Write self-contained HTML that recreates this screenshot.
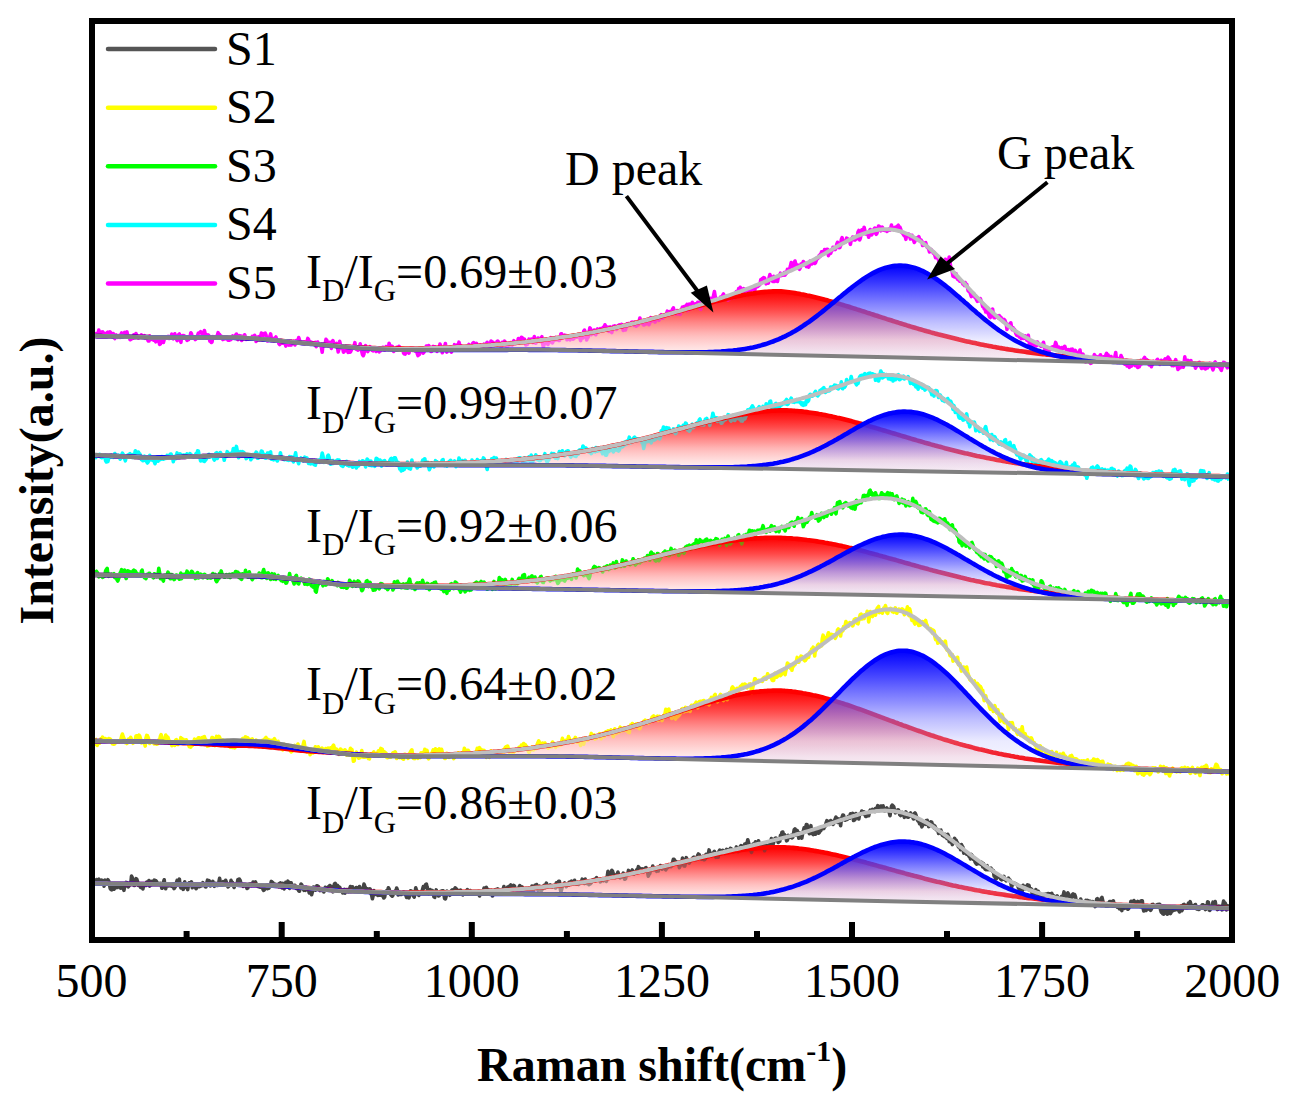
<!DOCTYPE html>
<html><head><meta charset="utf-8"><style>
html,body{margin:0;padding:0;background:#fff;width:1292px;height:1107px;overflow:hidden}
svg{position:absolute;left:0;top:0}
text{font-family:"Liberation Serif",serif;font-size:48px;fill:#000}
.sub{font-size:31px}
.b{font-weight:bold}
</style></head><body>
<svg width="1292" height="1107" viewBox="0 0 1292 1107">
<defs><linearGradient id="gr" x1="0" y1="0" x2="0" y2="1"><stop offset="0.000" stop-color="rgb(255,0,0)" stop-opacity="1.000"/><stop offset="0.062" stop-color="rgb(255,11,11)" stop-opacity="0.975"/><stop offset="0.125" stop-color="rgb(255,23,23)" stop-opacity="0.950"/><stop offset="0.188" stop-color="rgb(255,37,37)" stop-opacity="0.925"/><stop offset="0.250" stop-color="rgb(255,52,52)" stop-opacity="0.900"/><stop offset="0.312" stop-color="rgb(255,71,71)" stop-opacity="0.875"/><stop offset="0.375" stop-color="rgb(255,93,93)" stop-opacity="0.850"/><stop offset="0.438" stop-color="rgb(255,114,114)" stop-opacity="0.825"/><stop offset="0.500" stop-color="rgb(255,134,134)" stop-opacity="0.800"/><stop offset="0.562" stop-color="rgb(255,156,156)" stop-opacity="0.775"/><stop offset="0.625" stop-color="rgb(255,175,175)" stop-opacity="0.750"/><stop offset="0.688" stop-color="rgb(255,191,191)" stop-opacity="0.725"/><stop offset="0.750" stop-color="rgb(255,207,207)" stop-opacity="0.700"/><stop offset="0.812" stop-color="rgb(255,223,223)" stop-opacity="0.675"/><stop offset="0.875" stop-color="rgb(255,231,231)" stop-opacity="0.650"/><stop offset="0.938" stop-color="rgb(255,240,240)" stop-opacity="0.625"/><stop offset="1.000" stop-color="rgb(255,250,250)" stop-opacity="0.600"/></linearGradient><linearGradient id="gb" x1="0" y1="0" x2="0" y2="1"><stop offset="0.000" stop-color="rgb(0,0,255)" stop-opacity="1.000"/><stop offset="0.062" stop-color="rgb(14,14,255)" stop-opacity="0.973"/><stop offset="0.125" stop-color="rgb(26,26,255)" stop-opacity="0.933"/><stop offset="0.188" stop-color="rgb(38,38,255)" stop-opacity="0.887"/><stop offset="0.250" stop-color="rgb(50,50,255)" stop-opacity="0.835"/><stop offset="0.312" stop-color="rgb(63,63,255)" stop-opacity="0.780"/><stop offset="0.375" stop-color="rgb(77,77,255)" stop-opacity="0.721"/><stop offset="0.438" stop-color="rgb(91,91,255)" stop-opacity="0.659"/><stop offset="0.500" stop-color="rgb(109,109,255)" stop-opacity="0.594"/><stop offset="0.562" stop-color="rgb(128,128,255)" stop-opacity="0.527"/><stop offset="0.625" stop-color="rgb(143,143,255)" stop-opacity="0.457"/><stop offset="0.688" stop-color="rgb(163,163,255)" stop-opacity="0.386"/><stop offset="0.750" stop-color="rgb(191,191,255)" stop-opacity="0.312"/><stop offset="0.812" stop-color="rgb(188,188,255)" stop-opacity="0.237"/><stop offset="0.875" stop-color="rgb(183,183,255)" stop-opacity="0.159"/><stop offset="0.938" stop-color="rgb(165,165,255)" stop-opacity="0.080"/><stop offset="1.000" stop-color="rgb(255,255,255)" stop-opacity="0.000"/></linearGradient><linearGradient id="gro" x1="0" y1="0" x2="0" y2="1"><stop offset="0.000" stop-color="rgb(255,0,0)" stop-opacity="1.000"/><stop offset="0.062" stop-color="rgb(255,17,17)" stop-opacity="1.000"/><stop offset="0.125" stop-color="rgb(255,34,34)" stop-opacity="1.000"/><stop offset="0.188" stop-color="rgb(255,53,53)" stop-opacity="1.000"/><stop offset="0.250" stop-color="rgb(255,72,72)" stop-opacity="1.000"/><stop offset="0.312" stop-color="rgb(255,94,94)" stop-opacity="1.000"/><stop offset="0.375" stop-color="rgb(255,117,117)" stop-opacity="1.000"/><stop offset="0.438" stop-color="rgb(255,139,139)" stop-opacity="1.000"/><stop offset="0.500" stop-color="rgb(255,158,158)" stop-opacity="1.000"/><stop offset="0.562" stop-color="rgb(255,178,178)" stop-opacity="1.000"/><stop offset="0.625" stop-color="rgb(255,195,195)" stop-opacity="1.000"/><stop offset="0.688" stop-color="rgb(255,208,208)" stop-opacity="1.000"/><stop offset="0.750" stop-color="rgb(255,222,222)" stop-opacity="1.000"/><stop offset="0.812" stop-color="rgb(255,233,233)" stop-opacity="1.000"/><stop offset="0.875" stop-color="rgb(255,240,240)" stop-opacity="1.000"/><stop offset="0.938" stop-color="rgb(255,246,246)" stop-opacity="1.000"/><stop offset="1.000" stop-color="rgb(255,252,252)" stop-opacity="1.000"/></linearGradient>
<clipPath id="pc"><rect x="95" y="24" width="1134" height="913"/></clipPath></defs>
<g clip-path="url(#pc)">
<path d="M95,336l2 0.1 2 0 2 0 2 0.1 2 0 2 0 2 0.1 2 0 2 0.1 2 0 2 0.1 2 0 2 0.1 2 0 2 0.1 2 0 2 0.1 2 0 2 0 2 0.1 2 0 2 0.1 2 0 2 0 2 0.1 2 0 2 0 2 0.1 2 0 2 0 2 0.1 2 0 2 0 2 0 2 0 2 0 2 0 2 0 2 0.1 2 0 2 0 2 0 2 0 2 0 2 0 2 0 2 0 2 0 2 0 2 0 2 0 2 0 2 0 2 0 2 0 2 0 2 0 2 0 2 0 2 0.1 2 0 2 0 2 0 2 0 2 0.1 2 0 2 0.1 2 0 2 0.1 2 0 2 0.1 2 0.1 2 0 2 0.1 2 0.1 2 0.1 2 0.1 2 0.1 2 0.2 2 0.1 2 0.1 2 0.2 2 0.1 2 0.2 2 0.1 2 0.2 2 0.1 2 0.2 2 0.2 2 0.2 2 0.1 2 0.2 2 0.2 2 0.2 2 0.2 2 0.2 2 0.2 2 0.1 2 0.2 2 0.2 2 0.2 2 0.2 2 0.2 2 0.2 2 0.1 2 0.2 2 0.2 2 0.2 2 0.1 2 0.2 2 0.2 2 0.2 2 0.1 2 0.2 2 0.2 2 0.1 2 0.2 2 0.2 2 0.1 2 0.2 2 0.2 2 0.1 2 0.2 2 0.1 2 0.2 2 0.1 2 0.1 2 0.2 2 0.1 2 0.1 2 0.1 2 0.2 2 0.1 2 0.1 2 0.1 2 0.1 2 0.1 2 0.1 2 0 2 0.1 2 0.1 2 0 2 0.1 2 0.1 2 0 2 0 2 0.1 2 0 2 0 2 0.1 2 0 2 0 2 0 2 0 2 0 2 0 2 0 2 -0.1 2 0 2 0 2 0 2 -0.1 2 0 2 -0.1 2 0 2 -0.1 2 0 2 -0.1 2 -0.1 2 0 2 -0.1 2 -0.1 2 0 2 -0.1 2 -0.1 2 -0.1 2 0 2 -0.1 2 -0.1 2 -0.1 2 -0.1 2 -0.1 2 -0.1 2 -0.1 2 -0.1 2 -0.1 2 -0.1 2 -0.1 2 -0.1 2 -0.2 2 -0.1 2 -0.1 2 -0.1 2 -0.2 2 -0.1 2 -0.1 2 -0.2 2 -0.1 2 -0.2 2 -0.1 2 -0.2 2 -0.2 2 -0.1 2 -0.2 2 -0.2 2 -0.1 2 -0.2 2 -0.2 2 -0.2 2 -0.2 2 -0.2 2 -0.2 2 -0.2 2 -0.2 2 -0.2 2 -0.2 2 -0.3 2 -0.2 2 -0.2 2 -0.3 2 -0.2 2 -0.2 2 -0.3 2 -0.2 2 -0.3 2 -0.3 2 -0.2 2 -0.3 2 -0.3 2 -0.2 2 -0.3 2 -0.3 2 -0.3 2 -0.3 2 -0.3 2 -0.3 2 -0.3 2 -0.3 2 -0.3 2 -0.3 2 -0.3 2 -0.4 2 -0.3 2 -0.3 2 -0.4 2 -0.3 2 -0.4 2 -0.4 2 -0.3 2 -0.4 2 -0.4 2 -0.4 2 -0.4 2 -0.4 2 -0.4 2 -0.4 2 -0.4 2 -0.4 2 -0.4 2 -0.5 2 -0.4 2 -0.5 2 -0.4 2 -0.5 2 -0.4 2 -0.5 2 -0.5 2 -0.5 2 -0.4 2 -0.5 2 -0.5 2 -0.5 2 -0.5 2 -0.5 2 -0.5 2 -0.6 2 -0.5 2 -0.5 2 -0.5 2 -0.6 2 -0.5 2 -0.5 2 -0.6 2 -0.5 2 -0.6 2 -0.5 2 -0.6 2 -0.5 2 -0.6 2 -0.6 2 -0.5 2 -0.6 2 -0.5 2 -0.6 2 -0.6 2 -0.5 2 -0.6 2 -0.5 2 -0.6 2 -0.5 2 -0.6 2 -0.5 2 -0.6 2 -0.5 2 -0.6 2 -0.5 2 -0.6 2 -0.5 2 -0.5 2 -0.5 2 -0.5 2 -0.5 2 -0.5 2 -0.5 2 -0.5 2 -0.5 2 -0.4 2 -0.5 2 -0.4 2 -0.5 2 -0.4 2 -0.4 2 -0.4 2 -0.4 2 -0.4 2 -0.3 2 -0.4 2 -0.3 2 -0.3 2 -0.3 2 -0.3 2 -0.3 2 -0.2 2 -0.2 2 -0.2 2 -0.2 2 -0.1 2 -0.1 2 -0.1 2 -0.1 2 0 2 0 2 0.1 2 0.2 2 0.2 2 0.2 2 0.2 2 0.3 2 0.3 2 0.3 2 0.3 2 0.4 2 0.4 2 0.3 2 0.4 2 0.5 2 0.4 2 0.4 2 0.5 2 0.5 2 0.5 2 0.5 2 0.5 2 0.5 2 0.6 2 0.5 2 0.6 2 0.5 2 0.6 2 0.6 2 0.6 2 0.6 2 0.6 2 0.6 2 0.6 2 0.6 2 0.6 2 0.7 2 0.6 2 0.6 2 0.7 2 0.6 2 0.6 2 0.7 2 0.6 2 0.7 2 0.6 2 0.7 2 0.6 2 0.7 2 0.6 2 0.7 2 0.6 2 0.7 2 0.6 2 0.7 2 0.6 2 0.6 2 0.7 2 0.6 2 0.6 2 0.7 2 0.6 2 0.6 2 0.6 2 0.7 2 0.6 2 0.6 2 0.6 2 0.6 2 0.6 2 0.6 2 0.5 2 0.6 2 0.6 2 0.6 2 0.5 2 0.6 2 0.5 2 0.6 2 0.5 2 0.6 2 0.5 2 0.5 2 0.5 2 0.5 2 0.5 2 0.5 2 0.5 2 0.5 2 0.5 2 0.5 2 0.4 2 0.5 2 0.5 2 0.4 2 0.4 2 0.5 2 0.4 2 0.4 2 0.5 2 0.4 2 0.4 2 0.4 2 0.4 2 0.4 2 0.3 2 0.4 2 0.4 2 0.3 2 0.4 2 0.4 2 0.3 2 0.3 2 0.4 2 0.3 2 0.3 2 0.3 2 0.4 2 0.3 2 0.3 2 0.3 2 0.2 2 0.3 2 0.3 2 0.3 2 0.3 2 0.2 2 0.3 2 0.2 2 0.3 2 0.2 2 0.3 2 0.2 2 0.2 2 0.3 2 0.2 2 0.2 2 0.2 2 0.2 2 0.3 2 0.2 2 0.2 2 0.1 2 0.2 2 0.2 2 0.2 2 0.2 2 0.2 2 0.1 2 0.2 2 0.2 2 0.1 2 0.2 2 0.2 2 0.1 2 0.2 2 0.1 2 0.2 2 0.1 2 0.1 2 0.2 2 0.1 2 0.2 2 0.1 2 0.1 2 0.1 2 0.2 2 0.1 2 0.1 2 0.1 2 0.1 2 0.1 2 0.1 2 0.2 2 0.1 2 0.1 2 0.1 2 0.1 2 0.1 2 0.1 2 0.1 2 0.1 2 0.1 2 0 2 0.1 2 0.1 2 0.1 2 0.1 2 0.1 2 0.1 2 0 2 0.1 2 0.1 2 0.1 2 0.1 2 0 2 0.1 2 0.1 2 0.1 2 0 2 0.1 2 0.1 2 0 2 0.1 2 0.1 2 0 2 0.1 2 0.1 2 0 2 0.1 2 0.1 2 0 2 0.1 2 0.1 2 0 2 0.1 2 0 2 0.1 2 0 2 0.1 2 0.1 2 0 2 0.1 2 0 2 0.1 2 0 L1229,364.9 1223,364.8 1217,364.6 1211,364.5 1205,364.4 1199,364.2 1193,364.1 1187,364 1181,363.8 1175,363.7 1169,363.6 1163,363.4 1157,363.3 1151,363.2 1145,363 1139,362.9 1133,362.8 1127,362.6 1121,362.5 1115,362.3 1109,362.2 1103,362.1 1097,361.9 1091,361.8 1085,361.7 1079,361.5 1073,361.4 1067,361.3 1061,361.1 1055,361 1049,360.9 1043,360.7 1037,360.6 1031,360.5 1025,360.3 1019,360.2 1013,360.1 1007,359.9 1001,359.8 995,359.7 989,359.5 983,359.4 977,359.3 971,359.1 965,359 959,358.9 953,358.7 947,358.6 941,358.5 935,358.3 929,358.2 923,358.1 917,357.9 911,357.8 905,357.7 899,357.5 893,357.4 887,357.2 881,357.1 875,357 869,356.8 863,356.7 857,356.6 851,356.4 845,356.3 839,356.2 833,356 827,355.9 821,355.8 815,355.6 809,355.5 803,355.4 797,355.2 791,355.1 785,355 779,354.8 773,354.7 767,354.6 761,354.4 755,354.3 749,354.2 743,354 737,353.9 731,353.8 725,353.6 719,353.5 713,353.4 707,353.2 701,353.1 695,352.9 689,352.8 683,352.7 677,352.5 671,352.4 665,352.3 659,352.1 653,352 647,351.9 641,351.7 635,351.6 629,351.5 623,351.3 617,351.2 611,351.1 605,350.9 599,350.8 593,350.7 587,350.5 581,350.4 575,350.3 569,350.2 563,350.1 557,350 551,350 545,349.9 539,349.9 533,349.9 527,349.8 521,349.8 515,349.8 509,349.8 503,349.9 497,349.9 491,349.9 485,349.9 479,349.9 473,349.9 467,349.9 461,349.9 455,349.9 449,349.9 443,349.9 437,349.9 431,349.9 425,349.9 419,349.9 413,349.8 407,349.8 401,349.7 395,349.5 389,349.3 383,349.1 377,348.9 371,348.6 365,348.2 359,347.8 353,347.4 347,347 341,346.5 335,346 329,345.5 323,344.9 317,344.4 311,343.9 305,343.3 299,342.7 293,342.2 287,341.6 281,341 275,340.5 269,339.9 263,339.4 257,339 251,338.6 245,338.3 239,338 233,337.8 227,337.6 221,337.5 215,337.5 209,337.4 203,337.4 197,337.4 191,337.4 185,337.4 179,337.4 173,337.4 167,337.3 161,337.3 155,337.2 149,337.2 143,337.1 137,336.9 131,336.8 125,336.7 119,336.5 113,336.4 107,336.2 101,336.1 95,336Z" fill="url(#gr)"/>
<path d="M95,334l0.8 -0.3 0.7 1.3 0.8 -0.9 0.7 -0.4 0.8 -3.6 0.8 4.6 0.7 -1.5 0.8 0.3 0.7 -1.4 0.8 -0.2 0.8 2.1 0.7 1 0.8 -1.5 0.7 0.5 0.8 1.4 0.8 -2.7 0.7 -0.6 0.8 3.4 0.7 -1.4 0.8 -2.2 0.8 2.1 0.7 1.1 0.8 -1.4 0.7 -0.2 0.8 3.3 0.8 1.8 0.7 -2.3 0.8 -1.3 0.7 2 0.8 0.4 0.8 -1.7 0.7 1.2 0.8 0.5 0.7 -2.9 0.8 -1.5 0.8 1.9 0.7 0.8 0.8 0.6 0.7 -3.9 0.8 0.2 0.8 -0.1 0.7 -0.7 0.8 3.9 0.7 1.5 0.8 -1.1 0.8 3.6 0.7 -0.1 0.8 -0.8 0.7 -0.3 0.8 -0.2 0.8 -3.5 0.7 2.7 0.8 -0.3 0.7 -3.7 0.8 2.8 0.8 0.4 0.7 1.2 0.8 -1.8 0.7 0.4 0.8 0.1 0.8 -1.7 0.7 1.9 0.8 -0.6 0.7 0.3 0.8 -0.9 0.8 2.7 0.7 -0.3 0.8 -1.2 0.7 1.9 0.8 2.3 0.8 0 0.7 -5.2 0.8 3.3 0.7 0.2 0.8 -1.6 0.8 -0.8 0.7 3.2 0.8 -2.8 0.7 3.2 0.8 1.3 0.8 -4.7 0.7 0.9 0.8 -0.5 0.7 3.4 0.8 3.5 0.8 -0.4 0.7 -7.3 0.8 0.9 0.7 3.3 0.8 1.5 0.8 -2.8 0.7 -2.7 0.8 1.3 0.7 -0.3 0.8 -0.8 0.8 -0.6 0.7 1.9 0.8 0.1 0.7 -1 0.8 -1.2 0.8 -2.1 0.7 1.7 0.8 2.9 0.7 -2.9 0.8 -2.1 0.8 4.5 0.7 0.5 0.8 1.8 0.7 -3.5 0.8 -2.5 0.8 -0.6 0.7 5.9 0.8 2.4 0.7 -6.1 0.8 -0.6 0.8 2 0.7 -1.9 0.8 0.6 0.7 0.6 0.8 1.7 0.8 1.7 0.7 -1.2 0.8 0.6 0.7 -2 0.8 -0.5 0.8 -4.5 0.7 1.1 0.8 4 0.7 -1.3 0.8 1.4 0.8 0.6 0.7 1.1 0.8 -0.9 0.7 -0.7 0.8 -2.7 0.8 -2.1 0.7 -0.5 0.8 0 0.7 -1 0.8 1 0.8 1.4 0.7 0.6 0.8 -1.7 0.7 -2.5 0.8 3.4 0.8 2.3 0.7 2 0.8 -0.9 0.7 -2.4 0.8 1 0.8 5.2 0.7 -0.4 0.8 1.8 0.7 -0.5 0.8 -5.5 0.8 0.7 0.7 0.5 0.8 -0.1 0.7 -0.3 0.8 -0.9 0.8 -1.1 0.7 -2.6 0.8 1.7 0.7 0.2 0.8 1.4 0.8 0.1 0.7 2.4 0.8 1 0.7 -0.5 0.8 0 0.8 -0.3 0.7 -0.7 0.8 0.5 0.7 0.1 0.8 1.6 0.8 0 0.7 -0.1 0.8 -2.8 0.7 2.3 0.8 -2.7 0.8 -0.9 0.7 0.5 0.8 -0.4 0.7 0.9 0.8 -1.7 0.8 -1.2 0.7 1.5 0.8 4.1 0.7 -1.8 0.8 -2.3 0.8 1.2 0.7 -0.8 0.8 4.4 0.7 -4.2 0.8 2.2 0.8 -0.2 0.7 -3.4 0.8 2.7 0.7 1.9 0.8 -0.9 0.8 -0.4 0.7 1 0.8 -1 0.7 -0.1 0.8 -0.4 0.8 0.7 0.7 -1.9 0.8 2.1 0.7 -2.1 0.8 -1.1 0.8 3.2 0.7 3 0.8 -1.6 0.7 -2.8 0.8 1.1 0.8 -1.5 0.7 0.3 0.8 -0.5 0.7 -3.5 0.8 3.4 0.8 -1.1 0.7 -0.4 0.8 -1.5 0.7 -0.3 0.8 1.9 0.8 4.3 0.7 1.7 0.8 -2.4 0.7 0.9 0.8 -2.9 0.8 -2.7 0.7 3.9 0.8 1.6 0.7 -0.9 0.8 1.7 0.8 0.6 0.7 -2.7 0.8 -1.1 0.7 2.5 0.8 0.8 0.8 0.4 0.7 3 0.8 1 0.7 -3.6 0.8 1.3 0.8 0.9 0.7 -0.2 0.8 -0.1 0.7 -2 0.8 2.3 0.8 2.8 0.7 -2.4 0.8 -2.7 0.7 2.4 0.8 1.7 0.8 -1.6 0.7 -1.1 0.8 2.7 0.7 -3.7 0.8 2 0.8 -0.7 0.7 -1.6 0.8 3.8 0.7 -1.5 0.8 -2.8 0.8 2.2 0.7 -2.2 0.8 -3 0.7 2.1 0.8 2.7 0.8 1 0.7 -0.9 0.8 -0.3 0.7 0.3 0.8 -0.6 0.8 1.8 0.7 -1.6 0.8 -0.3 0.7 -0.4 0.8 -3 0.8 1.2 0.7 4.5 0.8 -1.1 0.7 -1 0.8 1.2 0.8 -0.5 0.7 1.2 0.8 -0.7 0.7 0.8 0.8 -1.6 0.8 4.3 0.7 -2.5 0.8 -2.2 0.7 2.4 0.8 0.8 0.8 0.4 0.7 -1.7 0.8 3.9 0.7 4.5 0.8 -8 0.8 0.1 0.7 -0.7 0.8 -0.7 0.7 -3.7 0.8 1 0.8 3.2 0.7 0.5 0.8 1.9 0.7 -3.6 0.8 2 0.8 4.1 0.7 -6.2 0.8 -1.5 0.7 1.9 0.8 1.1 0.8 1.9 0.7 -1.1 0.8 -1.1 0.7 3.2 0.8 5.3 0.8 -3.2 0.7 -7.3 0.8 3.4 0.7 0.8 0.8 2.6 0.8 0.4 0.7 3.6 0.8 -0.8 0.7 -0.8 0.8 -1.3 0.8 -0.4 0.7 1.4 0.8 2.1 0.7 -1.4 0.8 -1.2 0.8 2.3 0.7 -1.6 0.8 -1.6 0.7 -1.7 0.8 -0.3 0.8 -1.4 0.7 -2.8 0.8 6.2 0.7 0.5 0.8 -1.2 0.8 1.9 0.7 -0.5 0.8 -1.5 0.7 -4.3 0.8 4 0.8 3.7 0.7 3.1 0.8 1.1 0.7 -1.9 0.8 -6 0.8 -2.2 0.7 4.6 0.8 0.5 0.7 0.9 0.8 -1.7 0.8 -0.8 0.7 -2.4 0.8 2.8 0.7 -0.4 0.8 1.4 0.8 0.4 0.7 -0.9 0.8 0.4 0.7 -0.2 0.8 1.2 0.8 -0.9 0.7 -2.6 0.8 0.3 0.7 3.7 0.8 -2.2 0.8 1 0.7 -1.1 0.8 -2.1 0.7 -0.2 0.8 2 0.8 1 0.7 -0.2 0.8 -3.5 0.7 0.3 0.8 1.6 0.8 1.2 0.7 -6.4 0.8 2.8 0.7 -0.2 0.8 1.1 0.8 -0.7 0.7 2.3 0.8 2.8 0.7 -1.5 0.8 -0.2 0.8 -0.6 0.7 -1.7 0.8 1.5 0.7 -1.3 0.8 -1.3 0.8 1.3 0.7 0.6 0.8 1.9 0.7 -1 0.8 0 0.8 4.1 0.7 0.6 0.8 0.3 0.7 -1.4 0.8 -1.8 0.8 -0.8 0.7 0.8 0.8 2.2 0.7 -1.9 0.8 -2.9 0.8 1.4 0.7 -1.3 0.8 1.9 0.7 -2 0.8 -0.1 0.8 2.7 0.7 -0.4 0.8 -2.1 0.7 4.9 0.8 2.3 0.8 -5 0.7 3.7 0.8 -3.4 0.7 -0.7 0.8 -0.1 0.8 -1.2 0.7 4.2 0.8 -1.2 0.7 -3.2 0.8 -0.7 0.8 -2 0.7 2.1 0.8 1.6 0.7 -4.2 0.8 1.4 0.8 2.3 0.7 2.2 0.8 0 0.7 -3.9 0.8 -1.1 0.8 1.7 0.7 -1.3 0.8 0.3 0.7 3 0.8 1.3 0.8 -2.8 0.7 -1.2 0.8 0.2 0.7 -3.5 0.8 2.2 0.8 0.6 0.7 5.8 0.8 -1.9 0.7 -2.1 0.8 -2.1 0.8 -3.1 0.7 6.1 0.8 2.5 0.7 -3.4 0.8 1.8 0.8 -0.2 0.7 -3.4 0.8 4 0.7 1.3 0.8 -2.5 0.8 -1.1 0.7 0 0.8 -3.9 0.7 2.3 0.8 1.3 0.8 -3.2 0.7 2.6 0.8 -2.6 0.7 -2.9 0.8 3 0.8 0.2 0.7 1.9 0.8 -1 0.7 3.2 0.8 -1.9 0.8 0.8 0.7 -1.4 0.8 0.5 0.7 2.4 0.8 -1.9 0.8 -2.5 0.7 -1.1 0.8 4.1 0.7 -0.4 0.8 -2.2 0.8 -0.1 0.7 -2.5 0.8 -0.7 0.7 0.7 0.8 2.1 0.8 -0.4 0.7 -1.6 0.8 2.4 0.7 0.6 0.8 -0.6 0.8 1.1 0.7 -1.9 0.8 0.3 0.7 1.3 0.8 -0.3 0.8 0.4 0.7 -2.5 0.8 3.1 0.7 -3 0.8 -0.7 0.8 -1.3 0.7 3.7 0.8 2.1 0.7 -0.3 0.8 -1.9 0.8 -4.8 0.7 0.4 0.8 0.7 0.7 0.1 0.8 3.4 0.8 -1.1 0.7 -0.7 0.8 0.2 0.7 -2.6 0.8 -0.5 0.8 1 0.7 3 0.8 0.8 0.7 0.8 0.8 -0.1 0.8 -4.3 0.7 0.6 0.8 0.9 0.7 -2.5 0.8 1.5 0.8 3.4 0.7 0.8 0.8 -0.7 0.7 -2.4 0.8 -0.6 0.8 1.6 0.7 -2.1 0.8 1.1 0.7 1.3 0.8 -3.2 0.8 -1.2 0.7 1.4 0.8 1.5 0.7 -0.1 0.8 -0.5 0.8 -0.5 0.7 -3.9 0.8 0.7 0.7 1.7 0.8 -2.1 0.8 -1.5 0.7 0.1 0.8 1 0.7 1.3 0.8 -0.6 0.8 3 0.7 2.8 0.8 -2.2 0.7 1.5 0.8 -2.1 0.8 -3 0.7 0.5 0.8 -0.4 0.7 2 0.8 -2.1 0.8 3.5 0.7 -1.8 0.8 -4.4 0.7 4.8 0.8 1.9 0.8 -3.2 0.7 1.3 0.8 -3.3 0.7 2.2 0.8 -1.3 0.8 2.6 0.7 -3.7 0.8 -1.1 0.7 6.7 0.8 3.9 0.8 -4.3 0.7 0.9 0.8 -1.3 0.7 -1 0.8 2 0.8 0.8 0.7 -4.8 0.8 1.6 0.7 -0.9 0.8 -2.6 0.8 4.9 0.7 0.3 0.8 -4.9 0.7 2.7 0.8 -2.6 0.8 -0.7 0.7 2.4 0.8 -1.9 0.7 0.1 0.8 2.4 0.8 0.1 0.7 -2 0.8 -4.8 0.7 0 0.8 4.6 0.8 -2.2 0.7 0.6 0.8 -1.5 0.7 0.7 0.8 -0.3 0.8 4.2 0.7 -3.4 0.8 0.6 0.7 1.2 0.8 1.6 0.8 -3.9 0.7 1.4 0.8 0.6 0.7 1.2 0.8 -0.4 0.8 -1.9 0.7 0.3 0.8 -0.8 0.7 0.8 0.8 -1.2 0.8 -1.2 0.7 1.1 0.8 2.1 0.7 2.7 0.8 -4.3 0.8 0.7 0.7 0.8 0.8 -6.6 0.7 -1.1 0.8 1.7 0.8 3.6 0.7 4.6 0.8 -2.6 0.7 -0.2 0.8 -3.9 0.8 -5.4 0.7 0.6 0.8 6.1 0.7 -1.1 0.8 -2.7 0.8 2.5 0.7 -3.2 0.8 3.9 0.7 0.7 0.8 -4.7 0.8 -1 0.7 2.7 0.8 -2.2 0.7 1.8 0.8 -2.6 0.8 2.4 0.7 -1.1 0.8 -1.9 0.7 -1 0.8 0.8 0.8 -3.1 0.7 2.1 0.8 1 0.7 1.2 0.8 -1.9 0.8 4.2 0.7 -3 0.8 -1.4 0.7 4.8 0.8 0.8 0.8 -4.1 0.7 -2.2 0.8 0.7 0.7 -1.2 0.8 0.8 0.8 2.9 0.7 -2.2 0.8 -1.5 0.7 -0.4 0.8 -0.5 0.8 1.5 0.7 0 0.8 -2 0.7 1.8 0.8 4.3 0.8 -2.9 0.7 -0.9 0.8 3.3 0.7 -3.6 0.8 -2.6 0.8 2.1 0.7 -2.4 0.8 0.1 0.7 1.4 0.8 -1.1 0.8 -1.7 0.7 -0.1 0.8 0.8 0.7 2.4 0.8 -3.1 0.8 0.4 0.7 3.7 0.8 -3.4 0.7 2.3 0.8 -0.5 0.8 -4.1 0.7 -2.6 0.8 3.3 0.7 1.7 0.8 0.6 0.8 -0.9 0.7 2.2 0.8 -0.2 0.7 -3.7 0.8 3 0.8 -2 0.7 -2.3 0.8 1 0.7 4 0.8 -2.1 0.8 -5 0.7 2.6 0.8 0.7 0.7 -0.1 0.8 -1 0.8 -0.9 0.7 3.2 0.8 -2.6 0.7 -0.3 0.8 -0.8 0.8 -0.3 0.7 2.2 0.8 -1.2 0.7 -3 0.8 -1.4 0.8 1.1 0.7 2.4 0.8 -1.3 0.7 -0.9 0.8 -1.4 0.8 -0.3 0.7 -0.4 0.8 -2.7 0.7 4.2 0.8 -3.5 0.8 -0.3 0.7 2.9 0.8 -1.7 0.7 -1.6 0.8 -2 0.8 -1.4 0.7 3.7 0.8 2.1 0.7 -2.3 0.8 2.7 0.8 -3.4 0.7 0.6 0.8 2.7 0.7 0.1 0.8 0.3 0.8 -3 0.7 -2.2 0.8 -2.1 0.7 0.2 0.8 -0.4 0.8 -0.5 0.7 2.1 0.8 -2.5 0.7 -1.5 0.8 6.3 0.8 -5.1 0.7 -1.4 0.8 4.7 0.7 -0.1 0.8 -4.9 0.8 -1.6 0.7 1.8 0.8 3.7 0.7 -2.3 0.8 -1.6 0.8 1.6 0.7 1.3 0.8 -4.4 0.7 0 0.8 0 0.8 6.5 0.7 0.5 0.8 -2.6 0.7 -2.2 0.8 -0.3 0.8 -4.1 0.7 2.7 0.8 -2.3 0.7 -0.7 0.8 1.1 0.8 0.9 0.7 1.5 0.8 -0.3 0.7 -2.2 0.8 -2.6 0.8 1.7 0.7 -0.7 0.8 0.8 0.7 -4.8 0.8 -3.8 0.8 5.1 0.7 5.8 0.8 -2.3 0.7 -1.5 0.8 1.8 0.8 -0.3 0.7 -0.9 0.8 -2 0.7 0.4 0.8 -0.2 0.8 -2.3 0.7 -1.1 0.8 2.4 0.7 1.8 0.8 -0.6 0.8 -0.8 0.7 0.6 0.8 2.8 0.7 -3.6 0.8 0.6 0.8 1.2 0.7 -3.4 0.8 -0.1 0.7 2.1 0.8 1 0.8 -2.5 0.7 -0.8 0.8 -1.4 0.7 -1.8 0.8 3 0.8 -2.7 0.7 -3.3 0.8 1.3 0.7 -2.5 0.8 1 0.8 1.8 0.7 -0.5 0.8 2.3 0.7 -3.2 0.8 2.5 0.8 2.1 0.7 1.8 0.8 -1 0.7 -1.9 0.8 -1 0.8 -0.1 0.7 1.1 0.8 -3 0.7 0.7 0.8 -1 0.8 -0.4 0.7 -0.2 0.8 2.8 0.7 -4.6 0.8 0 0.8 0.1 0.7 0 0.8 -0.8 0.7 -0.6 0.8 -0.9 0.8 -4.7 0.7 0.6 0.8 -1.6 0.7 1.3 0.8 -2.2 0.8 0.2 0.7 2.8 0.8 3.1 0.7 -1 0.8 -0.4 0.8 0.7 0.7 -5.3 0.8 -3.2 0.7 2.3 0.8 1.2 0.8 2.9 0.7 0.4 0.8 -5.2 0.7 5.3 0.8 -0.5 0.8 -2.2 0.7 -0.3 0.8 2.9 0.7 -4 0.8 -2.1 0.8 0 0.7 -2.1 0.8 2.4 0.7 -0.5 0.8 0.2 0.8 -0.8 0.7 -2 0.8 2.6 0.7 -3 0.8 1 0.8 -3.7 0.7 1.4 0.8 -1.8 0.7 0 0.8 -2.7 0.8 -3.7 0.7 1.4 0.8 2.8 0.7 0.4 0.8 -4.4 0.8 -1.8 0.7 2.7 0.8 1.9 0.7 -0.6 0.8 0.3 0.8 3.3 0.7 0.7 0.8 -1.6 0.7 -3.6 0.8 0.5 0.8 -1.2 0.7 -1.9 0.8 3.3 0.7 -0.9 0.8 -0.6 0.8 3.3 0.7 -0.2 0.8 0.2 0.7 0.6 0.8 -1.9 0.8 -4.2 0.7 1.1 0.8 1.8 0.7 -3.2 0.8 0.3 0.8 0.9 0.7 1.5 0.8 -0.7 0.7 -2.2 0.8 -2.6 0.8 0.6 0.7 -1.6 0.8 -1.7 0.7 1.4 0.8 -2.4 0.8 -2.5 0.7 2.4 0.8 -1.7 0.7 0 0.8 -3 0.8 1.7 0.7 -1 0.8 -1 0.7 0 0.8 6.4 0.8 -2.8 0.7 -0.3 0.8 0.8 0.7 -2.2 0.8 -0.7 0.8 -3.1 0.7 1.5 0.8 -0.4 0.7 1.1 0.8 -1.4 0.8 -4 0.7 -1.8 0.8 2 0.7 3.4 0.8 -0.2 0.8 -2 0.7 -5.8 0.8 -2.1 0.7 3.4 0.8 1 0.8 -0.6 0.7 1 0.8 -1.6 0.7 -2.6 0.8 0.2 0.8 2 0.7 0 0.8 0.7 0.7 3.2 0.8 -4 0.8 -1.3 0.7 -2 0.8 1 0.7 2 0.8 0 0.8 -1.4 0.7 0.3 0.8 -1.7 0.7 -5.2 0.8 -1.5 0.8 9.4 0.7 -1.4 0.8 -4.1 0.7 -4.5 0.8 0.7 0.8 2.9 0.7 -6.3 0.8 3.4 0.7 3.3 0.8 -0.4 0.8 0.6 0.7 0 0.8 3.1 0.7 -5.9 0.8 -1.8 0.8 3.4 0.7 2 0.8 -2.3 0.7 0.2 0.8 -3.5 0.8 -1.2 0.7 4.8 0.8 1.4 0.7 -1.1 0.8 -4.6 0.8 -2.5 0.7 0.1 0.8 2.4 0.7 2.2 0.8 -0.5 0.8 -3.1 0.7 2.5 0.8 0.6 0.7 0.1 0.8 -0.2 0.8 -0.1 0.7 1.3 0.8 -0.6 0.7 -0.6 0.8 -1.4 0.8 1.3 0.7 -1.8 0.8 -3.3 0.7 3.5 0.8 0 0.8 1.1 0.7 -1.9 0.8 -0.5 0.7 0.5 0.8 -0.4 0.8 -1.4 0.7 -0.7 0.8 5.6 0.7 -3.9 0.8 2 0.8 3.1 0.7 0.7 0.8 0.9 0.7 1.2 0.8 1.2 0.8 0 0.7 3.3 0.8 -5.6 0.7 0.7 0.8 -0.3 0.8 0.2 0.7 2.6 0.8 2.1 0.7 -3.5 0.8 -0.1 0.8 3.2 0.7 1.3 0.8 2.6 0.7 -1.4 0.8 -2.2 0.8 -1 0.7 1 0.8 -0.7 0.7 -1.6 0.8 2.6 0.8 0.7 0.7 0.2 0.8 1.1 0.7 4.3 0.8 -0.2 0.8 0 0.7 -2.4 0.8 -0.3 0.7 2.6 0.8 2.2 0.8 0.2 0.7 1.5 0.8 2.9 0.7 -0.6 0.8 -2 0.8 1.1 0.7 1 0.8 1.7 0.7 -1 0.8 2.7 0.8 2.8 0.7 -0.4 0.8 -1.2 0.7 1.4 0.8 2.7 0.8 2.1 0.7 0.9 0.8 -2 0.7 -1.4 0.8 4.5 0.8 -1 0.7 -0.5 0.8 -1 0.7 -2.5 0.8 1.2 0.8 2.2 0.7 1.8 0.8 -2.6 0.7 -4.8 0.8 5.6 0.8 4.3 0.7 3.3 0.8 1.7 0.7 4.3 0.8 0.1 0.8 0.6 0.7 -0.7 0.8 -2.6 0.7 4.3 0.8 1.1 0.8 -1 0.7 2.5 0.8 0.6 0.7 -0.9 0.8 1.1 0.8 1 0.7 1.5 0.8 0.2 0.7 1.4 0.8 -2.9 0.8 2.3 0.7 -0.5 0.8 3.3 0.7 3.3 0.8 0.4 0.8 0.5 0.7 2 0.8 2.7 0.7 -2.9 0.8 2.3 0.8 -2.6 0.7 2.1 0.8 2.1 0.7 -0.4 0.8 2.7 0.8 1.4 0.7 -2.4 0.8 1.9 0.7 -0.2 0.8 -1.9 0.8 3 0.7 1.3 0.8 3.6 0.7 -1.4 0.8 3.8 0.8 -1.2 0.7 4.1 0.8 -0.7 0.7 0.2 0.8 1.7 0.8 1.6 0.7 2.1 0.8 0.7 0.7 -3.8 0.8 -2.9 0.8 -1.7 0.7 5 0.8 3.7 0.7 0 0.8 -0.7 0.8 -0.9 0.7 -0.3 0.8 1.3 0.7 0.9 0.8 -2.4 0.8 3.4 0.7 -2 0.8 1.9 0.7 0.4 0.8 0.6 0.8 -0.6 0.7 0.6 0.8 2.1 0.7 1.2 0.8 6.1 0.8 -3.5 0.7 -1.2 0.8 0.4 0.7 -1 0.8 -1.3 0.8 4.8 0.7 2 0.8 -1.9 0.7 2.2 0.8 -0.4 0.8 2.7 0.7 2.1 0.8 1.1 0.7 0 0.8 -1 0.8 2.5 0.7 -1 0.8 1.7 0.7 1 0.8 -1.9 0.8 -1.2 0.7 2.9 0.8 -2.2 0.7 -0.3 0.8 0.8 0.8 3.5 0.7 -1.9 0.8 -3 0.7 6.1 0.8 4.6 0.8 -0.5 0.7 -4 0.8 1 0.7 2 0.8 1.1 0.8 -1.6 0.7 -1.5 0.8 3.4 0.7 -0.2 0.8 -3.6 0.8 1.2 0.7 1.5 0.8 -0.1 0.7 1 0.8 0.7 0.8 -0.6 0.7 -1.9 0.8 -1.5 0.7 4.2 0.8 3.3 0.8 1 0.7 -3.4 0.8 0.2 0.7 3.5 0.8 0.5 0.8 -1.7 0.7 -0.3 0.8 -2.1 0.7 1.2 0.8 -2 0.8 0.5 0.7 -0.1 0.8 -1.8 0.7 -3 0.8 2.3 0.8 2.9 0.7 -0.2 0.8 -0.3 0.7 2 0.8 1.3 0.8 -0.1 0.7 -2.6 0.8 1 0.7 -0.4 0.8 -1.4 0.8 -0.6 0.7 2.3 0.8 0.8 0.7 4.8 0.8 -3.1 0.8 -1.4 0.7 0.7 0.8 3.2 0.7 -4.2 0.8 0.1 0.8 -0.3 0.7 1.4 0.8 1.5 0.7 1.6 0.8 -3.3 0.8 2.9 0.7 3.5 0.8 -2.8 0.7 -0.2 0.8 -1.7 0.8 -2.1 0.7 5.4 0.8 3.6 0.7 -2.8 0.8 -2.1 0.8 4.1 0.7 1.6 0.8 2.1 0.7 0 0.8 -1.9 0.8 -0.1 0.7 -2.5 0.8 4.5 0.7 0.1 0.8 1.4 0.8 -0.3 0.7 -2.9 0.8 -1 0.7 -2.4 0.8 -2.1 0.8 3.1 0.7 0.6 0.8 -1.7 0.7 2.5 0.8 -0.2 0.8 -0.2 0.7 -2.7 0.8 -1.3 0.7 4.6 0.8 0.5 0.8 -1.9 0.7 -1.2 0.8 -0.1 0.7 0 0.8 -1.6 0.8 -1.8 0.7 4 0.8 -2.3 0.7 1.6 0.8 1.3 0.8 0.5 0.7 -1.9 0.8 4.7 0.7 0.4 0.8 0.2 0.8 0 0.7 -5.2 0.8 -4.1 0.7 6.4 0.8 3.7 0.8 -0.6 0.7 -3.3 0.8 0.3 0.7 0 0.8 -3.4 0.8 1.6 0.7 2 0.8 3.8 0.7 -1.9 0.8 3.1 0.8 -2.4 0.7 -1.9 0.8 6 0.7 -3.3 0.8 2.6 0.8 2.2 0.7 -4.1 0.8 -1.2 0.7 4 0.8 -1.4 0.8 -3.1 0.7 -0.1 0.8 2 0.7 2.2 0.8 -1.7 0.8 1.5 0.7 2 0.8 -0.5 0.7 -0.2 0.8 -2 0.8 -4.6 0.7 3.8 0.8 -0.8 0.7 -1.9 0.8 -2.6 0.8 -1.2 0.7 1.4 0.8 2.1 0.7 -1.3 0.8 0.8 0.8 1.7 0.7 2.6 0.8 -0.9 0.7 0.6 0.8 2.2 0.8 -2.4 0.7 -0.2 0.8 -2.7 0.7 1.4 0.8 -0.1 0.8 -0.6 0.7 -1.7 0.8 -1.1 0.7 1.2 0.8 0.9 0.8 3 0.7 -0.6 0.8 -3.5 0.7 2.1 0.8 -1 0.8 0.8 0.7 -2 0.8 -1.3 0.7 4.3 0.8 -0.7 0.8 -3.9 0.7 -1.5 0.8 2.3 0.7 -0.2 0.8 2 0.8 2.9 0.7 1.4 0.8 -2.4 0.7 2.6 0.8 -0.4 0.8 -3.8 0.7 -1.9 0.8 4.7 0.7 1.9 0.8 3.3 0.8 -1 0.7 -1.1 0.8 0.3 0.7 -4.5 0.8 0.8 0.8 0.4 0.7 2.8 0.8 -3.8 0.7 -6.5 0.8 5.5 0.8 -2 0.7 1.4 0.8 -1.5 0.7 1.1 0.8 1.2 0.8 -1 0.7 -1 0.8 4.2 0.7 -0.6 0.8 -0.5 0.8 1.2 0.7 -0.6 0.8 3.9 0.7 -1.8 0.8 -0.4 0.8 -0.5 0.7 -2.7 0.8 -0.4 0.7 2.8 0.8 1.6 0.8 1.7 0.7 -2 0.8 -2.7 0.7 2.9 0.8 1.8 0.8 0.4 0.7 -1.9 0.8 -2.2 0.7 3.1 0.8 -2.1 0.8 0.4 0.7 -2.8 0.8 2.6 0.7 -1.3 0.8 3.2 0.8 1.9 0.7 -2.1 0.8 -5 0.7 -0.7 0.8 1 0.8 3.1 0.7 0.2 0.8 -0.3 0.7 0.6 0.8 1 0.8 1.2 0.7 1.6 0.8 -2.8 0.7 -1.3 0.8 -3.9 0.8 0.2 0.7 1.1 0.8 -0.2 0.7 2.9 0.8 1.4 0.8 -2.8 0.7 -1" fill="none" stroke="#ff00ff" stroke-width="3.6" stroke-linejoin="round"/>
<path d="M95,336l2 0.1 2 0 2 0 2 0.1 2 0 2 0 2 0.1 2 0 2 0.1 2 0 2 0.1 2 0 2 0.1 2 0 2 0.1 2 0 2 0.1 2 0 2 0 2 0.1 2 0 2 0.1 2 0 2 0 2 0.1 2 0 2 0 2 0.1 2 0 2 0 2 0.1 2 0 2 0 2 0 2 0 2 0 2 0 2 0 2 0.1 2 0 2 0 2 0 2 0 2 0 2 0 2 0 2 0 2 0 2 0 2 0 2 0 2 0 2 0 2 0 2 0 2 0 2 0 2 0 2 0 2 0.1 2 0 2 0 2 0 2 0 2 0.1 2 0 2 0.1 2 0 2 0.1 2 0 2 0.1 2 0.1 2 0 2 0.1 2 0.1 2 0.1 2 0.1 2 0.1 2 0.2 2 0.1 2 0.1 2 0.2 2 0.1 2 0.2 2 0.1 2 0.2 2 0.1 2 0.2 2 0.2 2 0.2 2 0.1 2 0.2 2 0.2 2 0.2 2 0.2 2 0.2 2 0.2 2 0.1 2 0.2 2 0.2 2 0.2 2 0.2 2 0.2 2 0.2 2 0.1 2 0.2 2 0.2 2 0.2 2 0.1 2 0.2 2 0.2 2 0.2 2 0.1 2 0.2 2 0.2 2 0.1 2 0.2 2 0.2 2 0.1 2 0.2 2 0.2 2 0.1 2 0.2 2 0.1 2 0.2 2 0.1 2 0.1 2 0.2 2 0.1 2 0.1 2 0.1 2 0.2 2 0.1 2 0.1 2 0.1 2 0.1 2 0.1 2 0.1 2 0 2 0.1 2 0.1 2 0 2 0.1 2 0.1 2 0 2 0 2 0.1 2 0 2 0 2 0.1 2 0 2 0 2 0 2 0 2 0 2 0 2 0 2 -0.1 2 0 2 0 2 0 2 -0.1 2 0 2 -0.1 2 0 2 -0.1 2 0 2 -0.1 2 -0.1 2 0 2 -0.1 2 -0.1 2 0 2 -0.1 2 -0.1 2 -0.1 2 0 2 -0.1 2 -0.1 2 -0.1 2 -0.1 2 -0.1 2 -0.1 2 -0.1 2 -0.1 2 -0.1 2 -0.1 2 -0.1 2 -0.1 2 -0.2 2 -0.1 2 -0.1 2 -0.1 2 -0.2 2 -0.1 2 -0.1 2 -0.2 2 -0.1 2 -0.2 2 -0.1 2 -0.2 2 -0.2 2 -0.1 2 -0.2 2 -0.2 2 -0.1 2 -0.2 2 -0.2 2 -0.2 2 -0.2 2 -0.2 2 -0.2 2 -0.2 2 -0.2 2 -0.2 2 -0.2 2 -0.3 2 -0.2 2 -0.2 2 -0.3 2 -0.2 2 -0.2 2 -0.3 2 -0.2 2 -0.3 2 -0.3 2 -0.2 2 -0.3 2 -0.3 2 -0.2 2 -0.3 2 -0.3 2 -0.3 2 -0.3 2 -0.3 2 -0.3 2 -0.3 2 -0.3 2 -0.3 2 -0.3 2 -0.3 2 -0.4 2 -0.3 2 -0.3 2 -0.4 2 -0.3 2 -0.4 2 -0.4 2 -0.3 2 -0.4 2 -0.4 2 -0.4 2 -0.4 2 -0.4 2 -0.4 2 -0.4 2 -0.4 2 -0.4 2 -0.4 2 -0.5 2 -0.4 2 -0.5 2 -0.4 2 -0.5 2 -0.4 2 -0.5 2 -0.5 2 -0.5 2 -0.4 2 -0.5 2 -0.5 2 -0.5 2 -0.5 2 -0.5 2 -0.5 2 -0.6 2 -0.5 2 -0.5 2 -0.5 2 -0.6 2 -0.5 2 -0.5 2 -0.6 2 -0.5 2 -0.6 2 -0.5 2 -0.6 2 -0.5 2 -0.6 2 -0.6 2 -0.5 2 -0.6 2 -0.5 2 -0.6 2 -0.6 2 -0.5 2 -0.6 2 -0.5 2 -0.6 2 -0.5 2 -0.6 2 -0.5 2 -0.6 2 -0.5 2 -0.6 2 -0.5 2 -0.6 2 -0.5 2 -0.5 2 -0.5 2 -0.5 2 -0.5 2 -0.5 2 -0.5 2 -0.5 2 -0.5 2 -0.4 2 -0.5 2 -0.4 2 -0.5 2 -0.4 2 -0.4 2 -0.4 2 -0.4 2 -0.4 2 -0.3 2 -0.4 2 -0.3 2 -0.3 2 -0.3 2 -0.3 2 -0.3 2 -0.2 2 -0.2 2 -0.2 2 -0.2 2 -0.1 2 -0.1 2 -0.1 2 -0.1 2 0 2 0 2 0.1 2 0.2 2 0.2 2 0.2 2 0.2 2 0.3 2 0.3 2 0.3 2 0.3 2 0.4 2 0.4 2 0.3 2 0.4 2 0.5 2 0.4 2 0.4 2 0.5 2 0.5 2 0.5 2 0.5 2 0.5 2 0.5 2 0.6 2 0.5 2 0.6 2 0.5 2 0.6 2 0.6 2 0.6 2 0.6 2 0.6 2 0.6 2 0.6 2 0.6 2 0.6 2 0.7 2 0.6 2 0.6 2 0.7 2 0.6 2 0.6 2 0.7 2 0.6 2 0.7 2 0.6 2 0.7 2 0.6 2 0.7 2 0.6 2 0.7 2 0.6 2 0.7 2 0.6 2 0.7 2 0.6 2 0.6 2 0.7 2 0.6 2 0.6 2 0.7 2 0.6 2 0.6 2 0.6 2 0.7 2 0.6 2 0.6 2 0.6 2 0.6 2 0.6 2 0.6 2 0.5 2 0.6 2 0.6 2 0.6 2 0.5 2 0.6 2 0.5 2 0.6 2 0.5 2 0.6 2 0.5 2 0.5 2 0.5 2 0.5 2 0.5 2 0.5 2 0.5 2 0.5 2 0.5 2 0.5 2 0.4 2 0.5 2 0.5 2 0.4 2 0.4 2 0.5 2 0.4 2 0.4 2 0.5 2 0.4 2 0.4 2 0.4 2 0.4 2 0.4 2 0.3 2 0.4 2 0.4 2 0.3 2 0.4 2 0.4 2 0.3 2 0.3 2 0.4 2 0.3 2 0.3 2 0.3 2 0.4 2 0.3 2 0.3 2 0.3 2 0.2 2 0.3 2 0.3 2 0.3 2 0.3 2 0.2 2 0.3 2 0.2 2 0.3 2 0.2 2 0.3 2 0.2 2 0.2 2 0.3 2 0.2 2 0.2 2 0.2 2 0.2 2 0.3 2 0.2 2 0.2 2 0.1 2 0.2 2 0.2 2 0.2 2 0.2 2 0.2 2 0.1 2 0.2 2 0.2 2 0.1 2 0.2 2 0.2 2 0.1 2 0.2 2 0.1 2 0.2 2 0.1 2 0.1 2 0.2 2 0.1 2 0.2 2 0.1 2 0.1 2 0.1 2 0.2 2 0.1 2 0.1 2 0.1 2 0.1 2 0.1 2 0.1 2 0.2 2 0.1 2 0.1 2 0.1 2 0.1 2 0.1 2 0.1 2 0.1 2 0.1 2 0.1 2 0 2 0.1 2 0.1 2 0.1 2 0.1 2 0.1 2 0.1 2 0 2 0.1 2 0.1 2 0.1 2 0.1 2 0 2 0.1 2 0.1 2 0.1 2 0 2 0.1 2 0.1 2 0 2 0.1 2 0.1 2 0 2 0.1 2 0.1 2 0 2 0.1 2 0.1 2 0 2 0.1 2 0.1 2 0 2 0.1 2 0 2 0.1 2 0 2 0.1 2 0.1 2 0 2 0.1 2 0 2 0.1 2 0 L1229,364.9 1223,364.8 1217,364.6 1211,364.5 1205,364.4 1199,364.2 1193,364.1 1187,364 1181,363.8 1175,363.7 1169,363.6 1163,363.4 1157,363.3 1151,363.2 1145,363 1139,362.9 1133,362.8 1127,362.6 1121,362.5 1115,362.3 1109,362.2 1103,362.1 1097,361.9 1091,361.8 1085,361.7 1079,361.5 1073,361.4 1067,361.3 1061,361.1 1055,361 1049,360.9 1043,360.7 1037,360.6 1031,360.5 1025,360.3 1019,360.2 1013,360.1 1007,359.9 1001,359.8 995,359.7 989,359.5 983,359.4 977,359.3 971,359.1 965,359 959,358.9 953,358.7 947,358.6 941,358.5 935,358.3 929,358.2 923,358.1 917,357.9 911,357.8 905,357.7 899,357.5 893,357.4 887,357.2 881,357.1 875,357 869,356.8 863,356.7 857,356.6 851,356.4 845,356.3 839,356.2 833,356 827,355.9 821,355.8 815,355.6 809,355.5 803,355.4 797,355.2 791,355.1 785,355 779,354.8 773,354.7 767,354.6 761,354.4 755,354.3 749,354.2 743,354 737,353.9 731,353.8 725,353.6 719,353.5 713,353.4 707,353.2 701,353.1 695,352.9 689,352.8 683,352.7 677,352.5 671,352.4 665,352.3 659,352.1 653,352 647,351.9 641,351.7 635,351.6 629,351.5 623,351.3 617,351.2 611,351.1 605,350.9 599,350.8 593,350.7 587,350.5 581,350.4 575,350.3 569,350.2 563,350.1 557,350 551,350 545,349.9 539,349.9 533,349.9 527,349.8 521,349.8 515,349.8 509,349.8 503,349.9 497,349.9 491,349.9 485,349.9 479,349.9 473,349.9 467,349.9 461,349.9 455,349.9 449,349.9 443,349.9 437,349.9 431,349.9 425,349.9 419,349.9 413,349.8 407,349.8 401,349.7 395,349.5 389,349.3 383,349.1 377,348.9 371,348.6 365,348.2 359,347.8 353,347.4 347,347 341,346.5 335,346 329,345.5 323,344.9 317,344.4 311,343.9 305,343.3 299,342.7 293,342.2 287,341.6 281,341 275,340.5 269,339.9 263,339.4 257,339 251,338.6 245,338.3 239,338 233,337.8 227,337.6 221,337.5 215,337.5 209,337.4 203,337.4 197,337.4 191,337.4 185,337.4 179,337.4 173,337.4 167,337.3 161,337.3 155,337.2 149,337.2 143,337.1 137,336.9 131,336.8 125,336.7 119,336.5 113,336.4 107,336.2 101,336.1 95,336Z" fill="url(#gro)" fill-opacity="0.5"/>
<path d="M95,336l2 0.1 2 0 2 0 2 0.1 2 0 2 0 2 0.1 2 0 2 0.1 2 0 2 0.1 2 0 2 0.1 2 0 2 0.1 2 0 2 0.1 2 0 2 0 2 0.1 2 0 2 0.1 2 0 2 0 2 0.1 2 0 2 0 2 0.1 2 0 2 0 2 0.1 2 0 2 0 2 0 2 0 2 0 2 0 2 0 2 0.1 2 0 2 0 2 0 2 0 2 0 2 0 2 0 2 0 2 0 2 0 2 0 2 0 2 0 2 0 2 0 2 0 2 0 2 0 2 0 2 0 2 0.1 2 0 2 0 2 0 2 0 2 0.1 2 0 2 0.1 2 0 2 0.1 2 0 2 0.1 2 0.1 2 0 2 0.1 2 0.1 2 0.1 2 0.1 2 0.1 2 0.2 2 0.1 2 0.1 2 0.2 2 0.1 2 0.2 2 0.1 2 0.2 2 0.1 2 0.2 2 0.2 2 0.2 2 0.1 2 0.2 2 0.2 2 0.2 2 0.2 2 0.2 2 0.2 2 0.1 2 0.2 2 0.2 2 0.2 2 0.2 2 0.2 2 0.2 2 0.1 2 0.2 2 0.2 2 0.2 2 0.1 2 0.2 2 0.2 2 0.2 2 0.1 2 0.2 2 0.2 2 0.1 2 0.2 2 0.2 2 0.1 2 0.2 2 0.2 2 0.1 2 0.2 2 0.1 2 0.2 2 0.1 2 0.1 2 0.2 2 0.1 2 0.1 2 0.1 2 0.2 2 0.1 2 0.1 2 0.1 2 0.1 2 0.1 2 0.1 2 0 2 0.1 2 0.1 2 0 2 0.1 2 0.1 2 0 2 0 2 0.1 2 0 2 0 2 0.1 2 0 2 0 2 0 2 0 2 0 2 0 2 0 2 -0.1 2 0 2 0 2 0 2 -0.1 2 0 2 -0.1 2 0 2 -0.1 2 0 2 -0.1 2 -0.1 2 0 2 -0.1 2 -0.1 2 0 2 -0.1 2 -0.1 2 -0.1 2 0 2 -0.1 2 -0.1 2 -0.1 2 -0.1 2 -0.1 2 -0.1 2 -0.1 2 -0.1 2 -0.1 2 -0.1 2 -0.1 2 -0.1 2 -0.2 2 -0.1 2 -0.1 2 -0.1 2 -0.2 2 -0.1 2 -0.1 2 -0.2 2 -0.1 2 -0.2 2 -0.1 2 -0.2 2 -0.2 2 -0.1 2 -0.2 2 -0.2 2 -0.1 2 -0.2 2 -0.2 2 -0.2 2 -0.2 2 -0.2 2 -0.2 2 -0.2 2 -0.2 2 -0.2 2 -0.2 2 -0.3 2 -0.2 2 -0.2 2 -0.3 2 -0.2 2 -0.2 2 -0.3 2 -0.2 2 -0.3 2 -0.3 2 -0.2 2 -0.3 2 -0.3 2 -0.2 2 -0.3 2 -0.3 2 -0.3 2 -0.3 2 -0.3 2 -0.3 2 -0.3 2 -0.3 2 -0.3 2 -0.3 2 -0.3 2 -0.4 2 -0.3 2 -0.3 2 -0.4 2 -0.3 2 -0.4 2 -0.4 2 -0.3 2 -0.4 2 -0.4 2 -0.4 2 -0.4 2 -0.4 2 -0.4 2 -0.4 2 -0.4 2 -0.4 2 -0.4 2 -0.5 2 -0.4 2 -0.5 2 -0.4 2 -0.5 2 -0.4 2 -0.5 2 -0.5 2 -0.5 2 -0.4 2 -0.5 2 -0.5 2 -0.5 2 -0.5 2 -0.5 2 -0.5 2 -0.6 2 -0.5 2 -0.5 2 -0.5 2 -0.6 2 -0.5 2 -0.5 2 -0.6 2 -0.5 2 -0.6 2 -0.5 2 -0.6 2 -0.5 2 -0.6 2 -0.6 2 -0.5 2 -0.6 2 -0.5 2 -0.6 2 -0.6 2 -0.5 2 -0.6 2 -0.5 2 -0.6 2 -0.5 2 -0.6 2 -0.5 2 -0.6 2 -0.5 2 -0.6 2 -0.5 2 -0.6 2 -0.5 2 -0.5 2 -0.5 2 -0.5 2 -0.5 2 -0.5 2 -0.5 2 -0.5 2 -0.5 2 -0.4 2 -0.5 2 -0.4 2 -0.5 2 -0.4 2 -0.4 2 -0.4 2 -0.4 2 -0.4 2 -0.3 2 -0.4 2 -0.3 2 -0.3 2 -0.3 2 -0.3 2 -0.3 2 -0.2 2 -0.2 2 -0.2 2 -0.2 2 -0.1 2 -0.1 2 -0.1 2 -0.1 2 0 2 0 2 0.1 2 0.2 2 0.2 2 0.2 2 0.2 2 0.3 2 0.3 2 0.3 2 0.3 2 0.4 2 0.4 2 0.3 2 0.4 2 0.5 2 0.4 2 0.4 2 0.5 2 0.5 2 0.5 2 0.5 2 0.5 2 0.5 2 0.6 2 0.5 2 0.6 2 0.5 2 0.6 2 0.6 2 0.6 2 0.6 2 0.6 2 0.6 2 0.6 2 0.6 2 0.6 2 0.7 2 0.6 2 0.6 2 0.7 2 0.6 2 0.6 2 0.7 2 0.6 2 0.7 2 0.6 2 0.7 2 0.6 2 0.7 2 0.6 2 0.7 2 0.6 2 0.7 2 0.6 2 0.7 2 0.6 2 0.6 2 0.7 2 0.6 2 0.6 2 0.7 2 0.6 2 0.6 2 0.6 2 0.7 2 0.6 2 0.6 2 0.6 2 0.6 2 0.6 2 0.6 2 0.5 2 0.6 2 0.6 2 0.6 2 0.5 2 0.6 2 0.5 2 0.6 2 0.5 2 0.6 2 0.5 2 0.5 2 0.5 2 0.5 2 0.5 2 0.5 2 0.5 2 0.5 2 0.5 2 0.5 2 0.4 2 0.5 2 0.5 2 0.4 2 0.4 2 0.5 2 0.4 2 0.4 2 0.5 2 0.4 2 0.4 2 0.4 2 0.4 2 0.4 2 0.3 2 0.4 2 0.4 2 0.3 2 0.4 2 0.4 2 0.3 2 0.3 2 0.4 2 0.3 2 0.3 2 0.3 2 0.4 2 0.3 2 0.3 2 0.3 2 0.2 2 0.3 2 0.3 2 0.3 2 0.3 2 0.2 2 0.3 2 0.2 2 0.3 2 0.2 2 0.3 2 0.2 2 0.2 2 0.3 2 0.2 2 0.2 2 0.2 2 0.2 2 0.3 2 0.2 2 0.2 2 0.1 2 0.2 2 0.2 2 0.2 2 0.2 2 0.2 2 0.1 2 0.2 2 0.2 2 0.1 2 0.2 2 0.2 2 0.1 2 0.2 2 0.1 2 0.2 2 0.1 2 0.1 2 0.2 2 0.1 2 0.2 2 0.1 2 0.1 2 0.1 2 0.2 2 0.1 2 0.1 2 0.1 2 0.1 2 0.1 2 0.1 2 0.2 2 0.1 2 0.1 2 0.1 2 0.1 2 0.1 2 0.1 2 0.1 2 0.1 2 0.1 2 0 2 0.1 2 0.1 2 0.1 2 0.1 2 0.1 2 0.1 2 0 2 0.1 2 0.1 2 0.1 2 0.1 2 0 2 0.1 2 0.1 2 0.1 2 0 2 0.1 2 0.1 2 0 2 0.1 2 0.1 2 0 2 0.1 2 0.1 2 0 2 0.1 2 0.1 2 0 2 0.1 2 0.1 2 0 2 0.1 2 0 2 0.1 2 0 2 0.1 2 0.1 2 0 2 0.1 2 0 2 0.1 2 0" fill="none" stroke="#ff0000" stroke-width="4.6"/>
<path d="M95,336l2 0.1 2 0 2 0 2 0.1 2 0 2 0 2 0.1 2 0 2 0.1 2 0 2 0.1 2 0 2 0.1 2 0 2 0.1 2 0 2 0.1 2 0 2 0 2 0.1 2 0 2 0.1 2 0 2 0.1 2 0 2 0 2 0.1 2 0 2 0 2 0 2 0.1 2 0 2 0 2 0 2 0 2 0 2 0 2 0.1 2 0 2 0 2 0 2 0 2 0 2 0 2 0 2 0 2 0 2 0 2 0 2 0 2 0 2 0 2 0 2 0 2 0 2 0 2 0 2 0.1 2 0 2 0 2 0 2 0 2 0 2 0.1 2 0 2 0 2 0.1 2 0 2 0.1 2 0.1 2 0 2 0.1 2 0.1 2 0.1 2 0.1 2 0.1 2 0.1 2 0.1 2 0.1 2 0.1 2 0.2 2 0.1 2 0.2 2 0.1 2 0.2 2 0.2 2 0.1 2 0.2 2 0.2 2 0.2 2 0.1 2 0.2 2 0.2 2 0.2 2 0.2 2 0.2 2 0.2 2 0.2 2 0.2 2 0.1 2 0.2 2 0.2 2 0.2 2 0.2 2 0.2 2 0.2 2 0.2 2 0.2 2 0.1 2 0.2 2 0.2 2 0.2 2 0.2 2 0.1 2 0.2 2 0.2 2 0.2 2 0.2 2 0.1 2 0.2 2 0.2 2 0.1 2 0.2 2 0.2 2 0.1 2 0.2 2 0.1 2 0.2 2 0.1 2 0.2 2 0.1 2 0.1 2 0.2 2 0.1 2 0.1 2 0.1 2 0.2 2 0.1 2 0.1 2 0.1 2 0.1 2 0.1 2 0 2 0.1 2 0.1 2 0.1 2 0 2 0.1 2 0.1 2 0 2 0.1 2 0 2 0.1 2 0 2 0 2 0.1 2 0 2 0 2 0 2 0.1 2 0 2 0 2 0 2 0 2 0 2 0 2 0 2 0 2 0 2 0 2 0 2 0 2 0 2 0 2 0 2 0 2 0 2 0 2 0 2 0 2 0 2 0 2 0 2 0 2 0 2 0 2 0 2 0 2 0 2 0 2 0 2 0 2 0 2 0 2 0 2 0 2 0 2 0 2 0 2 0 2 0 2 0 2 0 2 0 2 0 2 0 2 -0.1 2 0 2 0 2 0 2 0 2 0 2 0 2 0 2 0 2 0 2 0.1 2 0 2 0 2 0 2 0 2 0 2 0 2 0 2 0 2 0 2 0 2 0.1 2 0 2 0 2 0 2 0.1 2 0 2 0 2 0 2 0.1 2 0 2 0 2 0.1 2 0 2 0 2 0.1 2 0 2 0.1 2 0 2 0 2 0.1 2 0 2 0.1 2 0 2 0.1 2 0 2 0 2 0.1 2 0 2 0.1 2 0 2 0.1 2 0 2 0 2 0.1 2 0 2 0.1 2 0 2 0.1 2 0 2 0.1 2 0 2 0 2 0.1 2 0 2 0.1 2 0 2 0 2 0.1 2 0 2 0.1 2 0 2 0 2 0.1 2 0 2 0.1 2 0 2 0 2 0.1 2 0 2 0 2 0 2 0.1 2 0 2 0 2 0 2 0 2 0 2 0.1 2 0 2 0 2 0 2 0 2 -0.1 2 0 2 0 2 0 2 -0.1 2 0 2 0 2 -0.1 2 -0.1 2 0 2 -0.1 2 -0.1 2 -0.1 2 -0.1 2 -0.2 2 -0.1 2 -0.2 2 -0.2 2 -0.1 2 -0.2 2 -0.3 2 -0.2 2 -0.3 2 -0.3 2 -0.3 2 -0.3 2 -0.3 2 -0.4 2 -0.4 2 -0.4 2 -0.5 2 -0.4 2 -0.6 2 -0.5 2 -0.6 2 -0.6 2 -0.6 2 -0.7 2 -0.7 2 -0.7 2 -0.8 2 -0.8 2 -0.8 2 -0.9 2 -1 2 -0.9 2 -1 2 -1.1 2 -1 2 -1.2 2 -1.1 2 -1.2 2 -1.2 2 -1.3 2 -1.3 2 -1.4 2 -1.3 2 -1.4 2 -1.5 2 -1.5 2 -1.5 2 -1.5 2 -1.5 2 -1.6 2 -1.6 2 -1.6 2 -1.7 2 -1.6 2 -1.7 2 -1.6 2 -1.7 2 -1.7 2 -1.7 2 -1.6 2 -1.7 2 -1.6 2 -1.7 2 -1.6 2 -1.5 2 -1.6 2 -1.5 2 -1.5 2 -1.5 2 -1.4 2 -1.4 2 -1.3 2 -1.3 2 -1.2 2 -1.2 2 -1.1 2 -1 2 -1 2 -0.9 2 -0.8 2 -0.7 2 -0.7 2 -0.6 2 -0.5 2 -0.4 2 -0.4 2 -0.2 2 -0.2 2 -0.1 2 0 2 0.1 2 0.2 2 0.2 2 0.4 2 0.4 2 0.5 2 0.6 2 0.7 2 0.8 2 0.8 2 0.9 2 1 2 1.1 2 1.1 2 1.2 2 1.2 2 1.3 2 1.4 2 1.4 2 1.5 2 1.5 2 1.5 2 1.6 2 1.6 2 1.7 2 1.7 2 1.7 2 1.7 2 1.7 2 1.8 2 1.7 2 1.8 2 1.7 2 1.8 2 1.8 2 1.7 2 1.7 2 1.8 2 1.7 2 1.7 2 1.6 2 1.7 2 1.6 2 1.6 2 1.5 2 1.6 2 1.5 2 1.4 2 1.5 2 1.4 2 1.3 2 1.3 2 1.3 2 1.3 2 1.2 2 1.2 2 1.1 2 1.1 2 1 2 1 2 1 2 1 2 0.9 2 0.8 2 0.8 2 0.8 2 0.8 2 0.7 2 0.7 2 0.7 2 0.6 2 0.6 2 0.6 2 0.5 2 0.5 2 0.5 2 0.5 2 0.4 2 0.4 2 0.4 2 0.4 2 0.3 2 0.4 2 0.3 2 0.3 2 0.2 2 0.3 2 0.3 2 0.2 2 0.2 2 0.2 2 0.2 2 0.2 2 0.2 2 0.1 2 0.2 2 0.1 2 0.2 2 0.1 2 0.1 2 0.1 2 0.2 2 0.1 2 0.1 2 0.1 2 0.1 2 0 2 0.1 2 0.1 2 0.1 2 0.1 2 0 2 0.1 2 0.1 2 0 2 0.1 2 0.1 2 0 2 0.1 2 0 2 0.1 2 0 2 0.1 2 0 2 0.1 2 0.1 2 0 2 0.1 2 0 2 0 2 0.1 2 0 2 0.1 2 0 2 0.1 2 0 2 0.1 2 0 2 0.1 2 0 2 0.1 2 0 2 0.1 2 0 2 0 2 0.1 2 0 2 0.1 2 0 2 0.1 2 0 2 0.1 2 0 2 0.1 2 0 2 0 2 0.1 2 0 2 0.1 2 0 2 0.1 2 0 2 0.1 2 0 L1229,364.9 1223,364.8 1217,364.6 1211,364.5 1205,364.4 1199,364.2 1193,364.1 1187,364 1181,363.8 1175,363.7 1169,363.6 1163,363.4 1157,363.3 1151,363.2 1145,363 1139,362.9 1133,362.8 1127,362.6 1121,362.5 1115,362.3 1109,362.2 1103,362.1 1097,361.9 1091,361.8 1085,361.7 1079,361.5 1073,361.4 1067,361.3 1061,361.1 1055,361 1049,360.9 1043,360.7 1037,360.6 1031,360.5 1025,360.3 1019,360.2 1013,360.1 1007,359.9 1001,359.8 995,359.7 989,359.5 983,359.4 977,359.3 971,359.1 965,359 959,358.9 953,358.7 947,358.6 941,358.5 935,358.3 929,358.2 923,358.1 917,357.9 911,357.8 905,357.7 899,357.5 893,357.4 887,357.2 881,357.1 875,357 869,356.8 863,356.7 857,356.6 851,356.4 845,356.3 839,356.2 833,356 827,355.9 821,355.8 815,355.6 809,355.5 803,355.4 797,355.2 791,355.1 785,355 779,354.8 773,354.7 767,354.6 761,354.4 755,354.3 749,354.2 743,354 737,353.9 731,353.8 725,353.6 719,353.5 713,353.4 707,353.2 701,353.1 695,352.9 689,352.8 683,352.7 677,352.5 671,352.4 665,352.3 659,352.1 653,352 647,351.9 641,351.7 635,351.6 629,351.5 623,351.3 617,351.2 611,351.1 605,350.9 599,350.8 593,350.7 587,350.5 581,350.4 575,350.3 569,350.2 563,350.1 557,350 551,350 545,349.9 539,349.9 533,349.9 527,349.8 521,349.8 515,349.8 509,349.8 503,349.9 497,349.9 491,349.9 485,349.9 479,349.9 473,349.9 467,349.9 461,349.9 455,349.9 449,349.9 443,349.9 437,349.9 431,349.9 425,349.9 419,349.9 413,349.8 407,349.8 401,349.7 395,349.5 389,349.3 383,349.1 377,348.9 371,348.6 365,348.2 359,347.8 353,347.4 347,347 341,346.5 335,346 329,345.5 323,344.9 317,344.4 311,343.9 305,343.3 299,342.7 293,342.2 287,341.6 281,341 275,340.5 269,339.9 263,339.4 257,339 251,338.6 245,338.3 239,338 233,337.8 227,337.6 221,337.5 215,337.5 209,337.4 203,337.4 197,337.4 191,337.4 185,337.4 179,337.4 173,337.4 167,337.3 161,337.3 155,337.2 149,337.2 143,337.1 137,336.9 131,336.8 125,336.7 119,336.5 113,336.4 107,336.2 101,336.1 95,336Z" fill="url(#gb)"/>
<path d="M95,336l2 0.1 2 0 2 0 2 0.1 2 0 2 0 2 0.1 2 0 2 0.1 2 0 2 0.1 2 0 2 0.1 2 0 2 0.1 2 0 2 0.1 2 0 2 0 2 0.1 2 0 2 0.1 2 0 2 0.1 2 0 2 0 2 0.1 2 0 2 0 2 0 2 0.1 2 0 2 0 2 0 2 0 2 0 2 0 2 0.1 2 0 2 0 2 0 2 0 2 0 2 0 2 0 2 0 2 0 2 0 2 0 2 0 2 0 2 0 2 0 2 0 2 0 2 0 2 0 2 0.1 2 0 2 0 2 0 2 0 2 0 2 0.1 2 0 2 0 2 0.1 2 0 2 0.1 2 0.1 2 0 2 0.1 2 0.1 2 0.1 2 0.1 2 0.1 2 0.1 2 0.1 2 0.1 2 0.1 2 0.2 2 0.1 2 0.2 2 0.1 2 0.2 2 0.2 2 0.1 2 0.2 2 0.2 2 0.2 2 0.1 2 0.2 2 0.2 2 0.2 2 0.2 2 0.2 2 0.2 2 0.2 2 0.2 2 0.1 2 0.2 2 0.2 2 0.2 2 0.2 2 0.2 2 0.2 2 0.2 2 0.2 2 0.1 2 0.2 2 0.2 2 0.2 2 0.2 2 0.1 2 0.2 2 0.2 2 0.2 2 0.2 2 0.1 2 0.2 2 0.2 2 0.1 2 0.2 2 0.2 2 0.1 2 0.2 2 0.1 2 0.2 2 0.1 2 0.2 2 0.1 2 0.1 2 0.2 2 0.1 2 0.1 2 0.1 2 0.2 2 0.1 2 0.1 2 0.1 2 0.1 2 0.1 2 0 2 0.1 2 0.1 2 0.1 2 0 2 0.1 2 0.1 2 0 2 0.1 2 0 2 0.1 2 0 2 0 2 0.1 2 0 2 0 2 0 2 0.1 2 0 2 0 2 0 2 0 2 0 2 0 2 0 2 0 2 0 2 0 2 0 2 0 2 0 2 0 2 0 2 0 2 0 2 0 2 0 2 0 2 0 2 0 2 0 2 0 2 0 2 0 2 0 2 0 2 0 2 0 2 0 2 0 2 0 2 0 2 0 2 0 2 0 2 0 2 0 2 0 2 0 2 0 2 0 2 0 2 0 2 0 2 -0.1 2 0 2 0 2 0 2 0 2 0 2 0 2 0 2 0 2 0 2 0.1 2 0 2 0 2 0 2 0 2 0 2 0 2 0 2 0 2 0 2 0 2 0.1 2 0 2 0 2 0 2 0.1 2 0 2 0 2 0 2 0.1 2 0 2 0 2 0.1 2 0 2 0 2 0.1 2 0 2 0.1 2 0 2 0 2 0.1 2 0 2 0.1 2 0 2 0.1 2 0 2 0 2 0.1 2 0 2 0.1 2 0 2 0.1 2 0 2 0 2 0.1 2 0 2 0.1 2 0 2 0.1 2 0 2 0.1 2 0 2 0 2 0.1 2 0 2 0.1 2 0 2 0 2 0.1 2 0 2 0.1 2 0 2 0 2 0.1 2 0 2 0.1 2 0 2 0 2 0.1 2 0 2 0 2 0 2 0.1 2 0 2 0 2 0 2 0 2 0 2 0.1 2 0 2 0 2 0 2 0 2 -0.1 2 0 2 0 2 0 2 -0.1 2 0 2 0 2 -0.1 2 -0.1 2 0 2 -0.1 2 -0.1 2 -0.1 2 -0.1 2 -0.2 2 -0.1 2 -0.2 2 -0.2 2 -0.1 2 -0.2 2 -0.3 2 -0.2 2 -0.3 2 -0.3 2 -0.3 2 -0.3 2 -0.3 2 -0.4 2 -0.4 2 -0.4 2 -0.5 2 -0.4 2 -0.6 2 -0.5 2 -0.6 2 -0.6 2 -0.6 2 -0.7 2 -0.7 2 -0.7 2 -0.8 2 -0.8 2 -0.8 2 -0.9 2 -1 2 -0.9 2 -1 2 -1.1 2 -1 2 -1.2 2 -1.1 2 -1.2 2 -1.2 2 -1.3 2 -1.3 2 -1.4 2 -1.3 2 -1.4 2 -1.5 2 -1.5 2 -1.5 2 -1.5 2 -1.5 2 -1.6 2 -1.6 2 -1.6 2 -1.7 2 -1.6 2 -1.7 2 -1.6 2 -1.7 2 -1.7 2 -1.7 2 -1.6 2 -1.7 2 -1.6 2 -1.7 2 -1.6 2 -1.5 2 -1.6 2 -1.5 2 -1.5 2 -1.5 2 -1.4 2 -1.4 2 -1.3 2 -1.3 2 -1.2 2 -1.2 2 -1.1 2 -1 2 -1 2 -0.9 2 -0.8 2 -0.7 2 -0.7 2 -0.6 2 -0.5 2 -0.4 2 -0.4 2 -0.2 2 -0.2 2 -0.1 2 0 2 0.1 2 0.2 2 0.2 2 0.4 2 0.4 2 0.5 2 0.6 2 0.7 2 0.8 2 0.8 2 0.9 2 1 2 1.1 2 1.1 2 1.2 2 1.2 2 1.3 2 1.4 2 1.4 2 1.5 2 1.5 2 1.5 2 1.6 2 1.6 2 1.7 2 1.7 2 1.7 2 1.7 2 1.7 2 1.8 2 1.7 2 1.8 2 1.7 2 1.8 2 1.8 2 1.7 2 1.7 2 1.8 2 1.7 2 1.7 2 1.6 2 1.7 2 1.6 2 1.6 2 1.5 2 1.6 2 1.5 2 1.4 2 1.5 2 1.4 2 1.3 2 1.3 2 1.3 2 1.3 2 1.2 2 1.2 2 1.1 2 1.1 2 1 2 1 2 1 2 1 2 0.9 2 0.8 2 0.8 2 0.8 2 0.8 2 0.7 2 0.7 2 0.7 2 0.6 2 0.6 2 0.6 2 0.5 2 0.5 2 0.5 2 0.5 2 0.4 2 0.4 2 0.4 2 0.4 2 0.3 2 0.4 2 0.3 2 0.3 2 0.2 2 0.3 2 0.3 2 0.2 2 0.2 2 0.2 2 0.2 2 0.2 2 0.2 2 0.1 2 0.2 2 0.1 2 0.2 2 0.1 2 0.1 2 0.1 2 0.2 2 0.1 2 0.1 2 0.1 2 0.1 2 0 2 0.1 2 0.1 2 0.1 2 0.1 2 0 2 0.1 2 0.1 2 0 2 0.1 2 0.1 2 0 2 0.1 2 0 2 0.1 2 0 2 0.1 2 0 2 0.1 2 0.1 2 0 2 0.1 2 0 2 0 2 0.1 2 0 2 0.1 2 0 2 0.1 2 0 2 0.1 2 0 2 0.1 2 0 2 0.1 2 0 2 0.1 2 0 2 0 2 0.1 2 0 2 0.1 2 0 2 0.1 2 0 2 0.1 2 0 2 0.1 2 0 2 0 2 0.1 2 0 2 0.1 2 0 2 0.1 2 0 2 0.1 2 0" fill="none" stroke="#0000ff" stroke-width="4.6"/>
<path d="M95,335.8l2 0.1 2 0 2 0.1 2 0 2 0.1 2 0 2 0.1 2 0.1 2 0 2 0.1 2 0 2 0.1 2 0.1 2 0 2 0.1 2 0 2 0.1 2 0 2 0.1 2 0.1 2 0 2 0.1 2 0 2 0.1 2 0.1 2 0 2 0.1 2 0 2 0 2 0 2 0 2 0 2 0 2 0 2 0 2 0 2 0 2 0 2 0 2 0 2 0 2 0 2 0 2 0 2 0 2 0 2 0 2 0 2 0 2 0 2 0 2 0 2 0 2 0 2 0 2 0 2 0 2 0 2 0 2 0 2 0 2 0 2 0 2 0 2 0 2 0 2 0 2 0 2 0 2 0 2 0 2 0 2 0 2 0.2 2 0.1 2 0.2 2 0.1 2 0.2 2 0.1 2 0.2 2 0.1 2 0.2 2 0.1 2 0.2 2 0.1 2 0.2 2 0.1 2 0.2 2 0.3 2 0.2 2 0.2 2 0.2 2 0.3 2 0.2 2 0.2 2 0.2 2 0.3 2 0.2 2 0.1 2 0.2 2 0.2 2 0.2 2 0.1 2 0.2 2 0.2 2 0.2 2 0.1 2 0.2 2 0.2 2 0.2 2 0.1 2 0.2 2 0.2 2 0.1 2 0.2 2 0.2 2 0.1 2 0.2 2 0.2 2 0.1 2 0.2 2 0.2 2 0.2 2 0.1 2 0.2 2 0.1 2 0.2 2 0.2 2 0.1 2 0.2 2 0.2 2 0.1 2 0.1 2 0.1 2 0.1 2 0 2 0.1 2 0.1 2 0 2 0.1 2 0 2 0.1 2 0.1 2 0 2 0.1 2 0 2 0.1 2 0 2 0.1 2 0 2 0.1 2 0 2 0 2 0 2 -0.1 2 0 2 -0.1 2 0 2 0 2 -0.1 2 -0.1 2 0 2 -0.1 2 0 2 -0.1 2 0 2 -0.1 2 -0.1 2 0 2 -0.1 2 -0.1 2 0 2 -0.1 2 -0.1 2 -0.1 2 -0.1 2 0 2 -0.1 2 -0.1 2 -0.1 2 -0.1 2 -0.1 2 -0.1 2 -0.1 2 -0.1 2 -0.1 2 -0.1 2 -0.1 2 -0.1 2 -0.2 2 -0.1 2 -0.1 2 -0.1 2 -0.2 2 -0.1 2 -0.1 2 -0.2 2 -0.1 2 -0.2 2 -0.1 2 -0.2 2 -0.2 2 -0.1 2 -0.2 2 -0.2 2 -0.1 2 -0.2 2 -0.2 2 -0.2 2 -0.2 2 -0.2 2 -0.2 2 -0.2 2 -0.2 2 -0.2 2 -0.3 2 -0.2 2 -0.2 2 -0.3 2 -0.2 2 -0.3 2 -0.2 2 -0.3 2 -0.2 2 -0.3 2 -0.2 2 -0.3 2 -0.3 2 -0.3 2 -0.2 2 -0.3 2 -0.3 2 -0.3 2 -0.3 2 -0.3 2 -0.3 2 -0.2 2 -0.3 2 -0.3 2 -0.4 2 -0.3 2 -0.3 2 -0.3 2 -0.4 2 -0.3 2 -0.4 2 -0.3 2 -0.4 2 -0.3 2 -0.4 2 -0.4 2 -0.4 2 -0.4 2 -0.4 2 -0.4 2 -0.4 2 -0.4 2 -0.4 2 -0.4 2 -0.5 2 -0.4 2 -0.5 2 -0.4 2 -0.5 2 -0.4 2 -0.5 2 -0.5 2 -0.5 2 -0.5 2 -0.4 2 -0.5 2 -0.5 2 -0.6 2 -0.5 2 -0.5 2 -0.5 2 -0.5 2 -0.6 2 -0.5 2 -0.5 2 -0.6 2 -0.5 2 -0.6 2 -0.6 2 -0.5 2 -0.6 2 -0.5 2 -0.6 2 -0.6 2 -0.6 2 -0.6 2 -0.5 2 -0.6 2 -0.6 2 -0.6 2 -0.6 2 -0.6 2 -0.6 2 -0.6 2 -0.6 2 -0.7 2 -0.6 2 -0.6 2 -0.6 2 -0.7 2 -0.6 2 -0.6 2 -0.7 2 -0.6 2 -0.6 2 -0.7 2 -0.7 2 -0.6 2 -0.7 2 -0.6 2 -0.7 2 -0.7 2 -0.7 2 -0.7 2 -0.7 2 -0.7 2 -0.7 2 -0.7 2 -0.8 2 -0.7 2 -0.8 2 -0.7 2 -0.8 2 -0.8 2 -0.8 2 -0.8 2 -0.8 2 -0.8 2 -0.8 2 -0.9 2 -0.8 2 -0.9 2 -0.9 2 -0.8 2 -0.9 2 -0.9 2 -0.8 2 -0.9 2 -0.8 2 -0.8 2 -0.8 2 -0.9 2 -0.8 2 -0.9 2 -0.9 2 -0.9 2 -0.9 2 -1 2 -0.9 2 -1 2 -1 2 -1 2 -1.1 2 -1 2 -1.1 2 -1.1 2 -1.1 2 -1.1 2 -1.1 2 -1.1 2 -1.2 2 -1.1 2 -1.1 2 -1.2 2 -1.1 2 -1.1 2 -1.2 2 -1.1 2 -1.1 2 -1 2 -1.1 2 -1 2 -1 2 -1 2 -1 2 -0.9 2 -0.8 2 -0.8 2 -0.8 2 -0.7 2 -0.7 2 -0.6 2 -0.6 2 -0.5 2 -0.4 2 -0.4 2 -0.3 2 -0.2 2 -0.1 2 -0.1 2 0 2 0.1 2 0.2 2 0.2 2 0.3 2 0.5 2 0.5 2 0.5 2 0.7 2 0.8 2 0.8 2 0.9 2 1 2 1.1 2 1.1 2 1.3 2 1.3 2 1.3 2 1.5 2 1.5 2 1.6 2 1.6 2 1.7 2 1.8 2 1.8 2 1.8 2 1.9 2 2 2 2 2 2 2 2.1 2 2 2 2.1 2 2.2 2 2.1 2 2.2 2 2.1 2 2.2 2 2.2 2 2.1 2 2.2 2 2.2 2 2.1 2 2.1 2 2.2 2 2.1 2 2 2 2.1 2 2 2 2 2 2 2 1.9 2 1.9 2 1.8 2 1.9 2 1.7 2 1.8 2 1.7 2 1.6 2 1.6 2 1.6 2 1.5 2 1.5 2 1.4 2 1.4 2 1.4 2 1.3 2 1.2 2 1.3 2 1.1 2 1.2 2 1.1 2 1 2 1 2 1 2 0.9 2 0.9 2 0.9 2 0.8 2 0.8 2 0.7 2 0.7 2 0.7 2 0.7 2 0.6 2 0.6 2 0.6 2 0.5 2 0.5 2 0.5 2 0.5 2 0.5 2 0.4 2 0.4 2 0.4 2 0.4 2 0.3 2 0.4 2 0.3 2 0.3 2 0.3 2 0.3 2 0.2 2 0.3 2 0.2 2 0.3 2 0.2 2 0.2 2 0.2 2 0.2 2 0.2 2 0.2 2 0.2 2 0.1 2 0.2 2 0.1 2 0.2 2 0.1 2 0.2 2 0.1 2 0.1 2 0.2 2 0.1 2 0.1 2 0.1 2 0.1 2 0.2 2 0.1 2 0.1 2 0.1 2 0.1 2 0.1 2 0.1 2 0 2 0.1 2 0.1 2 0.1 2 0.1 2 0.1 2 0.1 2 0 2 0.1 2 0.1 2 0.1 2 0 2 0.1 2 0.1 2 0.1 2 0 2 0.1 2 0.1 2 0 2 0.1 2 0.1 2 0 2 0.1 2 0.1 2 0 2 0.1 2 0 2 0.1 2 0.1 2 0 2 0.1 2 0 2 0.1 2 0.1 2 0 2 0.1 2 0 2 0.1 2 0" fill="none" stroke="#bebebe" stroke-width="4"/>
<path d="M95,335.8 150,337.4 240,337.4 270,339.7 290,342 320,344.7 360,348.3 400,350 540,349.8 560,349.9 720,353.5 900,357.5 1229,364.9" fill="none" stroke="#808080" stroke-width="4" stroke-linejoin="round"/>
<path d="M95,455.3l2 0 2 0.1 2 0.1 2 0 2 0.1 2 0.1 2 0.1 2 0.1 2 0.1 2 0.1 2 0 2 0.1 2 0.1 2 0.1 2 0.1 2 0.1 2 0.1 2 0.1 2 0 2 0.1 2 0.1 2 0.1 2 0 2 0.1 2 0 2 0.1 2 0 2 0 2 0.1 2 0 2 0 2 0 2 0 2 0 2 0 2 -0.1 2 0 2 0 2 -0.1 2 0 2 -0.1 2 0 2 -0.1 2 -0.1 2 0 2 -0.1 2 -0.1 2 -0.1 2 0 2 -0.1 2 -0.1 2 -0.1 2 -0.1 2 -0.1 2 0 2 -0.1 2 -0.1 2 -0.1 2 0 2 -0.1 2 -0.1 2 0 2 -0.1 2 -0.1 2 0 2 0 2 -0.1 2 0 2 0 2 0 2 0 2 0 2 0.1 2 0 2 0.1 2 0 2 0.1 2 0.1 2 0.1 2 0.1 2 0.1 2 0.1 2 0.2 2 0.1 2 0.2 2 0.1 2 0.2 2 0.1 2 0.2 2 0.2 2 0.2 2 0.1 2 0.2 2 0.2 2 0.2 2 0.2 2 0.1 2 0.2 2 0.2 2 0.2 2 0.2 2 0.1 2 0.2 2 0.2 2 0.1 2 0.2 2 0.2 2 0.1 2 0.2 2 0.2 2 0.1 2 0.2 2 0.1 2 0.1 2 0.2 2 0.1 2 0.2 2 0.1 2 0.1 2 0.1 2 0.1 2 0.1 2 0.1 2 0.1 2 0.1 2 0.1 2 0.1 2 0.1 2 0.1 2 0.1 2 0 2 0.1 2 0.1 2 0 2 0.1 2 0 2 0.1 2 0 2 0.1 2 0 2 0.1 2 0 2 0 2 0.1 2 0 2 0 2 0 2 0.1 2 0 2 0 2 0 2 0 2 0.1 2 0 2 0 2 0 2 0 2 0 2 0 2 -0.1 2 0 2 0 2 0 2 0 2 -0.1 2 0 2 0 2 -0.1 2 0 2 0 2 -0.1 2 0 2 -0.1 2 0 2 -0.1 2 0 2 -0.1 2 -0.1 2 0 2 -0.1 2 -0.1 2 0 2 -0.1 2 -0.1 2 -0.1 2 0 2 -0.1 2 -0.1 2 -0.1 2 -0.1 2 -0.1 2 -0.1 2 -0.1 2 -0.1 2 -0.1 2 -0.1 2 -0.2 2 -0.1 2 -0.1 2 -0.1 2 -0.2 2 -0.1 2 -0.1 2 -0.2 2 -0.1 2 -0.2 2 -0.1 2 -0.2 2 -0.1 2 -0.2 2 -0.2 2 -0.2 2 -0.1 2 -0.2 2 -0.2 2 -0.2 2 -0.2 2 -0.2 2 -0.2 2 -0.2 2 -0.3 2 -0.2 2 -0.2 2 -0.2 2 -0.3 2 -0.2 2 -0.3 2 -0.2 2 -0.3 2 -0.2 2 -0.3 2 -0.3 2 -0.3 2 -0.2 2 -0.3 2 -0.3 2 -0.3 2 -0.3 2 -0.3 2 -0.3 2 -0.3 2 -0.4 2 -0.3 2 -0.3 2 -0.3 2 -0.4 2 -0.3 2 -0.4 2 -0.4 2 -0.3 2 -0.4 2 -0.4 2 -0.4 2 -0.3 2 -0.4 2 -0.4 2 -0.5 2 -0.4 2 -0.4 2 -0.4 2 -0.4 2 -0.5 2 -0.4 2 -0.5 2 -0.4 2 -0.5 2 -0.4 2 -0.5 2 -0.5 2 -0.5 2 -0.5 2 -0.4 2 -0.5 2 -0.5 2 -0.5 2 -0.5 2 -0.5 2 -0.5 2 -0.6 2 -0.5 2 -0.5 2 -0.5 2 -0.5 2 -0.6 2 -0.5 2 -0.5 2 -0.6 2 -0.5 2 -0.5 2 -0.6 2 -0.5 2 -0.5 2 -0.6 2 -0.5 2 -0.5 2 -0.5 2 -0.6 2 -0.5 2 -0.5 2 -0.6 2 -0.5 2 -0.5 2 -0.5 2 -0.5 2 -0.5 2 -0.5 2 -0.5 2 -0.5 2 -0.5 2 -0.5 2 -0.4 2 -0.5 2 -0.4 2 -0.5 2 -0.4 2 -0.5 2 -0.4 2 -0.4 2 -0.4 2 -0.4 2 -0.4 2 -0.3 2 -0.4 2 -0.4 2 -0.3 2 -0.3 2 -0.3 2 -0.3 2 -0.3 2 -0.3 2 -0.2 2 -0.3 2 -0.2 2 -0.2 2 -0.2 2 -0.2 2 -0.1 2 -0.2 2 -0.1 2 -0.1 2 -0.1 2 -0.1 2 0 2 0 2 0 2 0 2 0.1 2 0.1 2 0.1 2 0.2 2 0.1 2 0.2 2 0.2 2 0.2 2 0.3 2 0.2 2 0.3 2 0.3 2 0.3 2 0.3 2 0.3 2 0.4 2 0.3 2 0.4 2 0.4 2 0.4 2 0.4 2 0.4 2 0.5 2 0.4 2 0.5 2 0.4 2 0.5 2 0.5 2 0.5 2 0.5 2 0.5 2 0.5 2 0.5 2 0.6 2 0.5 2 0.6 2 0.5 2 0.6 2 0.5 2 0.6 2 0.6 2 0.6 2 0.6 2 0.5 2 0.6 2 0.6 2 0.6 2 0.6 2 0.6 2 0.6 2 0.6 2 0.6 2 0.6 2 0.6 2 0.6 2 0.6 2 0.6 2 0.6 2 0.6 2 0.6 2 0.6 2 0.6 2 0.6 2 0.6 2 0.6 2 0.5 2 0.6 2 0.6 2 0.6 2 0.5 2 0.6 2 0.6 2 0.5 2 0.6 2 0.5 2 0.6 2 0.5 2 0.5 2 0.6 2 0.5 2 0.5 2 0.5 2 0.5 2 0.5 2 0.5 2 0.5 2 0.5 2 0.5 2 0.5 2 0.4 2 0.5 2 0.4 2 0.5 2 0.4 2 0.5 2 0.4 2 0.4 2 0.4 2 0.4 2 0.4 2 0.4 2 0.4 2 0.4 2 0.4 2 0.4 2 0.3 2 0.4 2 0.4 2 0.3 2 0.3 2 0.4 2 0.3 2 0.3 2 0.4 2 0.3 2 0.3 2 0.3 2 0.3 2 0.3 2 0.2 2 0.3 2 0.3 2 0.3 2 0.2 2 0.3 2 0.2 2 0.3 2 0.2 2 0.2 2 0.3 2 0.2 2 0.2 2 0.2 2 0.2 2 0.3 2 0.2 2 0.2 2 0.1 2 0.2 2 0.2 2 0.2 2 0.2 2 0.2 2 0.1 2 0.2 2 0.1 2 0.2 2 0.2 2 0.1 2 0.2 2 0.1 2 0.1 2 0.2 2 0.1 2 0.1 2 0.2 2 0.1 2 0.1 2 0.1 2 0.2 2 0.1 2 0.1 2 0.1 2 0.1 2 0.1 2 0.1 2 0.1 2 0.1 2 0.1 2 0.1 2 0.1 2 0.1 2 0.1 2 0 2 0.1 2 0.1 2 0.1 2 0.1 2 0.1 2 0 2 0.1 2 0.1 2 0 2 0.1 2 0.1 2 0.1 2 0 2 0.1 2 0 2 0.1 2 0.1 2 0 2 0.1 2 0 2 0.1 2 0.1 2 0 2 0.1 2 0 2 0.1 2 0 2 0.1 2 0 2 0.1 2 0 2 0.1 2 0 2 0.1 2 0 2 0.1 2 0 2 0.1 2 0 2 0.1 2 0 2 0 2 0.1 2 0 2 0.1 2 0 2 0.1 L1229,476.5 1223,476.4 1217,476.3 1211,476.2 1205,476.1 1199,476 1193,475.9 1187,475.8 1181,475.7 1175,475.6 1169,475.5 1163,475.4 1157,475.3 1151,475.2 1145,475.1 1139,475 1133,474.9 1127,474.8 1121,474.7 1115,474.6 1109,474.5 1103,474.4 1097,474.3 1091,474.2 1085,474.1 1079,474 1073,473.9 1067,473.8 1061,473.7 1055,473.6 1049,473.5 1043,473.4 1037,473.3 1031,473.2 1025,473.1 1019,472.9 1013,472.8 1007,472.7 1001,472.6 995,472.5 989,472.4 983,472.3 977,472.2 971,472.1 965,472 959,471.9 953,471.8 947,471.7 941,471.6 935,471.5 929,471.4 923,471.3 917,471.2 911,471.1 905,471 899,470.9 893,470.8 887,470.7 881,470.6 875,470.5 869,470.4 863,470.3 857,470.2 851,470.1 845,470 839,469.9 833,469.8 827,469.7 821,469.6 815,469.5 809,469.4 803,469.3 797,469.2 791,469.1 785,469 779,468.9 773,468.8 767,468.7 761,468.6 755,468.5 749,468.4 743,468.3 737,468.2 731,468.1 725,468 719,467.9 713,467.8 707,467.7 701,467.5 695,467.4 689,467.3 683,467.2 677,467.1 671,467 665,466.9 659,466.8 653,466.7 647,466.6 641,466.5 635,466.4 629,466.3 623,466.2 617,466.1 611,466 605,465.9 599,465.8 593,465.7 587,465.6 581,465.5 575,465.5 569,465.4 563,465.3 557,465.3 551,465.2 545,465.2 539,465.2 533,465.1 527,465.1 521,465.1 515,465.1 509,465.1 503,465.1 497,465.1 491,465.1 485,465.1 479,465.1 473,465.1 467,465.1 461,465.1 455,465 449,465 443,465 437,465 431,465 425,465 419,464.9 413,464.8 407,464.8 401,464.7 395,464.5 389,464.4 383,464.3 377,464.1 371,463.9 365,463.8 359,463.5 353,463.3 347,463 341,462.7 335,462.4 329,462 323,461.5 317,461.1 311,460.6 305,460.1 299,459.6 293,459 287,458.5 281,457.9 275,457.4 269,456.9 263,456.4 257,456 251,455.7 245,455.5 239,455.3 233,455.3 227,455.4 221,455.5 215,455.7 209,455.9 203,456.1 197,456.4 191,456.6 185,456.9 179,457.1 173,457.2 167,457.3 161,457.4 155,457.4 149,457.3 143,457.2 137,457 131,456.8 125,456.5 119,456.2 113,456 107,455.7 101,455.5 95,455.3Z" fill="url(#gr)"/>
<path d="M95,456l0.8 1.6 0.7 -2.7 0.8 -0.1 0.7 0.6 0.8 0 0.8 -1.1 0.7 1.3 0.8 1.8 0.7 0.4 0.8 -0.5 0.8 -1.7 0.7 0.5 0.8 0.9 0.7 3.7 0.8 1.2 0.8 -1.4 0.7 1 0.8 -3.3 0.7 -1.6 0.8 -1.5 0.8 2 0.7 -0.6 0.8 0.6 0.7 0.3 0.8 -2 0.8 -1.9 0.7 1.5 0.8 0.4 0.7 0.5 0.8 0.8 0.8 -1.5 0.7 0.4 0.8 3.6 0.7 -0.9 0.8 -3.2 0.8 -2 0.7 1.1 0.8 2.2 0.7 2.2 0.8 2.2 0.8 -4.4 0.7 -0.7 0.8 -0.7 0.7 0.4 0.8 -1.1 0.8 -0.7 0.7 3.3 0.8 -0.3 0.7 0.9 0.8 -2.8 0.8 0.8 0.7 -0.2 0.8 -4.6 0.7 1.1 0.8 4.4 0.8 -0.9 0.7 -3.3 0.8 1.4 0.7 0.5 0.8 2.2 0.8 3.5 0.7 -1.9 0.8 3 0.7 -3.6 0.8 -0.9 0.8 4.2 0.7 0.2 0.8 1.1 0.7 1.3 0.8 -1.1 0.8 -1.3 0.7 -5.2 0.8 1.2 0.7 3 0.8 0.4 0.8 0.3 0.7 -1.4 0.8 3 0.7 1.8 0.8 -2.3 0.8 -0.4 0.7 -0.3 0.8 0.4 0.7 -1.4 0.8 -1.3 0.8 1.1 0.7 -0.5 0.8 -2.5 0.7 2.5 0.8 0.2 0.8 -0.5 0.7 -1.5 0.8 1.2 0.7 -0.4 0.8 -2.6 0.8 1.3 0.7 1.3 0.8 -0.6 0.7 -3.2 0.8 -0.2 0.8 1.9 0.7 0.5 0.8 5.3 0.7 -4.7 0.8 -0.7 0.8 2.4 0.7 -2.5 0.8 -3.3 0.7 3.1 0.8 -0.5 0.8 0 0.7 -1.7 0.8 1.3 0.7 1.9 0.8 -0.1 0.8 -1.9 0.7 0 0.8 0.2 0.7 1.5 0.8 -1 0.8 -1.8 0.7 2.3 0.8 -1.6 0.7 0.6 0.8 -1.6 0.8 1.6 0.7 -0.2 0.8 0.5 0.7 1.1 0.8 0.1 0.8 -0.5 0.7 -0.6 0.8 -2.1 0.7 0.8 0.8 -3.4 0.8 0.1 0.7 4.2 0.8 2.3 0.7 3.4 0.8 -0.3 0.8 0.1 0.7 -2.1 0.8 1.3 0.7 1.6 0.8 -1.1 0.8 -0.9 0.7 -1.3 0.8 -2.4 0.7 -1 0.8 -0.5 0.8 2.8 0.7 -1 0.8 -0.9 0.7 1.2 0.8 -0.8 0.8 2.9 0.7 1.6 0.8 -3.3 0.7 -3.6 0.8 -0.5 0.8 5.8 0.7 -2.1 0.8 -2.8 0.7 2.5 0.8 -3.6 0.8 1.5 0.7 1.1 0.8 -0.4 0.7 0.2 0.8 5.4 0.8 -3.6 0.7 -0.2 0.8 -1.5 0.7 -3.3 0.8 1.3 0.8 2 0.7 0.8 0.8 -2.3 0.7 0.2 0.8 -0.8 0.8 -0.1 0.7 -4.2 0.8 4.1 0.7 -0.9 0.8 -1.7 0.8 -3.7 0.7 3.4 0.8 5.1 0.7 2.8 0.8 -5.2 0.8 -0.9 0.7 2.2 0.8 -0.4 0.7 -1.7 0.8 0.4 0.8 0.4 0.7 2.3 0.8 1.7 0.7 2.1 0.8 -1 0.8 -0.7 0.7 -0.4 0.8 0.6 0.7 -1.9 0.8 4.5 0.8 -1.8 0.7 0 0.8 -3.4 0.7 2 0.8 -0.9 0.8 -2 0.7 -1.4 0.8 0.7 0.7 5.3 0.8 -0.1 0.8 -2.2 0.7 -0.5 0.8 -2.1 0.7 -2.3 0.8 0.4 0.8 2.9 0.7 1.1 0.8 -0.7 0.7 3.4 0.8 0.2 0.8 -1.9 0.7 -3.4 0.8 2.1 0.7 0.4 0.8 -3 0.8 -0.5 0.7 7.1 0.8 -1.1 0.7 -1.6 0.8 3.4 0.8 -0.2 0.7 -1.4 0.8 -0.2 0.7 1.7 0.8 1.2 0.8 -2.4 0.7 -0.7 0.8 -0.1 0.7 -5 0.8 4.1 0.8 0.8 0.7 0.7 0.8 0.3 0.7 1 0.8 0 0.8 -0.2 0.7 0 0.8 0.6 0.7 -0.9 0.8 1.2 0.8 -3.8 0.7 2.7 0.8 0.6 0.7 -2.9 0.8 1.8 0.8 3.2 0.7 -2.5 0.8 -3.5 0.7 -3.1 0.8 5.5 0.8 1.5 0.7 1.7 0.8 2.2 0.7 -3.4 0.8 -1.1 0.8 -1.2 0.7 0.8 0.8 0.7 0.7 1.3 0.8 -0.9 0.8 -2.7 0.7 0.7 0.8 2.8 0.7 -2.8 0.8 3.1 0.8 2.5 0.7 -1.3 0.8 -0.3 0.7 2 0.8 -1.3 0.8 -1 0.7 0.3 0.8 2.6 0.7 0.2 0.8 0.5 0.8 -3.6 0.7 -1.2 0.8 -0.2 0.7 0.7 0.8 -1 0.8 2.4 0.7 -1.1 0.8 -4 0.7 -4.2 0.8 3 0.8 6.4 0.7 -1.3 0.8 -0.6 0.7 -0.7 0.8 0.4 0.8 -4.2 0.7 -0.8 0.8 2 0.7 4.5 0.8 2.4 0.8 -0.1 0.7 -1.8 0.8 -1.7 0.7 2.9 0.8 -1.3 0.8 -0.3 0.7 -0.4 0.8 -1 0.7 -0.5 0.8 0.2 0.8 -0.1 0.7 3.2 0.8 1 0.7 1.3 0.8 -3.3 0.8 4.3 0.7 -1 0.8 -1.2 0.7 -1.6 0.8 -0.9 0.8 -0.4 0.7 3.9 0.8 -0.8 0.7 1.4 0.8 0.1 0.8 -2.3 0.7 0 0.8 0.9 0.7 2.6 0.8 -1 0.8 -0.1 0.7 0.5 0.8 -0.6 0.7 2 0.8 -4.4 0.8 2.5 0.7 -0.3 0.8 -4.4 0.7 2.3 0.8 0.1 0.8 0 0.7 -3 0.8 1.7 0.7 -1 0.8 2 0.8 3.4 0.7 -3.2 0.8 -4.6 0.7 0.7 0.8 1.9 0.8 3.6 0.7 -2.9 0.8 -1.3 0.7 4.7 0.8 -0.3 0.8 -0.8 0.7 -1.3 0.8 2.9 0.7 -3.4 0.8 -4.6 0.8 0.4 0.7 0.8 0.8 1.7 0.7 1.3 0.8 -2.5 0.8 1.1 0.7 5 0.8 -3 0.7 -1.7 0.8 0.4 0.8 -1.2 0.7 3.3 0.8 1 0.7 -2.2 0.8 1.7 0.8 -1.7 0.7 -0.2 0.8 -2.1 0.7 -1.3 0.8 -0.8 0.8 2.6 0.7 -0.4 0.8 -0.8 0.7 -1.9 0.8 -0.1 0.8 2 0.7 3 0.8 0.5 0.7 -0.8 0.8 3.1 0.8 3.5 0.7 -0.9 0.8 2.9 0.7 -1.3 0.8 0.5 0.8 -2.3 0.7 1.4 0.8 -3.3 0.7 1.3 0.8 -1.5 0.8 -3.7 0.7 1.5 0.8 4.8 0.7 0.1 0.8 0.5 0.8 -3.5 0.7 -5.4 0.8 4.5 0.7 -0.1 0.8 -0.1 0.8 0 0.7 -0.7 0.8 0.4 0.7 3.9 0.8 -1.4 0.8 -2.9 0.7 0.2 0.8 2.3 0.7 -1.1 0.8 -1.8 0.8 -2.9 0.7 0.3 0.8 -1.4 0.7 -0.5 0.8 5 0.8 -0.8 0.7 -0.7 0.8 0.1 0.7 4.2 0.8 3.1 0.8 -2.1 0.7 -1.1 0.8 -3.7 0.7 1.6 0.8 1.1 0.8 1.4 0.7 -3.4 0.8 -2.8 0.7 0.7 0.8 0.3 0.8 3 0.7 -0.8 0.8 -1.1 0.7 0.1 0.8 1 0.8 -2.3 0.7 -1.6 0.8 -0.4 0.7 5.7 0.8 0.3 0.8 -0.4 0.7 -0.6 0.8 1.5 0.7 -3.6 0.8 1.9 0.8 -3 0.7 -0.5 0.8 -0.6 0.7 2.3 0.8 0.5 0.8 1 0.7 -2 0.8 -1.1 0.7 3.8 0.8 1.9 0.8 -1.6 0.7 -2.2 0.8 -1.1 0.7 -3.8 0.8 2.3 0.8 3.3 0.7 -1.2 0.8 -1.9 0.7 2.8 0.8 -0.3 0.8 0.5 0.7 -3.2 0.8 1.3 0.7 2.2 0.8 0.5 0.8 0.1 0.7 -1.2 0.8 -0.4 0.7 1.4 0.8 -0.1 0.8 -4 0.7 1.4 0.8 1.1 0.7 1.3 0.8 0.9 0.8 -3.4 0.7 1.5 0.8 -3.3 0.7 0.9 0.8 0.9 0.8 0.3 0.7 -0.8 0.8 0 0.7 0.3 0.8 -0.5 0.8 -2.8 0.7 0.8 0.8 2.9 0.7 2.9 0.8 2.5 0.8 2.5 0.7 -5.3 0.8 -3.1 0.7 1.4 0.8 0.8 0.8 -1.9 0.7 -2.5 0.8 1.2 0.7 -0.1 0.8 -2.5 0.8 1.2 0.7 3.6 0.8 -4.3 0.7 3.1 0.8 1.1 0.8 2.7 0.7 -1.8 0.8 -2.6 0.7 2.4 0.8 -1.7 0.8 4 0.7 -0.4 0.8 -3.3 0.7 0.6 0.8 -1.2 0.8 -1.4 0.7 3.3 0.8 0 0.7 0.6 0.8 0.8 0.8 0.5 0.7 -1.4 0.8 -2.6 0.7 -0.3 0.8 0.2 0.8 -1.1 0.7 0.4 0.8 3.4 0.7 -1.1 0.8 0.7 0.8 -4.4 0.7 -0.2 0.8 -0.5 0.7 0 0.8 0.3 0.8 0.4 0.7 0.7 0.8 3.9 0.7 -1.8 0.8 -3.2 0.8 0.4 0.7 2.6 0.8 -0.3 0.7 -1.7 0.8 1.3 0.8 -3.5 0.7 1.8 0.8 2.8 0.7 -6.4 0.8 3.3 0.8 3.1 0.7 -1.9 0.8 -1.8 0.7 -1 0.8 -1.9 0.8 1.8 0.7 3 0.8 -0.1 0.7 0.8 0.8 0.2 0.8 -0.2 0.7 -3.3 0.8 1.5 0.7 0.2 0.8 -0.7 0.8 -2.3 0.7 -2.1 0.8 4.6 0.7 2 0.8 2 0.8 -2.5 0.7 0.2 0.8 -2.4 0.7 -2.2 0.8 0.3 0.8 -2.3 0.7 1.7 0.8 -0.5 0.7 -1 0.8 4 0.8 0.6 0.7 -1.2 0.8 0.8 0.7 0.9 0.8 -3.8 0.8 -3.4 0.7 0.8 0.8 2.8 0.7 -1.4 0.8 -2.9 0.8 3.8 0.7 -0.5 0.8 1.8 0.7 -1.1 0.8 -3.1 0.8 0.2 0.7 -1.1 0.8 0.2 0.7 1.9 0.8 2.8 0.8 1.4 0.7 -3.3 0.8 1.8 0.7 -0.9 0.8 -0.3 0.8 1.6 0.7 -1.6 0.8 1.9 0.7 -2.9 0.8 -1.2 0.8 1.9 0.7 -3.7 0.8 -0.5 0.7 1.8 0.8 0.1 0.8 -1.9 0.7 -3.9 0.8 0.9 0.7 3.8 0.8 0 0.8 -2.7 0.7 1.8 0.8 0.9 0.7 0.9 0.8 -2 0.8 2.9 0.7 -1.5 0.8 2.6 0.7 -1.1 0.8 -3.8 0.8 0.8 0.7 1.8 0.8 0.5 0.7 -4.2 0.8 1.1 0.8 2.5 0.7 -0.4 0.8 -3 0.7 0.4 0.8 2.4 0.8 -1.3 0.7 2.5 0.8 1.9 0.7 -2.7 0.8 -3.9 0.8 6.4 0.7 1.8 0.8 -0.1 0.7 -2.9 0.8 -4.5 0.8 3.8 0.7 -0.9 0.8 -0.3 0.7 -2.2 0.8 -0.8 0.8 1.1 0.7 3.5 0.8 -1.6 0.7 -1.8 0.8 -1.4 0.8 2.9 0.7 -0.2 0.8 0.1 0.7 1.1 0.8 -1.2 0.8 -2.3 0.7 -0.7 0.8 -0.6 0.7 0.5 0.8 -0.7 0.8 -2.2 0.7 -1.8 0.8 2.6 0.7 -0.3 0.8 -3.4 0.8 1.4 0.7 -2 0.8 -3.2 0.7 3.8 0.8 1.9 0.8 -3.2 0.7 -0.3 0.8 2.1 0.7 -3.7 0.8 -0.7 0.8 1.7 0.7 2.1 0.8 0 0.7 -2.1 0.8 0.4 0.8 1.1 0.7 -0.5 0.8 -0.9 0.7 0.7 0.8 3.4 0.8 0.8 0.7 4.7 0.8 -3.9 0.7 -3.9 0.8 0.5 0.8 0.6 0.7 -0.2 0.8 -0.5 0.7 -0.7 0.8 -1.2 0.8 1.7 0.7 1.9 0.8 -4.9 0.7 -1 0.8 2.1 0.8 1.1 0.7 -0.7 0.8 -0.4 0.7 -2.7 0.8 -0.9 0.8 1.4 0.7 0.6 0.8 1.5 0.7 -2 0.8 -6.2 0.8 2.2 0.7 -3 0.8 -2.9 0.7 3.8 0.8 -0.2 0.8 -1.2 0.7 -1.8 0.8 0.5 0.7 1.3 0.8 -1.3 0.8 2.4 0.7 1.1 0.8 -0.1 0.7 0.7 0.8 -1 0.8 -2.3 0.7 0.3 0.8 2.8 0.7 1.7 0.8 -1.9 0.8 -1.7 0.7 -0.4 0.8 -3.6 0.7 0.6 0.8 1.5 0.8 0.5 0.7 -0.7 0.8 -0.9 0.7 -1.8 0.8 0.9 0.8 0.6 0.7 -3.7 0.8 0.5 0.7 2.9 0.8 3.7 0.8 -0.3 0.7 1.3 0.8 -1 0.7 -3.8 0.8 -0.9 0.8 -1.3 0.7 3.5 0.8 -0.5 0.7 -1.2 0.8 -0.8 0.8 -1.2 0.7 -1.1 0.8 0 0.7 0.8 0.8 -3.8 0.8 -0.9 0.7 2.9 0.8 2.8 0.7 -1.1 0.8 -0.5 0.8 1.9 0.7 -1.8 0.8 -3.9 0.7 0.2 0.8 -1.1 0.8 2.8 0.7 0.4 0.8 1.9 0.7 1.9 0.8 -5 0.8 -0.8 0.7 -2.1 0.8 -4.3 0.7 2.9 0.8 1.7 0.8 1.8 0.7 -1.7 0.8 -0.1 0.7 3.6 0.8 -0.4 0.8 -1.7 0.7 0.1 0.8 1.4 0.7 2.5 0.8 0 0.8 -4.7 0.7 2.5 0.8 -1.4 0.7 -0.2 0.8 0.1 0.8 -3 0.7 1.4 0.8 -3.3 0.7 0.3 0.8 0.7 0.8 4.8 0.7 0.6 0.8 -2.1 0.7 -1.6 0.8 -1.2 0.8 4 0.7 0.2 0.8 -1.7 0.7 -2.3 0.8 -0.7 0.8 1.2 0.7 2 0.8 -3.2 0.7 1.9 0.8 3.3 0.8 -0.4 0.7 0.5 0.8 -2.5 0.7 -0.6 0.8 1 0.8 -1.8 0.7 -2.2 0.8 -3.2 0.7 -1.8 0.8 3.8 0.8 -3.3 0.7 -1.5 0.8 1.8 0.7 -3.3 0.8 -1.6 0.8 1.5 0.7 1.5 0.8 1 0.7 0.8 0.8 0.3 0.8 -1.9 0.7 0 0.8 -1.2 0.7 -1.1 0.8 1.7 0.8 1 0.7 2.2 0.8 -2.6 0.7 -2.6 0.8 1.5 0.8 -0.2 0.7 1.6 0.8 -5.4 0.7 0.3 0.8 0.6 0.8 1.1 0.7 -1.1 0.8 -3.4 0.7 -0.3 0.8 4.8 0.8 3.8 0.7 -0.1 0.8 -3.1 0.7 0.2 0.8 -2.6 0.8 -0.7 0.7 4.5 0.8 -0.7 0.7 -2.6 0.8 -0.3 0.8 2.1 0.7 -1 0.8 -1.4 0.7 0.7 0.8 -0.7 0.8 -1.4 0.7 -0.6 0.8 1.8 0.7 -3 0.8 -1.3 0.8 4.9 0.7 -0.3 0.8 -2.1 0.7 -1.4 0.8 -0.4 0.8 -2.1 0.7 2.5 0.8 1.4 0.7 -0.2 0.8 0.6 0.8 -1.4 0.7 0.6 0.8 -2 0.7 2.1 0.8 -0.5 0.8 -1.1 0.7 1.8 0.8 1.1 0.7 -0.3 0.8 2 0.8 -1.7 0.7 2.3 0.8 -0.4 0.7 -2 0.8 1.7 0.8 -4.2 0.7 1.5 0.8 -0.5 0.7 -0.9 0.8 -5.1 0.8 -1.1 0.7 0.5 0.8 1.3 0.7 0 0.8 -0.7 0.8 -1.1 0.7 -1.6 0.8 -1.3 0.7 1.8 0.8 2.3 0.8 0.4 0.7 -2.5 0.8 0.7 0.7 -3.6 0.8 1.7 0.8 -2.6 0.7 0.8 0.8 -2.1 0.7 -0.6 0.8 1.7 0.8 3.1 0.7 -2.6 0.8 1.4 0.7 -0.3 0.8 -0.1 0.8 0.1 0.7 -0.6 0.8 -3.4 0.7 1.3 0.8 0.2 0.8 -1.8 0.7 0.3 0.8 -1.8 0.7 1.9 0.8 -1.8 0.8 0.7 0.7 2.5 0.8 0.4 0.7 -3.1 0.8 -0.2 0.8 1.3 0.7 -5 0.8 6.3 0.7 0.5 0.8 -3.9 0.8 2.6 0.7 -0.9 0.8 -1.9 0.7 -5 0.8 2 0.8 1.1 0.7 -0.6 0.8 -0.3 0.7 -1.3 0.8 -4 0.8 3.7 0.7 0.6 0.8 0.7 0.7 -0.4 0.8 0.8 0.8 1.4 0.7 1.5 0.8 -3.5 0.7 2.3 0.8 -3.5 0.8 -3.1 0.7 -1 0.8 2.5 0.7 -3.1 0.8 2.7 0.8 -1 0.7 -2.8 0.8 -0.7 0.7 1.7 0.8 -0.2 0.8 0.5 0.7 -1.5 0.8 -0.8 0.7 1.3 0.8 -1.5 0.8 3.4 0.7 -0.6 0.8 -2.1 0.7 0.4 0.8 1.1 0.8 -0.7 0.7 5.6 0.8 -0.2 0.7 -3.9 0.8 1.7 0.8 3.2 0.7 -2.7 0.8 -4.3 0.7 -3 0.8 1.6 0.8 5.4 0.7 -1.2 0.8 -2.7 0.7 2.7 0.8 -1.3 0.8 -1 0.7 0.2 0.8 1.2 0.7 2.9 0.8 -4 0.8 0.7 0.7 3.9 0.8 0.2 0.7 -3.2 0.8 4.6 0.8 -1.4 0.7 -3.8 0.8 4 0.7 -3.7 0.8 2.1 0.8 -2.8 0.7 -0.8 0.8 4.9 0.7 0.2 0.8 -1.1 0.8 0 0.7 -0.6 0.8 -0.9 0.7 -0.9 0.8 2.7 0.8 -0.3 0.7 -0.7 0.8 -0.3 0.7 0.3 0.8 -1.2 0.8 2.1 0.7 1 0.8 3.7 0.7 -2.8 0.8 0.3 0.8 1.7 0.7 1.6 0.8 -0.6 0.7 0 0.8 3.2 0.8 -2.8 0.7 1.3 0.8 3.8 0.7 -4.5 0.8 2.4 0.8 -0.4 0.7 -2.8 0.8 1.7 0.7 2.6 0.8 -2.9 0.8 2.3 0.7 2.5 0.8 -1.3 0.7 0.1 0.8 -1.4 0.8 -0.2 0.7 0.3 0.8 1.3 0.7 2.1 0.8 0.6 0.8 3.1 0.7 -1.7 0.8 0 0.7 3.1 0.8 -3.9 0.8 -1.7 0.7 1.3 0.8 -0.8 0.7 3.6 0.8 2.8 0.8 -0.8 0.7 -1.6 0.8 1.2 0.7 2.6 0.8 1.6 0.8 -2.2 0.7 0.4 0.8 2.9 0.7 -0.8 0.8 0 0.8 -0.2 0.7 -2 0.8 1.5 0.7 2.5 0.8 -1.4 0.8 0.2 0.7 1.9 0.8 2.4 0.7 3.8 0.8 -4 0.8 2.4 0.7 4.6 0.8 -1.5 0.7 0.2 0.8 -0.9 0.8 5.3 0.7 2.2 0.8 0.5 0.7 -1 0.8 1.1 0.8 0.3 0.7 1.5 0.8 -0.7 0.7 0.3 0.8 -3.1 0.8 0.1 0.7 -2.8 0.8 5.3 0.7 3.4 0.8 0.4 0.8 3.8 0.7 -4.5 0.8 -0.1 0.7 -0.2 0.8 1.1 0.8 0.2 0.7 -1.2 0.8 2.7 0.7 6 0.8 -1.8 0.8 0.9 0.7 -2.6 0.8 2.2 0.7 1.9 0.8 -1.1 0.8 -0.8 0.7 0.7 0.8 1 0.7 2 0.8 0 0.8 -5.1 0.7 -1.5 0.8 4 0.7 2.3 0.8 2.4 0.8 1 0.7 -1.2 0.8 4.7 0.7 -2.4 0.8 -2.8 0.8 5.1 0.7 0.6 0.8 -0.7 0.7 -2.9 0.8 2 0.8 1.4 0.7 -0.1 0.8 1.7 0.7 1.7 0.8 0.8 0.8 -0.9 0.7 -1.5 0.8 3 0.7 -0.9 0.8 0.7 0.8 -1.7 0.7 -2.6 0.8 -0.6 0.7 4.6 0.8 0.1 0.8 1.6 0.7 1.1 0.8 -4.4 0.7 -0.4 0.8 4.3 0.8 1.4 0.7 -0.9 0.8 -0.7 0.7 -0.8 0.8 3.1 0.8 1 0.7 3.3 0.8 1.8 0.7 -1.5 0.8 1.8 0.8 0.8 0.7 1.7 0.8 1.6 0.7 -1.2 0.8 -0.3 0.8 -0.3 0.7 -2.1 0.8 0.6 0.7 1.7 0.8 2.5 0.8 1.5 0.7 0.7 0.8 -5.4 0.7 0 0.8 -2 0.8 1.3 0.7 0 0.8 5.2 0.7 -0.2 0.8 -3 0.8 2.3 0.7 2.1 0.8 2 0.7 -1.5 0.8 -1.8 0.8 -0.2 0.7 1.5 0.8 -0.4 0.7 -1.9 0.8 -0.6 0.8 3.6 0.7 -2.2 0.8 0.7 0.7 2.1 0.8 -0.4 0.8 1.1 0.7 -2.9 0.8 1.8 0.7 -3.3 0.8 -1.1 0.8 1.4 0.7 2.2 0.8 -1.4 0.7 -0.6 0.8 3.9 0.8 -2.7 0.7 1 0.8 0.9 0.7 -0.8 0.8 1.5 0.8 0.6 0.7 -0.7 0.8 1.1 0.7 -2.9 0.8 -1 0.8 2 0.7 -0.6 0.8 2.4 0.7 0.2 0.8 0.2 0.8 2.5 0.7 -0.8 0.8 -5.3 0.7 4.3 0.8 2.7 0.8 0.8 0.7 -2 0.8 -1 0.7 2.7 0.8 0.5 0.8 -5.1 0.7 0.1 0.8 0.9 0.7 -2.9 0.8 3.5 0.8 2.8 0.7 -2.7 0.8 1.1 0.7 -0.7 0.8 2.6 0.8 2 0.7 1.4 0.8 -1.1 0.7 1.6 0.8 -0.8 0.8 -0.8 0.7 2.8 0.8 -2.7 0.7 1.8 0.8 4.3 0.8 -3 0.7 -3.9 0.8 0.7 0.7 -1.4 0.8 -0.7 0.8 -2.2 0.7 1.5 0.8 -2.1 0.7 2.8 0.8 1.1 0.8 1.6 0.7 1.1 0.8 -7 0.7 -0.8 0.8 1.1 0.8 2 0.7 2.9 0.8 -1.5 0.7 -1 0.8 -0.6 0.8 1.2 0.7 1 0.8 0.2 0.7 -1.8 0.8 2.4 0.8 1.8 0.7 -1.1 0.8 -2.4 0.7 3.2 0.8 0.7 0.8 -1.9 0.7 -3.5 0.8 -0.4 0.7 2.5 0.8 -1.4 0.8 0.1 0.7 4.6 0.8 1.1 0.7 -0.2 0.8 1 0.8 -1.6 0.7 -3.4 0.8 3 0.7 -0.8 0.8 0.6 0.8 1.8 0.7 -1.2 0.8 1 0.7 -2.9 0.8 -1.8 0.8 -0.7 0.7 0.2 0.8 -2 0.7 2.5 0.8 0.6 0.8 -1.7 0.7 -3.6 0.8 0.8 0.7 5.1 0.8 -0.8 0.8 3 0.7 -2.5 0.8 0.3 0.7 -2.5 0.8 1.3 0.8 2.1 0.7 2.9 0.8 2.8 0.7 -1.7 0.8 -4.1 0.8 1.9 0.7 0.3 0.8 -0.3 0.7 2.7 0.8 1.5 0.8 -3.1 0.7 2.2 0.8 -0.2 0.7 -3.7 0.8 4.2 0.8 0.2 0.7 -2.5 0.8 1.3 0.7 -1.9 0.8 1 0.8 -1.2 0.7 -2.5 0.8 1.6 0.7 -0.2 0.8 -1 0.8 -1.3 0.7 0.2 0.8 0.4 0.7 2.9 0.8 -4.2 0.8 2.1 0.7 -0.9 0.8 -0.7 0.7 3 0.8 -1 0.8 2.9 0.7 -1.3 0.8 0.5 0.7 0 0.8 1.8 0.8 0.5 0.7 -2.4 0.8 1.1 0.7 2.6 0.8 -2.9 0.8 2.3 0.7 -3.7 0.8 -2.4 0.7 -2.4 0.8 0.4 0.8 -1.1 0.7 2.4 0.8 2.8 0.7 -1 0.8 -1.5 0.8 -0.7 0.7 0.4 0.8 -0.9 0.7 2 0.8 6.2 0.8 -2.2 0.7 -2.1 0.8 3.3 0.7 1.6 0.8 -3.5 0.8 -0.3 0.7 -2 0.8 0.5 0.7 7.2 0.8 3.8 0.8 -7.7 0.7 -2.4 0.8 5.5 0.7 0.4 0.8 -1.1 0.8 0.6 0.7 -3.3 0.8 0.3 0.7 0.4 0.8 -2 0.8 0.3 0.7 -1.1 0.8 0.6 0.7 -1.7 0.8 -3.7 0.8 2.2 0.7 -1.8 0.8 0.1 0.7 0 0.8 4.4 0.8 -0.9 0.7 0.5 0.8 3.4 0.7 -0.4 0.8 -2.7 0.8 -2.6 0.7 4.6 0.8 -0.3 0.7 0.2 0.8 1.7 0.8 -1.8 0.7 0.9 0.8 1.9 0.7 -0.9 0.8 -1.9 0.8 3.2 0.7 0.6 0.8 0.2 0.7 -3.5 0.8 0.1 0.8 1.8 0.7 -0.7 0.8 -0.8 0.7 -0.5 0.8 -0.6 0.8 -0.8 0.7 0.2 0.8 1.6 0.7 -1.7 0.8 -2.2 0.8 3 0.7 3.6" fill="none" stroke="#00ffff" stroke-width="3.6" stroke-linejoin="round"/>
<path d="M95,455.3l2 0 2 0.1 2 0.1 2 0 2 0.1 2 0.1 2 0.1 2 0.1 2 0.1 2 0.1 2 0 2 0.1 2 0.1 2 0.1 2 0.1 2 0.1 2 0.1 2 0.1 2 0 2 0.1 2 0.1 2 0.1 2 0 2 0.1 2 0 2 0.1 2 0 2 0 2 0.1 2 0 2 0 2 0 2 0 2 0 2 0 2 -0.1 2 0 2 0 2 -0.1 2 0 2 -0.1 2 0 2 -0.1 2 -0.1 2 0 2 -0.1 2 -0.1 2 -0.1 2 0 2 -0.1 2 -0.1 2 -0.1 2 -0.1 2 -0.1 2 0 2 -0.1 2 -0.1 2 -0.1 2 0 2 -0.1 2 -0.1 2 0 2 -0.1 2 -0.1 2 0 2 0 2 -0.1 2 0 2 0 2 0 2 0 2 0 2 0.1 2 0 2 0.1 2 0 2 0.1 2 0.1 2 0.1 2 0.1 2 0.1 2 0.1 2 0.2 2 0.1 2 0.2 2 0.1 2 0.2 2 0.1 2 0.2 2 0.2 2 0.2 2 0.1 2 0.2 2 0.2 2 0.2 2 0.2 2 0.1 2 0.2 2 0.2 2 0.2 2 0.2 2 0.1 2 0.2 2 0.2 2 0.1 2 0.2 2 0.2 2 0.1 2 0.2 2 0.2 2 0.1 2 0.2 2 0.1 2 0.1 2 0.2 2 0.1 2 0.2 2 0.1 2 0.1 2 0.1 2 0.1 2 0.1 2 0.1 2 0.1 2 0.1 2 0.1 2 0.1 2 0.1 2 0.1 2 0.1 2 0 2 0.1 2 0.1 2 0 2 0.1 2 0 2 0.1 2 0 2 0.1 2 0 2 0.1 2 0 2 0 2 0.1 2 0 2 0 2 0 2 0.1 2 0 2 0 2 0 2 0 2 0.1 2 0 2 0 2 0 2 0 2 0 2 0 2 -0.1 2 0 2 0 2 0 2 0 2 -0.1 2 0 2 0 2 -0.1 2 0 2 0 2 -0.1 2 0 2 -0.1 2 0 2 -0.1 2 0 2 -0.1 2 -0.1 2 0 2 -0.1 2 -0.1 2 0 2 -0.1 2 -0.1 2 -0.1 2 0 2 -0.1 2 -0.1 2 -0.1 2 -0.1 2 -0.1 2 -0.1 2 -0.1 2 -0.1 2 -0.1 2 -0.1 2 -0.2 2 -0.1 2 -0.1 2 -0.1 2 -0.2 2 -0.1 2 -0.1 2 -0.2 2 -0.1 2 -0.2 2 -0.1 2 -0.2 2 -0.1 2 -0.2 2 -0.2 2 -0.2 2 -0.1 2 -0.2 2 -0.2 2 -0.2 2 -0.2 2 -0.2 2 -0.2 2 -0.2 2 -0.3 2 -0.2 2 -0.2 2 -0.2 2 -0.3 2 -0.2 2 -0.3 2 -0.2 2 -0.3 2 -0.2 2 -0.3 2 -0.3 2 -0.3 2 -0.2 2 -0.3 2 -0.3 2 -0.3 2 -0.3 2 -0.3 2 -0.3 2 -0.3 2 -0.4 2 -0.3 2 -0.3 2 -0.3 2 -0.4 2 -0.3 2 -0.4 2 -0.4 2 -0.3 2 -0.4 2 -0.4 2 -0.4 2 -0.3 2 -0.4 2 -0.4 2 -0.5 2 -0.4 2 -0.4 2 -0.4 2 -0.4 2 -0.5 2 -0.4 2 -0.5 2 -0.4 2 -0.5 2 -0.4 2 -0.5 2 -0.5 2 -0.5 2 -0.5 2 -0.4 2 -0.5 2 -0.5 2 -0.5 2 -0.5 2 -0.5 2 -0.5 2 -0.6 2 -0.5 2 -0.5 2 -0.5 2 -0.5 2 -0.6 2 -0.5 2 -0.5 2 -0.6 2 -0.5 2 -0.5 2 -0.6 2 -0.5 2 -0.5 2 -0.6 2 -0.5 2 -0.5 2 -0.5 2 -0.6 2 -0.5 2 -0.5 2 -0.6 2 -0.5 2 -0.5 2 -0.5 2 -0.5 2 -0.5 2 -0.5 2 -0.5 2 -0.5 2 -0.5 2 -0.5 2 -0.4 2 -0.5 2 -0.4 2 -0.5 2 -0.4 2 -0.5 2 -0.4 2 -0.4 2 -0.4 2 -0.4 2 -0.4 2 -0.3 2 -0.4 2 -0.4 2 -0.3 2 -0.3 2 -0.3 2 -0.3 2 -0.3 2 -0.3 2 -0.2 2 -0.3 2 -0.2 2 -0.2 2 -0.2 2 -0.2 2 -0.1 2 -0.2 2 -0.1 2 -0.1 2 -0.1 2 -0.1 2 0 2 0 2 0 2 0 2 0.1 2 0.1 2 0.1 2 0.2 2 0.1 2 0.2 2 0.2 2 0.2 2 0.3 2 0.2 2 0.3 2 0.3 2 0.3 2 0.3 2 0.3 2 0.4 2 0.3 2 0.4 2 0.4 2 0.4 2 0.4 2 0.4 2 0.5 2 0.4 2 0.5 2 0.4 2 0.5 2 0.5 2 0.5 2 0.5 2 0.5 2 0.5 2 0.5 2 0.6 2 0.5 2 0.6 2 0.5 2 0.6 2 0.5 2 0.6 2 0.6 2 0.6 2 0.6 2 0.5 2 0.6 2 0.6 2 0.6 2 0.6 2 0.6 2 0.6 2 0.6 2 0.6 2 0.6 2 0.6 2 0.6 2 0.6 2 0.6 2 0.6 2 0.6 2 0.6 2 0.6 2 0.6 2 0.6 2 0.6 2 0.6 2 0.5 2 0.6 2 0.6 2 0.6 2 0.5 2 0.6 2 0.6 2 0.5 2 0.6 2 0.5 2 0.6 2 0.5 2 0.5 2 0.6 2 0.5 2 0.5 2 0.5 2 0.5 2 0.5 2 0.5 2 0.5 2 0.5 2 0.5 2 0.5 2 0.4 2 0.5 2 0.4 2 0.5 2 0.4 2 0.5 2 0.4 2 0.4 2 0.4 2 0.4 2 0.4 2 0.4 2 0.4 2 0.4 2 0.4 2 0.4 2 0.3 2 0.4 2 0.4 2 0.3 2 0.3 2 0.4 2 0.3 2 0.3 2 0.4 2 0.3 2 0.3 2 0.3 2 0.3 2 0.3 2 0.2 2 0.3 2 0.3 2 0.3 2 0.2 2 0.3 2 0.2 2 0.3 2 0.2 2 0.2 2 0.3 2 0.2 2 0.2 2 0.2 2 0.2 2 0.3 2 0.2 2 0.2 2 0.1 2 0.2 2 0.2 2 0.2 2 0.2 2 0.2 2 0.1 2 0.2 2 0.1 2 0.2 2 0.2 2 0.1 2 0.2 2 0.1 2 0.1 2 0.2 2 0.1 2 0.1 2 0.2 2 0.1 2 0.1 2 0.1 2 0.2 2 0.1 2 0.1 2 0.1 2 0.1 2 0.1 2 0.1 2 0.1 2 0.1 2 0.1 2 0.1 2 0.1 2 0.1 2 0.1 2 0 2 0.1 2 0.1 2 0.1 2 0.1 2 0.1 2 0 2 0.1 2 0.1 2 0 2 0.1 2 0.1 2 0.1 2 0 2 0.1 2 0 2 0.1 2 0.1 2 0 2 0.1 2 0 2 0.1 2 0.1 2 0 2 0.1 2 0 2 0.1 2 0 2 0.1 2 0 2 0.1 2 0 2 0.1 2 0 2 0.1 2 0 2 0.1 2 0 2 0.1 2 0 2 0.1 2 0 2 0 2 0.1 2 0 2 0.1 2 0 2 0.1 L1229,476.5 1223,476.4 1217,476.3 1211,476.2 1205,476.1 1199,476 1193,475.9 1187,475.8 1181,475.7 1175,475.6 1169,475.5 1163,475.4 1157,475.3 1151,475.2 1145,475.1 1139,475 1133,474.9 1127,474.8 1121,474.7 1115,474.6 1109,474.5 1103,474.4 1097,474.3 1091,474.2 1085,474.1 1079,474 1073,473.9 1067,473.8 1061,473.7 1055,473.6 1049,473.5 1043,473.4 1037,473.3 1031,473.2 1025,473.1 1019,472.9 1013,472.8 1007,472.7 1001,472.6 995,472.5 989,472.4 983,472.3 977,472.2 971,472.1 965,472 959,471.9 953,471.8 947,471.7 941,471.6 935,471.5 929,471.4 923,471.3 917,471.2 911,471.1 905,471 899,470.9 893,470.8 887,470.7 881,470.6 875,470.5 869,470.4 863,470.3 857,470.2 851,470.1 845,470 839,469.9 833,469.8 827,469.7 821,469.6 815,469.5 809,469.4 803,469.3 797,469.2 791,469.1 785,469 779,468.9 773,468.8 767,468.7 761,468.6 755,468.5 749,468.4 743,468.3 737,468.2 731,468.1 725,468 719,467.9 713,467.8 707,467.7 701,467.5 695,467.4 689,467.3 683,467.2 677,467.1 671,467 665,466.9 659,466.8 653,466.7 647,466.6 641,466.5 635,466.4 629,466.3 623,466.2 617,466.1 611,466 605,465.9 599,465.8 593,465.7 587,465.6 581,465.5 575,465.5 569,465.4 563,465.3 557,465.3 551,465.2 545,465.2 539,465.2 533,465.1 527,465.1 521,465.1 515,465.1 509,465.1 503,465.1 497,465.1 491,465.1 485,465.1 479,465.1 473,465.1 467,465.1 461,465.1 455,465 449,465 443,465 437,465 431,465 425,465 419,464.9 413,464.8 407,464.8 401,464.7 395,464.5 389,464.4 383,464.3 377,464.1 371,463.9 365,463.8 359,463.5 353,463.3 347,463 341,462.7 335,462.4 329,462 323,461.5 317,461.1 311,460.6 305,460.1 299,459.6 293,459 287,458.5 281,457.9 275,457.4 269,456.9 263,456.4 257,456 251,455.7 245,455.5 239,455.3 233,455.3 227,455.4 221,455.5 215,455.7 209,455.9 203,456.1 197,456.4 191,456.6 185,456.9 179,457.1 173,457.2 167,457.3 161,457.4 155,457.4 149,457.3 143,457.2 137,457 131,456.8 125,456.5 119,456.2 113,456 107,455.7 101,455.5 95,455.3Z" fill="url(#gro)" fill-opacity="0.5"/>
<path d="M95,455.3l2 0 2 0.1 2 0.1 2 0 2 0.1 2 0.1 2 0.1 2 0.1 2 0.1 2 0.1 2 0 2 0.1 2 0.1 2 0.1 2 0.1 2 0.1 2 0.1 2 0.1 2 0 2 0.1 2 0.1 2 0.1 2 0 2 0.1 2 0 2 0.1 2 0 2 0 2 0.1 2 0 2 0 2 0 2 0 2 0 2 0 2 -0.1 2 0 2 0 2 -0.1 2 0 2 -0.1 2 0 2 -0.1 2 -0.1 2 0 2 -0.1 2 -0.1 2 -0.1 2 0 2 -0.1 2 -0.1 2 -0.1 2 -0.1 2 -0.1 2 0 2 -0.1 2 -0.1 2 -0.1 2 0 2 -0.1 2 -0.1 2 0 2 -0.1 2 -0.1 2 0 2 0 2 -0.1 2 0 2 0 2 0 2 0 2 0 2 0.1 2 0 2 0.1 2 0 2 0.1 2 0.1 2 0.1 2 0.1 2 0.1 2 0.1 2 0.2 2 0.1 2 0.2 2 0.1 2 0.2 2 0.1 2 0.2 2 0.2 2 0.2 2 0.1 2 0.2 2 0.2 2 0.2 2 0.2 2 0.1 2 0.2 2 0.2 2 0.2 2 0.2 2 0.1 2 0.2 2 0.2 2 0.1 2 0.2 2 0.2 2 0.1 2 0.2 2 0.2 2 0.1 2 0.2 2 0.1 2 0.1 2 0.2 2 0.1 2 0.2 2 0.1 2 0.1 2 0.1 2 0.1 2 0.1 2 0.1 2 0.1 2 0.1 2 0.1 2 0.1 2 0.1 2 0.1 2 0.1 2 0 2 0.1 2 0.1 2 0 2 0.1 2 0 2 0.1 2 0 2 0.1 2 0 2 0.1 2 0 2 0 2 0.1 2 0 2 0 2 0 2 0.1 2 0 2 0 2 0 2 0 2 0.1 2 0 2 0 2 0 2 0 2 0 2 0 2 -0.1 2 0 2 0 2 0 2 0 2 -0.1 2 0 2 0 2 -0.1 2 0 2 0 2 -0.1 2 0 2 -0.1 2 0 2 -0.1 2 0 2 -0.1 2 -0.1 2 0 2 -0.1 2 -0.1 2 0 2 -0.1 2 -0.1 2 -0.1 2 0 2 -0.1 2 -0.1 2 -0.1 2 -0.1 2 -0.1 2 -0.1 2 -0.1 2 -0.1 2 -0.1 2 -0.1 2 -0.2 2 -0.1 2 -0.1 2 -0.1 2 -0.2 2 -0.1 2 -0.1 2 -0.2 2 -0.1 2 -0.2 2 -0.1 2 -0.2 2 -0.1 2 -0.2 2 -0.2 2 -0.2 2 -0.1 2 -0.2 2 -0.2 2 -0.2 2 -0.2 2 -0.2 2 -0.2 2 -0.2 2 -0.3 2 -0.2 2 -0.2 2 -0.2 2 -0.3 2 -0.2 2 -0.3 2 -0.2 2 -0.3 2 -0.2 2 -0.3 2 -0.3 2 -0.3 2 -0.2 2 -0.3 2 -0.3 2 -0.3 2 -0.3 2 -0.3 2 -0.3 2 -0.3 2 -0.4 2 -0.3 2 -0.3 2 -0.3 2 -0.4 2 -0.3 2 -0.4 2 -0.4 2 -0.3 2 -0.4 2 -0.4 2 -0.4 2 -0.3 2 -0.4 2 -0.4 2 -0.5 2 -0.4 2 -0.4 2 -0.4 2 -0.4 2 -0.5 2 -0.4 2 -0.5 2 -0.4 2 -0.5 2 -0.4 2 -0.5 2 -0.5 2 -0.5 2 -0.5 2 -0.4 2 -0.5 2 -0.5 2 -0.5 2 -0.5 2 -0.5 2 -0.5 2 -0.6 2 -0.5 2 -0.5 2 -0.5 2 -0.5 2 -0.6 2 -0.5 2 -0.5 2 -0.6 2 -0.5 2 -0.5 2 -0.6 2 -0.5 2 -0.5 2 -0.6 2 -0.5 2 -0.5 2 -0.5 2 -0.6 2 -0.5 2 -0.5 2 -0.6 2 -0.5 2 -0.5 2 -0.5 2 -0.5 2 -0.5 2 -0.5 2 -0.5 2 -0.5 2 -0.5 2 -0.5 2 -0.4 2 -0.5 2 -0.4 2 -0.5 2 -0.4 2 -0.5 2 -0.4 2 -0.4 2 -0.4 2 -0.4 2 -0.4 2 -0.3 2 -0.4 2 -0.4 2 -0.3 2 -0.3 2 -0.3 2 -0.3 2 -0.3 2 -0.3 2 -0.2 2 -0.3 2 -0.2 2 -0.2 2 -0.2 2 -0.2 2 -0.1 2 -0.2 2 -0.1 2 -0.1 2 -0.1 2 -0.1 2 0 2 0 2 0 2 0 2 0.1 2 0.1 2 0.1 2 0.2 2 0.1 2 0.2 2 0.2 2 0.2 2 0.3 2 0.2 2 0.3 2 0.3 2 0.3 2 0.3 2 0.3 2 0.4 2 0.3 2 0.4 2 0.4 2 0.4 2 0.4 2 0.4 2 0.5 2 0.4 2 0.5 2 0.4 2 0.5 2 0.5 2 0.5 2 0.5 2 0.5 2 0.5 2 0.5 2 0.6 2 0.5 2 0.6 2 0.5 2 0.6 2 0.5 2 0.6 2 0.6 2 0.6 2 0.6 2 0.5 2 0.6 2 0.6 2 0.6 2 0.6 2 0.6 2 0.6 2 0.6 2 0.6 2 0.6 2 0.6 2 0.6 2 0.6 2 0.6 2 0.6 2 0.6 2 0.6 2 0.6 2 0.6 2 0.6 2 0.6 2 0.6 2 0.5 2 0.6 2 0.6 2 0.6 2 0.5 2 0.6 2 0.6 2 0.5 2 0.6 2 0.5 2 0.6 2 0.5 2 0.5 2 0.6 2 0.5 2 0.5 2 0.5 2 0.5 2 0.5 2 0.5 2 0.5 2 0.5 2 0.5 2 0.5 2 0.4 2 0.5 2 0.4 2 0.5 2 0.4 2 0.5 2 0.4 2 0.4 2 0.4 2 0.4 2 0.4 2 0.4 2 0.4 2 0.4 2 0.4 2 0.4 2 0.3 2 0.4 2 0.4 2 0.3 2 0.3 2 0.4 2 0.3 2 0.3 2 0.4 2 0.3 2 0.3 2 0.3 2 0.3 2 0.3 2 0.2 2 0.3 2 0.3 2 0.3 2 0.2 2 0.3 2 0.2 2 0.3 2 0.2 2 0.2 2 0.3 2 0.2 2 0.2 2 0.2 2 0.2 2 0.3 2 0.2 2 0.2 2 0.1 2 0.2 2 0.2 2 0.2 2 0.2 2 0.2 2 0.1 2 0.2 2 0.1 2 0.2 2 0.2 2 0.1 2 0.2 2 0.1 2 0.1 2 0.2 2 0.1 2 0.1 2 0.2 2 0.1 2 0.1 2 0.1 2 0.2 2 0.1 2 0.1 2 0.1 2 0.1 2 0.1 2 0.1 2 0.1 2 0.1 2 0.1 2 0.1 2 0.1 2 0.1 2 0.1 2 0 2 0.1 2 0.1 2 0.1 2 0.1 2 0.1 2 0 2 0.1 2 0.1 2 0 2 0.1 2 0.1 2 0.1 2 0 2 0.1 2 0 2 0.1 2 0.1 2 0 2 0.1 2 0 2 0.1 2 0.1 2 0 2 0.1 2 0 2 0.1 2 0 2 0.1 2 0 2 0.1 2 0 2 0.1 2 0 2 0.1 2 0 2 0.1 2 0 2 0.1 2 0 2 0.1 2 0 2 0 2 0.1 2 0 2 0.1 2 0 2 0.1" fill="none" stroke="#ff0000" stroke-width="4.6"/>
<path d="M95,455.3l2 0 2 0.1 2 0.1 2 0 2 0.1 2 0.1 2 0.1 2 0.1 2 0.1 2 0.1 2 0 2 0.1 2 0.1 2 0.1 2 0.1 2 0.1 2 0.1 2 0.1 2 0 2 0.1 2 0.1 2 0.1 2 0 2 0.1 2 0 2 0.1 2 0 2 0 2 0.1 2 0 2 0 2 0 2 0 2 0 2 0 2 -0.1 2 0 2 0 2 -0.1 2 0 2 -0.1 2 0 2 -0.1 2 -0.1 2 0 2 -0.1 2 -0.1 2 -0.1 2 0 2 -0.1 2 -0.1 2 -0.1 2 -0.1 2 -0.1 2 0 2 -0.1 2 -0.1 2 -0.1 2 0 2 -0.1 2 -0.1 2 0 2 -0.1 2 0 2 -0.1 2 0 2 -0.1 2 0 2 0 2 0 2 0 2 0 2 0.1 2 0 2 0.1 2 0 2 0.1 2 0.1 2 0.1 2 0.1 2 0.1 2 0.2 2 0.1 2 0.1 2 0.2 2 0.1 2 0.2 2 0.2 2 0.1 2 0.2 2 0.2 2 0.2 2 0.1 2 0.2 2 0.2 2 0.2 2 0.2 2 0.2 2 0.1 2 0.2 2 0.2 2 0.2 2 0.2 2 0.1 2 0.2 2 0.2 2 0.1 2 0.2 2 0.2 2 0.1 2 0.2 2 0.1 2 0.2 2 0.1 2 0.2 2 0.1 2 0.2 2 0.1 2 0.1 2 0.2 2 0.1 2 0.1 2 0.1 2 0.1 2 0.1 2 0.1 2 0.1 2 0.1 2 0.1 2 0.1 2 0.1 2 0 2 0.1 2 0.1 2 0.1 2 0 2 0.1 2 0 2 0.1 2 0.1 2 0 2 0.1 2 0 2 0.1 2 0 2 0.1 2 0 2 0.1 2 0 2 0 2 0.1 2 0 2 0.1 2 0 2 0 2 0.1 2 0 2 0 2 0 2 0.1 2 0 2 0 2 0 2 0 2 0.1 2 0 2 0 2 0 2 0 2 0 2 0 2 0 2 0 2 0 2 0 2 0 2 0 2 0 2 0 2 0 2 0 2 0.1 2 0 2 0 2 0 2 0 2 0 2 0 2 0 2 0 2 0 2 0 2 0 2 0 2 0 2 0 2 0 2 0 2 0 2 0 2 0 2 0 2 0 2 0 2 0 2 0 2 0 2 0 2 0 2 0 2 0 2 0 2 0 2 0 2 0 2 0 2 0 2 0 2 0 2 0 2 0.1 2 0 2 0 2 0 2 0 2 0 2 0 2 0 2 0 2 0 2 0.1 2 0 2 0 2 0 2 0 2 0.1 2 0 2 0 2 0 2 0.1 2 0 2 0 2 0 2 0.1 2 0 2 0 2 0.1 2 0 2 0 2 0.1 2 0 2 0 2 0.1 2 0 2 0 2 0.1 2 0 2 0 2 0.1 2 0 2 0 2 0.1 2 0 2 0 2 0.1 2 0 2 0 2 0.1 2 0 2 0 2 0.1 2 0 2 0 2 0.1 2 0 2 0 2 0.1 2 0 2 0 2 0.1 2 0 2 0 2 0.1 2 0 2 0 2 0.1 2 0 2 0 2 0 2 0.1 2 0 2 0 2 0.1 2 0 2 0 2 0 2 0.1 2 0 2 0 2 0 2 0 2 0.1 2 0 2 0 2 0 2 0 2 0 2 0 2 0 2 0 2 0 2 0 2 0 2 0 2 -0.1 2 0 2 0 2 -0.1 2 0 2 -0.1 2 -0.1 2 0 2 -0.1 2 -0.1 2 -0.1 2 -0.1 2 -0.2 2 -0.1 2 -0.2 2 -0.1 2 -0.2 2 -0.2 2 -0.2 2 -0.3 2 -0.2 2 -0.3 2 -0.3 2 -0.3 2 -0.3 2 -0.4 2 -0.3 2 -0.4 2 -0.5 2 -0.4 2 -0.5 2 -0.5 2 -0.5 2 -0.6 2 -0.6 2 -0.6 2 -0.6 2 -0.7 2 -0.7 2 -0.7 2 -0.8 2 -0.8 2 -0.8 2 -0.8 2 -0.9 2 -0.9 2 -1 2 -0.9 2 -1 2 -1 2 -1 2 -1.1 2 -1.1 2 -1.1 2 -1.1 2 -1.1 2 -1.1 2 -1.2 2 -1.1 2 -1.2 2 -1.2 2 -1.1 2 -1.2 2 -1.2 2 -1.1 2 -1.2 2 -1.1 2 -1.1 2 -1.1 2 -1.1 2 -1.1 2 -1 2 -1 2 -0.9 2 -1 2 -0.8 2 -0.9 2 -0.8 2 -0.7 2 -0.7 2 -0.6 2 -0.6 2 -0.6 2 -0.4 2 -0.4 2 -0.4 2 -0.3 2 -0.2 2 -0.2 2 -0.1 2 0 2 0.1 2 0.1 2 0.1 2 0.3 2 0.3 2 0.3 2 0.5 2 0.5 2 0.5 2 0.6 2 0.7 2 0.7 2 0.8 2 0.8 2 0.9 2 0.9 2 1 2 1 2 1 2 1.1 2 1 2 1.2 2 1.1 2 1.2 2 1.2 2 1.2 2 1.2 2 1.2 2 1.3 2 1.2 2 1.2 2 1.3 2 1.2 2 1.2 2 1.2 2 1.2 2 1.2 2 1.2 2 1.2 2 1.1 2 1.1 2 1.1 2 1.1 2 1 2 1.1 2 1 2 0.9 2 1 2 0.9 2 0.9 2 0.8 2 0.8 2 0.8 2 0.8 2 0.7 2 0.7 2 0.7 2 0.6 2 0.7 2 0.6 2 0.5 2 0.6 2 0.5 2 0.5 2 0.4 2 0.5 2 0.4 2 0.4 2 0.4 2 0.3 2 0.3 2 0.4 2 0.3 2 0.2 2 0.3 2 0.2 2 0.3 2 0.2 2 0.2 2 0.2 2 0.2 2 0.1 2 0.2 2 0.2 2 0.1 2 0.1 2 0.2 2 0.1 2 0.1 2 0.1 2 0.1 2 0.1 2 0.1 2 0.1 2 0 2 0.1 2 0.1 2 0 2 0.1 2 0.1 2 0 2 0.1 2 0 2 0.1 2 0 2 0.1 2 0 2 0.1 2 0 2 0.1 2 0 2 0.1 2 0 2 0 2 0.1 2 0 2 0.1 2 0 2 0 2 0.1 2 0 2 0 2 0.1 2 0 2 0 2 0.1 2 0 2 0 2 0.1 2 0 2 0.1 2 0 2 0 2 0.1 2 0 2 0 2 0.1 2 0 2 0 2 0.1 2 0 2 0 2 0.1 2 0 2 0 2 0.1 2 0 2 0 2 0.1 2 0 2 0 2 0.1 2 0 2 0 2 0.1 2 0 2 0 2 0.1 2 0 2 0 2 0.1 2 0 L1229,476.5 1223,476.4 1217,476.3 1211,476.2 1205,476.1 1199,476 1193,475.9 1187,475.8 1181,475.7 1175,475.6 1169,475.5 1163,475.4 1157,475.3 1151,475.2 1145,475.1 1139,475 1133,474.9 1127,474.8 1121,474.7 1115,474.6 1109,474.5 1103,474.4 1097,474.3 1091,474.2 1085,474.1 1079,474 1073,473.9 1067,473.8 1061,473.7 1055,473.6 1049,473.5 1043,473.4 1037,473.3 1031,473.2 1025,473.1 1019,472.9 1013,472.8 1007,472.7 1001,472.6 995,472.5 989,472.4 983,472.3 977,472.2 971,472.1 965,472 959,471.9 953,471.8 947,471.7 941,471.6 935,471.5 929,471.4 923,471.3 917,471.2 911,471.1 905,471 899,470.9 893,470.8 887,470.7 881,470.6 875,470.5 869,470.4 863,470.3 857,470.2 851,470.1 845,470 839,469.9 833,469.8 827,469.7 821,469.6 815,469.5 809,469.4 803,469.3 797,469.2 791,469.1 785,469 779,468.9 773,468.8 767,468.7 761,468.6 755,468.5 749,468.4 743,468.3 737,468.2 731,468.1 725,468 719,467.9 713,467.8 707,467.7 701,467.5 695,467.4 689,467.3 683,467.2 677,467.1 671,467 665,466.9 659,466.8 653,466.7 647,466.6 641,466.5 635,466.4 629,466.3 623,466.2 617,466.1 611,466 605,465.9 599,465.8 593,465.7 587,465.6 581,465.5 575,465.5 569,465.4 563,465.3 557,465.3 551,465.2 545,465.2 539,465.2 533,465.1 527,465.1 521,465.1 515,465.1 509,465.1 503,465.1 497,465.1 491,465.1 485,465.1 479,465.1 473,465.1 467,465.1 461,465.1 455,465 449,465 443,465 437,465 431,465 425,465 419,464.9 413,464.8 407,464.8 401,464.7 395,464.5 389,464.4 383,464.3 377,464.1 371,463.9 365,463.8 359,463.5 353,463.3 347,463 341,462.7 335,462.4 329,462 323,461.5 317,461.1 311,460.6 305,460.1 299,459.6 293,459 287,458.5 281,457.9 275,457.4 269,456.9 263,456.4 257,456 251,455.7 245,455.5 239,455.3 233,455.3 227,455.4 221,455.5 215,455.7 209,455.9 203,456.1 197,456.4 191,456.6 185,456.9 179,457.1 173,457.2 167,457.3 161,457.4 155,457.4 149,457.3 143,457.2 137,457 131,456.8 125,456.5 119,456.2 113,456 107,455.7 101,455.5 95,455.3Z" fill="url(#gb)"/>
<path d="M95,455.3l2 0 2 0.1 2 0.1 2 0 2 0.1 2 0.1 2 0.1 2 0.1 2 0.1 2 0.1 2 0 2 0.1 2 0.1 2 0.1 2 0.1 2 0.1 2 0.1 2 0.1 2 0 2 0.1 2 0.1 2 0.1 2 0 2 0.1 2 0 2 0.1 2 0 2 0 2 0.1 2 0 2 0 2 0 2 0 2 0 2 0 2 -0.1 2 0 2 0 2 -0.1 2 0 2 -0.1 2 0 2 -0.1 2 -0.1 2 0 2 -0.1 2 -0.1 2 -0.1 2 0 2 -0.1 2 -0.1 2 -0.1 2 -0.1 2 -0.1 2 0 2 -0.1 2 -0.1 2 -0.1 2 0 2 -0.1 2 -0.1 2 0 2 -0.1 2 0 2 -0.1 2 0 2 -0.1 2 0 2 0 2 0 2 0 2 0 2 0.1 2 0 2 0.1 2 0 2 0.1 2 0.1 2 0.1 2 0.1 2 0.1 2 0.2 2 0.1 2 0.1 2 0.2 2 0.1 2 0.2 2 0.2 2 0.1 2 0.2 2 0.2 2 0.2 2 0.1 2 0.2 2 0.2 2 0.2 2 0.2 2 0.2 2 0.1 2 0.2 2 0.2 2 0.2 2 0.2 2 0.1 2 0.2 2 0.2 2 0.1 2 0.2 2 0.2 2 0.1 2 0.2 2 0.1 2 0.2 2 0.1 2 0.2 2 0.1 2 0.2 2 0.1 2 0.1 2 0.2 2 0.1 2 0.1 2 0.1 2 0.1 2 0.1 2 0.1 2 0.1 2 0.1 2 0.1 2 0.1 2 0.1 2 0 2 0.1 2 0.1 2 0.1 2 0 2 0.1 2 0 2 0.1 2 0.1 2 0 2 0.1 2 0 2 0.1 2 0 2 0.1 2 0 2 0.1 2 0 2 0 2 0.1 2 0 2 0.1 2 0 2 0 2 0.1 2 0 2 0 2 0 2 0.1 2 0 2 0 2 0 2 0 2 0.1 2 0 2 0 2 0 2 0 2 0 2 0 2 0 2 0 2 0 2 0 2 0 2 0 2 0 2 0 2 0 2 0 2 0.1 2 0 2 0 2 0 2 0 2 0 2 0 2 0 2 0 2 0 2 0 2 0 2 0 2 0 2 0 2 0 2 0 2 0 2 0 2 0 2 0 2 0 2 0 2 0 2 0 2 0 2 0 2 0 2 0 2 0 2 0 2 0 2 0 2 0 2 0 2 0 2 0 2 0 2 0 2 0.1 2 0 2 0 2 0 2 0 2 0 2 0 2 0 2 0 2 0 2 0.1 2 0 2 0 2 0 2 0 2 0.1 2 0 2 0 2 0 2 0.1 2 0 2 0 2 0 2 0.1 2 0 2 0 2 0.1 2 0 2 0 2 0.1 2 0 2 0 2 0.1 2 0 2 0 2 0.1 2 0 2 0 2 0.1 2 0 2 0 2 0.1 2 0 2 0 2 0.1 2 0 2 0 2 0.1 2 0 2 0 2 0.1 2 0 2 0 2 0.1 2 0 2 0 2 0.1 2 0 2 0 2 0.1 2 0 2 0 2 0.1 2 0 2 0 2 0.1 2 0 2 0 2 0 2 0.1 2 0 2 0 2 0.1 2 0 2 0 2 0 2 0.1 2 0 2 0 2 0 2 0 2 0.1 2 0 2 0 2 0 2 0 2 0 2 0 2 0 2 0 2 0 2 0 2 0 2 0 2 -0.1 2 0 2 0 2 -0.1 2 0 2 -0.1 2 -0.1 2 0 2 -0.1 2 -0.1 2 -0.1 2 -0.1 2 -0.2 2 -0.1 2 -0.2 2 -0.1 2 -0.2 2 -0.2 2 -0.2 2 -0.3 2 -0.2 2 -0.3 2 -0.3 2 -0.3 2 -0.3 2 -0.4 2 -0.3 2 -0.4 2 -0.5 2 -0.4 2 -0.5 2 -0.5 2 -0.5 2 -0.6 2 -0.6 2 -0.6 2 -0.6 2 -0.7 2 -0.7 2 -0.7 2 -0.8 2 -0.8 2 -0.8 2 -0.8 2 -0.9 2 -0.9 2 -1 2 -0.9 2 -1 2 -1 2 -1 2 -1.1 2 -1.1 2 -1.1 2 -1.1 2 -1.1 2 -1.1 2 -1.2 2 -1.1 2 -1.2 2 -1.2 2 -1.1 2 -1.2 2 -1.2 2 -1.1 2 -1.2 2 -1.1 2 -1.1 2 -1.1 2 -1.1 2 -1.1 2 -1 2 -1 2 -0.9 2 -1 2 -0.8 2 -0.9 2 -0.8 2 -0.7 2 -0.7 2 -0.6 2 -0.6 2 -0.6 2 -0.4 2 -0.4 2 -0.4 2 -0.3 2 -0.2 2 -0.2 2 -0.1 2 0 2 0.1 2 0.1 2 0.1 2 0.3 2 0.3 2 0.3 2 0.5 2 0.5 2 0.5 2 0.6 2 0.7 2 0.7 2 0.8 2 0.8 2 0.9 2 0.9 2 1 2 1 2 1 2 1.1 2 1 2 1.2 2 1.1 2 1.2 2 1.2 2 1.2 2 1.2 2 1.2 2 1.3 2 1.2 2 1.2 2 1.3 2 1.2 2 1.2 2 1.2 2 1.2 2 1.2 2 1.2 2 1.2 2 1.1 2 1.1 2 1.1 2 1.1 2 1 2 1.1 2 1 2 0.9 2 1 2 0.9 2 0.9 2 0.8 2 0.8 2 0.8 2 0.8 2 0.7 2 0.7 2 0.7 2 0.6 2 0.7 2 0.6 2 0.5 2 0.6 2 0.5 2 0.5 2 0.4 2 0.5 2 0.4 2 0.4 2 0.4 2 0.3 2 0.3 2 0.4 2 0.3 2 0.2 2 0.3 2 0.2 2 0.3 2 0.2 2 0.2 2 0.2 2 0.2 2 0.1 2 0.2 2 0.2 2 0.1 2 0.1 2 0.2 2 0.1 2 0.1 2 0.1 2 0.1 2 0.1 2 0.1 2 0.1 2 0 2 0.1 2 0.1 2 0 2 0.1 2 0.1 2 0 2 0.1 2 0 2 0.1 2 0 2 0.1 2 0 2 0.1 2 0 2 0.1 2 0 2 0.1 2 0 2 0 2 0.1 2 0 2 0.1 2 0 2 0 2 0.1 2 0 2 0 2 0.1 2 0 2 0 2 0.1 2 0 2 0 2 0.1 2 0 2 0.1 2 0 2 0 2 0.1 2 0 2 0 2 0.1 2 0 2 0 2 0.1 2 0 2 0 2 0.1 2 0 2 0 2 0.1 2 0 2 0 2 0.1 2 0 2 0 2 0.1 2 0 2 0 2 0.1 2 0 2 0 2 0.1 2 0 2 0 2 0.1 2 0" fill="none" stroke="#0000ff" stroke-width="4.6"/>
<path d="M95,454.8l2 0.1 2 0.1 2 0.2 2 0.1 2 0.1 2 0.1 2 0.1 2 0.2 2 0.1 2 0.1 2 0.1 2 0.2 2 0.1 2 0.1 2 0.1 2 0.1 2 0.2 2 0.1 2 0.1 2 0.1 2 0.1 2 0 2 0.1 2 0 2 0.1 2 0.1 2 0 2 0.1 2 0 2 0.1 2 0.1 2 0 2 0.1 2 -0.1 2 0 2 -0.1 2 -0.1 2 -0.1 2 -0.1 2 -0.1 2 -0.1 2 -0.1 2 -0.1 2 -0.1 2 -0.1 2 0 2 -0.1 2 -0.1 2 -0.1 2 -0.1 2 -0.1 2 -0.1 2 -0.1 2 -0.1 2 -0.1 2 -0.1 2 0 2 -0.1 2 -0.1 2 -0.1 2 -0.1 2 -0.1 2 -0.1 2 -0.1 2 -0.1 2 -0.1 2 -0.1 2 0 2 -0.1 2 -0.1 2 -0.1 2 -0.1 2 -0.1 2 -0.1 2 0.1 2 0.2 2 0.2 2 0.2 2 0.2 2 0.2 2 0.2 2 0.2 2 0.2 2 0.2 2 0.2 2 0.1 2 0.2 2 0.2 2 0.2 2 0.2 2 0.2 2 0.2 2 0.2 2 0.2 2 0.2 2 0.2 2 0.2 2 0.1 2 0.2 2 0.2 2 0.2 2 0.2 2 0.2 2 0.2 2 0.2 2 0.2 2 0.2 2 0.1 2 0.2 2 0.2 2 0.1 2 0.1 2 0.2 2 0.1 2 0.1 2 0.2 2 0.1 2 0.1 2 0.2 2 0.1 2 0.1 2 0.2 2 0.1 2 0.1 2 0.2 2 0.1 2 0.1 2 0 2 0 2 0.1 2 0 2 0.1 2 0 2 0 2 0.1 2 0 2 0.1 2 0 2 0 2 0.1 2 0 2 0 2 0.1 2 0 2 0 2 0.1 2 0 2 0 2 0.1 2 0 2 0 2 0 2 0.1 2 0 2 0 2 0 2 0 2 0 2 0 2 0 2 -0.1 2 0 2 0 2 -0.1 2 0 2 0 2 -0.1 2 0 2 -0.1 2 0 2 -0.1 2 0 2 -0.1 2 0 2 -0.1 2 0 2 -0.1 2 -0.1 2 0 2 -0.1 2 -0.1 2 0 2 -0.1 2 -0.1 2 -0.1 2 0 2 -0.1 2 -0.1 2 -0.1 2 -0.1 2 -0.1 2 -0.1 2 -0.1 2 -0.1 2 -0.1 2 -0.1 2 -0.2 2 -0.1 2 -0.1 2 -0.1 2 -0.2 2 -0.1 2 -0.1 2 -0.2 2 -0.1 2 -0.2 2 -0.1 2 -0.2 2 -0.1 2 -0.2 2 -0.2 2 -0.2 2 -0.1 2 -0.2 2 -0.2 2 -0.2 2 -0.2 2 -0.2 2 -0.2 2 -0.3 2 -0.2 2 -0.2 2 -0.2 2 -0.3 2 -0.2 2 -0.3 2 -0.2 2 -0.3 2 -0.3 2 -0.2 2 -0.3 2 -0.3 2 -0.3 2 -0.2 2 -0.3 2 -0.3 2 -0.3 2 -0.3 2 -0.3 2 -0.3 2 -0.3 2 -0.3 2 -0.3 2 -0.3 2 -0.4 2 -0.3 2 -0.3 2 -0.4 2 -0.4 2 -0.3 2 -0.4 2 -0.4 2 -0.4 2 -0.3 2 -0.4 2 -0.4 2 -0.5 2 -0.4 2 -0.4 2 -0.4 2 -0.4 2 -0.5 2 -0.4 2 -0.5 2 -0.4 2 -0.5 2 -0.4 2 -0.5 2 -0.5 2 -0.5 2 -0.5 2 -0.4 2 -0.5 2 -0.5 2 -0.5 2 -0.5 2 -0.5 2 -0.6 2 -0.5 2 -0.5 2 -0.5 2 -0.5 2 -0.6 2 -0.5 2 -0.5 2 -0.5 2 -0.6 2 -0.5 2 -0.6 2 -0.5 2 -0.5 2 -0.6 2 -0.5 2 -0.5 2 -0.6 2 -0.5 2 -0.6 2 -0.5 2 -0.5 2 -0.6 2 -0.5 2 -0.5 2 -0.6 2 -0.5 2 -0.5 2 -0.5 2 -0.6 2 -0.5 2 -0.5 2 -0.5 2 -0.5 2 -0.5 2 -0.5 2 -0.6 2 -0.5 2 -0.4 2 -0.5 2 -0.5 2 -0.5 2 -0.5 2 -0.5 2 -0.5 2 -0.5 2 -0.4 2 -0.5 2 -0.5 2 -0.5 2 -0.4 2 -0.5 2 -0.5 2 -0.4 2 -0.5 2 -0.5 2 -0.5 2 -0.5 2 -0.4 2 -0.5 2 -0.5 2 -0.5 2 -0.5 2 -0.5 2 -0.5 2 -0.5 2 -0.5 2 -0.5 2 -0.5 2 -0.4 2 -0.5 2 -0.5 2 -0.6 2 -0.5 2 -0.5 2 -0.5 2 -0.6 2 -0.5 2 -0.6 2 -0.6 2 -0.6 2 -0.6 2 -0.6 2 -0.7 2 -0.6 2 -0.7 2 -0.6 2 -0.7 2 -0.7 2 -0.7 2 -0.7 2 -0.7 2 -0.7 2 -0.7 2 -0.8 2 -0.7 2 -0.7 2 -0.7 2 -0.7 2 -0.7 2 -0.7 2 -0.6 2 -0.7 2 -0.6 2 -0.6 2 -0.6 2 -0.5 2 -0.5 2 -0.5 2 -0.5 2 -0.4 2 -0.4 2 -0.3 2 -0.3 2 -0.2 2 -0.2 2 -0.1 2 -0.1 2 0 2 0 2 0.1 2 0.1 2 0.3 2 0.2 2 0.4 2 0.4 2 0.5 2 0.5 2 0.6 2 0.7 2 0.7 2 0.8 2 0.9 2 0.9 2 1 2 1 2 1.1 2 1.1 2 1.2 2 1.3 2 1.3 2 1.3 2 1.4 2 1.5 2 1.4 2 1.5 2 1.6 2 1.5 2 1.6 2 1.6 2 1.6 2 1.7 2 1.6 2 1.7 2 1.7 2 1.7 2 1.6 2 1.7 2 1.7 2 1.7 2 1.6 2 1.6 2 1.7 2 1.6 2 1.6 2 1.5 2 1.6 2 1.5 2 1.5 2 1.4 2 1.5 2 1.4 2 1.3 2 1.4 2 1.3 2 1.2 2 1.3 2 1.1 2 1.2 2 1.1 2 1.1 2 1.1 2 1 2 1 2 0.9 2 0.9 2 0.9 2 0.9 2 0.8 2 0.8 2 0.7 2 0.7 2 0.7 2 0.7 2 0.6 2 0.6 2 0.6 2 0.6 2 0.5 2 0.5 2 0.5 2 0.4 2 0.5 2 0.4 2 0.4 2 0.4 2 0.4 2 0.3 2 0.3 2 0.4 2 0.3 2 0.2 2 0.3 2 0.3 2 0.2 2 0.3 2 0.2 2 0.2 2 0.2 2 0.3 2 0.1 2 0.2 2 0.2 2 0.2 2 0.1 2 0.2 2 0.2 2 0.1 2 0.1 2 0.2 2 0.1 2 0.1 2 0.2 2 0.1 2 0.1 2 0.1 2 0.1 2 0.1 2 0.1 2 0.1 2 0.1 2 0.1 2 0.1 2 0.1 2 0.1 2 0.1 2 0 2 0.1 2 0.1 2 0.1 2 0.1 2 0 2 0.1 2 0.1 2 0 2 0.1 2 0.1 2 0 2 0.1 2 0.1 2 0 2 0.1 2 0 2 0.1 2 0.1 2 0 2 0.1 2 0 2 0.1 2 0 2 0.1 2 0 2 0.1 2 0 2 0.1 2 0 2 0.1 2 0 2 0.1 2 0 2 0.1 2 0 2 0.1 2 0 2 0 2 0.1 2 0 2 0.1 2 0 2 0.1" fill="none" stroke="#bebebe" stroke-width="4"/>
<path d="M95,454.8 134.6,457.2 161.8,458 243.5,454.3 312.9,461 347.6,463.4 410,465 560,465.2 720,467.9 900,470.9 1229,476.5" fill="none" stroke="#808080" stroke-width="4" stroke-linejoin="round"/>
<path d="M95,574.9l2 0.1 2 0 2 0 2 0 2 0.1 2 0 2 0 2 0 2 0.1 2 0 2 0 2 0.1 2 0 2 0 2 0.1 2 0 2 0 2 0.1 2 0 2 0 2 0.1 2 0 2 0 2 0.1 2 0 2 0 2 0.1 2 0 2 0 2 0.1 2 0 2 0 2 0.1 2 0 2 0 2 0.1 2 0 2 0 2 0 2 0.1 2 0 2 0 2 0 2 0 2 0 2 0 2 0 2 0 2 0 2 0 2 0 2 0 2 0 2 0 2 0 2 0 2 0 2 -0.1 2 0 2 0 2 0 2 0 2 -0.1 2 0 2 0 2 0 2 0 2 0 2 0 2 0 2 0 2 0 2 0 2 0 2 0 2 0 2 0.1 2 0 2 0.1 2 0 2 0.1 2 0.1 2 0 2 0.1 2 0.1 2 0.1 2 0.2 2 0.1 2 0.1 2 0.2 2 0.1 2 0.2 2 0.1 2 0.2 2 0.2 2 0.2 2 0.2 2 0.2 2 0.2 2 0.2 2 0.2 2 0.2 2 0.2 2 0.2 2 0.3 2 0.2 2 0.2 2 0.3 2 0.2 2 0.2 2 0.3 2 0.2 2 0.2 2 0.2 2 0.3 2 0.2 2 0.2 2 0.2 2 0.2 2 0.2 2 0.1 2 0.2 2 0.2 2 0.1 2 0.1 2 0.2 2 0.1 2 0.1 2 0.1 2 0.1 2 0.1 2 0.1 2 0.1 2 0.1 2 0 2 0.1 2 0.1 2 0 2 0.1 2 0 2 0.1 2 0 2 0.1 2 0 2 0.1 2 0 2 0.1 2 0 2 0 2 0.1 2 0 2 0 2 0 2 0.1 2 0 2 0 2 0 2 0 2 0 2 0 2 0 2 0 2 0 2 0 2 0 2 0 2 0 2 0 2 -0.1 2 0 2 0 2 -0.1 2 0 2 0 2 -0.1 2 0 2 -0.1 2 0 2 -0.1 2 0 2 -0.1 2 0 2 -0.1 2 -0.1 2 0 2 -0.1 2 -0.1 2 -0.1 2 0 2 -0.1 2 -0.1 2 -0.1 2 -0.1 2 -0.1 2 -0.1 2 -0.1 2 -0.2 2 -0.1 2 -0.1 2 -0.1 2 -0.2 2 -0.1 2 -0.1 2 -0.2 2 -0.1 2 -0.2 2 -0.1 2 -0.2 2 -0.2 2 -0.2 2 -0.1 2 -0.2 2 -0.2 2 -0.2 2 -0.2 2 -0.2 2 -0.2 2 -0.3 2 -0.2 2 -0.2 2 -0.2 2 -0.3 2 -0.2 2 -0.3 2 -0.2 2 -0.3 2 -0.3 2 -0.2 2 -0.3 2 -0.3 2 -0.3 2 -0.3 2 -0.3 2 -0.3 2 -0.3 2 -0.3 2 -0.4 2 -0.3 2 -0.3 2 -0.4 2 -0.3 2 -0.4 2 -0.4 2 -0.3 2 -0.4 2 -0.4 2 -0.4 2 -0.3 2 -0.4 2 -0.4 2 -0.4 2 -0.5 2 -0.4 2 -0.4 2 -0.4 2 -0.4 2 -0.5 2 -0.4 2 -0.5 2 -0.4 2 -0.5 2 -0.4 2 -0.5 2 -0.4 2 -0.5 2 -0.5 2 -0.4 2 -0.5 2 -0.5 2 -0.5 2 -0.5 2 -0.5 2 -0.4 2 -0.5 2 -0.5 2 -0.5 2 -0.5 2 -0.5 2 -0.5 2 -0.5 2 -0.5 2 -0.5 2 -0.5 2 -0.5 2 -0.4 2 -0.5 2 -0.5 2 -0.5 2 -0.5 2 -0.5 2 -0.4 2 -0.5 2 -0.5 2 -0.4 2 -0.5 2 -0.5 2 -0.4 2 -0.5 2 -0.4 2 -0.4 2 -0.5 2 -0.4 2 -0.4 2 -0.4 2 -0.4 2 -0.4 2 -0.4 2 -0.4 2 -0.4 2 -0.3 2 -0.4 2 -0.3 2 -0.3 2 -0.4 2 -0.3 2 -0.3 2 -0.3 2 -0.3 2 -0.2 2 -0.3 2 -0.2 2 -0.3 2 -0.2 2 -0.2 2 -0.2 2 -0.2 2 -0.2 2 -0.1 2 -0.2 2 -0.1 2 -0.1 2 -0.1 2 -0.1 2 -0.1 2 -0.1 2 0 2 -0.1 2 0 2 0 2 0 2 0 2 0.1 2 0 2 0.1 2 0.1 2 0.1 2 0.1 2 0.1 2 0.2 2 0.1 2 0.2 2 0.2 2 0.2 2 0.2 2 0.2 2 0.3 2 0.2 2 0.3 2 0.3 2 0.3 2 0.3 2 0.3 2 0.3 2 0.3 2 0.4 2 0.3 2 0.4 2 0.4 2 0.4 2 0.4 2 0.4 2 0.4 2 0.4 2 0.5 2 0.4 2 0.5 2 0.5 2 0.4 2 0.5 2 0.5 2 0.5 2 0.5 2 0.5 2 0.5 2 0.5 2 0.5 2 0.6 2 0.5 2 0.5 2 0.6 2 0.5 2 0.6 2 0.5 2 0.6 2 0.5 2 0.6 2 0.6 2 0.5 2 0.6 2 0.5 2 0.6 2 0.6 2 0.5 2 0.6 2 0.6 2 0.5 2 0.6 2 0.6 2 0.5 2 0.6 2 0.6 2 0.5 2 0.6 2 0.5 2 0.6 2 0.5 2 0.6 2 0.5 2 0.6 2 0.5 2 0.5 2 0.6 2 0.5 2 0.5 2 0.5 2 0.5 2 0.5 2 0.5 2 0.5 2 0.5 2 0.5 2 0.5 2 0.5 2 0.4 2 0.5 2 0.5 2 0.4 2 0.5 2 0.4 2 0.5 2 0.4 2 0.4 2 0.4 2 0.4 2 0.5 2 0.4 2 0.3 2 0.4 2 0.4 2 0.4 2 0.4 2 0.3 2 0.4 2 0.3 2 0.4 2 0.3 2 0.4 2 0.3 2 0.3 2 0.3 2 0.3 2 0.4 2 0.3 2 0.2 2 0.3 2 0.3 2 0.3 2 0.3 2 0.2 2 0.3 2 0.2 2 0.3 2 0.2 2 0.3 2 0.2 2 0.2 2 0.3 2 0.2 2 0.2 2 0.2 2 0.2 2 0.2 2 0.2 2 0.2 2 0.2 2 0.2 2 0.1 2 0.2 2 0.2 2 0.2 2 0.1 2 0.2 2 0.1 2 0.2 2 0.1 2 0.2 2 0.1 2 0.2 2 0.1 2 0.1 2 0.2 2 0.1 2 0.1 2 0.1 2 0.1 2 0.2 2 0.1 2 0.1 2 0.1 2 0.1 2 0.1 2 0.1 2 0.1 2 0.1 2 0.1 2 0.1 2 0.1 2 0 2 0.1 2 0.1 2 0.1 2 0.1 2 0.1 2 0 2 0.1 2 0.1 2 0 2 0.1 2 0.1 2 0.1 2 0 2 0.1 2 0.1 2 0 2 0.1 2 0 2 0.1 2 0.1 2 0 2 0.1 2 0 2 0.1 2 0 2 0.1 2 0.1 2 0 2 0.1 2 0 2 0.1 2 0 2 0.1 2 0 2 0.1 2 0 2 0.1 2 0 2 0 2 0.1 2 0 2 0.1 2 0 2 0.1 2 0 2 0.1 2 0 2 0 2 0.1 L1229,601.6 1223,601.5 1217,601.4 1211,601.3 1205,601.1 1199,601 1193,600.9 1187,600.8 1181,600.7 1175,600.6 1169,600.5 1163,600.4 1157,600.3 1151,600.2 1145,600 1139,599.9 1133,599.8 1127,599.7 1121,599.6 1115,599.5 1109,599.4 1103,599.3 1097,599.2 1091,599 1085,598.9 1079,598.8 1073,598.7 1067,598.6 1061,598.5 1055,598.4 1049,598.3 1043,598.2 1037,598 1031,597.9 1025,597.8 1019,597.7 1013,597.6 1007,597.5 1001,597.4 995,597.3 989,597.2 983,597.1 977,596.9 971,596.8 965,596.7 959,596.6 953,596.5 947,596.4 941,596.3 935,596.2 929,596.1 923,595.9 917,595.8 911,595.7 905,595.6 899,595.5 893,595.4 887,595.3 881,595.2 875,595.1 869,594.9 863,594.8 857,594.7 851,594.6 845,594.5 839,594.4 833,594.3 827,594.2 821,594.1 815,593.9 809,593.8 803,593.7 797,593.6 791,593.5 785,593.4 779,593.3 773,593.2 767,593.1 761,592.9 755,592.8 749,592.7 743,592.6 737,592.5 731,592.4 725,592.3 719,592.2 713,592.1 707,592 701,591.8 695,591.7 689,591.6 683,591.5 677,591.4 671,591.3 665,591.2 659,591.1 653,591 647,590.8 641,590.7 635,590.6 629,590.5 623,590.4 617,590.3 611,590.2 605,590.1 599,590 593,589.9 587,589.7 581,589.6 575,589.5 569,589.4 563,589.3 557,589.2 551,589.1 545,589 539,588.9 533,588.9 527,588.8 521,588.7 515,588.6 509,588.5 503,588.4 497,588.3 491,588.3 485,588.2 479,588.1 473,588 467,587.9 461,587.8 455,587.7 449,587.7 443,587.6 437,587.5 431,587.4 425,587.3 419,587.1 413,587 407,586.9 401,586.7 395,586.6 389,586.4 383,586.2 377,586 371,585.8 365,585.5 359,585.2 353,584.9 347,584.6 341,584.1 335,583.6 329,583 323,582.3 317,581.6 311,580.9 305,580.2 299,579.5 293,578.9 287,578.3 281,577.8 275,577.3 269,576.9 263,576.5 257,576.3 251,576.1 245,576 239,576 233,576 227,576 221,576 215,576.1 209,576.2 203,576.2 197,576.2 191,576.2 185,576.2 179,576.2 173,576.1 167,576.1 161,576 155,575.9 149,575.8 143,575.7 137,575.6 131,575.5 125,575.4 119,575.3 113,575.2 107,575.1 101,575 95,574.9Z" fill="url(#gr)"/>
<path d="M95,570.1l0.8 2.5 0.7 -1.2 0.8 1.2 0.7 1.8 0.8 2.4 0.8 -1.4 0.7 0.7 0.8 -0.5 0.7 -0.1 0.8 1.9 0.8 -1.8 0.7 0.9 0.8 -1.2 0.7 -4.4 0.8 -1.4 0.8 -1.1 0.7 6.5 0.8 1.4 0.7 -1.5 0.8 -0.3 0.8 0.1 0.7 -0.4 0.8 0.7 0.7 -0.4 0.8 -0.8 0.8 3.9 0.7 -0.5 0.8 -1.8 0.7 4.5 0.8 1.2 0.8 -2.4 0.7 -1.8 0.8 -3.8 0.7 -1.2 0.8 -2.1 0.8 2.2 0.7 2.6 0.8 -2.7 0.7 -1.6 0.8 6.2 0.8 2.1 0.7 -2.3 0.8 -5.3 0.7 2.3 0.8 -1.9 0.8 0.9 0.7 2.4 0.8 1.1 0.7 -3.8 0.8 -0.9 0.8 -0.9 0.7 1.8 0.8 -0.9 0.7 1.3 0.8 2.5 0.8 -0.7 0.7 0 0.8 0.7 0.7 1.4 0.8 0.1 0.8 -5.1 0.7 -1.1 0.8 4.2 0.7 1.9 0.8 1.4 0.8 -0.2 0.7 1.2 0.8 -2.3 0.7 -2 0.8 1.9 0.8 -2.8 0.7 0 0.8 2 0.7 -0.2 0.8 1.4 0.8 -1.1 0.7 2.3 0.8 -4 0.7 1.4 0.8 -0.7 0.8 2.2 0.7 -2.4 0.8 -0.1 0.7 -5.9 0.8 4.5 0.8 5.8 0.7 -1.5 0.8 -0.2 0.7 2.4 0.8 1.8 0.8 -5.9 0.7 0.1 0.8 0.3 0.7 1.5 0.8 -2.6 0.8 -2.3 0.7 1 0.8 4.6 0.7 0.8 0.8 0.1 0.8 -4.1 0.7 0.5 0.8 1.7 0.7 2.8 0.8 -0.6 0.8 -2.2 0.7 -1.8 0.8 1.3 0.7 -0.6 0.8 2.4 0.8 1.1 0.7 -4 0.8 -2 0.7 5.4 0.8 -2 0.8 -1.4 0.7 -0.8 0.8 0 0.7 0.1 0.8 -0.4 0.8 -2.9 0.7 1.2 0.8 2 0.7 1 0.8 0.4 0.8 -0.6 0.7 -4 0.8 0.7 0.7 1.3 0.8 1.6 0.8 0.8 0.7 3 0.8 -3.7 0.7 -1.5 0.8 -0.8 0.8 5.4 0.7 -1.8 0.8 -1.4 0.7 -0.7 0.8 1.2 0.8 0.4 0.7 2 0.8 -3.1 0.7 -0.3 0.8 0.5 0.8 2.1 0.7 0.3 0.8 0.9 0.7 -0.6 0.8 -0.3 0.8 -0.5 0.7 1.4 0.8 -0.2 0.7 -1.2 0.8 -3.1 0.8 1.5 0.7 -0.2 0.8 -0.6 0.7 5.9 0.8 1.5 0.8 -1.3 0.7 -1.3 0.8 -0.6 0.7 -5.2 0.8 2.2 0.8 -4.6 0.7 2.7 0.8 1.3 0.7 1.2 0.8 1 0.8 0.1 0.7 -2.3 0.8 -0.3 0.7 0.6 0.8 1.8 0.8 -1.1 0.7 -1.6 0.8 3.3 0.7 -3 0.8 -0.2 0.8 -0.5 0.7 0.2 0.8 1.7 0.7 -2.4 0.8 -1.9 0.8 1 0.7 -0.5 0.8 0.2 0.7 4.9 0.8 0.5 0.8 -3.6 0.7 4.9 0.8 0.4 0.7 -5.5 0.8 1.7 0.8 0 0.7 0.1 0.8 -5.3 0.7 5 0.8 0.3 0.8 1.6 0.7 -0.2 0.8 -5.1 0.7 3.2 0.8 1.7 0.8 1.6 0.7 1.2 0.8 -1.3 0.7 -2.6 0.8 1.4 0.8 -1.5 0.7 1.8 0.8 -1.2 0.7 -0.3 0.8 -0.1 0.8 -2.7 0.7 1.2 0.8 -0.2 0.7 3.7 0.8 0 0.8 -6.2 0.7 -2.1 0.8 3.9 0.7 -0.6 0.8 0.5 0.8 5.2 0.7 -3.9 0.8 -1.8 0.7 1.8 0.8 2.4 0.8 2.5 0.7 -2.6 0.8 -3.2 0.7 2 0.8 3.4 0.8 -5.1 0.7 2.4 0.8 3 0.7 -1.3 0.8 -1.7 0.8 -0.9 0.7 2.2 0.8 1.3 0.7 0.2 0.8 1.3 0.8 -0.6 0.7 1.4 0.8 -1.2 0.7 0.5 0.8 -0.9 0.8 3.4 0.7 -0.1 0.8 -2.1 0.7 -3 0.8 0 0.8 -4.4 0.7 3.9 0.8 1.8 0.7 -1.3 0.8 1.9 0.8 2.2 0.7 2 0.8 -3.5 0.7 -4.2 0.8 -1 0.8 4.8 0.7 3.4 0.8 0.4 0.7 -2.7 0.8 -2.4 0.8 -0.6 0.7 1 0.8 0.8 0.7 0.9 0.8 0.3 0.8 3 0.7 -2.2 0.8 0.6 0.7 1.8 0.8 0 0.8 -3.2 0.7 -2.1 0.8 1.4 0.7 4 0.8 1.4 0.8 0 0.7 1.2 0.8 0.3 0.7 -2.1 0.8 5.9 0.8 1 0.7 -4.3 0.8 -2.9 0.7 -0.7 0.8 -2.8 0.8 1.3 0.7 -1.1 0.8 0.5 0.7 0.7 0.8 2.9 0.8 -4.5 0.7 0.4 0.8 0 0.7 3.4 0.8 -1.3 0.8 -5 0.7 0.8 0.8 2.7 0.7 -0.4 0.8 1.7 0.8 -0.7 0.7 -2.2 0.8 1.2 0.7 1.6 0.8 -0.7 0.8 0.4 0.7 0.5 0.8 0.2 0.7 1.8 0.8 -3.3 0.8 2.1 0.7 -0.4 0.8 1.8 0.7 1.4 0.8 -0.1 0.8 0.1 0.7 0.1 0.8 -0.7 0.7 -1.1 0.8 1.7 0.8 0.9 0.7 -0.5 0.8 -1.4 0.7 -1.7 0.8 -4.4 0.8 1.2 0.7 2.1 0.8 2.6 0.7 0.3 0.8 -2.7 0.8 -2.3 0.7 3 0.8 1.8 0.7 -0.8 0.8 -3.1 0.8 -1.3 0.7 0.4 0.8 1 0.7 4.2 0.8 0.8 0.8 3.3 0.7 -0.4 0.8 -2.4 0.7 -3.3 0.8 1.5 0.8 -0.9 0.7 -4 0.8 -0.5 0.7 2.2 0.8 3.7 0.8 -2.5 0.7 -1.7 0.8 3.3 0.7 1.4 0.8 -1.3 0.8 4.5 0.7 -2.6 0.8 2.3 0.7 -0.5 0.8 -2.8 0.8 0.6 0.7 0.3 0.8 -0.3 0.7 1.5 0.8 -1.9 0.8 -3.4 0.7 1.9 0.8 -1.4 0.7 1.2 0.8 1.1 0.8 0 0.7 1.6 0.8 -1.8 0.7 -0.3 0.8 3.8 0.8 -1.1 0.7 -2 0.8 -0.4 0.7 -0.5 0.8 0.3 0.8 -0.6 0.7 4.7 0.8 -1.5 0.7 -6.8 0.8 1.2 0.8 2.1 0.7 -1.6 0.8 -2.1 0.7 3.9 0.8 -1.7 0.8 2.6 0.7 0.8 0.8 0.8 0.7 -3.1 0.8 2.8 0.8 -3.5 0.7 3.9 0.8 0.1 0.7 -2.2 0.8 -2 0.8 4.4 0.7 -1.4 0.8 -5.7 0.7 -1.9 0.8 3.8 0.8 1.7 0.7 3.3 0.8 0.1 0.7 0 0.8 -0.6 0.8 2.1 0.7 -2.7 0.8 -3.1 0.7 -0.9 0.8 4.7 0.8 -1.7 0.7 -3 0.8 0.8 0.7 1.3 0.8 0.4 0.8 -4.9 0.7 2.3 0.8 2.7 0.7 0.1 0.8 1.2 0.8 1.3 0.7 -4.7 0.8 0.4 0.7 4.3 0.8 1.7 0.8 -2.3 0.7 -2.3 0.8 -1.2 0.7 2.8 0.8 -0.8 0.8 -3.2 0.7 -0.3 0.8 -0.2 0.7 2.5 0.8 0 0.8 2.6 0.7 0.7 0.8 -1.3 0.7 1.6 0.8 0.8 0.8 0.2 0.7 -2.8 0.8 2.3 0.7 2.8 0.8 -1.9 0.8 -2.1 0.7 2.3 0.8 3.4 0.7 -4.3 0.8 -1 0.8 2.3 0.7 -2.7 0.8 -3.5 0.7 -0.4 0.8 2.4 0.8 0 0.7 2.5 0.8 -3.9 0.7 -2.6 0.8 0.5 0.8 0.6 0.7 3.9 0.8 -1.3 0.7 3.6 0.8 0.6 0.8 2.1 0.7 -2.5 0.8 0 0.7 -4.3 0.8 2.1 0.8 1.4 0.7 3 0.8 -1.4 0.7 -0.1 0.8 -3.1 0.8 -1.7 0.7 2.5 0.8 2.4 0.7 -1.7 0.8 1.2 0.8 -3.5 0.7 -1.5 0.8 -0.5 0.7 -0.4 0.8 -0.9 0.8 0.2 0.7 -1.1 0.8 0.6 0.7 4.9 0.8 -0.5 0.8 -2.9 0.7 -1.7 0.8 -1.1 0.7 3.2 0.8 -0.2 0.8 2.8 0.7 -5.2 0.8 2.9 0.7 2.1 0.8 -1.8 0.8 4 0.7 -0.8 0.8 -1.4 0.7 -2.8 0.8 2.9 0.8 0.6 0.7 -0.8 0.8 2.4 0.7 -3.3 0.8 -4.7 0.8 4.7 0.7 2.9 0.8 -3.7 0.7 0.6 0.8 -2.2 0.8 -1.1 0.7 -5.1 0.8 1.1 0.7 3.2 0.8 -0.5 0.8 -1.4 0.7 4.4 0.8 0.1 0.7 -3.3 0.8 -1.6 0.8 4.4 0.7 -0.2 0.8 2.2 0.7 0.6 0.8 -2.8 0.8 -0.2 0.7 1.4 0.8 -2.6 0.7 -2.9 0.8 4.3 0.8 0.2 0.7 -1.3 0.8 1.4 0.7 -1.3 0.8 0.1 0.8 1.1 0.7 -4.3 0.8 -1.3 0.7 1.7 0.8 -1.1 0.8 2.4 0.7 -3.3 0.8 -2.7 0.7 0.9 0.8 -1.6 0.8 5.7 0.7 -0.8 0.8 0.8 0.7 -0.1 0.8 -1.2 0.8 -1.6 0.7 2.7 0.8 -1.5 0.7 -1.9 0.8 -0.9 0.8 5.6 0.7 -1.2 0.8 -1.6 0.7 -1.6 0.8 4.8 0.8 -0.1 0.7 1.3 0.8 -2 0.7 -1.6 0.8 1.3 0.8 -3.8 0.7 -0.4 0.8 3.3 0.7 2.4 0.8 0.3 0.8 -2.5 0.7 -0.8 0.8 0.2 0.7 -1 0.8 -0.4 0.8 1.3 0.7 -1.5 0.8 0.7 0.7 2.5 0.8 -1.7 0.8 -1.4 0.7 1.8 0.8 -0.6 0.7 0.6 0.8 -2.5 0.8 -0.8 0.7 0.1 0.8 5.1 0.7 1.8 0.8 -0.8 0.8 -2 0.7 -1.1 0.8 -0.7 0.7 1 0.8 -1.7 0.8 -1.1 0.7 3.5 0.8 0.5 0.7 -1.3 0.8 -1.7 0.8 -0.7 0.7 0.8 0.8 -0.1 0.7 -2.3 0.8 0.6 0.8 0.2 0.7 2.8 0.8 -4.1 0.7 -1.2 0.8 0.5 0.8 1 0.7 -1.1 0.8 3.6 0.7 -3 0.8 -6 0.8 3.6 0.7 0.8 0.8 -2.4 0.7 2 0.8 1 0.8 -0.6 0.7 1.3 0.8 1 0.7 -1.2 0.8 -0.1 0.8 -1.4 0.7 2.2 0.8 -1.3 0.7 3 0.8 1.7 0.8 -2.2 0.7 -4.8 0.8 -0.3 0.7 -1.2 0.8 0 0.8 -2.7 0.7 -0.9 0.8 1.2 0.7 -0.3 0.8 3.3 0.8 -0.3 0.7 -1.4 0.8 -1.3 0.7 0.3 0.8 1.9 0.8 -1.2 0.7 0.4 0.8 2.9 0.7 -2.9 0.8 -1.8 0.8 0.3 0.7 1.8 0.8 -3.2 0.7 -0.4 0.8 3 0.8 0.8 0.7 -0.7 0.8 -3.9 0.7 1 0.8 -0.8 0.8 0.6 0.7 -2.9 0.8 2.5 0.7 2.8 0.8 -2.5 0.8 -4.1 0.7 5.1 0.8 -0.1 0.7 -1.6 0.8 -0.2 0.8 -0.1 0.7 1.8 0.8 -2.8 0.7 -3.8 0.8 1.6 0.8 4.8 0.7 -0.2 0.8 -2 0.7 -3 0.8 1.9 0.8 1.1 0.7 -1.4 0.8 1 0.7 1 0.8 -0.3 0.8 -1.2 0.7 -1.3 0.8 -3.1 0.7 1.5 0.8 3.1 0.8 1.6 0.7 -2.1 0.8 0.6 0.7 -1.9 0.8 -1.6 0.8 2.6 0.7 0.2 0.8 -2.8 0.7 -0.3 0.8 1.2 0.8 -0.6 0.7 0.4 0.8 -2.7 0.7 2.3 0.8 -1.9 0.8 -0.2 0.7 -2.7 0.8 3.2 0.7 0.2 0.8 1.3 0.8 -7.1 0.7 -1 0.8 5.3 0.7 0.5 0.8 -3.8 0.8 3.8 0.7 2.5 0.8 0.6 0.7 -3.1 0.8 -4.4 0.8 0.3 0.7 6.9 0.8 -1.4 0.7 -0.7 0.8 -2.7 0.8 -0.9 0.7 -0.8 0.8 -1.6 0.7 0.1 0.8 -1.5 0.8 1.4 0.7 2.5 0.8 -2.2 0.7 -1.1 0.8 4 0.8 -0.6 0.7 -3.9 0.8 -2.9 0.7 5.1 0.8 0.5 0.8 -2.8 0.7 2.1 0.8 -3.1 0.7 0.2 0.8 0.6 0.8 1.4 0.7 0.7 0.8 2.3 0.7 -2.5 0.8 0.3 0.8 -0.7 0.7 -0.8 0.8 -2.2 0.7 1.3 0.8 2.5 0.8 -1.9 0.7 -4.3 0.8 -0.1 0.7 -1 0.8 0.1 0.8 -0.3 0.7 -0.6 0.8 3 0.7 0.9 0.8 -2.1 0.8 -1.9 0.7 -0.1 0.8 -1.1 0.7 3.5 0.8 0.7 0.8 -8.3 0.7 3.3 0.8 0.7 0.7 -0.2 0.8 -1.8 0.8 -2.2 0.7 1.8 0.8 -0.1 0.7 0.1 0.8 -0.1 0.8 0.3 0.7 3.6 0.8 -5.3 0.7 -0.3 0.8 -0.5 0.8 3 0.7 3.6 0.8 -2.5 0.7 -2.4 0.8 -0.5 0.8 2.9 0.7 -1.1 0.8 1.2 0.7 -2.2 0.8 -0.5 0.8 -0.1 0.7 -1.9 0.8 3.5 0.7 -2.9 0.8 1.4 0.8 2 0.7 3 0.8 -2.9 0.7 -1 0.8 -2.5 0.8 0 0.7 0.9 0.8 1.2 0.7 -2.9 0.8 3.2 0.8 3.9 0.7 -6.7 0.8 -2.8 0.7 2.5 0.8 2.4 0.8 3.2 0.7 -1.3 0.8 -0.5 0.7 -3.4 0.8 0.3 0.8 0.1 0.7 -1.7 0.8 1.3 0.7 -0.4 0.8 -0.1 0.8 -3.3 0.7 -0.4 0.8 6 0.7 -1.2 0.8 0.2 0.8 4.2 0.7 -2.6 0.8 -3.2 0.7 -2.7 0.8 0.7 0.8 -0.7 0.7 -1 0.8 2.2 0.7 -1.2 0.8 -1.9 0.8 -3.2 0.7 0.2 0.8 3.2 0.7 -1.3 0.8 -1.5 0.8 1.4 0.7 -0.3 0.8 -0.8 0.7 0.8 0.8 1.8 0.8 -1 0.7 -2.6 0.8 0.1 0.7 1.5 0.8 -1.6 0.8 1.6 0.7 -0.6 0.8 -3.2 0.7 -2.3 0.8 2.6 0.8 2.1 0.7 0.5 0.8 1.5 0.7 -2.4 0.8 -1 0.8 0.2 0.7 -0.6 0.8 2.6 0.7 -3.9 0.8 -1.6 0.8 1.3 0.7 2.8 0.8 -2.7 0.7 -0.3 0.8 3.2 0.8 1.5 0.7 -2 0.8 1 0.7 -1 0.8 2.2 0.8 -3.7 0.7 0 0.8 -0.5 0.7 -1.1 0.8 1.5 0.8 0.9 0.7 -1.6 0.8 3.7 0.7 -2.2 0.8 -1.4 0.8 -2.1 0.7 1.2 0.8 1.1 0.7 -3.5 0.8 -0.8 0.8 -0.7 0.7 -0.4 0.8 2.6 0.7 -1 0.8 2.5 0.8 -4.4 0.7 0.4 0.8 0.5 0.7 -2.7 0.8 -2.3 0.8 2.6 0.7 1.4 0.8 -1.2 0.7 0.8 0.8 -2.8 0.8 4.1 0.7 4 0.8 -1.6 0.7 -1.4 0.8 -3 0.8 -0.4 0.7 2 0.8 -2.2 0.7 0 0.8 -2.7 0.8 1.2 0.7 -1.5 0.8 -4.5 0.7 2.8 0.8 2 0.8 -0.1 0.7 -0.1 0.8 1.1 0.7 -2.5 0.8 -1 0.8 4 0.7 2.4 0.8 -3.1 0.7 1.8 0.8 -3.1 0.8 -3.4 0.7 0.3 0.8 0.9 0.7 3.1 0.8 -2.1 0.8 -2.1 0.7 1.1 0.8 1.7 0.7 -3 0.8 -1.8 0.8 1 0.7 -1.4 0.8 2.2 0.7 1 0.8 -2.1 0.8 -1.8 0.7 -0.6 0.8 -2 0.7 4.9 0.8 1.2 0.8 -6.1 0.7 -5.2 0.8 0.9 0.7 -1.3 0.8 -0.5 0.8 3.2 0.7 0.6 0.8 -0.2 0.7 2.6 0.8 -2.1 0.8 -2.1 0.7 1.3 0.8 -2.3 0.7 0.9 0.8 0.2 0.8 2.1 0.7 -0.4 0.8 -0.2 0.7 1.9 0.8 0.8 0.8 0.1 0.7 0.5 0.8 -3.4 0.7 2.1 0.8 2 0.8 -4.4 0.7 -4.5 0.8 4 0.7 -1.2 0.8 0.2 0.8 -1 0.7 0.2 0.8 0.2 0.7 -2.2 0.8 -0.7 0.8 -4.2 0.7 -0.2 0.8 2.2 0.7 2.2 0.8 -4.2 0.8 -0.2 0.7 1.1 0.8 -2.7 0.7 -2.9 0.8 -0.7 0.8 4.2 0.7 -1.7 0.8 2.4 0.7 0.8 0.8 -1.7 0.8 1.5 0.7 -2.9 0.8 2.8 0.7 0.1 0.8 2.3 0.8 0.5 0.7 0 0.8 -0.1 0.7 -3.1 0.8 -2.5 0.8 0.9 0.7 3.6 0.8 -2.7 0.7 0.8 0.8 1.6 0.8 -1 0.7 -2.3 0.8 -1.1 0.7 5 0.8 -2 0.8 -2.3 0.7 1.9 0.8 1.1 0.7 -2.5 0.8 3.5 0.8 1.3 0.7 1 0.8 -0.8 0.7 -2.2 0.8 -0.7 0.8 2.7 0.7 1.4 0.8 3.4 0.7 -1.9 0.8 0.6 0.8 -0.8 0.7 -2.2 0.8 3.9 0.7 -1.4 0.8 -1.5 0.8 3.9 0.7 1.9 0.8 -2.4 0.7 -1.1 0.8 -0.7 0.8 1.2 0.7 2.8 0.8 -1 0.7 0.4 0.8 -1.2 0.8 -5.5 0.7 4.8 0.8 2.3 0.7 -1.2 0.8 -2.9 0.8 1.8 0.7 3.8 0.8 0.9 0.7 -0.1 0.8 -1.8 0.8 3.2 0.7 2.9 0.8 -1.3 0.7 1.9 0.8 -0.1 0.8 -0.8 0.7 -2.7 0.8 -0.2 0.7 1.4 0.8 4.4 0.8 0.7 0.7 -3.8 0.8 -0.1 0.7 4.3 0.8 3.6 0.8 -0.3 0.7 1.1 0.8 0.7 0.7 0.4 0.8 -0.7 0.8 1.1 0.7 0.3 0.8 -0.8 0.7 1.7 0.8 -4.5 0.8 -0.2 0.7 0.4 0.8 3.8 0.7 0.4 0.8 -2.9 0.8 0.9 0.7 -0.6 0.8 -1.3 0.7 1.7 0.8 3.3 0.8 0.9 0.7 -1.6 0.8 1.8 0.7 2.9 0.8 1.6 0.8 -1.7 0.7 -2.4 0.8 -0.5 0.7 3.6 0.8 0.9 0.8 0.2 0.7 0.7 0.8 1.6 0.7 2.8 0.8 1.8 0.8 -0.3 0.7 5.7 0.8 0.9 0.7 -1.9 0.8 2.1 0.8 2.7 0.7 -3.2 0.8 0.1 0.7 0.4 0.8 0.4 0.8 2.8 0.7 -0.9 0.8 0 0.7 -0.1 0.8 0.2 0.8 2.5 0.7 -2.7 0.8 -2.2 0.7 -0.5 0.8 2.3 0.8 2.8 0.7 1.4 0.8 0.8 0.7 0.1 0.8 2.2 0.8 0.5 0.7 -1.7 0.8 3 0.7 1 0.8 -0.4 0.8 2.1 0.7 -1.6 0.8 -1.1 0.7 3.7 0.8 1.3 0.8 -4.5 0.7 1.7 0.8 2.8 0.7 0.6 0.8 1.4 0.8 -0.2 0.7 -4.3 0.8 2.9 0.7 -2.5 0.8 0.9 0.8 1.4 0.7 2.7 0.8 -2.2 0.7 2.1 0.8 -0.4 0.8 5.1 0.7 -3.1 0.8 -0.8 0.7 -1.7 0.8 1.8 0.8 4 0.7 -1.3 0.8 -2.2 0.7 1.7 0.8 2.9 0.8 4.1 0.7 -1.5 0.8 1.4 0.7 3 0.8 2.8 0.8 -3.2 0.7 -3.9 0.8 0.7 0.7 4.8 0.8 -2.6 0.8 -4.7 0.7 1.6 0.8 0.9 0.7 1.1 0.8 2.5 0.8 1.6 0.7 0.6 0.8 -4.2 0.7 3.4 0.8 0.4 0.8 -0.5 0.7 2.7 0.8 -3.3 0.7 0.3 0.8 5.3 0.8 -0.9 0.7 0.3 0.8 -0.2 0.7 -3.8 0.8 3.5 0.8 -0.8 0.7 0.7 0.8 1.1 0.7 0 0.8 -1.2 0.8 1.1 0.7 1.8 0.8 1 0.7 -3.7 0.8 5 0.8 -1 0.7 4.6 0.8 -1.1 0.7 0.9 0.8 -2.2 0.8 2.5 0.7 -1.4 0.8 -0.4 0.7 -1 0.8 -5.1 0.8 0.8 0.7 1.5 0.8 3.6 0.7 1 0.8 2.1 0.8 0.4 0.7 0.9 0.8 -2.6 0.7 1.1 0.8 -1.2 0.8 -1.7 0.7 -0.5 0.8 3 0.7 -0.5 0.8 0.3 0.8 -0.7 0.7 1.5 0.8 6.4 0.7 -4.5 0.8 -3.7 0.8 1.5 0.7 0.2 0.8 -1.7 0.7 3.5 0.8 -1.9 0.8 1.7 0.7 -1 0.8 1.2 0.7 6.6 0.8 -5.8 0.8 -2.8 0.7 1.8 0.8 1 0.7 4.1 0.8 -0.8 0.8 -2 0.7 4.3 0.8 -3.2 0.7 -2.1 0.8 3.8 0.8 -0.8 0.7 -3.9 0.8 -0.9 0.7 1.6 0.8 0 0.8 2.3 0.7 -0.4 0.8 -2.7 0.7 0.3 0.8 3 0.8 3 0.7 -2.3 0.8 1.2 0.7 -1.4 0.8 1 0.8 -1.2 0.7 0.5 0.8 -2.6 0.7 0.4 0.8 4.5 0.8 -2.4 0.7 -4.3 0.8 2.9 0.7 -1 0.8 1 0.8 -3.9 0.7 1.3 0.8 0.1 0.7 -0.4 0.8 0.9 0.8 5.6 0.7 -2.2 0.8 -1.9 0.7 -1.1 0.8 5.2 0.8 1 0.7 -3.2 0.8 -2.2 0.7 2.9 0.8 -1.1 0.8 -1.6 0.7 5.6 0.8 -2 0.7 -4.1 0.8 0.4 0.8 3.9 0.7 1.6 0.8 -0.6 0.7 -0.5 0.8 -0.2 0.8 3.7 0.7 -3 0.8 0.1 0.7 0.4 0.8 -0.8 0.8 2.1 0.7 0.1 0.8 -6.6 0.7 2.8 0.8 4 0.8 0.2 0.7 -3 0.8 1.4 0.7 -0.1 0.8 -0.4 0.8 -0.6 0.7 3.2 0.8 1.3 0.7 0.2 0.8 -2.8 0.8 -0.6 0.7 2.9 0.8 3.2 0.7 -6.1 0.8 -0.5 0.8 2.5 0.7 -5.5 0.8 -2.3 0.7 6.9 0.8 2.9 0.8 0.1 0.7 -0.6 0.8 -1 0.7 -2.9 0.8 1.2 0.8 -4 0.7 -2 0.8 1.6 0.7 -1.7 0.8 0 0.8 1.3 0.7 1.3 0.8 1.1 0.7 -1.4 0.8 1 0.8 1.8 0.7 1.4 0.8 1.2 0.7 0.6 0.8 -0.8 0.8 0.1 0.7 0 0.8 -1.4 0.7 -0.7 0.8 -1.6 0.8 2.1 0.7 1.3 0.8 -1.8 0.7 2.5 0.8 -1.7 0.8 3 0.7 1.7 0.8 -2.5 0.7 -1 0.8 1.4 0.8 -1.1 0.7 -0.2 0.8 2.3 0.7 -3.7 0.8 3.3 0.8 -1.5 0.7 1.7 0.8 -1.1 0.7 2.7 0.8 -4.5 0.8 -2 0.7 8.4 0.8 -3.3 0.7 -1.6 0.8 0.1 0.8 -0.3 0.7 0.4 0.8 -0.7 0.7 3.7 0.8 -4.2 0.8 1.2 0.7 0.9 0.8 -2.8 0.7 0.4 0.8 -2.9 0.8 -1.7 0.7 1 0.8 3.9 0.7 0 0.8 -2.9 0.8 2.3 0.7 -2.1 0.8 1.9 0.7 0.7 0.8 -3.7 0.8 4 0.7 -0.9 0.8 -1.5 0.7 3.7 0.8 0.4 0.8 -0.4 0.7 -1.5 0.8 -1.5 0.7 -1.1 0.8 1.3 0.8 -1.1 0.7 1.1 0.8 1.9 0.7 0.8 0.8 -0.9 0.8 -1.1 0.7 -0.8 0.8 2.2 0.7 0.3 0.8 -3.2 0.8 -0.7 0.7 -0.5 0.8 1.5 0.7 1.7 0.8 4.8 0.8 -1.1 0.7 -4.6 0.8 2.6 0.7 -1.6 0.8 -2.6 0.8 2.9 0.7 -0.4 0.8 1.6 0.7 0.3 0.8 -1.3 0.8 3 0.7 -2.4 0.8 -3.1 0.7 -0.5 0.8 5.9 0.8 -3.9 0.7 0.4 0.8 1.3 0.7 0.4 0.8 -4.6 0.8 -1.8 0.7 4.1 0.8 -1.2 0.7 3 0.8 4 0.8 -3.8 0.7 0.1 0.8 -1.3 0.7 5.4 0.8 -4.8 0.8 -0.7 0.7 -1.2" fill="none" stroke="#00ff00" stroke-width="3.6" stroke-linejoin="round"/>
<path d="M95,574.9l2 0.1 2 0 2 0 2 0 2 0.1 2 0 2 0 2 0 2 0.1 2 0 2 0 2 0.1 2 0 2 0 2 0.1 2 0 2 0 2 0.1 2 0 2 0 2 0.1 2 0 2 0 2 0.1 2 0 2 0 2 0.1 2 0 2 0 2 0.1 2 0 2 0 2 0.1 2 0 2 0 2 0.1 2 0 2 0 2 0 2 0.1 2 0 2 0 2 0 2 0 2 0 2 0 2 0 2 0 2 0 2 0 2 0 2 0 2 0 2 0 2 0 2 0 2 0 2 -0.1 2 0 2 0 2 0 2 0 2 -0.1 2 0 2 0 2 0 2 0 2 0 2 0 2 0 2 0 2 0 2 0 2 0 2 0 2 0 2 0.1 2 0 2 0.1 2 0 2 0.1 2 0.1 2 0 2 0.1 2 0.1 2 0.1 2 0.2 2 0.1 2 0.1 2 0.2 2 0.1 2 0.2 2 0.1 2 0.2 2 0.2 2 0.2 2 0.2 2 0.2 2 0.2 2 0.2 2 0.2 2 0.2 2 0.2 2 0.2 2 0.3 2 0.2 2 0.2 2 0.3 2 0.2 2 0.2 2 0.3 2 0.2 2 0.2 2 0.2 2 0.3 2 0.2 2 0.2 2 0.2 2 0.2 2 0.2 2 0.1 2 0.2 2 0.2 2 0.1 2 0.1 2 0.2 2 0.1 2 0.1 2 0.1 2 0.1 2 0.1 2 0.1 2 0.1 2 0.1 2 0 2 0.1 2 0.1 2 0 2 0.1 2 0 2 0.1 2 0 2 0.1 2 0 2 0.1 2 0 2 0.1 2 0 2 0 2 0.1 2 0 2 0 2 0 2 0.1 2 0 2 0 2 0 2 0 2 0 2 0 2 0 2 0 2 0 2 0 2 0 2 0 2 0 2 0 2 -0.1 2 0 2 0 2 -0.1 2 0 2 0 2 -0.1 2 0 2 -0.1 2 0 2 -0.1 2 0 2 -0.1 2 0 2 -0.1 2 -0.1 2 0 2 -0.1 2 -0.1 2 -0.1 2 0 2 -0.1 2 -0.1 2 -0.1 2 -0.1 2 -0.1 2 -0.1 2 -0.1 2 -0.2 2 -0.1 2 -0.1 2 -0.1 2 -0.2 2 -0.1 2 -0.1 2 -0.2 2 -0.1 2 -0.2 2 -0.1 2 -0.2 2 -0.2 2 -0.2 2 -0.1 2 -0.2 2 -0.2 2 -0.2 2 -0.2 2 -0.2 2 -0.2 2 -0.3 2 -0.2 2 -0.2 2 -0.2 2 -0.3 2 -0.2 2 -0.3 2 -0.2 2 -0.3 2 -0.3 2 -0.2 2 -0.3 2 -0.3 2 -0.3 2 -0.3 2 -0.3 2 -0.3 2 -0.3 2 -0.3 2 -0.4 2 -0.3 2 -0.3 2 -0.4 2 -0.3 2 -0.4 2 -0.4 2 -0.3 2 -0.4 2 -0.4 2 -0.4 2 -0.3 2 -0.4 2 -0.4 2 -0.4 2 -0.5 2 -0.4 2 -0.4 2 -0.4 2 -0.4 2 -0.5 2 -0.4 2 -0.5 2 -0.4 2 -0.5 2 -0.4 2 -0.5 2 -0.4 2 -0.5 2 -0.5 2 -0.4 2 -0.5 2 -0.5 2 -0.5 2 -0.5 2 -0.5 2 -0.4 2 -0.5 2 -0.5 2 -0.5 2 -0.5 2 -0.5 2 -0.5 2 -0.5 2 -0.5 2 -0.5 2 -0.5 2 -0.5 2 -0.4 2 -0.5 2 -0.5 2 -0.5 2 -0.5 2 -0.5 2 -0.4 2 -0.5 2 -0.5 2 -0.4 2 -0.5 2 -0.5 2 -0.4 2 -0.5 2 -0.4 2 -0.4 2 -0.5 2 -0.4 2 -0.4 2 -0.4 2 -0.4 2 -0.4 2 -0.4 2 -0.4 2 -0.4 2 -0.3 2 -0.4 2 -0.3 2 -0.3 2 -0.4 2 -0.3 2 -0.3 2 -0.3 2 -0.3 2 -0.2 2 -0.3 2 -0.2 2 -0.3 2 -0.2 2 -0.2 2 -0.2 2 -0.2 2 -0.2 2 -0.1 2 -0.2 2 -0.1 2 -0.1 2 -0.1 2 -0.1 2 -0.1 2 -0.1 2 0 2 -0.1 2 0 2 0 2 0 2 0 2 0.1 2 0 2 0.1 2 0.1 2 0.1 2 0.1 2 0.1 2 0.2 2 0.1 2 0.2 2 0.2 2 0.2 2 0.2 2 0.2 2 0.3 2 0.2 2 0.3 2 0.3 2 0.3 2 0.3 2 0.3 2 0.3 2 0.3 2 0.4 2 0.3 2 0.4 2 0.4 2 0.4 2 0.4 2 0.4 2 0.4 2 0.4 2 0.5 2 0.4 2 0.5 2 0.5 2 0.4 2 0.5 2 0.5 2 0.5 2 0.5 2 0.5 2 0.5 2 0.5 2 0.5 2 0.6 2 0.5 2 0.5 2 0.6 2 0.5 2 0.6 2 0.5 2 0.6 2 0.5 2 0.6 2 0.6 2 0.5 2 0.6 2 0.5 2 0.6 2 0.6 2 0.5 2 0.6 2 0.6 2 0.5 2 0.6 2 0.6 2 0.5 2 0.6 2 0.6 2 0.5 2 0.6 2 0.5 2 0.6 2 0.5 2 0.6 2 0.5 2 0.6 2 0.5 2 0.5 2 0.6 2 0.5 2 0.5 2 0.5 2 0.5 2 0.5 2 0.5 2 0.5 2 0.5 2 0.5 2 0.5 2 0.5 2 0.4 2 0.5 2 0.5 2 0.4 2 0.5 2 0.4 2 0.5 2 0.4 2 0.4 2 0.4 2 0.4 2 0.5 2 0.4 2 0.3 2 0.4 2 0.4 2 0.4 2 0.4 2 0.3 2 0.4 2 0.3 2 0.4 2 0.3 2 0.4 2 0.3 2 0.3 2 0.3 2 0.3 2 0.4 2 0.3 2 0.2 2 0.3 2 0.3 2 0.3 2 0.3 2 0.2 2 0.3 2 0.2 2 0.3 2 0.2 2 0.3 2 0.2 2 0.2 2 0.3 2 0.2 2 0.2 2 0.2 2 0.2 2 0.2 2 0.2 2 0.2 2 0.2 2 0.2 2 0.1 2 0.2 2 0.2 2 0.2 2 0.1 2 0.2 2 0.1 2 0.2 2 0.1 2 0.2 2 0.1 2 0.2 2 0.1 2 0.1 2 0.2 2 0.1 2 0.1 2 0.1 2 0.1 2 0.2 2 0.1 2 0.1 2 0.1 2 0.1 2 0.1 2 0.1 2 0.1 2 0.1 2 0.1 2 0.1 2 0.1 2 0 2 0.1 2 0.1 2 0.1 2 0.1 2 0.1 2 0 2 0.1 2 0.1 2 0 2 0.1 2 0.1 2 0.1 2 0 2 0.1 2 0.1 2 0 2 0.1 2 0 2 0.1 2 0.1 2 0 2 0.1 2 0 2 0.1 2 0 2 0.1 2 0.1 2 0 2 0.1 2 0 2 0.1 2 0 2 0.1 2 0 2 0.1 2 0 2 0.1 2 0 2 0 2 0.1 2 0 2 0.1 2 0 2 0.1 2 0 2 0.1 2 0 2 0 2 0.1 L1229,601.6 1223,601.5 1217,601.4 1211,601.3 1205,601.1 1199,601 1193,600.9 1187,600.8 1181,600.7 1175,600.6 1169,600.5 1163,600.4 1157,600.3 1151,600.2 1145,600 1139,599.9 1133,599.8 1127,599.7 1121,599.6 1115,599.5 1109,599.4 1103,599.3 1097,599.2 1091,599 1085,598.9 1079,598.8 1073,598.7 1067,598.6 1061,598.5 1055,598.4 1049,598.3 1043,598.2 1037,598 1031,597.9 1025,597.8 1019,597.7 1013,597.6 1007,597.5 1001,597.4 995,597.3 989,597.2 983,597.1 977,596.9 971,596.8 965,596.7 959,596.6 953,596.5 947,596.4 941,596.3 935,596.2 929,596.1 923,595.9 917,595.8 911,595.7 905,595.6 899,595.5 893,595.4 887,595.3 881,595.2 875,595.1 869,594.9 863,594.8 857,594.7 851,594.6 845,594.5 839,594.4 833,594.3 827,594.2 821,594.1 815,593.9 809,593.8 803,593.7 797,593.6 791,593.5 785,593.4 779,593.3 773,593.2 767,593.1 761,592.9 755,592.8 749,592.7 743,592.6 737,592.5 731,592.4 725,592.3 719,592.2 713,592.1 707,592 701,591.8 695,591.7 689,591.6 683,591.5 677,591.4 671,591.3 665,591.2 659,591.1 653,591 647,590.8 641,590.7 635,590.6 629,590.5 623,590.4 617,590.3 611,590.2 605,590.1 599,590 593,589.9 587,589.7 581,589.6 575,589.5 569,589.4 563,589.3 557,589.2 551,589.1 545,589 539,588.9 533,588.9 527,588.8 521,588.7 515,588.6 509,588.5 503,588.4 497,588.3 491,588.3 485,588.2 479,588.1 473,588 467,587.9 461,587.8 455,587.7 449,587.7 443,587.6 437,587.5 431,587.4 425,587.3 419,587.1 413,587 407,586.9 401,586.7 395,586.6 389,586.4 383,586.2 377,586 371,585.8 365,585.5 359,585.2 353,584.9 347,584.6 341,584.1 335,583.6 329,583 323,582.3 317,581.6 311,580.9 305,580.2 299,579.5 293,578.9 287,578.3 281,577.8 275,577.3 269,576.9 263,576.5 257,576.3 251,576.1 245,576 239,576 233,576 227,576 221,576 215,576.1 209,576.2 203,576.2 197,576.2 191,576.2 185,576.2 179,576.2 173,576.1 167,576.1 161,576 155,575.9 149,575.8 143,575.7 137,575.6 131,575.5 125,575.4 119,575.3 113,575.2 107,575.1 101,575 95,574.9Z" fill="url(#gro)" fill-opacity="0.5"/>
<path d="M95,574.9l2 0.1 2 0 2 0 2 0 2 0.1 2 0 2 0 2 0 2 0.1 2 0 2 0 2 0.1 2 0 2 0 2 0.1 2 0 2 0 2 0.1 2 0 2 0 2 0.1 2 0 2 0 2 0.1 2 0 2 0 2 0.1 2 0 2 0 2 0.1 2 0 2 0 2 0.1 2 0 2 0 2 0.1 2 0 2 0 2 0 2 0.1 2 0 2 0 2 0 2 0 2 0 2 0 2 0 2 0 2 0 2 0 2 0 2 0 2 0 2 0 2 0 2 0 2 0 2 -0.1 2 0 2 0 2 0 2 0 2 -0.1 2 0 2 0 2 0 2 0 2 0 2 0 2 0 2 0 2 0 2 0 2 0 2 0 2 0 2 0.1 2 0 2 0.1 2 0 2 0.1 2 0.1 2 0 2 0.1 2 0.1 2 0.1 2 0.2 2 0.1 2 0.1 2 0.2 2 0.1 2 0.2 2 0.1 2 0.2 2 0.2 2 0.2 2 0.2 2 0.2 2 0.2 2 0.2 2 0.2 2 0.2 2 0.2 2 0.2 2 0.3 2 0.2 2 0.2 2 0.3 2 0.2 2 0.2 2 0.3 2 0.2 2 0.2 2 0.2 2 0.3 2 0.2 2 0.2 2 0.2 2 0.2 2 0.2 2 0.1 2 0.2 2 0.2 2 0.1 2 0.1 2 0.2 2 0.1 2 0.1 2 0.1 2 0.1 2 0.1 2 0.1 2 0.1 2 0.1 2 0 2 0.1 2 0.1 2 0 2 0.1 2 0 2 0.1 2 0 2 0.1 2 0 2 0.1 2 0 2 0.1 2 0 2 0 2 0.1 2 0 2 0 2 0 2 0.1 2 0 2 0 2 0 2 0 2 0 2 0 2 0 2 0 2 0 2 0 2 0 2 0 2 0 2 0 2 -0.1 2 0 2 0 2 -0.1 2 0 2 0 2 -0.1 2 0 2 -0.1 2 0 2 -0.1 2 0 2 -0.1 2 0 2 -0.1 2 -0.1 2 0 2 -0.1 2 -0.1 2 -0.1 2 0 2 -0.1 2 -0.1 2 -0.1 2 -0.1 2 -0.1 2 -0.1 2 -0.1 2 -0.2 2 -0.1 2 -0.1 2 -0.1 2 -0.2 2 -0.1 2 -0.1 2 -0.2 2 -0.1 2 -0.2 2 -0.1 2 -0.2 2 -0.2 2 -0.2 2 -0.1 2 -0.2 2 -0.2 2 -0.2 2 -0.2 2 -0.2 2 -0.2 2 -0.3 2 -0.2 2 -0.2 2 -0.2 2 -0.3 2 -0.2 2 -0.3 2 -0.2 2 -0.3 2 -0.3 2 -0.2 2 -0.3 2 -0.3 2 -0.3 2 -0.3 2 -0.3 2 -0.3 2 -0.3 2 -0.3 2 -0.4 2 -0.3 2 -0.3 2 -0.4 2 -0.3 2 -0.4 2 -0.4 2 -0.3 2 -0.4 2 -0.4 2 -0.4 2 -0.3 2 -0.4 2 -0.4 2 -0.4 2 -0.5 2 -0.4 2 -0.4 2 -0.4 2 -0.4 2 -0.5 2 -0.4 2 -0.5 2 -0.4 2 -0.5 2 -0.4 2 -0.5 2 -0.4 2 -0.5 2 -0.5 2 -0.4 2 -0.5 2 -0.5 2 -0.5 2 -0.5 2 -0.5 2 -0.4 2 -0.5 2 -0.5 2 -0.5 2 -0.5 2 -0.5 2 -0.5 2 -0.5 2 -0.5 2 -0.5 2 -0.5 2 -0.5 2 -0.4 2 -0.5 2 -0.5 2 -0.5 2 -0.5 2 -0.5 2 -0.4 2 -0.5 2 -0.5 2 -0.4 2 -0.5 2 -0.5 2 -0.4 2 -0.5 2 -0.4 2 -0.4 2 -0.5 2 -0.4 2 -0.4 2 -0.4 2 -0.4 2 -0.4 2 -0.4 2 -0.4 2 -0.4 2 -0.3 2 -0.4 2 -0.3 2 -0.3 2 -0.4 2 -0.3 2 -0.3 2 -0.3 2 -0.3 2 -0.2 2 -0.3 2 -0.2 2 -0.3 2 -0.2 2 -0.2 2 -0.2 2 -0.2 2 -0.2 2 -0.1 2 -0.2 2 -0.1 2 -0.1 2 -0.1 2 -0.1 2 -0.1 2 -0.1 2 0 2 -0.1 2 0 2 0 2 0 2 0 2 0.1 2 0 2 0.1 2 0.1 2 0.1 2 0.1 2 0.1 2 0.2 2 0.1 2 0.2 2 0.2 2 0.2 2 0.2 2 0.2 2 0.3 2 0.2 2 0.3 2 0.3 2 0.3 2 0.3 2 0.3 2 0.3 2 0.3 2 0.4 2 0.3 2 0.4 2 0.4 2 0.4 2 0.4 2 0.4 2 0.4 2 0.4 2 0.5 2 0.4 2 0.5 2 0.5 2 0.4 2 0.5 2 0.5 2 0.5 2 0.5 2 0.5 2 0.5 2 0.5 2 0.5 2 0.6 2 0.5 2 0.5 2 0.6 2 0.5 2 0.6 2 0.5 2 0.6 2 0.5 2 0.6 2 0.6 2 0.5 2 0.6 2 0.5 2 0.6 2 0.6 2 0.5 2 0.6 2 0.6 2 0.5 2 0.6 2 0.6 2 0.5 2 0.6 2 0.6 2 0.5 2 0.6 2 0.5 2 0.6 2 0.5 2 0.6 2 0.5 2 0.6 2 0.5 2 0.5 2 0.6 2 0.5 2 0.5 2 0.5 2 0.5 2 0.5 2 0.5 2 0.5 2 0.5 2 0.5 2 0.5 2 0.5 2 0.4 2 0.5 2 0.5 2 0.4 2 0.5 2 0.4 2 0.5 2 0.4 2 0.4 2 0.4 2 0.4 2 0.5 2 0.4 2 0.3 2 0.4 2 0.4 2 0.4 2 0.4 2 0.3 2 0.4 2 0.3 2 0.4 2 0.3 2 0.4 2 0.3 2 0.3 2 0.3 2 0.3 2 0.4 2 0.3 2 0.2 2 0.3 2 0.3 2 0.3 2 0.3 2 0.2 2 0.3 2 0.2 2 0.3 2 0.2 2 0.3 2 0.2 2 0.2 2 0.3 2 0.2 2 0.2 2 0.2 2 0.2 2 0.2 2 0.2 2 0.2 2 0.2 2 0.2 2 0.1 2 0.2 2 0.2 2 0.2 2 0.1 2 0.2 2 0.1 2 0.2 2 0.1 2 0.2 2 0.1 2 0.2 2 0.1 2 0.1 2 0.2 2 0.1 2 0.1 2 0.1 2 0.1 2 0.2 2 0.1 2 0.1 2 0.1 2 0.1 2 0.1 2 0.1 2 0.1 2 0.1 2 0.1 2 0.1 2 0.1 2 0 2 0.1 2 0.1 2 0.1 2 0.1 2 0.1 2 0 2 0.1 2 0.1 2 0 2 0.1 2 0.1 2 0.1 2 0 2 0.1 2 0.1 2 0 2 0.1 2 0 2 0.1 2 0.1 2 0 2 0.1 2 0 2 0.1 2 0 2 0.1 2 0.1 2 0 2 0.1 2 0 2 0.1 2 0 2 0.1 2 0 2 0.1 2 0 2 0.1 2 0 2 0 2 0.1 2 0 2 0.1 2 0 2 0.1 2 0 2 0.1 2 0 2 0 2 0.1" fill="none" stroke="#ff0000" stroke-width="4.6"/>
<path d="M95,574.9l2 0.1 2 0 2 0 2 0 2 0.1 2 0 2 0 2 0 2 0.1 2 0 2 0 2 0.1 2 0 2 0 2 0.1 2 0 2 0 2 0.1 2 0 2 0 2 0.1 2 0 2 0 2 0.1 2 0 2 0 2 0.1 2 0 2 0 2 0.1 2 0 2 0 2 0.1 2 0 2 0 2 0.1 2 0 2 0 2 0 2 0.1 2 0 2 0 2 0 2 0 2 0 2 0 2 0 2 0 2 0 2 0 2 0 2 0 2 0 2 0 2 0 2 0 2 0 2 -0.1 2 0 2 0 2 0 2 0 2 -0.1 2 0 2 0 2 0 2 0 2 0 2 0 2 0 2 0 2 0 2 0 2 0 2 0 2 0 2 0.1 2 0 2 0.1 2 0 2 0.1 2 0.1 2 0 2 0.1 2 0.1 2 0.2 2 0.1 2 0.1 2 0.1 2 0.2 2 0.1 2 0.2 2 0.2 2 0.1 2 0.2 2 0.2 2 0.2 2 0.2 2 0.2 2 0.2 2 0.2 2 0.2 2 0.3 2 0.2 2 0.2 2 0.3 2 0.2 2 0.2 2 0.3 2 0.2 2 0.2 2 0.3 2 0.2 2 0.2 2 0.3 2 0.2 2 0.2 2 0.2 2 0.2 2 0.2 2 0.2 2 0.1 2 0.2 2 0.2 2 0.1 2 0.2 2 0.1 2 0.1 2 0.1 2 0.1 2 0.1 2 0.1 2 0.1 2 0.1 2 0.1 2 0.1 2 0.1 2 0.1 2 0 2 0.1 2 0.1 2 0 2 0.1 2 0.1 2 0 2 0.1 2 0.1 2 0 2 0.1 2 0.1 2 0 2 0.1 2 0 2 0.1 2 0 2 0.1 2 0 2 0.1 2 0 2 0.1 2 0 2 0 2 0.1 2 0 2 0.1 2 0 2 0 2 0.1 2 0 2 0 2 0.1 2 0 2 0 2 0.1 2 0 2 0 2 0.1 2 0 2 0 2 0 2 0.1 2 0 2 0 2 0.1 2 0 2 0 2 0 2 0.1 2 0 2 0 2 0.1 2 0 2 0 2 0 2 0.1 2 0 2 0 2 0.1 2 0 2 0 2 0 2 0.1 2 0 2 0 2 0.1 2 0 2 0 2 0 2 0.1 2 0 2 0 2 0.1 2 0 2 0 2 0 2 0.1 2 0 2 0 2 0.1 2 0 2 0 2 0 2 0.1 2 0 2 0 2 0.1 2 0 2 0 2 0.1 2 0 2 0 2 0.1 2 0 2 0 2 0.1 2 0 2 0 2 0.1 2 0 2 0 2 0.1 2 0 2 0 2 0.1 2 0 2 0 2 0.1 2 0 2 0 2 0.1 2 0 2 0.1 2 0 2 0 2 0.1 2 0 2 0 2 0.1 2 0 2 0.1 2 0 2 0 2 0.1 2 0 2 0 2 0.1 2 0 2 0 2 0.1 2 0 2 0 2 0.1 2 0 2 0.1 2 0 2 0 2 0.1 2 0 2 0 2 0.1 2 0 2 0 2 0 2 0.1 2 0 2 0 2 0.1 2 0 2 0 2 0 2 0.1 2 0 2 0 2 0 2 0 2 0 2 0.1 2 0 2 0 2 0 2 0 2 0 2 0 2 0 2 -0.1 2 0 2 0 2 0 2 -0.1 2 0 2 -0.1 2 0 2 -0.1 2 -0.1 2 0 2 -0.1 2 -0.1 2 -0.1 2 -0.1 2 -0.2 2 -0.1 2 -0.2 2 -0.1 2 -0.2 2 -0.2 2 -0.2 2 -0.2 2 -0.3 2 -0.2 2 -0.3 2 -0.3 2 -0.3 2 -0.4 2 -0.3 2 -0.4 2 -0.4 2 -0.4 2 -0.4 2 -0.5 2 -0.5 2 -0.5 2 -0.5 2 -0.6 2 -0.6 2 -0.6 2 -0.6 2 -0.7 2 -0.7 2 -0.7 2 -0.7 2 -0.8 2 -0.8 2 -0.8 2 -0.9 2 -0.8 2 -0.9 2 -1 2 -0.9 2 -0.9 2 -1 2 -1 2 -1 2 -1.1 2 -1 2 -1.1 2 -1.1 2 -1 2 -1.1 2 -1.1 2 -1.1 2 -1.2 2 -1.1 2 -1.1 2 -1.1 2 -1.1 2 -1.1 2 -1 2 -1.1 2 -1 2 -1.1 2 -1 2 -1 2 -0.9 2 -0.9 2 -0.9 2 -0.9 2 -0.8 2 -0.8 2 -0.8 2 -0.7 2 -0.7 2 -0.6 2 -0.5 2 -0.6 2 -0.4 2 -0.4 2 -0.4 2 -0.3 2 -0.3 2 -0.2 2 -0.1 2 -0.1 2 0 2 0 2 0.1 2 0.2 2 0.2 2 0.3 2 0.3 2 0.4 2 0.4 2 0.5 2 0.5 2 0.6 2 0.7 2 0.7 2 0.7 2 0.8 2 0.8 2 0.9 2 0.9 2 0.9 2 1 2 1 2 1 2 1.1 2 1.1 2 1.1 2 1.1 2 1.1 2 1.2 2 1.1 2 1.2 2 1.2 2 1.2 2 1.1 2 1.2 2 1.2 2 1.2 2 1.1 2 1.2 2 1.2 2 1.1 2 1.1 2 1.1 2 1.1 2 1.1 2 1 2 1.1 2 1 2 1 2 0.9 2 1 2 0.9 2 0.9 2 0.9 2 0.8 2 0.8 2 0.8 2 0.8 2 0.7 2 0.7 2 0.7 2 0.7 2 0.6 2 0.6 2 0.6 2 0.6 2 0.5 2 0.5 2 0.5 2 0.5 2 0.4 2 0.5 2 0.4 2 0.3 2 0.4 2 0.4 2 0.3 2 0.3 2 0.3 2 0.3 2 0.3 2 0.2 2 0.3 2 0.2 2 0.2 2 0.2 2 0.2 2 0.2 2 0.1 2 0.2 2 0.2 2 0.1 2 0.1 2 0.2 2 0.1 2 0.1 2 0.1 2 0.1 2 0.1 2 0.1 2 0.1 2 0.1 2 0.1 2 0 2 0.1 2 0.1 2 0.1 2 0 2 0.1 2 0 2 0.1 2 0.1 2 0 2 0.1 2 0 2 0.1 2 0 2 0.1 2 0 2 0.1 2 0 2 0 2 0.1 2 0 2 0.1 2 0 2 0.1 2 0 2 0 2 0.1 2 0 2 0.1 2 0 2 0 2 0.1 2 0 2 0 2 0.1 2 0 2 0.1 2 0 2 0 2 0.1 2 0 2 0 2 0.1 2 0 2 0.1 2 0 2 0 2 0.1 2 0 2 0 2 0.1 2 0 2 0.1 2 0 2 0 2 0.1 2 0 2 0 2 0.1 2 0 2 0.1 2 0 L1229,601.6 1223,601.5 1217,601.4 1211,601.3 1205,601.1 1199,601 1193,600.9 1187,600.8 1181,600.7 1175,600.6 1169,600.5 1163,600.4 1157,600.3 1151,600.2 1145,600 1139,599.9 1133,599.8 1127,599.7 1121,599.6 1115,599.5 1109,599.4 1103,599.3 1097,599.2 1091,599 1085,598.9 1079,598.8 1073,598.7 1067,598.6 1061,598.5 1055,598.4 1049,598.3 1043,598.2 1037,598 1031,597.9 1025,597.8 1019,597.7 1013,597.6 1007,597.5 1001,597.4 995,597.3 989,597.2 983,597.1 977,596.9 971,596.8 965,596.7 959,596.6 953,596.5 947,596.4 941,596.3 935,596.2 929,596.1 923,595.9 917,595.8 911,595.7 905,595.6 899,595.5 893,595.4 887,595.3 881,595.2 875,595.1 869,594.9 863,594.8 857,594.7 851,594.6 845,594.5 839,594.4 833,594.3 827,594.2 821,594.1 815,593.9 809,593.8 803,593.7 797,593.6 791,593.5 785,593.4 779,593.3 773,593.2 767,593.1 761,592.9 755,592.8 749,592.7 743,592.6 737,592.5 731,592.4 725,592.3 719,592.2 713,592.1 707,592 701,591.8 695,591.7 689,591.6 683,591.5 677,591.4 671,591.3 665,591.2 659,591.1 653,591 647,590.8 641,590.7 635,590.6 629,590.5 623,590.4 617,590.3 611,590.2 605,590.1 599,590 593,589.9 587,589.7 581,589.6 575,589.5 569,589.4 563,589.3 557,589.2 551,589.1 545,589 539,588.9 533,588.9 527,588.8 521,588.7 515,588.6 509,588.5 503,588.4 497,588.3 491,588.3 485,588.2 479,588.1 473,588 467,587.9 461,587.8 455,587.7 449,587.7 443,587.6 437,587.5 431,587.4 425,587.3 419,587.1 413,587 407,586.9 401,586.7 395,586.6 389,586.4 383,586.2 377,586 371,585.8 365,585.5 359,585.2 353,584.9 347,584.6 341,584.1 335,583.6 329,583 323,582.3 317,581.6 311,580.9 305,580.2 299,579.5 293,578.9 287,578.3 281,577.8 275,577.3 269,576.9 263,576.5 257,576.3 251,576.1 245,576 239,576 233,576 227,576 221,576 215,576.1 209,576.2 203,576.2 197,576.2 191,576.2 185,576.2 179,576.2 173,576.1 167,576.1 161,576 155,575.9 149,575.8 143,575.7 137,575.6 131,575.5 125,575.4 119,575.3 113,575.2 107,575.1 101,575 95,574.9Z" fill="url(#gb)"/>
<path d="M95,574.9l2 0.1 2 0 2 0 2 0 2 0.1 2 0 2 0 2 0 2 0.1 2 0 2 0 2 0.1 2 0 2 0 2 0.1 2 0 2 0 2 0.1 2 0 2 0 2 0.1 2 0 2 0 2 0.1 2 0 2 0 2 0.1 2 0 2 0 2 0.1 2 0 2 0 2 0.1 2 0 2 0 2 0.1 2 0 2 0 2 0 2 0.1 2 0 2 0 2 0 2 0 2 0 2 0 2 0 2 0 2 0 2 0 2 0 2 0 2 0 2 0 2 0 2 0 2 0 2 -0.1 2 0 2 0 2 0 2 0 2 -0.1 2 0 2 0 2 0 2 0 2 0 2 0 2 0 2 0 2 0 2 0 2 0 2 0 2 0 2 0.1 2 0 2 0.1 2 0 2 0.1 2 0.1 2 0 2 0.1 2 0.1 2 0.2 2 0.1 2 0.1 2 0.1 2 0.2 2 0.1 2 0.2 2 0.2 2 0.1 2 0.2 2 0.2 2 0.2 2 0.2 2 0.2 2 0.2 2 0.2 2 0.2 2 0.3 2 0.2 2 0.2 2 0.3 2 0.2 2 0.2 2 0.3 2 0.2 2 0.2 2 0.3 2 0.2 2 0.2 2 0.3 2 0.2 2 0.2 2 0.2 2 0.2 2 0.2 2 0.2 2 0.1 2 0.2 2 0.2 2 0.1 2 0.2 2 0.1 2 0.1 2 0.1 2 0.1 2 0.1 2 0.1 2 0.1 2 0.1 2 0.1 2 0.1 2 0.1 2 0.1 2 0 2 0.1 2 0.1 2 0 2 0.1 2 0.1 2 0 2 0.1 2 0.1 2 0 2 0.1 2 0.1 2 0 2 0.1 2 0 2 0.1 2 0 2 0.1 2 0 2 0.1 2 0 2 0.1 2 0 2 0 2 0.1 2 0 2 0.1 2 0 2 0 2 0.1 2 0 2 0 2 0.1 2 0 2 0 2 0.1 2 0 2 0 2 0.1 2 0 2 0 2 0 2 0.1 2 0 2 0 2 0.1 2 0 2 0 2 0 2 0.1 2 0 2 0 2 0.1 2 0 2 0 2 0 2 0.1 2 0 2 0 2 0.1 2 0 2 0 2 0 2 0.1 2 0 2 0 2 0.1 2 0 2 0 2 0 2 0.1 2 0 2 0 2 0.1 2 0 2 0 2 0 2 0.1 2 0 2 0 2 0.1 2 0 2 0 2 0 2 0.1 2 0 2 0 2 0.1 2 0 2 0 2 0.1 2 0 2 0 2 0.1 2 0 2 0 2 0.1 2 0 2 0 2 0.1 2 0 2 0 2 0.1 2 0 2 0 2 0.1 2 0 2 0 2 0.1 2 0 2 0 2 0.1 2 0 2 0.1 2 0 2 0 2 0.1 2 0 2 0 2 0.1 2 0 2 0.1 2 0 2 0 2 0.1 2 0 2 0 2 0.1 2 0 2 0 2 0.1 2 0 2 0 2 0.1 2 0 2 0.1 2 0 2 0 2 0.1 2 0 2 0 2 0.1 2 0 2 0 2 0 2 0.1 2 0 2 0 2 0.1 2 0 2 0 2 0 2 0.1 2 0 2 0 2 0 2 0 2 0 2 0.1 2 0 2 0 2 0 2 0 2 0 2 0 2 0 2 -0.1 2 0 2 0 2 0 2 -0.1 2 0 2 -0.1 2 0 2 -0.1 2 -0.1 2 0 2 -0.1 2 -0.1 2 -0.1 2 -0.1 2 -0.2 2 -0.1 2 -0.2 2 -0.1 2 -0.2 2 -0.2 2 -0.2 2 -0.2 2 -0.3 2 -0.2 2 -0.3 2 -0.3 2 -0.3 2 -0.4 2 -0.3 2 -0.4 2 -0.4 2 -0.4 2 -0.4 2 -0.5 2 -0.5 2 -0.5 2 -0.5 2 -0.6 2 -0.6 2 -0.6 2 -0.6 2 -0.7 2 -0.7 2 -0.7 2 -0.7 2 -0.8 2 -0.8 2 -0.8 2 -0.9 2 -0.8 2 -0.9 2 -1 2 -0.9 2 -0.9 2 -1 2 -1 2 -1 2 -1.1 2 -1 2 -1.1 2 -1.1 2 -1 2 -1.1 2 -1.1 2 -1.1 2 -1.2 2 -1.1 2 -1.1 2 -1.1 2 -1.1 2 -1.1 2 -1 2 -1.1 2 -1 2 -1.1 2 -1 2 -1 2 -0.9 2 -0.9 2 -0.9 2 -0.9 2 -0.8 2 -0.8 2 -0.8 2 -0.7 2 -0.7 2 -0.6 2 -0.5 2 -0.6 2 -0.4 2 -0.4 2 -0.4 2 -0.3 2 -0.3 2 -0.2 2 -0.1 2 -0.1 2 0 2 0 2 0.1 2 0.2 2 0.2 2 0.3 2 0.3 2 0.4 2 0.4 2 0.5 2 0.5 2 0.6 2 0.7 2 0.7 2 0.7 2 0.8 2 0.8 2 0.9 2 0.9 2 0.9 2 1 2 1 2 1 2 1.1 2 1.1 2 1.1 2 1.1 2 1.1 2 1.2 2 1.1 2 1.2 2 1.2 2 1.2 2 1.1 2 1.2 2 1.2 2 1.2 2 1.1 2 1.2 2 1.2 2 1.1 2 1.1 2 1.1 2 1.1 2 1.1 2 1 2 1.1 2 1 2 1 2 0.9 2 1 2 0.9 2 0.9 2 0.9 2 0.8 2 0.8 2 0.8 2 0.8 2 0.7 2 0.7 2 0.7 2 0.7 2 0.6 2 0.6 2 0.6 2 0.6 2 0.5 2 0.5 2 0.5 2 0.5 2 0.4 2 0.5 2 0.4 2 0.3 2 0.4 2 0.4 2 0.3 2 0.3 2 0.3 2 0.3 2 0.3 2 0.2 2 0.3 2 0.2 2 0.2 2 0.2 2 0.2 2 0.2 2 0.1 2 0.2 2 0.2 2 0.1 2 0.1 2 0.2 2 0.1 2 0.1 2 0.1 2 0.1 2 0.1 2 0.1 2 0.1 2 0.1 2 0.1 2 0 2 0.1 2 0.1 2 0.1 2 0 2 0.1 2 0 2 0.1 2 0.1 2 0 2 0.1 2 0 2 0.1 2 0 2 0.1 2 0 2 0.1 2 0 2 0 2 0.1 2 0 2 0.1 2 0 2 0.1 2 0 2 0 2 0.1 2 0 2 0.1 2 0 2 0 2 0.1 2 0 2 0 2 0.1 2 0 2 0.1 2 0 2 0 2 0.1 2 0 2 0 2 0.1 2 0 2 0.1 2 0 2 0 2 0.1 2 0 2 0 2 0.1 2 0 2 0.1 2 0 2 0 2 0.1 2 0 2 0 2 0.1 2 0 2 0.1 2 0" fill="none" stroke="#0000ff" stroke-width="4.6"/>
<path d="M95,574.8l2 0 2 0.1 2 0 2 0 2 0.1 2 0 2 0.1 2 0 2 0 2 0.1 2 0 2 0 2 0.1 2 0 2 0 2 0.1 2 0 2 0.1 2 0 2 0 2 0.1 2 0 2 0 2 0.1 2 0 2 0 2 0.1 2 0 2 0 2 0.1 2 0 2 0.1 2 0 2 0 2 0.1 2 0 2 0 2 0.1 2 0 2 0 2 0.1 2 0 2 0.1 2 0 2 0 2 0.1 2 0 2 0 2 -0.1 2 0 2 0 2 0 2 -0.1 2 0 2 0 2 -0.1 2 0 2 0 2 -0.1 2 0 2 0 2 0 2 -0.1 2 0 2 0 2 -0.1 2 0 2 0 2 0 2 -0.1 2 0 2 0 2 -0.1 2 0 2 0 2 -0.1 2 0 2 0 2 0 2 -0.1 2 0 2 0.1 2 0.1 2 0.2 2 0.2 2 0.2 2 0.1 2 0.2 2 0.2 2 0.2 2 0.1 2 0.2 2 0.2 2 0.2 2 0.1 2 0.2 2 0.2 2 0.2 2 0.1 2 0.2 2 0.2 2 0.2 2 0.2 2 0.3 2 0.3 2 0.3 2 0.3 2 0.2 2 0.3 2 0.3 2 0.3 2 0.3 2 0.3 2 0.3 2 0.3 2 0.3 2 0.2 2 0.3 2 0.3 2 0.3 2 0.3 2 0.1 2 0.1 2 0 2 0.1 2 0 2 0.1 2 0 2 0.1 2 0.1 2 0 2 0.1 2 0 2 0.1 2 0 2 0.1 2 0 2 0.1 2 0 2 0.1 2 0 2 0.1 2 0 2 0.1 2 0 2 0.1 2 0 2 0 2 0.1 2 0 2 0.1 2 0 2 0 2 0.1 2 0 2 0 2 0.1 2 0 2 0 2 -0.1 2 0 2 0 2 0 2 0 2 0 2 -0.1 2 0 2 0 2 0 2 -0.1 2 0 2 0 2 -0.1 2 0 2 -0.1 2 0 2 -0.1 2 0 2 -0.1 2 0 2 -0.1 2 0 2 -0.1 2 -0.1 2 0 2 -0.1 2 -0.1 2 -0.1 2 0 2 -0.1 2 -0.1 2 -0.1 2 -0.1 2 -0.1 2 -0.1 2 -0.1 2 -0.2 2 -0.1 2 -0.1 2 -0.1 2 -0.2 2 -0.1 2 -0.1 2 -0.2 2 -0.1 2 -0.2 2 -0.1 2 -0.2 2 -0.2 2 -0.2 2 -0.1 2 -0.2 2 -0.2 2 -0.2 2 -0.2 2 -0.2 2 -0.2 2 -0.3 2 -0.2 2 -0.2 2 -0.2 2 -0.3 2 -0.2 2 -0.3 2 -0.2 2 -0.3 2 -0.3 2 -0.3 2 -0.2 2 -0.3 2 -0.3 2 -0.3 2 -0.3 2 -0.3 2 -0.3 2 -0.4 2 -0.3 2 -0.3 2 -0.4 2 -0.3 2 -0.3 2 -0.4 2 -0.4 2 -0.3 2 -0.4 2 -0.4 2 -0.4 2 -0.3 2 -0.4 2 -0.4 2 -0.4 2 -0.5 2 -0.4 2 -0.4 2 -0.4 2 -0.4 2 -0.5 2 -0.4 2 -0.5 2 -0.4 2 -0.5 2 -0.4 2 -0.5 2 -0.4 2 -0.5 2 -0.5 2 -0.5 2 -0.4 2 -0.5 2 -0.5 2 -0.5 2 -0.5 2 -0.5 2 -0.4 2 -0.5 2 -0.5 2 -0.5 2 -0.5 2 -0.5 2 -0.5 2 -0.5 2 -0.5 2 -0.5 2 -0.5 2 -0.5 2 -0.5 2 -0.5 2 -0.5 2 -0.5 2 -0.5 2 -0.5 2 -0.5 2 -0.5 2 -0.4 2 -0.5 2 -0.5 2 -0.5 2 -0.5 2 -0.4 2 -0.5 2 -0.5 2 -0.4 2 -0.5 2 -0.4 2 -0.5 2 -0.5 2 -0.4 2 -0.4 2 -0.5 2 -0.4 2 -0.5 2 -0.4 2 -0.4 2 -0.5 2 -0.4 2 -0.4 2 -0.5 2 -0.4 2 -0.4 2 -0.4 2 -0.5 2 -0.4 2 -0.4 2 -0.4 2 -0.5 2 -0.4 2 -0.4 2 -0.5 2 -0.4 2 -0.5 2 -0.4 2 -0.5 2 -0.4 2 -0.5 2 -0.5 2 -0.5 2 -0.5 2 -0.5 2 -0.5 2 -0.5 2 -0.5 2 -0.5 2 -0.6 2 -0.5 2 -0.6 2 -0.6 2 -0.6 2 -0.6 2 -0.6 2 -0.6 2 -0.6 2 -0.7 2 -0.6 2 -0.7 2 -0.7 2 -0.7 2 -0.7 2 -0.7 2 -0.7 2 -0.7 2 -0.8 2 -0.7 2 -0.7 2 -0.8 2 -0.7 2 -0.8 2 -0.7 2 -0.8 2 -0.7 2 -0.8 2 -0.7 2 -0.7 2 -0.7 2 -0.7 2 -0.7 2 -0.7 2 -0.7 2 -0.6 2 -0.6 2 -0.6 2 -0.5 2 -0.5 2 -0.5 2 -0.5 2 -0.4 2 -0.4 2 -0.3 2 -0.3 2 -0.3 2 -0.2 2 -0.1 2 -0.1 2 -0.1 2 0 2 0.1 2 0.1 2 0.1 2 0.2 2 0.3 2 0.4 2 0.3 2 0.5 2 0.5 2 0.6 2 0.6 2 0.7 2 0.7 2 0.8 2 0.9 2 0.9 2 0.9 2 1 2 1.1 2 1.1 2 1.2 2 1.2 2 1.2 2 1.3 2 1.3 2 1.4 2 1.4 2 1.4 2 1.5 2 1.5 2 1.5 2 1.5 2 1.6 2 1.5 2 1.6 2 1.6 2 1.6 2 1.6 2 1.6 2 1.6 2 1.7 2 1.6 2 1.6 2 1.6 2 1.5 2 1.6 2 1.6 2 1.5 2 1.5 2 1.5 2 1.5 2 1.4 2 1.5 2 1.4 2 1.4 2 1.3 2 1.3 2 1.3 2 1.3 2 1.2 2 1.2 2 1.2 2 1.1 2 1.1 2 1.1 2 1.1 2 1 2 1 2 0.9 2 0.9 2 0.9 2 0.9 2 0.8 2 0.8 2 0.8 2 0.7 2 0.7 2 0.7 2 0.6 2 0.7 2 0.6 2 0.5 2 0.6 2 0.5 2 0.5 2 0.5 2 0.5 2 0.4 2 0.5 2 0.4 2 0.4 2 0.3 2 0.4 2 0.3 2 0.4 2 0.3 2 0.3 2 0.3 2 0.2 2 0.3 2 0.2 2 0.3 2 0.2 2 0.2 2 0.2 2 0.2 2 0.2 2 0.2 2 0.2 2 0.1 2 0.2 2 0.2 2 0.1 2 0.2 2 0.1 2 0.1 2 0.2 2 0.1 2 0.1 2 0.1 2 0.1 2 0.1 2 0.1 2 0.1 2 0.1 2 0.1 2 0.1 2 0.1 2 0.1 2 0.1 2 0.1 2 0 2 0.1 2 0.1 2 0.1 2 0 2 0.1 2 0.1 2 0 2 0.1 2 0.1 2 0 2 0.1 2 0.1 2 0 2 0.1 2 0 2 0.1 2 0 2 0.1 2 0 2 0.1 2 0.1 2 0 2 0.1 2 0 2 0.1 2 0 2 0.1 2 0 2 0.1 2 0 2 0 2 0.1 2 0 2 0.1 2 0 2 0.1 2 0 2 0.1 2 0 2 0 2 0.1" fill="none" stroke="#bebebe" stroke-width="4"/>
<path d="M95,574.8 189,576.5 258,575.5 300,579.2 337.5,584.7 410,587.1 560,589.2 720,592.2 900,595.5 1229,601.6" fill="none" stroke="#808080" stroke-width="4" stroke-linejoin="round"/>
<path d="M95,741.1l2 0 2 0 2 0 2 0.1 2 0 2 0 2 0 2 0 2 0.1 2 0 2 0 2 0 2 0 2 0.1 2 0 2 0 2 0 2 0.1 2 0 2 0 2 0 2 0.1 2 0 2 0 2 0 2 0.1 2 0 2 0 2 0.1 2 0.1 2 0.1 2 0.1 2 0.1 2 0.1 2 0.1 2 0.1 2 0.1 2 0 2 0.1 2 0.1 2 0.1 2 0 2 0.1 2 0.1 2 0 2 0.1 2 0 2 0.1 2 0.1 2 0.2 2 0.1 2 0.1 2 0.1 2 0.1 2 0.1 2 0.2 2 0.1 2 0.1 2 0.1 2 0.1 2 0.1 2 0.2 2 0.1 2 0.1 2 0.2 2 0.1 2 0.2 2 0 2 0 2 0 2 0 2 0 2 0 2 0 2 0.1 2 0 2 0.1 2 0.1 2 0 2 0.1 2 0.2 2 0.1 2 0.1 2 0.2 2 0.1 2 0.2 2 0.2 2 0.2 2 0.1 2 0.2 2 0.2 2 0.2 2 0.2 2 0.2 2 0.2 2 0.3 2 0.2 2 0.2 2 0.3 2 0.2 2 0.3 2 0.2 2 0.2 2 0.2 2 0.1 2 0.2 2 0.1 2 0.2 2 0.1 2 0.1 2 0.2 2 0.1 2 0.1 2 0.2 2 0.1 2 0.1 2 0.1 2 0.1 2 0.1 2 0.1 2 0.2 2 0.1 2 0.1 2 0.2 2 0.1 2 0.2 2 0.1 2 0.1 2 0.2 2 0.1 2 0.1 2 0.1 2 0.1 2 0.1 2 0.1 2 0.1 2 0.1 2 0 2 0.1 2 0.1 2 0 2 0.1 2 0 2 0.1 2 0 2 0 2 0.1 2 0 2 0 2 0 2 0 2 0 2 0 2 0 2 0 2 0 2 0 2 -0.1 2 0 2 0 2 0 2 -0.1 2 0 2 0 2 -0.1 2 0 2 -0.1 2 0 2 -0.1 2 0 2 -0.1 2 -0.1 2 0 2 -0.1 2 -0.1 2 0 2 -0.1 2 -0.1 2 -0.1 2 -0.1 2 0 2 -0.1 2 -0.1 2 -0.1 2 -0.1 2 -0.1 2 -0.1 2 -0.1 2 -0.1 2 -0.2 2 -0.1 2 -0.1 2 -0.1 2 -0.2 2 -0.1 2 -0.2 2 -0.1 2 -0.2 2 -0.1 2 -0.2 2 -0.1 2 -0.2 2 -0.2 2 -0.2 2 -0.1 2 -0.2 2 -0.2 2 -0.2 2 -0.2 2 -0.2 2 -0.3 2 -0.2 2 -0.2 2 -0.2 2 -0.3 2 -0.2 2 -0.3 2 -0.2 2 -0.3 2 -0.3 2 -0.3 2 -0.2 2 -0.3 2 -0.3 2 -0.3 2 -0.3 2 -0.3 2 -0.4 2 -0.3 2 -0.3 2 -0.3 2 -0.4 2 -0.3 2 -0.4 2 -0.3 2 -0.4 2 -0.4 2 -0.4 2 -0.3 2 -0.4 2 -0.4 2 -0.4 2 -0.4 2 -0.5 2 -0.4 2 -0.4 2 -0.4 2 -0.5 2 -0.4 2 -0.5 2 -0.5 2 -0.4 2 -0.5 2 -0.5 2 -0.5 2 -0.5 2 -0.5 2 -0.6 2 -0.5 2 -0.5 2 -0.6 2 -0.5 2 -0.6 2 -0.5 2 -0.6 2 -0.6 2 -0.6 2 -0.5 2 -0.6 2 -0.6 2 -0.6 2 -0.7 2 -0.6 2 -0.6 2 -0.6 2 -0.6 2 -0.7 2 -0.6 2 -0.6 2 -0.7 2 -0.6 2 -0.7 2 -0.6 2 -0.7 2 -0.6 2 -0.7 2 -0.7 2 -0.6 2 -0.7 2 -0.6 2 -0.7 2 -0.6 2 -0.7 2 -0.6 2 -0.7 2 -0.6 2 -0.7 2 -0.6 2 -0.7 2 -0.6 2 -0.6 2 -0.6 2 -0.7 2 -0.6 2 -0.6 2 -0.6 2 -0.5 2 -0.6 2 -0.6 2 -0.6 2 -0.5 2 -0.5 2 -0.6 2 -0.5 2 -0.5 2 -0.5 2 -0.5 2 -0.5 2 -0.4 2 -0.5 2 -0.4 2 -0.4 2 -0.4 2 -0.4 2 -0.3 2 -0.4 2 -0.3 2 -0.3 2 -0.3 2 -0.3 2 -0.2 2 -0.2 2 -0.3 2 -0.1 2 -0.2 2 -0.1 2 -0.2 2 0 2 -0.1 2 -0.1 2 0 2 0.1 2 0 2 0.1 2 0.2 2 0.1 2 0.2 2 0.2 2 0.3 2 0.2 2 0.3 2 0.3 2 0.3 2 0.4 2 0.3 2 0.4 2 0.4 2 0.4 2 0.5 2 0.4 2 0.5 2 0.5 2 0.5 2 0.5 2 0.5 2 0.6 2 0.6 2 0.5 2 0.6 2 0.6 2 0.6 2 0.7 2 0.6 2 0.6 2 0.7 2 0.6 2 0.7 2 0.7 2 0.7 2 0.7 2 0.7 2 0.7 2 0.7 2 0.7 2 0.7 2 0.8 2 0.7 2 0.7 2 0.8 2 0.7 2 0.8 2 0.7 2 0.8 2 0.7 2 0.8 2 0.7 2 0.8 2 0.7 2 0.7 2 0.8 2 0.7 2 0.8 2 0.7 2 0.8 2 0.7 2 0.7 2 0.8 2 0.7 2 0.7 2 0.7 2 0.7 2 0.7 2 0.7 2 0.7 2 0.7 2 0.7 2 0.7 2 0.7 2 0.6 2 0.7 2 0.6 2 0.7 2 0.6 2 0.7 2 0.6 2 0.6 2 0.6 2 0.6 2 0.6 2 0.6 2 0.6 2 0.6 2 0.5 2 0.6 2 0.5 2 0.6 2 0.5 2 0.5 2 0.5 2 0.6 2 0.5 2 0.5 2 0.4 2 0.5 2 0.5 2 0.4 2 0.5 2 0.4 2 0.5 2 0.4 2 0.4 2 0.5 2 0.4 2 0.4 2 0.4 2 0.3 2 0.4 2 0.4 2 0.3 2 0.4 2 0.3 2 0.4 2 0.3 2 0.3 2 0.4 2 0.3 2 0.3 2 0.3 2 0.3 2 0.3 2 0.3 2 0.2 2 0.3 2 0.3 2 0.2 2 0.3 2 0.2 2 0.3 2 0.2 2 0.2 2 0.2 2 0.3 2 0.2 2 0.2 2 0.2 2 0.2 2 0.2 2 0.2 2 0.2 2 0.2 2 0.1 2 0.2 2 0.2 2 0.1 2 0.2 2 0.2 2 0.1 2 0.2 2 0.1 2 0.2 2 0.1 2 0.1 2 0.2 2 0.1 2 0.1 2 0.2 2 0.1 2 0.1 2 0.1 2 0.2 2 0.1 2 0.1 2 0.1 2 0.1 2 0.1 2 0.1 2 0.1 2 0.1 2 0.1 2 0.1 2 0.1 2 0.1 2 0.1 2 0 2 0.1 2 0.1 2 0.1 2 0.1 2 0.1 2 0 2 0.1 2 0.1 2 0.1 2 0 2 0.1 2 0.1 2 0.1 2 0 2 0.1 2 0.1 2 0 2 0.1 2 0.1 2 0 2 0.1 2 0 2 0.1 2 0.1 2 0 2 0.1 2 0.1 2 0 2 0.1 2 0 2 0.1 2 0 2 0.1 2 0.1 2 0 2 0.1 2 0 2 0.1 2 0 2 0.1 2 0 2 0.1 2 0 L1229,771.6 1223,771.5 1217,771.4 1211,771.2 1205,771.1 1199,771 1193,770.8 1187,770.7 1181,770.5 1175,770.4 1169,770.3 1163,770.1 1157,770 1151,769.9 1145,769.7 1139,769.6 1133,769.4 1127,769.3 1121,769.2 1115,769 1109,768.9 1103,768.8 1097,768.6 1091,768.5 1085,768.3 1079,768.2 1073,768.1 1067,767.9 1061,767.8 1055,767.7 1049,767.5 1043,767.4 1037,767.2 1031,767.1 1025,767 1019,766.8 1013,766.7 1007,766.5 1001,766.4 995,766.3 989,766.1 983,766 977,765.9 971,765.7 965,765.6 959,765.4 953,765.3 947,765.2 941,765 935,764.9 929,764.8 923,764.6 917,764.5 911,764.3 905,764.2 899,764.1 893,763.9 887,763.8 881,763.7 875,763.5 869,763.4 863,763.2 857,763.1 851,763 845,762.8 839,762.7 833,762.5 827,762.4 821,762.3 815,762.1 809,762 803,761.9 797,761.7 791,761.6 785,761.4 779,761.3 773,761.2 767,761 761,760.9 755,760.8 749,760.6 743,760.5 737,760.3 731,760.2 725,760.1 719,759.9 713,759.8 707,759.7 701,759.5 695,759.4 689,759.2 683,759.1 677,759 671,758.8 665,758.7 659,758.6 653,758.4 647,758.3 641,758.1 635,758 629,757.9 623,757.7 617,757.6 611,757.5 605,757.3 599,757.2 593,757 587,756.9 581,756.8 575,756.7 569,756.6 563,756.5 557,756.4 551,756.4 545,756.3 539,756.3 533,756.3 527,756.3 521,756.3 515,756.3 509,756.3 503,756.3 497,756.3 491,756.3 485,756.3 479,756.3 473,756.3 467,756.3 461,756.3 455,756.3 449,756.3 443,756.3 437,756.3 431,756.3 425,756.3 419,756.2 413,756.2 407,756.2 401,756.1 395,756 389,755.9 383,755.7 377,755.5 371,755.3 365,755 359,754.6 353,754.3 347,753.9 341,753.3 335,752.8 329,752.1 323,751.5 317,750.8 311,750.1 305,749.4 299,748.7 293,747.9 287,747.2 281,746.5 275,745.9 269,745.4 263,744.9 257,744.5 251,744.2 245,744 239,743.9 233,743.9 227,743.8 221,743.6 215,743.4 209,743.3 203,743.1 197,742.9 191,742.8 185,742.7 179,742.6 173,742.4 167,742.3 161,742.1 155,741.9 149,741.7 143,741.6 137,741.5 131,741.5 125,741.4 119,741.3 113,741.3 107,741.2 101,741.1 95,741.1Z" fill="url(#gr)"/>
<path d="M95,738.1l0.8 2.7 0.7 3.9 0.8 0.7 0.7 -2.9 0.8 0.6 0.8 0 0.7 -1.9 0.8 -2.7 0.7 1.2 0.8 -2.6 0.8 1.5 0.7 1.8 0.8 0.1 0.7 -1.8 0.8 2 0.8 1.1 0.7 -1.3 0.8 -2 0.7 0.4 0.8 0.2 0.8 1 0.7 2.4 0.8 1.4 0.7 -1 0.8 1.3 0.8 -0.4 0.7 -1 0.8 -2 0.7 1.4 0.8 -0.9 0.8 0.1 0.7 0.7 0.8 -1 0.7 -1.4 0.8 -3.4 0.8 -2.3 0.7 2.4 0.8 1.9 0.7 1.8 0.8 2.6 0.8 -0.5 0.7 1.3 0.8 -3.2 0.7 -1.1 0.8 2.7 0.8 -3.2 0.7 -1.4 0.8 2.2 0.7 2.6 0.8 1.2 0.8 -1.6 0.7 0.5 0.8 -2.5 0.7 -3.7 0.8 -0.2 0.8 -0.1 0.7 2 0.8 -2.5 0.7 1 0.8 2.8 0.8 4 0.7 -0.2 0.8 -1.6 0.7 0.5 0.8 0.8 0.8 3.6 0.7 -7.8 0.8 -2.9 0.7 0.3 0.8 1.8 0.8 3.2 0.7 2.8 0.8 -1.5 0.7 -0.4 0.8 0.6 0.8 0.5 0.7 -1.2 0.8 2.4 0.7 -0.5 0.8 0.2 0.8 0.5 0.7 -0.1 0.8 -0.9 0.7 -3.1 0.8 0.4 0.8 -4.1 0.7 -1.7 0.8 3.3 0.7 2.2 0.8 0.2 0.8 -0.2 0.7 -0.6 0.8 -4.5 0.7 1.3 0.8 1.2 0.8 -0.1 0.7 2.6 0.8 1.3 0.7 -0.1 0.8 1 0.8 3.5 0.7 -3.2 0.8 -0.4 0.7 2.8 0.8 0.5 0.8 -5.3 0.7 -0.5 0.8 4.5 0.7 0.4 0.8 -1.4 0.8 -2 0.7 0.2 0.8 -3.6 0.7 1 0.8 4.3 0.8 -3.7 0.7 1.4 0.8 2.2 0.7 -0.7 0.8 -2.4 0.8 1.3 0.7 2.5 0.8 -0.1 0.7 3.1 0.8 -1.6 0.8 2.1 0.7 -2.4 0.8 0.8 0.7 -1.6 0.8 -2.3 0.8 -2.5 0.7 2.6 0.8 -0.2 0.7 -0.4 0.8 -2.1 0.8 -1.3 0.7 0.1 0.8 2.2 0.7 1.9 0.8 -2.4 0.8 -2 0.7 0.1 0.8 -0.6 0.7 -0.3 0.8 2.5 0.8 0.5 0.7 1.9 0.8 4.5 0.7 -0.3 0.8 0 0.8 -2.5 0.7 -0.7 0.8 -2.6 0.7 -2.5 0.8 0.3 0.8 2.7 0.7 2.7 0.8 2.4 0.7 -5.2 0.8 -4 0.8 1.5 0.7 1.2 0.8 -2.7 0.7 1 0.8 2.3 0.8 0 0.7 0.5 0.8 -0.4 0.7 0.4 0.8 2.7 0.8 -0.5 0.7 -1.3 0.8 0.1 0.7 -0.8 0.8 0.2 0.8 1.3 0.7 1.4 0.8 4 0.7 -2.9 0.8 0.6 0.8 2.5 0.7 -4.2 0.8 1.7 0.7 2.8 0.8 -1.3 0.8 -1.3 0.7 -1.4 0.8 0.6 0.7 -0.7 0.8 2.2 0.8 -1.3 0.7 -2.1 0.8 0.6 0.7 -4.2 0.8 -0.5 0.8 2.7 0.7 -1.1 0.8 -3.1 0.7 0.3 0.8 0.9 0.8 -0.2 0.7 1.4 0.8 0 0.7 0.8 0.8 -0.5 0.8 0.3 0.7 -0.9 0.8 1.5 0.7 0.7 0.8 0.7 0.8 -0.6 0.7 -1.2 0.8 1.3 0.7 2.4 0.8 -2 0.8 1 0.7 2.9 0.8 -1 0.7 -1.1 0.8 -3.1 0.8 -0.3 0.7 3.1 0.8 2.1 0.7 -7.2 0.8 -0.8 0.8 4.1 0.7 -0.3 0.8 -1.7 0.7 2.9 0.8 -0.7 0.8 -1.4 0.7 0.4 0.8 -0.2 0.7 1 0.8 -1.7 0.8 -1.1 0.7 1.3 0.8 3 0.7 1.6 0.8 -2.9 0.8 -0.3 0.7 3.5 0.8 2.3 0.7 -0.9 0.8 2.6 0.8 -2.1 0.7 3.1 0.8 -1.5 0.7 -4.1 0.8 2.7 0.8 -0.6 0.7 -0.7 0.8 -0.7 0.7 1 0.8 -0.3 0.8 2.1 0.7 2.8 0.8 1.3 0.7 -0.4 0.8 -0.8 0.8 -1.5 0.7 -2.2 0.8 -1.5 0.7 2.8 0.8 -1.9 0.8 -0.4 0.7 -2 0.8 3.3 0.7 2.1 0.8 -2 0.8 0.9 0.7 -1.5 0.8 -0.2 0.7 -2.1 0.8 -3.1 0.8 5.1 0.7 2.1 0.8 1.1 0.7 2.3 0.8 -0.8 0.8 -1.3 0.7 -0.1 0.8 5 0.7 -5.8 0.8 0.1 0.8 1.2 0.7 2.7 0.8 -0.7 0.7 -1.4 0.8 -4.2 0.8 1.8 0.7 2.7 0.8 -2.8 0.7 -1.6 0.8 2.2 0.8 -0.4 0.7 1 0.8 0.5 0.7 -2 0.8 1.9 0.8 2.4 0.7 -2.6 0.8 -1 0.7 -0.3 0.8 1.6 0.8 0.1 0.7 -2.1 0.8 2.1 0.7 2 0.8 -4.5 0.8 3.6 0.7 -0.1 0.8 -5.1 0.7 -1 0.8 3 0.8 3.5 0.7 -2.7 0.8 0.5 0.7 0.7 0.8 0.9 0.8 3.5 0.7 -2.8 0.8 -2.7 0.7 2.7 0.8 1 0.8 -2.3 0.7 1.7 0.8 -1 0.7 -1.2 0.8 1.6 0.8 3.6 0.7 -1.5 0.8 -2 0.7 3.7 0.8 -2.1 0.8 -4.8 0.7 1.8 0.8 -0.8 0.7 4.5 0.8 7.4 0.8 -0.6 0.7 -4.4 0.8 -3.2 0.7 -0.9 0.8 1.3 0.8 2.8 0.7 1.9 0.8 -1.5 0.7 0.9 0.8 -3.4 0.8 -3.6 0.7 4.2 0.8 2.4 0.7 -0.1 0.8 0.1 0.8 -3.2 0.7 0.8 0.8 1.5 0.7 1.2 0.8 1.1 0.8 0.3 0.7 -3.1 0.8 -2 0.7 0.5 0.8 0 0.8 -1.4 0.7 -1 0.8 2.8 0.7 0.5 0.8 -0.5 0.8 -0.8 0.7 -1.2 0.8 -2 0.7 0 0.8 0.5 0.8 -2.8 0.7 2.2 0.8 -1.4 0.7 6.2 0.8 -0.9 0.8 -2.6 0.7 0.7 0.8 0.7 0.7 4.2 0.8 0.2 0.8 -2.1 0.7 -0.6 0.8 2.2 0.7 0.1 0.8 -0.8 0.8 -1.5 0.7 -2.3 0.8 -0.1 0.7 0.7 0.8 -1.5 0.8 2 0.7 4.7 0.8 -2.1 0.7 -0.2 0.8 -1.4 0.8 2.8 0.7 -1.1 0.8 1.1 0.7 0.7 0.8 -0.4 0.8 1.3 0.7 -4.9 0.8 0 0.7 1.4 0.8 -0.8 0.8 1.3 0.7 2.2 0.8 -4.2 0.7 -0.7 0.8 -1.5 0.8 -1.4 0.7 -0.8 0.8 5.4 0.7 3.2 0.8 -1 0.8 1.1 0.7 -3.6 0.8 1.3 0.7 1 0.8 1.1 0.8 -1.3 0.7 0.4 0.8 0.2 0.7 -4.9 0.8 0.5 0.8 0.7 0.7 -1.6 0.8 0.5 0.7 -3.5 0.8 0.8 0.8 1.2 0.7 -0.8 0.8 7.2 0.7 1.1 0.8 -1.5 0.8 -1 0.7 -0.5 0.8 -2.3 0.7 -1.4 0.8 -2.2 0.8 4.5 0.7 -1.9 0.8 -3.7 0.7 1.9 0.8 2.2 0.8 -3 0.7 0.6 0.8 -1.7 0.7 3.2 0.8 0.8 0.8 -3.5 0.7 2.9 0.8 3.1 0.7 -0.1 0.8 3.2 0.8 0 0.7 -0.8 0.8 -4.3 0.7 0.3 0.8 3.1 0.8 0.7 0.7 -1.8 0.8 -0.4 0.7 -1.3 0.8 0.8 0.8 2.2 0.7 1.7 0.8 -1.5 0.7 -0.6 0.8 -1.6 0.8 0.5 0.7 0.1 0.8 -2.7 0.7 2.7 0.8 0.5 0.8 0.5 0.7 -1.4 0.8 -2.4 0.7 0.1 0.8 -0.3 0.8 -4.3 0.7 2.1 0.8 1.1 0.7 -0.1 0.8 -1 0.8 0 0.7 1.4 0.8 0.7 0.7 3.1 0.8 -1.8 0.8 -0.3 0.7 1.2 0.8 -1.5 0.7 0.1 0.8 2.1 0.8 -0.7 0.7 -3.4 0.8 -2.9 0.7 1.1 0.8 1.5 0.8 -3.2 0.7 2 0.8 0.9 0.7 -0.8 0.8 4.7 0.8 -1.6 0.7 -2.5 0.8 1.4 0.7 3.6 0.8 2 0.8 -1.9 0.7 -1.2 0.8 -0.1 0.7 3.2 0.8 -1.3 0.8 -5.2 0.7 2.1 0.8 1.5 0.7 -0.9 0.8 0.9 0.8 -0.1 0.7 -2.1 0.8 2.8 0.7 -1 0.8 0.6 0.8 -1.7 0.7 -0.7 0.8 1.9 0.7 -0.9 0.8 1.1 0.8 -0.8 0.7 0.9 0.8 -5 0.7 -0.5 0.8 -1.7 0.8 -0.7 0.7 1.5 0.8 -1.9 0.7 2.8 0.8 3.4 0.8 -0.9 0.7 -2 0.8 0.8 0.7 2.7 0.8 1.4 0.8 -3.2 0.7 -0.3 0.8 0.2 0.7 -1.4 0.8 0.2 0.8 0.1 0.7 0.6 0.8 -3.4 0.7 0.1 0.8 0 0.8 -2.1 0.7 0.3 0.8 0.1 0.7 -2.1 0.8 1.2 0.8 -0.1 0.7 1.3 0.8 0.6 0.7 1.3 0.8 3.1 0.8 1.7 0.7 -1.2 0.8 -2.9 0.7 0.5 0.8 -1.9 0.8 2.6 0.7 0.3 0.8 -2.5 0.7 0 0.8 1 0.8 -1.1 0.7 -3.3 0.8 -1.8 0.7 -1.5 0.8 2.2 0.8 0.7 0.7 1.6 0.8 0.8 0.7 -3 0.8 0.7 0.8 0.7 0.7 -1.5 0.8 2.1 0.7 0.5 0.8 1.6 0.8 0.9 0.7 -0.4 0.8 -1.8 0.7 0.3 0.8 0.4 0.8 0.1 0.7 -4.7 0.8 1.4 0.7 0.1 0.8 2 0.8 1.9 0.7 -1.1 0.8 -0.9 0.7 -1.2 0.8 1.5 0.8 -0.4 0.7 -2.1 0.8 1.6 0.7 -2.8 0.8 -3.7 0.8 2.5 0.7 1.6 0.8 -0.6 0.7 -1.2 0.8 -0.3 0.8 1.2 0.7 -0.9 0.8 -4 0.7 1.6 0.8 2.2 0.8 0.5 0.7 1.6 0.8 0 0.7 -2.3 0.8 -0.9 0.8 2.2 0.7 -4.1 0.8 1.1 0.7 3.8 0.8 -1.6 0.8 -0.9 0.7 -0.4 0.8 3.2 0.7 2.9 0.8 -4.4 0.8 -1.5 0.7 3 0.8 1.5 0.7 -3.3 0.8 -2.6 0.8 1 0.7 -1 0.8 2 0.7 -1.5 0.8 0.3 0.8 -0.7 0.7 -0.4 0.8 -4.5 0.7 3.1 0.8 0.9 0.8 -0.5 0.7 -1.9 0.8 4.1 0.7 -1.9 0.8 0.9 0.8 -1.2 0.7 0 0.8 -1 0.7 -2.2 0.8 2.1 0.8 2.9 0.7 -3.6 0.8 0.2 0.7 -2 0.8 3.3 0.8 -3.8 0.7 -0.8 0.8 1.9 0.7 0.4 0.8 -3.5 0.8 1.2 0.7 1 0.8 -1.6 0.7 -1.5 0.8 2.2 0.8 2.4 0.7 2.2 0.8 -2.9 0.7 -5 0.8 4.3 0.8 0.4 0.7 -1.6 0.8 0.4 0.7 0.2 0.8 -3.2 0.8 -2.1 0.7 1.9 0.8 1.9 0.7 -1.8 0.8 -1 0.8 -0.3 0.7 2.5 0.8 -2.1 0.7 0.4 0.8 -0.1 0.8 3.1 0.7 0.5 0.8 0.4 0.7 -6 0.8 -1.8 0.8 1.2 0.7 -2.5 0.8 1.3 0.7 2.3 0.8 -0.5 0.8 0.3 0.7 -2.8 0.8 -0.2 0.7 1.3 0.8 2.4 0.8 1.2 0.7 -0.1 0.8 -2.5 0.7 -2.1 0.8 0.2 0.8 0 0.7 -3 0.8 -0.3 0.7 -0.9 0.8 3.1 0.8 -0.3 0.7 -1.9 0.8 2.2 0.7 -1.4 0.8 -0.9 0.8 0.8 0.7 -1.3 0.8 -3.2 0.7 -0.6 0.8 -0.6 0.8 3.1 0.7 -0.1 0.8 0.7 0.7 -3 0.8 -0.6 0.8 4.3 0.7 -0.5 0.8 -3.5 0.7 2.9 0.8 -1.4 0.8 2.7 0.7 -1.9 0.8 -3.1 0.7 -0.4 0.8 -1.6 0.8 -4.3 0.7 5 0.8 0 0.7 -0.3 0.8 -4.9 0.8 5 0.7 0 0.8 -0.9 0.7 5.3 0.8 -1.4 0.8 -3.9 0.7 0.2 0.8 3.4 0.7 2.3 0.8 -2.7 0.8 -1.9 0.7 2.3 0.8 -3.4 0.7 1.7 0.8 -1.4 0.8 -2.8 0.7 -1.9 0.8 -0.4 0.7 1.3 0.8 1.9 0.8 -2.9 0.7 -1.5 0.8 3.7 0.7 0 0.8 -1.6 0.8 1.2 0.7 -0.9 0.8 1.6 0.7 -3.7 0.8 -2.4 0.8 0.2 0.7 1 0.8 -0.3 0.7 -1.7 0.8 -0.9 0.8 -1.4 0.7 2 0.8 3.6 0.7 -3.4 0.8 -2.7 0.8 -0.3 0.7 -0.2 0.8 0.5 0.7 -0.6 0.8 2.4 0.8 -3 0.7 0.8 0.8 2.8 0.7 -1.6 0.8 1 0.8 -1.9 0.7 1.7 0.8 1.5 0.7 -5.2 0.8 0.3 0.8 -2.5 0.7 0.8 0.8 -0.6 0.7 0.5 0.8 -2.7 0.8 -1 0.7 4.9 0.8 1 0.7 1.6 0.8 -1.9 0.8 -1.6 0.7 -2.7 0.8 -1.2 0.7 1.8 0.8 -0.9 0.8 4.4 0.7 0.7 0.8 -1.6 0.7 0 0.8 -2.8 0.8 -0.4 0.7 4 0.8 -3.7 0.7 0.1 0.8 -3.5 0.8 1 0.7 -0.4 0.8 -5.4 0.7 -0.9 0.8 1.6 0.8 1.3 0.7 0.8 0.8 -1.3 0.7 -0.4 0.8 -0.5 0.8 0.4 0.7 2.1 0.8 -1.8 0.7 -2.3 0.8 -0.9 0.8 -0.4 0.7 -1.1 0.8 2.9 0.7 0 0.8 -3.3 0.8 0.7 0.7 1.3 0.8 1.8 0.7 -2.3 0.8 -0.2 0.8 -1.2 0.7 -0.2 0.8 2.3 0.7 6.7 0.8 -3.6 0.8 -3.6 0.7 -2.5 0.8 -4.4 0.7 0.1 0.8 2.7 0.8 -0.6 0.7 1 0.8 -1.6 0.7 0.3 0.8 -0.4 0.8 0.5 0.7 0.2 0.8 0.4 0.7 -3 0.8 -0.6 0.8 -0.7 0.7 1.2 0.8 0.9 0.7 -1.7 0.8 -3.7 0.8 1.6 0.7 1.1 0.8 0.5 0.7 -0.3 0.8 1 0.8 2.6 0.7 0.2 0.8 -0.3 0.7 -6 0.8 -1 0.8 0.4 0.7 3.7 0.8 -0.9 0.7 -3.5 0.8 -0.8 0.8 1.5 0.7 2 0.8 -0.8 0.7 -4.2 0.8 0.8 0.8 -1.2 0.7 3.1 0.8 1.4 0.7 -4 0.8 -2.7 0.8 -5 0.7 3.6 0.8 -2.5 0.7 1.9 0.8 2.1 0.8 -2.7 0.7 4.9 0.8 -3.9 0.7 -0.1 0.8 -2.2 0.8 0.5 0.7 -2.5 0.8 -1.3 0.7 -3.4 0.8 4.8 0.8 0 0.7 -2.8 0.8 -1.4 0.7 -1.9 0.8 0.5 0.8 1.9 0.7 0.6 0.8 1 0.7 0.8 0.8 -0.6 0.8 -1.7 0.7 -1.1 0.8 -1 0.7 0.9 0.8 -4.2 0.8 -1.4 0.7 0.5 0.8 -3.3 0.7 0.2 0.8 -2.1 0.8 2.5 0.7 6.4 0.8 -7.4 0.7 1.6 0.8 -2.7 0.8 -2.6 0.7 -0.7 0.8 2.8 0.7 -1.8 0.8 -0.1 0.8 0.7 0.7 -7.2 0.8 -3.4 0.7 3.5 0.8 1.8 0.8 -2.3 0.7 0.9 0.8 -1 0.7 -2.8 0.8 -2.5 0.8 1.6 0.7 2.1 0.8 -1 0.7 -1.2 0.8 0.5 0.8 0.1 0.7 1.2 0.8 -0.6 0.7 2.9 0.8 -1.6 0.8 -2.1 0.7 -4.6 0.8 -1.2 0.7 3.2 0.8 1.1 0.8 2.7 0.7 -5.1 0.8 -1.5 0.7 1.6 0.8 -4.3 0.8 1.8 0.7 -3 0.8 -3.8 0.7 1.4 0.8 3.1 0.8 0.1 0.7 -1.7 0.8 -1.9 0.7 0.9 0.8 0.2 0.8 -0.1 0.7 2.3 0.8 -1.8 0.7 -4.4 0.8 -0.7 0.8 -0.2 0.7 2.3 0.8 2.3 0.7 0.4 0.8 -3.7 0.8 -3.2 0.7 -2.4 0.8 -0.4 0.7 4.9 0.8 -3.1 0.8 -0.6 0.7 3.3 0.8 -3.7 0.7 0.2 0.8 0.2 0.8 -4 0.7 2.3 0.8 8.3 0.7 -4.7 0.8 -5.6 0.8 1.9 0.7 1.9 0.8 1.1 0.7 -2 0.8 -2.5 0.8 1.8 0.7 1.3 0.8 -3.9 0.7 -2.5 0.8 -1.2 0.8 -1 0.7 6.1 0.8 -0.3 0.7 -1.3 0.8 0.8 0.8 1.4 0.7 -3.5 0.8 -1.8 0.7 2.5 0.8 -4.9 0.8 2.9 0.7 4.2 0.8 0.7 0.7 -3.1 0.8 -1 0.8 -0.4 0.7 -0.4 0.8 0.7 0.7 2.5 0.8 -0.7 0.8 1.4 0.7 -2.2 0.8 -2.2 0.7 1.3 0.8 4.1 0.8 -3.3 0.7 1.3 0.8 -2.1 0.7 1.9 0.8 -0.9 0.8 -0.7 0.7 -0.7 0.8 0.7 0.7 2.6 0.8 2.6 0.8 -2 0.7 -2.5 0.8 0.6 0.7 -4.1 0.8 4.9 0.8 4 0.7 -6.8 0.8 3.4 0.7 5.1 0.8 3.2 0.8 -0.6 0.7 -1.6 0.8 4.6 0.7 1.1 0.8 -2.6 0.8 0.3 0.7 -0.8 0.8 2 0.7 2.6 0.8 -3.3 0.8 2.9 0.7 -0.8 0.8 -1.1 0.7 -1.5 0.8 2 0.8 -1 0.7 -0.8 0.8 -1.4 0.7 3.3 0.8 1.6 0.8 3 0.7 0.1 0.8 0 0.7 0 0.8 0.5 0.8 1.4 0.7 2.7 0.8 -2.9 0.7 0.7 0.8 5.1 0.8 3.7 0.7 -1.1 0.8 0.4 0.7 4.2 0.8 -2.4 0.8 -1.9 0.7 2 0.8 2 0.7 -1.3 0.8 1.7 0.8 -0.8 0.7 1.3 0.8 0.1 0.7 -2.7 0.8 7.1 0.8 1.7 0.7 0.5 0.8 0.4 0.7 1.1 0.8 3.7 0.8 -0.3 0.7 1 0.8 -1.8 0.7 6.5 0.8 -0.6 0.8 -0.4 0.7 -1.7 0.8 1.1 0.7 1.8 0.8 -4 0.8 7.3 0.7 -1.2 0.8 0.1 0.7 3.4 0.8 4.2 0.8 -1.4 0.7 0.6 0.8 -3.2 0.7 1.8 0.8 3.4 0.8 -3.2 0.7 -2.1 0.8 4.6 0.7 2.8 0.8 2.1 0.8 3.1 0.7 0.7 0.8 -0.8 0.7 1.9 0.8 0 0.8 0.2 0.7 -0.6 0.8 2.9 0.7 0.1 0.8 2 0.8 -2.6 0.7 3.5 0.8 -1.7 0.7 2.4 0.8 -1.2 0.8 1.7 0.7 3.6 0.8 -1.4 0.7 6.1 0.8 4.3 0.8 -2.1 0.7 -2.9 0.8 4.3 0.7 1 0.8 1.3 0.8 1.4 0.7 3.4 0.8 2 0.7 -1.3 0.8 1.2 0.8 -1.4 0.7 3.9 0.8 -4.9 0.7 -0.9 0.8 2.9 0.8 3.9 0.7 0.6 0.8 -3.3 0.7 3.7 0.8 3.5 0.8 4.3 0.7 -4.3 0.8 -2.7 0.7 0.8 0.8 4.3 0.8 3 0.7 0.4 0.8 -0.5 0.7 -0.7 0.8 1.6 0.8 2.2 0.7 4.3 0.8 -4.3 0.7 -2.7 0.8 1.4 0.8 0.5 0.7 -2 0.8 4.4 0.7 2.4 0.8 0.4 0.8 -1.2 0.7 1.9 0.8 2.3 0.7 1.5 0.8 -1.5 0.8 -2.7 0.7 3.7 0.8 1.7 0.7 -4.6 0.8 -4.1 0.8 6.3 0.7 2.1 0.8 -1.6 0.7 0.2 0.8 3.8 0.8 0.7 0.7 -1 0.8 0.3 0.7 1.9 0.8 2.2 0.8 -1.5 0.7 -2.3 0.8 1.6 0.7 2.6 0.8 1.2 0.8 -0.4 0.7 2.4 0.8 -0.5 0.7 3.9 0.8 2.7 0.8 -1.1 0.7 -1.1 0.8 -0.2 0.7 -3.1 0.8 5.5 0.8 -2.6 0.7 -0.6 0.8 1.4 0.7 0.1 0.8 2 0.8 0.4 0.7 1.2 0.8 2.4 0.7 -1.5 0.8 -2.3 0.8 0 0.7 -0.1 0.8 2.6 0.7 -2.8 0.8 1.7 0.8 4.1 0.7 -2.4 0.8 0.5 0.7 0 0.8 -3.2 0.8 3.2 0.7 2.2 0.8 -1.1 0.7 -0.2 0.8 -2.3 0.8 1.2 0.7 0.1 0.8 0 0.7 -2.1 0.8 1.6 0.8 2.2 0.7 -1 0.8 2.4 0.7 2.2 0.8 -2.1 0.8 -0.6 0.7 0.4 0.8 -2.4 0.7 0 0.8 -0.5 0.8 1.8 0.7 4.4 0.8 -3.2 0.7 0.4 0.8 -0.1 0.8 0 0.7 0.6 0.8 0.8 0.7 1.1 0.8 -0.4 0.8 1.1 0.7 -0.7 0.8 -0.4 0.7 1.3 0.8 2.7 0.8 -4.2 0.7 1.3 0.8 2.4 0.7 -0.6 0.8 -3.3 0.8 -0.6 0.7 2.5 0.8 2.6 0.7 -0.9 0.8 -2.1 0.8 -0.9 0.7 0.3 0.8 -0.2 0.7 -2.2 0.8 0.4 0.8 3.9 0.7 3.9 0.8 -3.2 0.7 -4.5 0.8 0.8 0.8 2 0.7 -0.6 0.8 1.6 0.7 -1.2 0.8 -0.7 0.8 -0.1 0.7 3.3 0.8 0.8 0.7 0.4 0.8 0.3 0.8 -0.7 0.7 1.4 0.8 -2.6 0.7 2.3 0.8 -1.2 0.8 -0.4 0.7 0.6 0.8 2.6 0.7 0.5 0.8 0.9 0.8 -3 0.7 0.8 0.8 -1 0.7 2.9 0.8 1.3 0.8 -3.3 0.7 1.9 0.8 -2 0.7 3.4 0.8 -1.2 0.8 -0.7 0.7 -1.9 0.8 3.5 0.7 -2.7 0.8 -1.4 0.8 1.3 0.7 -3.1 0.8 -0.3 0.7 -0.5 0.8 -0.2 0.8 3.7 0.7 0.8 0.8 -3.6 0.7 3.6 0.8 -0.1 0.8 -2.2 0.7 2.5 0.8 2.7 0.7 -3.9 0.8 -0.5 0.8 1.4 0.7 6.1 0.8 -0.9 0.7 -3.3 0.8 1.2 0.8 1.9 0.7 -0.4 0.8 2.1 0.7 -0.8 0.8 1.5 0.8 -1.3 0.7 -1.1 0.8 -1.4 0.7 1.6 0.8 0.1 0.8 -3.7 0.7 3.2 0.8 2.1 0.7 -0.8 0.8 -1.7 0.8 -2.2 0.7 -2.1 0.8 0 0.7 0.7 0.8 -0.7 0.8 1.6 0.7 -0.6 0.8 0.7 0.7 2.4 0.8 -1.2 0.8 -0.9 0.7 -3.6 0.8 2.7 0.7 -0.5 0.8 2.7 0.8 -4.5 0.7 0.8 0.8 4.3 0.7 1.8 0.8 -5.6 0.8 0.8 0.7 1 0.8 4.8 0.7 1.4 0.8 -2.9 0.8 -0.4 0.7 -3.2 0.8 -1.2 0.7 2.3 0.8 -0.8 0.8 1.2 0.7 -0.9 0.8 1.9 0.7 -2.1 0.8 0 0.8 1.6 0.7 -0.5 0.8 1 0.7 -3.4 0.8 -0.7 0.8 3.4 0.7 -0.3 0.8 -2.3 0.7 -1.2 0.8 1.2 0.8 1.5 0.7 -0.5 0.8 -1.7 0.7 0.6 0.8 3 0.8 1.8 0.7 -0.3 0.8 -4.6 0.7 -0.9 0.8 2.8 0.8 -0.1 0.7 2.2 0.8 0.7 0.7 -2 0.8 -0.5 0.8 -2.5 0.7 0.6 0.8 5.1 0.7 1.7 0.8 -6.9 0.8 -1.2 0.7 2.1 0.8 1.2 0.7 -3.9 0.8 2.8 0.8 1.6 0.7 -6 0.8 1.5 0.7 4.6 0.8 1.1 0.8 -2.5 0.7 2.7 0.8 0 0.7 -3.8 0.8 1 0.8 -0.4 0.7 0.2 0.8 0.1 0.7 -3.1 0.8 -2.3 0.8 0.5 0.7 1.1 0.8 3.1 0.7 2.6 0.8 -1.8 0.8 -0.3 0.7 1.5 0.8 2.7 0.7 -0.8 0.8 -0.3 0.8 -1.2 0.7 0.5 0.8 0 0.7 1.9 0.8 -1.2 0.8 1.1 0.7 -1.4" fill="none" stroke="#ffff00" stroke-width="3.6" stroke-linejoin="round"/>
<path d="M95,741.1l2 0 2 0 2 0 2 0.1 2 0 2 0 2 0 2 0 2 0.1 2 0 2 0 2 0 2 0 2 0.1 2 0 2 0 2 0 2 0.1 2 0 2 0 2 0 2 0.1 2 0 2 0 2 0 2 0.1 2 0 2 0 2 0.1 2 0.1 2 0.1 2 0.1 2 0.1 2 0.1 2 0.1 2 0.1 2 0.1 2 0 2 0.1 2 0.1 2 0.1 2 0 2 0.1 2 0.1 2 0 2 0.1 2 0 2 0.1 2 0.1 2 0.2 2 0.1 2 0.1 2 0.1 2 0.1 2 0.1 2 0.2 2 0.1 2 0.1 2 0.1 2 0.1 2 0.1 2 0.2 2 0.1 2 0.1 2 0.2 2 0.1 2 0.2 2 0 2 0 2 0 2 0 2 0 2 0 2 0 2 0.1 2 0 2 0.1 2 0.1 2 0 2 0.1 2 0.2 2 0.1 2 0.1 2 0.2 2 0.1 2 0.2 2 0.2 2 0.2 2 0.1 2 0.2 2 0.2 2 0.2 2 0.2 2 0.2 2 0.2 2 0.3 2 0.2 2 0.2 2 0.3 2 0.2 2 0.3 2 0.2 2 0.2 2 0.2 2 0.1 2 0.2 2 0.1 2 0.2 2 0.1 2 0.1 2 0.2 2 0.1 2 0.1 2 0.2 2 0.1 2 0.1 2 0.1 2 0.1 2 0.1 2 0.1 2 0.2 2 0.1 2 0.1 2 0.2 2 0.1 2 0.2 2 0.1 2 0.1 2 0.2 2 0.1 2 0.1 2 0.1 2 0.1 2 0.1 2 0.1 2 0.1 2 0.1 2 0 2 0.1 2 0.1 2 0 2 0.1 2 0 2 0.1 2 0 2 0 2 0.1 2 0 2 0 2 0 2 0 2 0 2 0 2 0 2 0 2 0 2 0 2 -0.1 2 0 2 0 2 0 2 -0.1 2 0 2 0 2 -0.1 2 0 2 -0.1 2 0 2 -0.1 2 0 2 -0.1 2 -0.1 2 0 2 -0.1 2 -0.1 2 0 2 -0.1 2 -0.1 2 -0.1 2 -0.1 2 0 2 -0.1 2 -0.1 2 -0.1 2 -0.1 2 -0.1 2 -0.1 2 -0.1 2 -0.1 2 -0.2 2 -0.1 2 -0.1 2 -0.1 2 -0.2 2 -0.1 2 -0.2 2 -0.1 2 -0.2 2 -0.1 2 -0.2 2 -0.1 2 -0.2 2 -0.2 2 -0.2 2 -0.1 2 -0.2 2 -0.2 2 -0.2 2 -0.2 2 -0.2 2 -0.3 2 -0.2 2 -0.2 2 -0.2 2 -0.3 2 -0.2 2 -0.3 2 -0.2 2 -0.3 2 -0.3 2 -0.3 2 -0.2 2 -0.3 2 -0.3 2 -0.3 2 -0.3 2 -0.3 2 -0.4 2 -0.3 2 -0.3 2 -0.3 2 -0.4 2 -0.3 2 -0.4 2 -0.3 2 -0.4 2 -0.4 2 -0.4 2 -0.3 2 -0.4 2 -0.4 2 -0.4 2 -0.4 2 -0.5 2 -0.4 2 -0.4 2 -0.4 2 -0.5 2 -0.4 2 -0.5 2 -0.5 2 -0.4 2 -0.5 2 -0.5 2 -0.5 2 -0.5 2 -0.5 2 -0.6 2 -0.5 2 -0.5 2 -0.6 2 -0.5 2 -0.6 2 -0.5 2 -0.6 2 -0.6 2 -0.6 2 -0.5 2 -0.6 2 -0.6 2 -0.6 2 -0.7 2 -0.6 2 -0.6 2 -0.6 2 -0.6 2 -0.7 2 -0.6 2 -0.6 2 -0.7 2 -0.6 2 -0.7 2 -0.6 2 -0.7 2 -0.6 2 -0.7 2 -0.7 2 -0.6 2 -0.7 2 -0.6 2 -0.7 2 -0.6 2 -0.7 2 -0.6 2 -0.7 2 -0.6 2 -0.7 2 -0.6 2 -0.7 2 -0.6 2 -0.6 2 -0.6 2 -0.7 2 -0.6 2 -0.6 2 -0.6 2 -0.5 2 -0.6 2 -0.6 2 -0.6 2 -0.5 2 -0.5 2 -0.6 2 -0.5 2 -0.5 2 -0.5 2 -0.5 2 -0.5 2 -0.4 2 -0.5 2 -0.4 2 -0.4 2 -0.4 2 -0.4 2 -0.3 2 -0.4 2 -0.3 2 -0.3 2 -0.3 2 -0.3 2 -0.2 2 -0.2 2 -0.3 2 -0.1 2 -0.2 2 -0.1 2 -0.2 2 0 2 -0.1 2 -0.1 2 0 2 0.1 2 0 2 0.1 2 0.2 2 0.1 2 0.2 2 0.2 2 0.3 2 0.2 2 0.3 2 0.3 2 0.3 2 0.4 2 0.3 2 0.4 2 0.4 2 0.4 2 0.5 2 0.4 2 0.5 2 0.5 2 0.5 2 0.5 2 0.5 2 0.6 2 0.6 2 0.5 2 0.6 2 0.6 2 0.6 2 0.7 2 0.6 2 0.6 2 0.7 2 0.6 2 0.7 2 0.7 2 0.7 2 0.7 2 0.7 2 0.7 2 0.7 2 0.7 2 0.7 2 0.8 2 0.7 2 0.7 2 0.8 2 0.7 2 0.8 2 0.7 2 0.8 2 0.7 2 0.8 2 0.7 2 0.8 2 0.7 2 0.7 2 0.8 2 0.7 2 0.8 2 0.7 2 0.8 2 0.7 2 0.7 2 0.8 2 0.7 2 0.7 2 0.7 2 0.7 2 0.7 2 0.7 2 0.7 2 0.7 2 0.7 2 0.7 2 0.7 2 0.6 2 0.7 2 0.6 2 0.7 2 0.6 2 0.7 2 0.6 2 0.6 2 0.6 2 0.6 2 0.6 2 0.6 2 0.6 2 0.6 2 0.5 2 0.6 2 0.5 2 0.6 2 0.5 2 0.5 2 0.5 2 0.6 2 0.5 2 0.5 2 0.4 2 0.5 2 0.5 2 0.4 2 0.5 2 0.4 2 0.5 2 0.4 2 0.4 2 0.5 2 0.4 2 0.4 2 0.4 2 0.3 2 0.4 2 0.4 2 0.3 2 0.4 2 0.3 2 0.4 2 0.3 2 0.3 2 0.4 2 0.3 2 0.3 2 0.3 2 0.3 2 0.3 2 0.3 2 0.2 2 0.3 2 0.3 2 0.2 2 0.3 2 0.2 2 0.3 2 0.2 2 0.2 2 0.2 2 0.3 2 0.2 2 0.2 2 0.2 2 0.2 2 0.2 2 0.2 2 0.2 2 0.2 2 0.1 2 0.2 2 0.2 2 0.1 2 0.2 2 0.2 2 0.1 2 0.2 2 0.1 2 0.2 2 0.1 2 0.1 2 0.2 2 0.1 2 0.1 2 0.2 2 0.1 2 0.1 2 0.1 2 0.2 2 0.1 2 0.1 2 0.1 2 0.1 2 0.1 2 0.1 2 0.1 2 0.1 2 0.1 2 0.1 2 0.1 2 0.1 2 0.1 2 0 2 0.1 2 0.1 2 0.1 2 0.1 2 0.1 2 0 2 0.1 2 0.1 2 0.1 2 0 2 0.1 2 0.1 2 0.1 2 0 2 0.1 2 0.1 2 0 2 0.1 2 0.1 2 0 2 0.1 2 0 2 0.1 2 0.1 2 0 2 0.1 2 0.1 2 0 2 0.1 2 0 2 0.1 2 0 2 0.1 2 0.1 2 0 2 0.1 2 0 2 0.1 2 0 2 0.1 2 0 2 0.1 2 0 L1229,771.6 1223,771.5 1217,771.4 1211,771.2 1205,771.1 1199,771 1193,770.8 1187,770.7 1181,770.5 1175,770.4 1169,770.3 1163,770.1 1157,770 1151,769.9 1145,769.7 1139,769.6 1133,769.4 1127,769.3 1121,769.2 1115,769 1109,768.9 1103,768.8 1097,768.6 1091,768.5 1085,768.3 1079,768.2 1073,768.1 1067,767.9 1061,767.8 1055,767.7 1049,767.5 1043,767.4 1037,767.2 1031,767.1 1025,767 1019,766.8 1013,766.7 1007,766.5 1001,766.4 995,766.3 989,766.1 983,766 977,765.9 971,765.7 965,765.6 959,765.4 953,765.3 947,765.2 941,765 935,764.9 929,764.8 923,764.6 917,764.5 911,764.3 905,764.2 899,764.1 893,763.9 887,763.8 881,763.7 875,763.5 869,763.4 863,763.2 857,763.1 851,763 845,762.8 839,762.7 833,762.5 827,762.4 821,762.3 815,762.1 809,762 803,761.9 797,761.7 791,761.6 785,761.4 779,761.3 773,761.2 767,761 761,760.9 755,760.8 749,760.6 743,760.5 737,760.3 731,760.2 725,760.1 719,759.9 713,759.8 707,759.7 701,759.5 695,759.4 689,759.2 683,759.1 677,759 671,758.8 665,758.7 659,758.6 653,758.4 647,758.3 641,758.1 635,758 629,757.9 623,757.7 617,757.6 611,757.5 605,757.3 599,757.2 593,757 587,756.9 581,756.8 575,756.7 569,756.6 563,756.5 557,756.4 551,756.4 545,756.3 539,756.3 533,756.3 527,756.3 521,756.3 515,756.3 509,756.3 503,756.3 497,756.3 491,756.3 485,756.3 479,756.3 473,756.3 467,756.3 461,756.3 455,756.3 449,756.3 443,756.3 437,756.3 431,756.3 425,756.3 419,756.2 413,756.2 407,756.2 401,756.1 395,756 389,755.9 383,755.7 377,755.5 371,755.3 365,755 359,754.6 353,754.3 347,753.9 341,753.3 335,752.8 329,752.1 323,751.5 317,750.8 311,750.1 305,749.4 299,748.7 293,747.9 287,747.2 281,746.5 275,745.9 269,745.4 263,744.9 257,744.5 251,744.2 245,744 239,743.9 233,743.9 227,743.8 221,743.6 215,743.4 209,743.3 203,743.1 197,742.9 191,742.8 185,742.7 179,742.6 173,742.4 167,742.3 161,742.1 155,741.9 149,741.7 143,741.6 137,741.5 131,741.5 125,741.4 119,741.3 113,741.3 107,741.2 101,741.1 95,741.1Z" fill="url(#gro)" fill-opacity="0.5"/>
<path d="M95,741.1l2 0 2 0 2 0 2 0.1 2 0 2 0 2 0 2 0 2 0.1 2 0 2 0 2 0 2 0 2 0.1 2 0 2 0 2 0 2 0.1 2 0 2 0 2 0 2 0.1 2 0 2 0 2 0 2 0.1 2 0 2 0 2 0.1 2 0.1 2 0.1 2 0.1 2 0.1 2 0.1 2 0.1 2 0.1 2 0.1 2 0 2 0.1 2 0.1 2 0.1 2 0 2 0.1 2 0.1 2 0 2 0.1 2 0 2 0.1 2 0.1 2 0.2 2 0.1 2 0.1 2 0.1 2 0.1 2 0.1 2 0.2 2 0.1 2 0.1 2 0.1 2 0.1 2 0.1 2 0.2 2 0.1 2 0.1 2 0.2 2 0.1 2 0.2 2 0 2 0 2 0 2 0 2 0 2 0 2 0 2 0.1 2 0 2 0.1 2 0.1 2 0 2 0.1 2 0.2 2 0.1 2 0.1 2 0.2 2 0.1 2 0.2 2 0.2 2 0.2 2 0.1 2 0.2 2 0.2 2 0.2 2 0.2 2 0.2 2 0.2 2 0.3 2 0.2 2 0.2 2 0.3 2 0.2 2 0.3 2 0.2 2 0.2 2 0.2 2 0.1 2 0.2 2 0.1 2 0.2 2 0.1 2 0.1 2 0.2 2 0.1 2 0.1 2 0.2 2 0.1 2 0.1 2 0.1 2 0.1 2 0.1 2 0.1 2 0.2 2 0.1 2 0.1 2 0.2 2 0.1 2 0.2 2 0.1 2 0.1 2 0.2 2 0.1 2 0.1 2 0.1 2 0.1 2 0.1 2 0.1 2 0.1 2 0.1 2 0 2 0.1 2 0.1 2 0 2 0.1 2 0 2 0.1 2 0 2 0 2 0.1 2 0 2 0 2 0 2 0 2 0 2 0 2 0 2 0 2 0 2 0 2 -0.1 2 0 2 0 2 0 2 -0.1 2 0 2 0 2 -0.1 2 0 2 -0.1 2 0 2 -0.1 2 0 2 -0.1 2 -0.1 2 0 2 -0.1 2 -0.1 2 0 2 -0.1 2 -0.1 2 -0.1 2 -0.1 2 0 2 -0.1 2 -0.1 2 -0.1 2 -0.1 2 -0.1 2 -0.1 2 -0.1 2 -0.1 2 -0.2 2 -0.1 2 -0.1 2 -0.1 2 -0.2 2 -0.1 2 -0.2 2 -0.1 2 -0.2 2 -0.1 2 -0.2 2 -0.1 2 -0.2 2 -0.2 2 -0.2 2 -0.1 2 -0.2 2 -0.2 2 -0.2 2 -0.2 2 -0.2 2 -0.3 2 -0.2 2 -0.2 2 -0.2 2 -0.3 2 -0.2 2 -0.3 2 -0.2 2 -0.3 2 -0.3 2 -0.3 2 -0.2 2 -0.3 2 -0.3 2 -0.3 2 -0.3 2 -0.3 2 -0.4 2 -0.3 2 -0.3 2 -0.3 2 -0.4 2 -0.3 2 -0.4 2 -0.3 2 -0.4 2 -0.4 2 -0.4 2 -0.3 2 -0.4 2 -0.4 2 -0.4 2 -0.4 2 -0.5 2 -0.4 2 -0.4 2 -0.4 2 -0.5 2 -0.4 2 -0.5 2 -0.5 2 -0.4 2 -0.5 2 -0.5 2 -0.5 2 -0.5 2 -0.5 2 -0.6 2 -0.5 2 -0.5 2 -0.6 2 -0.5 2 -0.6 2 -0.5 2 -0.6 2 -0.6 2 -0.6 2 -0.5 2 -0.6 2 -0.6 2 -0.6 2 -0.7 2 -0.6 2 -0.6 2 -0.6 2 -0.6 2 -0.7 2 -0.6 2 -0.6 2 -0.7 2 -0.6 2 -0.7 2 -0.6 2 -0.7 2 -0.6 2 -0.7 2 -0.7 2 -0.6 2 -0.7 2 -0.6 2 -0.7 2 -0.6 2 -0.7 2 -0.6 2 -0.7 2 -0.6 2 -0.7 2 -0.6 2 -0.7 2 -0.6 2 -0.6 2 -0.6 2 -0.7 2 -0.6 2 -0.6 2 -0.6 2 -0.5 2 -0.6 2 -0.6 2 -0.6 2 -0.5 2 -0.5 2 -0.6 2 -0.5 2 -0.5 2 -0.5 2 -0.5 2 -0.5 2 -0.4 2 -0.5 2 -0.4 2 -0.4 2 -0.4 2 -0.4 2 -0.3 2 -0.4 2 -0.3 2 -0.3 2 -0.3 2 -0.3 2 -0.2 2 -0.2 2 -0.3 2 -0.1 2 -0.2 2 -0.1 2 -0.2 2 0 2 -0.1 2 -0.1 2 0 2 0.1 2 0 2 0.1 2 0.2 2 0.1 2 0.2 2 0.2 2 0.3 2 0.2 2 0.3 2 0.3 2 0.3 2 0.4 2 0.3 2 0.4 2 0.4 2 0.4 2 0.5 2 0.4 2 0.5 2 0.5 2 0.5 2 0.5 2 0.5 2 0.6 2 0.6 2 0.5 2 0.6 2 0.6 2 0.6 2 0.7 2 0.6 2 0.6 2 0.7 2 0.6 2 0.7 2 0.7 2 0.7 2 0.7 2 0.7 2 0.7 2 0.7 2 0.7 2 0.7 2 0.8 2 0.7 2 0.7 2 0.8 2 0.7 2 0.8 2 0.7 2 0.8 2 0.7 2 0.8 2 0.7 2 0.8 2 0.7 2 0.7 2 0.8 2 0.7 2 0.8 2 0.7 2 0.8 2 0.7 2 0.7 2 0.8 2 0.7 2 0.7 2 0.7 2 0.7 2 0.7 2 0.7 2 0.7 2 0.7 2 0.7 2 0.7 2 0.7 2 0.6 2 0.7 2 0.6 2 0.7 2 0.6 2 0.7 2 0.6 2 0.6 2 0.6 2 0.6 2 0.6 2 0.6 2 0.6 2 0.6 2 0.5 2 0.6 2 0.5 2 0.6 2 0.5 2 0.5 2 0.5 2 0.6 2 0.5 2 0.5 2 0.4 2 0.5 2 0.5 2 0.4 2 0.5 2 0.4 2 0.5 2 0.4 2 0.4 2 0.5 2 0.4 2 0.4 2 0.4 2 0.3 2 0.4 2 0.4 2 0.3 2 0.4 2 0.3 2 0.4 2 0.3 2 0.3 2 0.4 2 0.3 2 0.3 2 0.3 2 0.3 2 0.3 2 0.3 2 0.2 2 0.3 2 0.3 2 0.2 2 0.3 2 0.2 2 0.3 2 0.2 2 0.2 2 0.2 2 0.3 2 0.2 2 0.2 2 0.2 2 0.2 2 0.2 2 0.2 2 0.2 2 0.2 2 0.1 2 0.2 2 0.2 2 0.1 2 0.2 2 0.2 2 0.1 2 0.2 2 0.1 2 0.2 2 0.1 2 0.1 2 0.2 2 0.1 2 0.1 2 0.2 2 0.1 2 0.1 2 0.1 2 0.2 2 0.1 2 0.1 2 0.1 2 0.1 2 0.1 2 0.1 2 0.1 2 0.1 2 0.1 2 0.1 2 0.1 2 0.1 2 0.1 2 0 2 0.1 2 0.1 2 0.1 2 0.1 2 0.1 2 0 2 0.1 2 0.1 2 0.1 2 0 2 0.1 2 0.1 2 0.1 2 0 2 0.1 2 0.1 2 0 2 0.1 2 0.1 2 0 2 0.1 2 0 2 0.1 2 0.1 2 0 2 0.1 2 0.1 2 0 2 0.1 2 0 2 0.1 2 0 2 0.1 2 0.1 2 0 2 0.1 2 0 2 0.1 2 0 2 0.1 2 0 2 0.1 2 0" fill="none" stroke="#ff0000" stroke-width="4.6"/>
<path d="M95,741.1l2 0 2 0 2 0 2 0.1 2 0 2 0 2 0 2 0 2 0.1 2 0 2 0 2 0 2 0 2 0.1 2 0 2 0 2 0 2 0.1 2 0 2 0 2 0 2 0.1 2 0 2 0 2 0 2 0.1 2 0 2 0 2 0.1 2 0.1 2 0 2 0.1 2 0.1 2 0 2 0.1 2 0.1 2 0 2 0.1 2 0 2 0.1 2 0 2 0.1 2 0 2 0 2 0.1 2 0 2 0 2 0.1 2 0 2 0.1 2 0 2 0.1 2 0.1 2 0 2 0.1 2 0 2 0.1 2 0 2 0.1 2 0 2 0.1 2 0 2 0.1 2 0 2 0.1 2 0.1 2 0.1 2 0 2 0 2 0 2 0 2 0 2 0 2 0 2 0.1 2 0 2 0.1 2 0.1 2 0.1 2 0.1 2 0.1 2 0.1 2 0.1 2 0.2 2 0.1 2 0.2 2 0.2 2 0.2 2 0.2 2 0.1 2 0.2 2 0.2 2 0.2 2 0.2 2 0.3 2 0.2 2 0.2 2 0.3 2 0.2 2 0.3 2 0.2 2 0.3 2 0.2 2 0.2 2 0.3 2 0.2 2 0.3 2 0.2 2 0.3 2 0.2 2 0.2 2 0.3 2 0.2 2 0.2 2 0.2 2 0.2 2 0.2 2 0.2 2 0.2 2 0.3 2 0.2 2 0.2 2 0.1 2 0.2 2 0.2 2 0.2 2 0.1 2 0.2 2 0.1 2 0.1 2 0.1 2 0.1 2 0.1 2 0.2 2 0.1 2 0.1 2 0.1 2 0.1 2 0.1 2 0 2 0.1 2 0.1 2 0.1 2 0 2 0.1 2 0 2 0.1 2 0 2 0.1 2 0 2 0 2 0.1 2 0 2 0 2 0 2 0.1 2 0 2 0 2 0 2 0 2 0 2 0 2 0.1 2 0 2 0 2 0 2 0 2 0 2 0 2 0 2 0 2 0 2 0 2 0 2 0 2 0 2 0 2 0 2 0 2 0 2 0 2 0 2 0 2 0 2 0 2 0 2 0 2 0 2 0 2 0 2 0 2 0 2 0 2 0 2 0 2 0 2 0 2 0 2 0 2 0 2 0 2 0 2 0 2 0 2 0 2 0 2 0 2 0 2 0 2 0 2 0 2 0 2 0 2 0 2 0 2 0 2 0 2 0 2 0 2 0 2 0 2 0 2 0 2 0 2 0 2 0.1 2 0 2 0 2 0 2 0 2 0 2 0.1 2 0 2 0 2 0 2 0.1 2 0 2 0 2 0 2 0.1 2 0 2 0.1 2 0 2 0 2 0.1 2 0 2 0.1 2 0 2 0 2 0.1 2 0 2 0.1 2 0 2 0.1 2 0 2 0.1 2 0 2 0 2 0.1 2 0 2 0.1 2 0 2 0.1 2 0 2 0.1 2 0 2 0 2 0.1 2 0 2 0.1 2 0 2 0.1 2 0 2 0 2 0.1 2 0 2 0.1 2 0 2 0 2 0.1 2 0 2 0 2 0.1 2 0 2 0 2 0.1 2 0 2 0 2 0 2 0 2 0.1 2 0 2 0 2 0 2 0 2 0 2 0 2 0 2 0 2 -0.1 2 0 2 0 2 -0.1 2 0 2 -0.1 2 -0.1 2 0 2 -0.1 2 -0.1 2 -0.1 2 -0.2 2 -0.1 2 -0.1 2 -0.2 2 -0.2 2 -0.2 2 -0.2 2 -0.2 2 -0.3 2 -0.3 2 -0.3 2 -0.3 2 -0.3 2 -0.4 2 -0.4 2 -0.4 2 -0.5 2 -0.5 2 -0.5 2 -0.5 2 -0.6 2 -0.6 2 -0.7 2 -0.7 2 -0.7 2 -0.7 2 -0.9 2 -0.8 2 -0.9 2 -0.9 2 -1 2 -1 2 -1.1 2 -1.1 2 -1.1 2 -1.2 2 -1.3 2 -1.3 2 -1.3 2 -1.4 2 -1.5 2 -1.4 2 -1.6 2 -1.5 2 -1.7 2 -1.6 2 -1.7 2 -1.7 2 -1.8 2 -1.8 2 -1.9 2 -1.9 2 -1.9 2 -1.9 2 -2 2 -2 2 -2 2 -2 2 -2 2 -2 2 -2.1 2 -2 2 -2.1 2 -2 2 -2 2 -2.1 2 -1.9 2 -2 2 -2 2 -1.9 2 -1.8 2 -1.9 2 -1.8 2 -1.7 2 -1.7 2 -1.6 2 -1.6 2 -1.5 2 -1.4 2 -1.4 2 -1.2 2 -1.2 2 -1.2 2 -1 2 -0.9 2 -0.9 2 -0.7 2 -0.7 2 -0.5 2 -0.5 2 -0.3 2 -0.3 2 -0.1 2 0 2 0 2 0.2 2 0.3 2 0.4 2 0.4 2 0.6 2 0.7 2 0.8 2 0.9 2 0.9 2 1.1 2 1.2 2 1.2 2 1.3 2 1.4 2 1.5 2 1.6 2 1.6 2 1.7 2 1.7 2 1.8 2 1.8 2 1.9 2 2 2 2 2 2 2 2 2 2.1 2 2.1 2 2.1 2 2.1 2 2.2 2 2.1 2 2.1 2 2.2 2 2.1 2 2.1 2 2.1 2 2.1 2 2.1 2 2 2 2 2 2 2 2 2 1.9 2 1.9 2 1.8 2 1.9 2 1.7 2 1.8 2 1.7 2 1.6 2 1.6 2 1.6 2 1.5 2 1.4 2 1.4 2 1.4 2 1.3 2 1.3 2 1.2 2 1.2 2 1.2 2 1.1 2 1 2 1 2 1 2 0.9 2 0.9 2 0.8 2 0.8 2 0.8 2 0.7 2 0.7 2 0.7 2 0.6 2 0.6 2 0.6 2 0.5 2 0.5 2 0.5 2 0.4 2 0.4 2 0.4 2 0.4 2 0.4 2 0.3 2 0.3 2 0.3 2 0.3 2 0.3 2 0.2 2 0.3 2 0.2 2 0.2 2 0.2 2 0.2 2 0.2 2 0.1 2 0.2 2 0.1 2 0.2 2 0.1 2 0.1 2 0.2 2 0.1 2 0.1 2 0.1 2 0.1 2 0.1 2 0.1 2 0 2 0.1 2 0.1 2 0.1 2 0.1 2 0 2 0.1 2 0.1 2 0 2 0.1 2 0 2 0.1 2 0.1 2 0 2 0.1 2 0 2 0.1 2 0 2 0.1 2 0 2 0.1 2 0 2 0.1 2 0 2 0.1 2 0 2 0.1 2 0 2 0.1 2 0 2 0.1 2 0 2 0.1 2 0 2 0.1 2 0 2 0.1 2 0 2 0 2 0.1 2 0 2 0.1 2 0 2 0.1 2 0 2 0.1 2 0 2 0.1 2 0 2 0.1 2 0 2 0 L1229,771.6 1223,771.5 1217,771.4 1211,771.2 1205,771.1 1199,771 1193,770.8 1187,770.7 1181,770.5 1175,770.4 1169,770.3 1163,770.1 1157,770 1151,769.9 1145,769.7 1139,769.6 1133,769.4 1127,769.3 1121,769.2 1115,769 1109,768.9 1103,768.8 1097,768.6 1091,768.5 1085,768.3 1079,768.2 1073,768.1 1067,767.9 1061,767.8 1055,767.7 1049,767.5 1043,767.4 1037,767.2 1031,767.1 1025,767 1019,766.8 1013,766.7 1007,766.5 1001,766.4 995,766.3 989,766.1 983,766 977,765.9 971,765.7 965,765.6 959,765.4 953,765.3 947,765.2 941,765 935,764.9 929,764.8 923,764.6 917,764.5 911,764.3 905,764.2 899,764.1 893,763.9 887,763.8 881,763.7 875,763.5 869,763.4 863,763.2 857,763.1 851,763 845,762.8 839,762.7 833,762.5 827,762.4 821,762.3 815,762.1 809,762 803,761.9 797,761.7 791,761.6 785,761.4 779,761.3 773,761.2 767,761 761,760.9 755,760.8 749,760.6 743,760.5 737,760.3 731,760.2 725,760.1 719,759.9 713,759.8 707,759.7 701,759.5 695,759.4 689,759.2 683,759.1 677,759 671,758.8 665,758.7 659,758.6 653,758.4 647,758.3 641,758.1 635,758 629,757.9 623,757.7 617,757.6 611,757.5 605,757.3 599,757.2 593,757 587,756.9 581,756.8 575,756.7 569,756.6 563,756.5 557,756.4 551,756.4 545,756.3 539,756.3 533,756.3 527,756.3 521,756.3 515,756.3 509,756.3 503,756.3 497,756.3 491,756.3 485,756.3 479,756.3 473,756.3 467,756.3 461,756.3 455,756.3 449,756.3 443,756.3 437,756.3 431,756.3 425,756.3 419,756.2 413,756.2 407,756.2 401,756.1 395,756 389,755.9 383,755.7 377,755.5 371,755.3 365,755 359,754.6 353,754.3 347,753.9 341,753.3 335,752.8 329,752.1 323,751.5 317,750.8 311,750.1 305,749.4 299,748.7 293,747.9 287,747.2 281,746.5 275,745.9 269,745.4 263,744.9 257,744.5 251,744.2 245,744 239,743.9 233,743.9 227,743.8 221,743.6 215,743.4 209,743.3 203,743.1 197,742.9 191,742.8 185,742.7 179,742.6 173,742.4 167,742.3 161,742.1 155,741.9 149,741.7 143,741.6 137,741.5 131,741.5 125,741.4 119,741.3 113,741.3 107,741.2 101,741.1 95,741.1Z" fill="url(#gb)"/>
<path d="M95,741.1l2 0 2 0 2 0 2 0.1 2 0 2 0 2 0 2 0 2 0.1 2 0 2 0 2 0 2 0 2 0.1 2 0 2 0 2 0 2 0.1 2 0 2 0 2 0 2 0.1 2 0 2 0 2 0 2 0.1 2 0 2 0 2 0.1 2 0.1 2 0 2 0.1 2 0.1 2 0 2 0.1 2 0.1 2 0 2 0.1 2 0 2 0.1 2 0 2 0.1 2 0 2 0 2 0.1 2 0 2 0 2 0.1 2 0 2 0.1 2 0 2 0.1 2 0.1 2 0 2 0.1 2 0 2 0.1 2 0 2 0.1 2 0 2 0.1 2 0 2 0.1 2 0 2 0.1 2 0.1 2 0.1 2 0 2 0 2 0 2 0 2 0 2 0 2 0 2 0.1 2 0 2 0.1 2 0.1 2 0.1 2 0.1 2 0.1 2 0.1 2 0.1 2 0.2 2 0.1 2 0.2 2 0.2 2 0.2 2 0.2 2 0.1 2 0.2 2 0.2 2 0.2 2 0.2 2 0.3 2 0.2 2 0.2 2 0.3 2 0.2 2 0.3 2 0.2 2 0.3 2 0.2 2 0.2 2 0.3 2 0.2 2 0.3 2 0.2 2 0.3 2 0.2 2 0.2 2 0.3 2 0.2 2 0.2 2 0.2 2 0.2 2 0.2 2 0.2 2 0.2 2 0.3 2 0.2 2 0.2 2 0.1 2 0.2 2 0.2 2 0.2 2 0.1 2 0.2 2 0.1 2 0.1 2 0.1 2 0.1 2 0.1 2 0.2 2 0.1 2 0.1 2 0.1 2 0.1 2 0.1 2 0 2 0.1 2 0.1 2 0.1 2 0 2 0.1 2 0 2 0.1 2 0 2 0.1 2 0 2 0 2 0.1 2 0 2 0 2 0 2 0.1 2 0 2 0 2 0 2 0 2 0 2 0 2 0.1 2 0 2 0 2 0 2 0 2 0 2 0 2 0 2 0 2 0 2 0 2 0 2 0 2 0 2 0 2 0 2 0 2 0 2 0 2 0 2 0 2 0 2 0 2 0 2 0 2 0 2 0 2 0 2 0 2 0 2 0 2 0 2 0 2 0 2 0 2 0 2 0 2 0 2 0 2 0 2 0 2 0 2 0 2 0 2 0 2 0 2 0 2 0 2 0 2 0 2 0 2 0 2 0 2 0 2 0 2 0 2 0 2 0 2 0 2 0 2 0 2 0 2 0 2 0.1 2 0 2 0 2 0 2 0 2 0 2 0.1 2 0 2 0 2 0 2 0.1 2 0 2 0 2 0 2 0.1 2 0 2 0.1 2 0 2 0 2 0.1 2 0 2 0.1 2 0 2 0 2 0.1 2 0 2 0.1 2 0 2 0.1 2 0 2 0.1 2 0 2 0 2 0.1 2 0 2 0.1 2 0 2 0.1 2 0 2 0.1 2 0 2 0 2 0.1 2 0 2 0.1 2 0 2 0.1 2 0 2 0 2 0.1 2 0 2 0.1 2 0 2 0 2 0.1 2 0 2 0 2 0.1 2 0 2 0 2 0.1 2 0 2 0 2 0 2 0 2 0.1 2 0 2 0 2 0 2 0 2 0 2 0 2 0 2 0 2 -0.1 2 0 2 0 2 -0.1 2 0 2 -0.1 2 -0.1 2 0 2 -0.1 2 -0.1 2 -0.1 2 -0.2 2 -0.1 2 -0.1 2 -0.2 2 -0.2 2 -0.2 2 -0.2 2 -0.2 2 -0.3 2 -0.3 2 -0.3 2 -0.3 2 -0.3 2 -0.4 2 -0.4 2 -0.4 2 -0.5 2 -0.5 2 -0.5 2 -0.5 2 -0.6 2 -0.6 2 -0.7 2 -0.7 2 -0.7 2 -0.7 2 -0.9 2 -0.8 2 -0.9 2 -0.9 2 -1 2 -1 2 -1.1 2 -1.1 2 -1.1 2 -1.2 2 -1.3 2 -1.3 2 -1.3 2 -1.4 2 -1.5 2 -1.4 2 -1.6 2 -1.5 2 -1.7 2 -1.6 2 -1.7 2 -1.7 2 -1.8 2 -1.8 2 -1.9 2 -1.9 2 -1.9 2 -1.9 2 -2 2 -2 2 -2 2 -2 2 -2 2 -2 2 -2.1 2 -2 2 -2.1 2 -2 2 -2 2 -2.1 2 -1.9 2 -2 2 -2 2 -1.9 2 -1.8 2 -1.9 2 -1.8 2 -1.7 2 -1.7 2 -1.6 2 -1.6 2 -1.5 2 -1.4 2 -1.4 2 -1.2 2 -1.2 2 -1.2 2 -1 2 -0.9 2 -0.9 2 -0.7 2 -0.7 2 -0.5 2 -0.5 2 -0.3 2 -0.3 2 -0.1 2 0 2 0 2 0.2 2 0.3 2 0.4 2 0.4 2 0.6 2 0.7 2 0.8 2 0.9 2 0.9 2 1.1 2 1.2 2 1.2 2 1.3 2 1.4 2 1.5 2 1.6 2 1.6 2 1.7 2 1.7 2 1.8 2 1.8 2 1.9 2 2 2 2 2 2 2 2 2 2.1 2 2.1 2 2.1 2 2.1 2 2.2 2 2.1 2 2.1 2 2.2 2 2.1 2 2.1 2 2.1 2 2.1 2 2.1 2 2 2 2 2 2 2 2 2 1.9 2 1.9 2 1.8 2 1.9 2 1.7 2 1.8 2 1.7 2 1.6 2 1.6 2 1.6 2 1.5 2 1.4 2 1.4 2 1.4 2 1.3 2 1.3 2 1.2 2 1.2 2 1.2 2 1.1 2 1 2 1 2 1 2 0.9 2 0.9 2 0.8 2 0.8 2 0.8 2 0.7 2 0.7 2 0.7 2 0.6 2 0.6 2 0.6 2 0.5 2 0.5 2 0.5 2 0.4 2 0.4 2 0.4 2 0.4 2 0.4 2 0.3 2 0.3 2 0.3 2 0.3 2 0.3 2 0.2 2 0.3 2 0.2 2 0.2 2 0.2 2 0.2 2 0.2 2 0.1 2 0.2 2 0.1 2 0.2 2 0.1 2 0.1 2 0.2 2 0.1 2 0.1 2 0.1 2 0.1 2 0.1 2 0.1 2 0 2 0.1 2 0.1 2 0.1 2 0.1 2 0 2 0.1 2 0.1 2 0 2 0.1 2 0 2 0.1 2 0.1 2 0 2 0.1 2 0 2 0.1 2 0 2 0.1 2 0 2 0.1 2 0 2 0.1 2 0 2 0.1 2 0 2 0.1 2 0 2 0.1 2 0 2 0.1 2 0 2 0.1 2 0 2 0.1 2 0 2 0.1 2 0 2 0 2 0.1 2 0 2 0.1 2 0 2 0.1 2 0 2 0.1 2 0 2 0.1 2 0 2 0.1 2 0 2 0" fill="none" stroke="#0000ff" stroke-width="4.6"/>
<path d="M95,741l2 0 2 0.1 2 0 2 0 2 0 2 0.1 2 0 2 0 2 0 2 0.1 2 0 2 0 2 0 2 0.1 2 0 2 0 2 0 2 0.1 2 0 2 0 2 0 2 0.1 2 0 2 0 2 0 2 0.1 2 0 2 0 2 0 2 0.1 2 0 2 0 2 0 2 0.1 2 0 2 0 2 0 2 0.1 2 0 2 0 2 0 2 0.1 2 0 2 0 2 0 2 0.1 2 0 2 -0.1 2 -0.1 2 -0.1 2 -0.1 2 -0.1 2 0 2 -0.1 2 -0.1 2 -0.1 2 -0.1 2 -0.1 2 -0.1 2 -0.1 2 -0.1 2 -0.1 2 0 2 -0.1 2 -0.1 2 -0.1 2 -0.1 2 -0.1 2 -0.1 2 0.1 2 0 2 0.1 2 0.1 2 0.1 2 0.1 2 0.1 2 0.1 2 0 2 0.1 2 0.1 2 0.1 2 0.1 2 0.1 2 0.1 2 0 2 0.1 2 0.3 2 0.3 2 0.4 2 0.3 2 0.4 2 0.3 2 0.4 2 0.3 2 0.4 2 0.3 2 0.4 2 0.3 2 0.4 2 0.3 2 0.4 2 0.3 2 0.4 2 0.3 2 0.4 2 0.3 2 0.4 2 0.3 2 0.4 2 0.2 2 0.3 2 0.3 2 0.2 2 0.3 2 0.3 2 0.2 2 0.3 2 0.3 2 0.2 2 0.3 2 0.3 2 0.2 2 0.3 2 0.2 2 0.3 2 0.3 2 0.2 2 0.3 2 0.2 2 0 2 0.1 2 0 2 0.1 2 0 2 0.1 2 0 2 0 2 0.1 2 0 2 0 2 0.1 2 0 2 0.1 2 0 2 0 2 0.1 2 0 2 0 2 0 2 0.1 2 0 2 0 2 0 2 0 2 0 2 -0.1 2 0 2 -0.1 2 0 2 0 2 -0.1 2 0 2 -0.1 2 0 2 -0.1 2 0 2 -0.1 2 0 2 -0.1 2 0 2 -0.1 2 -0.1 2 0 2 -0.1 2 -0.1 2 0 2 -0.1 2 -0.1 2 -0.1 2 -0.1 2 0 2 -0.1 2 -0.1 2 -0.1 2 -0.1 2 -0.1 2 -0.1 2 -0.1 2 -0.1 2 -0.2 2 -0.1 2 -0.1 2 -0.1 2 -0.2 2 -0.1 2 -0.2 2 -0.1 2 -0.2 2 -0.1 2 -0.2 2 -0.1 2 -0.2 2 -0.2 2 -0.2 2 -0.1 2 -0.2 2 -0.2 2 -0.2 2 -0.2 2 -0.2 2 -0.3 2 -0.2 2 -0.2 2 -0.3 2 -0.2 2 -0.2 2 -0.3 2 -0.3 2 -0.2 2 -0.3 2 -0.3 2 -0.3 2 -0.3 2 -0.3 2 -0.3 2 -0.3 2 -0.3 2 -0.4 2 -0.3 2 -0.3 2 -0.4 2 -0.4 2 -0.3 2 -0.3 2 -0.4 2 -0.3 2 -0.4 2 -0.3 2 -0.4 2 -0.4 2 -0.4 2 -0.4 2 -0.4 2 -0.4 2 -0.4 2 -0.4 2 -0.5 2 -0.4 2 -0.5 2 -0.4 2 -0.5 2 -0.5 2 -0.4 2 -0.5 2 -0.5 2 -0.5 2 -0.5 2 -0.6 2 -0.5 2 -0.5 2 -0.6 2 -0.5 2 -0.6 2 -0.5 2 -0.6 2 -0.6 2 -0.6 2 -0.6 2 -0.6 2 -0.6 2 -0.6 2 -0.6 2 -0.6 2 -0.6 2 -0.7 2 -0.6 2 -0.6 2 -0.7 2 -0.6 2 -0.7 2 -0.6 2 -0.7 2 -0.7 2 -0.6 2 -0.7 2 -0.7 2 -0.7 2 -0.6 2 -0.7 2 -0.7 2 -0.7 2 -0.7 2 -0.7 2 -0.7 2 -0.6 2 -0.7 2 -0.7 2 -0.7 2 -0.7 2 -0.7 2 -0.7 2 -0.7 2 -0.7 2 -0.8 2 -0.7 2 -0.7 2 -0.7 2 -0.7 2 -0.7 2 -0.7 2 -0.7 2 -0.8 2 -0.7 2 -0.7 2 -0.8 2 -0.7 2 -0.8 2 -0.7 2 -0.8 2 -0.7 2 -0.8 2 -0.8 2 -0.8 2 -0.7 2 -0.9 2 -0.8 2 -0.8 2 -0.8 2 -0.9 2 -0.8 2 -0.9 2 -0.9 2 -0.9 2 -0.9 2 -1 2 -0.9 2 -1 2 -1 2 -1 2 -1 2 -1 2 -1.1 2 -1 2 -1 2 -1.1 2 -1.1 2 -1.1 2 -1.2 2 -1.1 2 -1.2 2 -1.2 2 -1.2 2 -1.3 2 -1.2 2 -1.3 2 -1.4 2 -1.3 2 -1.4 2 -1.3 2 -1.5 2 -1.4 2 -1.4 2 -1.5 2 -1.4 2 -1.5 2 -1.5 2 -1.5 2 -1.5 2 -1.4 2 -1.5 2 -1.5 2 -1.5 2 -1.4 2 -1.5 2 -1.4 2 -1.4 2 -1.3 2 -1.4 2 -1.3 2 -1.2 2 -1.3 2 -1.1 2 -1.1 2 -1.1 2 -1 2 -1 2 -0.8 2 -0.9 2 -0.7 2 -0.7 2 -0.5 2 -0.5 2 -0.4 2 -0.4 2 -0.2 2 -0.1 2 -0.1 2 0.1 2 0.1 2 0.3 2 0.3 2 0.5 2 0.5 2 0.7 2 0.7 2 0.9 2 0.9 2 1.1 2 1.1 2 1.3 2 1.3 2 1.5 2 1.5 2 1.6 2 1.8 2 1.8 2 1.8 2 2 2 2 2 2.1 2 2.1 2 2.3 2 2.2 2 2.4 2 2.3 2 2.5 2 2.4 2 2.5 2 2.6 2 2.5 2 2.6 2 2.6 2 2.6 2 2.6 2 2.7 2 2.6 2 2.6 2 2.6 2 2.6 2 2.6 2 2.6 2 2.6 2 2.5 2 2.5 2 2.5 2 2.4 2 2.4 2 2.3 2 2.4 2 2.2 2 2.3 2 2.1 2 2.2 2 2.1 2 2 2 2 2 1.9 2 1.9 2 1.8 2 1.8 2 1.7 2 1.7 2 1.6 2 1.5 2 1.6 2 1.4 2 1.4 2 1.4 2 1.2 2 1.3 2 1.2 2 1.1 2 1.2 2 1 2 1 2 1 2 0.9 2 0.9 2 0.9 2 0.8 2 0.7 2 0.8 2 0.7 2 0.6 2 0.7 2 0.6 2 0.6 2 0.5 2 0.5 2 0.5 2 0.5 2 0.5 2 0.4 2 0.4 2 0.4 2 0.3 2 0.4 2 0.3 2 0.3 2 0.3 2 0.3 2 0.3 2 0.2 2 0.3 2 0.2 2 0.2 2 0.2 2 0.2 2 0.2 2 0.2 2 0.2 2 0.1 2 0.2 2 0.2 2 0.1 2 0.1 2 0.2 2 0.1 2 0.1 2 0.2 2 0.1 2 0.1 2 0.1 2 0.1 2 0.1 2 0.1 2 0.1 2 0.1 2 0.1 2 0.1 2 0 2 0.1 2 0.1 2 0.1 2 0.1 2 0 2 0.1 2 0.1 2 0.1 2 0 2 0.1 2 0.1 2 0 2 0.1 2 0.1 2 0 2 0.1 2 0.1 2 0 2 0.1 2 0 2 0.1 2 0.1 2 0 2 0.1 2 0 2 0.1 2 0 2 0.1 2 0.1 2 0 2 0.1 2 0 2 0.1 2 0 2 0.1 2 0" fill="none" stroke="#bebebe" stroke-width="4"/>
<path d="M95,741 189,742.2 233.6,740.2 268,741.7 312.8,749.6 352.4,755 400,756.3 560,756.3 720,760 900,764.1 1229,771.6" fill="none" stroke="#808080" stroke-width="4" stroke-linejoin="round"/>
<path d="M95,883.6l2 0 2 0 2 0 2 0 2 0.1 2 0 2 0 2 0 2 0 2 0.1 2 0 2 0 2 0 2 0 2 0.1 2 0 2 0 2 0 2 0 2 0.1 2 0 2 0 2 0 2 0 2 0.1 2 0 2 0 2 0 2 0.1 2 0 2 0 2 0 2 0 2 0 2 0.1 2 0 2 0 2 0 2 0 2 0 2 0.1 2 0 2 0 2 0 2 0 2 0 2 0 2 0.1 2 0 2 0 2 0 2 0 2 0 2 0 2 0 2 0.1 2 0 2 0 2 0 2 0 2 0 2 0 2 0.1 2 0 2 0 2 0 2 0 2 0 2 0.1 2 0 2 0 2 0 2 0.1 2 0 2 0 2 0.1 2 0 2 0.1 2 0 2 0 2 0.1 2 0.1 2 0 2 0.1 2 0 2 0.1 2 0.1 2 0.1 2 0 2 0.1 2 0.1 2 0.1 2 0.1 2 0.1 2 0.2 2 0.1 2 0.1 2 0.1 2 0.2 2 0.1 2 0.2 2 0.1 2 0.2 2 0.1 2 0.2 2 0.2 2 0.1 2 0.2 2 0.2 2 0.1 2 0.2 2 0.2 2 0.1 2 0.2 2 0.2 2 0.1 2 0.2 2 0.1 2 0.2 2 0.1 2 0.1 2 0.2 2 0.1 2 0.1 2 0.1 2 0.1 2 0.1 2 0.1 2 0.1 2 0.1 2 0.1 2 0 2 0.1 2 0.1 2 0 2 0.1 2 0.1 2 0 2 0.1 2 0.1 2 0 2 0.1 2 0 2 0.1 2 0 2 0.1 2 0 2 0 2 0.1 2 0 2 0 2 0.1 2 0 2 0 2 0.1 2 0 2 0 2 0 2 0 2 0 2 0 2 0 2 0 2 0 2 0 2 0 2 0 2 0 2 -0.1 2 0 2 0 2 0 2 -0.1 2 0 2 0 2 -0.1 2 0 2 -0.1 2 0 2 -0.1 2 0 2 -0.1 2 0 2 -0.1 2 0 2 -0.1 2 -0.1 2 0 2 -0.1 2 -0.1 2 0 2 -0.1 2 -0.1 2 -0.1 2 -0.1 2 0 2 -0.1 2 -0.1 2 -0.1 2 -0.1 2 -0.1 2 -0.1 2 -0.2 2 -0.1 2 -0.1 2 -0.1 2 -0.1 2 -0.2 2 -0.1 2 -0.1 2 -0.2 2 -0.1 2 -0.2 2 -0.1 2 -0.2 2 -0.2 2 -0.1 2 -0.2 2 -0.2 2 -0.1 2 -0.2 2 -0.2 2 -0.2 2 -0.2 2 -0.2 2 -0.2 2 -0.2 2 -0.2 2 -0.3 2 -0.2 2 -0.2 2 -0.2 2 -0.3 2 -0.2 2 -0.3 2 -0.2 2 -0.3 2 -0.2 2 -0.3 2 -0.3 2 -0.2 2 -0.3 2 -0.3 2 -0.3 2 -0.3 2 -0.3 2 -0.3 2 -0.3 2 -0.3 2 -0.3 2 -0.4 2 -0.3 2 -0.3 2 -0.4 2 -0.3 2 -0.4 2 -0.3 2 -0.4 2 -0.4 2 -0.3 2 -0.4 2 -0.4 2 -0.4 2 -0.4 2 -0.4 2 -0.4 2 -0.4 2 -0.4 2 -0.4 2 -0.5 2 -0.4 2 -0.4 2 -0.5 2 -0.4 2 -0.4 2 -0.5 2 -0.4 2 -0.5 2 -0.5 2 -0.4 2 -0.5 2 -0.4 2 -0.5 2 -0.5 2 -0.4 2 -0.5 2 -0.5 2 -0.4 2 -0.5 2 -0.5 2 -0.5 2 -0.4 2 -0.5 2 -0.5 2 -0.4 2 -0.5 2 -0.5 2 -0.4 2 -0.5 2 -0.5 2 -0.4 2 -0.5 2 -0.4 2 -0.5 2 -0.4 2 -0.4 2 -0.5 2 -0.4 2 -0.4 2 -0.4 2 -0.4 2 -0.4 2 -0.4 2 -0.4 2 -0.4 2 -0.3 2 -0.4 2 -0.3 2 -0.4 2 -0.3 2 -0.3 2 -0.3 2 -0.3 2 -0.3 2 -0.3 2 -0.2 2 -0.3 2 -0.2 2 -0.2 2 -0.2 2 -0.2 2 -0.2 2 -0.1 2 -0.2 2 -0.1 2 -0.1 2 -0.1 2 -0.1 2 -0.1 2 0 2 0 2 0 2 0 2 0.1 2 0.1 2 0.1 2 0.1 2 0.2 2 0.1 2 0.2 2 0.2 2 0.3 2 0.2 2 0.2 2 0.3 2 0.3 2 0.3 2 0.3 2 0.3 2 0.4 2 0.3 2 0.4 2 0.3 2 0.4 2 0.4 2 0.4 2 0.4 2 0.5 2 0.4 2 0.4 2 0.5 2 0.5 2 0.4 2 0.5 2 0.5 2 0.5 2 0.5 2 0.5 2 0.5 2 0.5 2 0.5 2 0.5 2 0.6 2 0.5 2 0.5 2 0.6 2 0.5 2 0.6 2 0.5 2 0.6 2 0.5 2 0.6 2 0.5 2 0.6 2 0.5 2 0.6 2 0.6 2 0.5 2 0.6 2 0.5 2 0.6 2 0.5 2 0.6 2 0.5 2 0.6 2 0.5 2 0.5 2 0.6 2 0.5 2 0.6 2 0.5 2 0.5 2 0.5 2 0.5 2 0.6 2 0.5 2 0.5 2 0.5 2 0.5 2 0.5 2 0.5 2 0.4 2 0.5 2 0.5 2 0.5 2 0.4 2 0.5 2 0.4 2 0.5 2 0.4 2 0.4 2 0.5 2 0.4 2 0.4 2 0.4 2 0.4 2 0.4 2 0.4 2 0.4 2 0.4 2 0.4 2 0.3 2 0.4 2 0.4 2 0.3 2 0.4 2 0.3 2 0.3 2 0.4 2 0.3 2 0.3 2 0.3 2 0.3 2 0.3 2 0.3 2 0.3 2 0.3 2 0.3 2 0.3 2 0.2 2 0.3 2 0.3 2 0.2 2 0.3 2 0.2 2 0.3 2 0.2 2 0.2 2 0.2 2 0.3 2 0.2 2 0.2 2 0.2 2 0.2 2 0.2 2 0.2 2 0.2 2 0.2 2 0.1 2 0.2 2 0.2 2 0.2 2 0.1 2 0.2 2 0.2 2 0.1 2 0.2 2 0.1 2 0.2 2 0.1 2 0.1 2 0.2 2 0.1 2 0.1 2 0.2 2 0.1 2 0.1 2 0.1 2 0.2 2 0.1 2 0.1 2 0.1 2 0.1 2 0.1 2 0.1 2 0.1 2 0.1 2 0.1 2 0.1 2 0.1 2 0.1 2 0.1 2 0.1 2 0.1 2 0.1 2 0 2 0.1 2 0.1 2 0.1 2 0.1 2 0 2 0.1 2 0.1 2 0.1 2 0 2 0.1 2 0.1 2 0 2 0.1 2 0.1 2 0 2 0.1 2 0.1 2 0 2 0.1 2 0.1 2 0 2 0.1 2 0 2 0.1 2 0 2 0.1 2 0.1 2 0 2 0.1 2 0 2 0.1 2 0 2 0.1 2 0 2 0.1 2 0 2 0.1 2 0 2 0.1 2 0 2 0.1 2 0 2 0.1 2 0 2 0.1 2 0 2 0.1 2 0 2 0.1 2 0 2 0.1 L1229,908.3 1223,908.1 1217,908 1211,907.9 1205,907.8 1199,907.6 1193,907.5 1187,907.4 1181,907.3 1175,907.1 1169,907 1163,906.9 1157,906.8 1151,906.6 1145,906.5 1139,906.4 1133,906.2 1127,906.1 1121,906 1115,905.9 1109,905.7 1103,905.6 1097,905.5 1091,905.4 1085,905.2 1079,905.1 1073,905 1067,904.9 1061,904.7 1055,904.6 1049,904.5 1043,904.4 1037,904.2 1031,904.1 1025,904 1019,903.9 1013,903.7 1007,903.6 1001,903.5 995,903.4 989,903.2 983,903.1 977,903 971,902.9 965,902.7 959,902.6 953,902.5 947,902.4 941,902.2 935,902.1 929,902 923,901.9 917,901.7 911,901.6 905,901.5 899,901.3 893,901.2 887,901.1 881,901 875,900.8 869,900.7 863,900.6 857,900.5 851,900.3 845,900.2 839,900.1 833,900 827,899.8 821,899.7 815,899.6 809,899.5 803,899.3 797,899.2 791,899.1 785,899 779,898.8 773,898.7 767,898.6 761,898.5 755,898.3 749,898.2 743,898.1 737,898 731,897.8 725,897.7 719,897.6 713,897.5 707,897.3 701,897.2 695,897.1 689,897 683,896.8 677,896.7 671,896.6 665,896.4 659,896.3 653,896.2 647,896.1 641,895.9 635,895.8 629,895.7 623,895.6 617,895.4 611,895.3 605,895.2 599,895.1 593,894.9 587,894.8 581,894.7 575,894.6 569,894.5 563,894.4 557,894.3 551,894.3 545,894.2 539,894.2 533,894.1 527,894.1 521,894 515,894 509,894 503,893.9 497,893.9 491,893.9 485,893.8 479,893.8 473,893.8 467,893.7 461,893.7 455,893.7 449,893.6 443,893.6 437,893.5 431,893.5 425,893.4 419,893.3 413,893.2 407,893.1 401,893 395,892.8 389,892.7 383,892.5 377,892.3 371,892.1 365,891.9 359,891.6 353,891.3 347,891 341,890.7 335,890.3 329,889.9 323,889.4 317,888.9 311,888.4 305,887.8 299,887.4 293,886.9 287,886.5 281,886.2 275,885.9 269,885.6 263,885.4 257,885.2 251,885.1 245,884.9 239,884.9 233,884.8 227,884.7 221,884.7 215,884.6 209,884.6 203,884.5 197,884.5 191,884.5 185,884.4 179,884.4 173,884.3 167,884.3 161,884.2 155,884.2 149,884.1 143,884 137,884 131,883.9 125,883.9 119,883.8 113,883.7 107,883.7 101,883.6 95,883.6Z" fill="url(#gr)"/>
<path d="M95,878.6l0.8 1.1 0.7 1.4 0.8 0.8 0.7 -2.1 0.8 -0.6 0.8 2 0.7 0 0.8 1.2 0.7 -2.2 0.8 1 0.8 0.4 0.7 4.5 0.8 -6 0.7 0.6 0.8 0.8 0.8 -0.6 0.7 -1.2 0.8 1.2 0.7 3.1 0.8 4.4 0.8 1.2 0.7 0.2 0.8 -3.9 0.7 1 0.8 2.3 0.8 -1.2 0.7 -1.2 0.8 -0.1 0.7 0.8 0.8 -2.1 0.8 0.6 0.7 -0.9 0.8 2.8 0.7 0.3 0.8 -1.8 0.8 -2.2 0.7 2.9 0.8 3.2 0.7 -3.3 0.8 -0.6 0.8 -4 0.7 0.4 0.8 2.3 0.7 1.7 0.8 -1.1 0.8 -2.5 0.7 1.3 0.8 -8.4 0.7 1.2 0.8 6 0.8 2.1 0.7 0 0.8 -5 0.7 -1.7 0.8 0.6 0.8 2.6 0.7 3.6 0.8 -0.4 0.7 0.4 0.8 1.9 0.8 -1 0.7 0.9 0.8 1.5 0.7 -3.7 0.8 -0.2 0.8 -0.9 0.7 1.5 0.8 -3.4 0.7 -0.1 0.8 1.7 0.8 -3.2 0.7 5.6 0.8 -1.4 0.7 -2.8 0.8 -0.6 0.8 1.5 0.7 -0.5 0.8 -2.2 0.7 1.5 0.8 -0.9 0.8 1 0.7 1.7 0.8 0.6 0.7 -0.4 0.8 0.2 0.8 -0.4 0.7 1 0.8 3.9 0.7 -0.6 0.8 -5.5 0.8 -2.4 0.7 6.1 0.8 2.8 0.7 -3.4 0.8 0.2 0.8 0 0.7 0.4 0.8 -1 0.7 0.8 0.8 0.2 0.8 0.3 0.7 0.3 0.8 -1.7 0.7 3.8 0.8 -1.1 0.8 -1.2 0.7 -3.1 0.8 -2.8 0.7 2.5 0.8 -1.2 0.8 -2.6 0.7 6.7 0.8 2 0.7 -2.8 0.8 1.8 0.8 2.6 0.7 -2.5 0.8 -5.2 0.7 5.5 0.8 -3.5 0.8 2.3 0.7 3.6 0.8 -4.6 0.7 -2.2 0.8 2.1 0.8 -0.8 0.7 -2.2 0.8 5.8 0.7 -1.3 0.8 -0.8 0.8 0.5 0.7 0.9 0.8 1.7 0.7 -2.8 0.8 -1.2 0.8 1.8 0.7 0.3 0.8 -0.2 0.7 -2.5 0.8 1.8 0.8 -0.3 0.7 -2.9 0.8 1.6 0.7 -0.1 0.8 2.5 0.8 0.2 0.7 -3.6 0.8 -3.1 0.7 1.2 0.8 -0.8 0.8 1.1 0.7 4.2 0.8 -0.6 0.7 -2.5 0.8 -1.5 0.8 2.6 0.7 2.4 0.8 -1.5 0.7 -1.4 0.8 0.2 0.8 1.9 0.7 -0.8 0.8 -2.8 0.7 -3.6 0.8 4.5 0.8 0.3 0.7 -0.1 0.8 1.4 0.7 -2.7 0.8 1.4 0.8 -0.4 0.7 -2.4 0.8 2.3 0.7 2.2 0.8 2.1 0.8 -0.7 0.7 -0.9 0.8 -0.1 0.7 -4.8 0.8 1.7 0.8 0.5 0.7 2.7 0.8 2.2 0.7 -2 0.8 -0.7 0.8 -0.4 0.7 -0.3 0.8 -4.6 0.7 1.2 0.8 -1.5 0.8 1.2 0.7 3.3 0.8 1.1 0.7 -0.6 0.8 2.1 0.8 -1.2 0.7 -0.3 0.8 0.6 0.7 0.8 0.8 2.3 0.8 -0.5 0.7 -3.1 0.8 -0.7 0.7 -0.3 0.8 1.5 0.8 0 0.7 -0.8 0.8 -2.6 0.7 1.7 0.8 -1.2 0.8 -0.6 0.7 2 0.8 0.5 0.7 1.8 0.8 0.4 0.8 -0.4 0.7 1.1 0.8 0 0.7 -0.9 0.8 -0.5 0.8 3.5 0.7 1 0.8 -0.8 0.7 -4.1 0.8 -0.7 0.8 2.5 0.7 1.3 0.8 -1.1 0.7 0.5 0.8 -3.3 0.8 0.7 0.7 -4 0.8 0.7 0.7 0.6 0.8 2.5 0.8 -1.4 0.7 1 0.8 1.4 0.7 -1.7 0.8 1.5 0.8 -1.7 0.7 2.6 0.8 -3.5 0.7 -0.6 0.8 3.8 0.8 1.3 0.7 -4.5 0.8 4.1 0.7 1.3 0.8 -2.6 0.8 -3.9 0.7 0.3 0.8 1.8 0.7 -3.2 0.8 5.7 0.8 1.5 0.7 -5.6 0.8 -0.1 0.7 3.3 0.8 -0.9 0.8 1.8 0.7 -1.4 0.8 -0.2 0.7 1.3 0.8 2 0.8 0 0.7 -0.6 0.8 2.7 0.7 0.5 0.8 -2.6 0.8 -4.6 0.7 0.7 0.8 1.8 0.7 2.4 0.8 1.4 0.8 -2.1 0.7 2.1 0.8 -2.8 0.7 2 0.8 -0.2 0.8 1.1 0.7 2.6 0.8 -2.1 0.7 1.1 0.8 2.7 0.8 -3.2 0.7 -4.2 0.8 -0.3 0.7 1.5 0.8 1.6 0.8 -0.7 0.7 -3.7 0.8 0.2 0.7 0.7 0.8 2.8 0.8 1.1 0.7 -0.8 0.8 0.6 0.7 -1.2 0.8 0.6 0.8 2.3 0.7 -1.6 0.8 -3.1 0.7 0.4 0.8 2.5 0.8 -1.9 0.7 -1.4 0.8 1 0.7 -2.4 0.8 1.6 0.8 -0.5 0.7 2.1 0.8 3.1 0.7 -3.8 0.8 -3.9 0.8 -0.8 0.7 3.5 0.8 0 0.7 -1.5 0.8 1.7 0.8 1.4 0.7 -1.2 0.8 2.1 0.7 1.6 0.8 -0.7 0.8 2.8 0.7 -3.3 0.8 -0.3 0.7 3.8 0.8 -2.1 0.8 -1.5 0.7 0 0.8 2.1 0.7 -1.6 0.8 -1 0.8 -2.6 0.7 0.5 0.8 1.4 0.7 -1.5 0.8 1.8 0.8 2.8 0.7 -1 0.8 0.1 0.7 -3.1 0.8 1.5 0.8 -0.9 0.7 1 0.8 -2.6 0.7 2.2 0.8 2.2 0.8 -0.9 0.7 -0.3 0.8 -2.1 0.7 -3.6 0.8 2.2 0.8 2 0.7 3.2 0.8 -1.1 0.7 -1.5 0.8 3.5 0.8 -0.8 0.7 -2.6 0.8 4.9 0.7 1.1 0.8 3.9 0.8 -3.5 0.7 -4.7 0.8 4 0.7 -0.6 0.8 -1 0.8 1.5 0.7 0.8 0.8 -2 0.7 -0.9 0.8 2.8 0.8 -0.5 0.7 -2.2 0.8 3.4 0.7 -1.1 0.8 3.2 0.8 -0.9 0.7 -3.4 0.8 -0.1 0.7 -2.9 0.8 0.3 0.8 -3.2 0.7 1.2 0.8 3.1 0.7 2.3 0.8 1.1 0.8 0.7 0.7 -0.9 0.8 -3.1 0.7 -0.5 0.8 -0.8 0.8 0.1 0.7 -3 0.8 2.3 0.7 4.6 0.8 -1.5 0.8 -1.4 0.7 2.5 0.8 0 0.7 -0.8 0.8 -1 0.8 -0.9 0.7 1.8 0.8 0.8 0.7 0.7 0.8 2.4 0.8 -2 0.7 0.5 0.8 1.9 0.7 -1.9 0.8 -5.3 0.8 1.9 0.7 -1.2 0.8 0.7 0.7 3.7 0.8 1.4 0.8 -3.7 0.7 -5.6 0.8 2.4 0.7 1.1 0.8 0.6 0.8 3.4 0.7 -1.5 0.8 -0.9 0.7 -1.2 0.8 0.3 0.8 -2.8 0.7 -2.6 0.8 1.5 0.7 -1.4 0.8 -2.3 0.8 -0.4 0.7 3 0.8 2.9 0.7 3.7 0.8 -3.6 0.8 -0.5 0.7 2.2 0.8 1.6 0.7 -2.9 0.8 2.2 0.8 4.2 0.7 0.5 0.8 -5.2 0.7 -2.3 0.8 2.6 0.8 1.2 0.7 2.3 0.8 -0.4 0.7 -2.4 0.8 -1.9 0.8 1.4 0.7 -1.9 0.8 -0.1 0.7 3 0.8 4.7 0.8 0.5 0.7 -2.3 0.8 -5.5 0.7 2.3 0.8 -1.3 0.8 2 0.7 1.2 0.8 -1.1 0.7 -3.4 0.8 -0.9 0.8 3.2 0.7 0.5 0.8 -4.4 0.7 -1.3 0.8 1.1 0.8 0.3 0.7 3.2 0.8 1.3 0.7 -0.6 0.8 -2.6 0.8 -0.5 0.7 1.6 0.8 1.8 0.7 1.5 0.8 -1.1 0.8 -1.7 0.7 1.3 0.8 0.1 0.7 -2.4 0.8 -1.6 0.8 2.8 0.7 1.8 0.8 -1 0.7 -2.7 0.8 2.2 0.8 0.2 0.7 -0.5 0.8 0 0.7 -0.6 0.8 0.2 0.8 1.9 0.7 0 0.8 -0.5 0.7 -1.9 0.8 2.7 0.8 1.8 0.7 -4.6 0.8 0.3 0.7 -0.4 0.8 -0.1 0.8 -0.6 0.7 -2.5 0.8 1.6 0.7 -0.6 0.8 -1.7 0.8 2 0.7 2.2 0.8 0.6 0.7 -2.1 0.8 1.5 0.8 -1.1 0.7 -0.1 0.8 5.6 0.7 -1.5 0.8 -2 0.8 -2.5 0.7 -0.3 0.8 -0.3 0.7 3 0.8 -3.5 0.8 0.6 0.7 1.8 0.8 -0.8 0.7 1.6 0.8 -0.8 0.8 -0.9 0.7 -1.1 0.8 -2.7 0.7 4.6 0.8 0.5 0.8 -1 0.7 -1.4 0.8 -2.3 0.7 0.9 0.8 -1.6 0.8 -0.4 0.7 -0.9 0.8 1.8 0.7 2.8 0.8 -1.2 0.8 -3 0.7 0.6 0.8 3.6 0.7 -0.8 0.8 2.3 0.8 2.3 0.7 -1.7 0.8 -4.8 0.7 -1.3 0.8 6.1 0.8 -3.9 0.7 -0.9 0.8 1.9 0.7 1.4 0.8 1.3 0.8 -2.5 0.7 -0.4 0.8 2.2 0.7 -1.2 0.8 4.4 0.8 -6 0.7 1.4 0.8 2.4 0.7 -2.6 0.8 -3.2 0.8 3 0.7 2.1 0.8 -3.7 0.7 -2.1 0.8 1.5 0.8 -2.3 0.7 4.3 0.8 1.3 0.7 -1.9 0.8 -2.1 0.8 3.8 0.7 1.3 0.8 -1.4 0.7 -3.2 0.8 0.2 0.8 -1.3 0.7 2.4 0.8 -2.9 0.7 -1.9 0.8 2.2 0.8 1.9 0.7 -0.7 0.8 -0.6 0.7 -0.9 0.8 1.8 0.8 0.2 0.7 0.1 0.8 -0.7 0.7 -0.7 0.8 -0.6 0.8 2.9 0.7 -5.1 0.8 2.3 0.7 1.3 0.8 -5.3 0.8 0.1 0.7 6.2 0.8 4.6 0.7 -2.5 0.8 -3.6 0.8 -1 0.7 -0.6 0.8 -1.4 0.7 1.4 0.8 2.3 0.8 -1.9 0.7 0.5 0.8 0 0.7 -3.1 0.8 -0.2 0.8 0.6 0.7 -1.4 0.8 1.6 0.7 1.4 0.8 -1.5 0.8 -2.4 0.7 3.3 0.8 0.5 0.7 -0.1 0.8 -1.5 0.8 1.9 0.7 -0.2 0.8 -1.5 0.7 -0.7 0.8 -0.2 0.8 -2.6 0.7 2.8 0.8 0.2 0.7 1.3 0.8 -4.4 0.8 1.9 0.7 2.4 0.8 0.1 0.7 -0.6 0.8 1.8 0.8 -1.8 0.7 0.8 0.8 -1 0.7 -1.3 0.8 -1.5 0.8 -0.4 0.7 0.4 0.8 0.9 0.7 -2.1 0.8 -1 0.8 2.4 0.7 -0.4 0.8 0.1 0.7 -0.3 0.8 2.4 0.8 -1.3 0.7 -1.1 0.8 0.5 0.7 0.9 0.8 -1.1 0.8 0.4 0.7 -0.9 0.8 2 0.7 -4.4 0.8 -5.6 0.8 5.5 0.7 -0.3 0.8 0 0.7 0 0.8 -6.2 0.8 1.1 0.7 3.2 0.8 -0.5 0.7 3.3 0.8 0.2 0.8 -1.6 0.7 0.5 0.8 -4.5 0.7 2.5 0.8 2.7 0.8 0.7 0.7 -1.3 0.8 0.5 0.7 -2.3 0.8 -1.6 0.8 1.6 0.7 4.4 0.8 -0.3 0.7 -3.6 0.8 -0.6 0.8 -0.8 0.7 -3.5 0.8 1.2 0.7 1.2 0.8 -1.4 0.8 0 0.7 -1.4 0.8 2.2 0.7 2 0.8 -1.1 0.8 0.3 0.7 -2.3 0.8 -1.6 0.7 0.3 0.8 -3.1 0.8 1.1 0.7 1 0.8 0.1 0.7 1.1 0.8 -1.2 0.8 2.8 0.7 0.2 0.8 -1.8 0.7 -2 0.8 -0.4 0.8 3.1 0.7 0.7 0.8 4.8 0.7 -1.8 0.8 -0.9 0.8 -3.9 0.7 0.5 0.8 -1.4 0.7 -2.7 0.8 3.9 0.8 -0.3 0.7 -0.1 0.8 1.1 0.7 0.7 0.8 -0.6 0.8 0.3 0.7 -4 0.8 0.8 0.7 -2.3 0.8 0.9 0.8 2.8 0.7 -0.6 0.8 -0.8 0.7 0 0.8 1.1 0.8 1 0.7 -1.7 0.8 -2 0.7 1.3 0.8 -1.3 0.8 -0.2 0.7 -0.1 0.8 0.7 0.7 -1.8 0.8 -2.6 0.8 -2.9 0.7 0.1 0.8 2.5 0.7 -0.7 0.8 1.9 0.8 -0.8 0.7 -0.1 0.8 0.9 0.7 4.5 0.8 -1.9 0.8 -1.3 0.7 -1.2 0.8 -5.1 0.7 2.8 0.8 5 0.8 0.2 0.7 -4.8 0.8 -3.6 0.7 1.5 0.8 3.2 0.8 -0.4 0.7 1 0.8 -2.3 0.7 0 0.8 0.1 0.8 -1.7 0.7 -1.4 0.8 -0.7 0.7 0.6 0.8 0.8 0.8 1.3 0.7 -2 0.8 -2.3 0.7 -1.4 0.8 0.7 0.8 2.3 0.7 0.5 0.8 1.6 0.7 -2.5 0.8 -0.3 0.8 3.3 0.7 0.1 0.8 -1.1 0.7 -4.4 0.8 1 0.8 0.7 0.7 -1.6 0.8 -4.4 0.7 3.1 0.8 1.2 0.8 1.3 0.7 -2.1 0.8 -0.3 0.7 -0.7 0.8 -1 0.8 3.8 0.7 2.1 0.8 -3.8 0.7 3.7 0.8 0.1 0.8 -6 0.7 -1.2 0.8 0.9 0.7 -0.1 0.8 0 0.8 -0.6 0.7 1.3 0.8 1.7 0.7 0.2 0.8 -2.6 0.8 -1.6 0.7 2.6 0.8 0.1 0.7 -2.2 0.8 0.9 0.8 -2.4 0.7 0.3 0.8 1.5 0.7 0.1 0.8 1.6 0.8 -1.9 0.7 0.4 0.8 0.5 0.7 -3.9 0.8 3.3 0.8 1.4 0.7 -1.9 0.8 0.8 0.7 -3.9 0.8 -1 0.8 0.3 0.7 4.2 0.8 -3.3 0.7 0.1 0.8 -2.9 0.8 2.7 0.7 -3.3 0.8 -0.8 0.7 -2.8 0.8 2.9 0.8 4.3 0.7 -1.9 0.8 5.5 0.7 1.7 0.8 -5.1 0.8 -3.2 0.7 1.5 0.8 0.3 0.7 -4.1 0.8 1.7 0.8 2 0.7 -0.6 0.8 -4 0.7 2.4 0.8 1.6 0.8 1.7 0.7 -0.7 0.8 1.1 0.7 -1.1 0.8 -1.1 0.8 6 0.7 -2.5 0.8 -2.2 0.7 -0.7 0.8 2.6 0.8 -2.3 0.7 -0.4 0.8 -1.3 0.7 -2.2 0.8 -3.1 0.8 2.1 0.7 4.3 0.8 -2.7 0.7 -3 0.8 -1.1 0.8 -0.1 0.7 0.7 0.8 1.2 0.7 2.5 0.8 -1.3 0.8 0 0.7 -6 0.8 0.1 0.7 -3.1 0.8 -0.2 0.8 4 0.7 -1.7 0.8 2.6 0.7 0.2 0.8 3.7 0.8 -0.5 0.7 -5 0.8 2.6 0.7 -0.8 0.8 -0.3 0.8 -1.5 0.7 2.6 0.8 -0.4 0.7 -3.3 0.8 -4.4 0.8 -0.9 0.7 6.2 0.8 -0.9 0.7 -3.6 0.8 1.9 0.8 5.7 0.7 -5.4 0.8 1.4 0.7 2.8 0.8 1.1 0.8 -4.4 0.7 -2.4 0.8 -3.5 0.7 1.4 0.8 -1.6 0.8 -3.1 0.7 0.2 0.8 4.9 0.7 1.9 0.8 2.2 0.8 -5.7 0.7 -2.3 0.8 7.7 0.7 0.3 0.8 0.8 0.8 -4 0.7 0.6 0.8 3.1 0.7 -3.6 0.8 0.3 0.8 0.7 0.7 1.6 0.8 -0.6 0.7 -3.4 0.8 1.4 0.8 -2.1 0.7 -0.9 0.8 0.3 0.7 0.7 0.8 -2.1 0.8 -0.5 0.7 -3.2 0.8 -2.2 0.7 0.7 0.8 2.8 0.8 0.3 0.7 -0.9 0.8 -3 0.7 0.6 0.8 1.9 0.8 1.4 0.7 -1 0.8 -2.5 0.7 -2 0.8 -1.8 0.8 2.2 0.7 3.1 0.8 -2.4 0.7 -1.1 0.8 2.8 0.8 4 0.7 -5.7 0.8 -3 0.7 -2 0.8 0.2 0.8 4.7 0.7 0.3 0.8 -1.8 0.7 1.2 0.8 -0.3 0.8 -2.7 0.7 1.4 0.8 0.1 0.7 -4.2 0.8 1.4 0.8 -0.1 0.7 -1.8 0.8 7.1 0.7 -0.3 0.8 -0.8 0.8 -5.9 0.7 1.8 0.8 2.5 0.7 -1.6 0.8 2.8 0.8 -4.9 0.7 0.2 0.8 -1 0.7 -2.3 0.8 2.2 0.8 0.6 0.7 -1.9 0.8 1.3 0.7 3.2 0.8 0.1 0.8 -1 0.7 0.2 0.8 0.1 0.7 -3.6 0.8 -2 0.8 0.9 0.7 -0.3 0.8 -1.5 0.7 1.2 0.8 0.7 0.8 0.3 0.7 -3 0.8 2.4 0.7 -3 0.8 -2.3 0.8 4.1 0.7 -0.3 0.8 -1.7 0.7 -1.7 0.8 2.8 0.8 -2.7 0.7 -0.2 0.8 2.8 0.7 2.3 0.8 -1.2 0.8 -0.7 0.7 -1.1 0.8 2.7 0.7 -1.2 0.8 2.5 0.8 3.7 0.7 -5.1 0.8 -4.2 0.7 -1.3 0.8 0.7 0.8 1.1 0.7 3.4 0.8 2.5 0.7 -2 0.8 -0.5 0.8 1.4 0.7 -1.8 0.8 1.6 0.7 3.3 0.8 0.8 0.8 -2.7 0.7 -0.6 0.8 0.4 0.7 2.3 0.8 2.3 0.8 -3.1 0.7 -2.3 0.8 4 0.7 1.2 0.8 0.2 0.8 -1 0.7 -2.6 0.8 -0.7 0.7 3.1 0.8 -0.1 0.8 1.5 0.7 1.5 0.8 -5.4 0.7 -0.7 0.8 1.6 0.8 2.7 0.7 2.5 0.8 1.3 0.7 -0.5 0.8 3.2 0.8 -1.2 0.7 2.1 0.8 2.2 0.7 -1.4 0.8 -3.1 0.8 0.2 0.7 1.6 0.8 0.2 0.7 -3.7 0.8 -0.2 0.8 2.4 0.7 3.8 0.8 -0.7 0.7 -1.4 0.8 -2.6 0.8 0.5 0.7 3.3 0.8 -0.8 0.7 2.9 0.8 -1.9 0.8 2 0.7 1.9 0.8 0.1 0.7 0.1 0.8 3.5 0.8 -3 0.7 -0.1 0.8 -0.2 0.7 3.2 0.8 1.9 0.8 0.6 0.7 -0.4 0.8 1.1 0.7 -2.2 0.8 2 0.8 2.1 0.7 -4.2 0.8 1.8 0.7 5.4 0.8 0.3 0.8 -1 0.7 0.8 0.8 3 0.7 -1.7 0.8 -2.8 0.8 -1.8 0.7 2.5 0.8 -0.7 0.7 1.8 0.8 1.2 0.8 3.9 0.7 -1.8 0.8 2.1 0.7 2.4 0.8 -5.2 0.8 1.8 0.7 0.8 0.8 6 0.7 -0.6 0.8 -1.1 0.8 1 0.7 1.9 0.8 0.2 0.7 0 0.8 1.8 0.8 0.7 0.7 2 0.8 -4.6 0.7 1.1 0.8 3.4 0.8 0.6 0.7 -1.2 0.8 3.7 0.7 1.2 0.8 1 0.8 -2.5 0.7 1.9 0.8 -1.3 0.7 0.9 0.8 0.9 0.8 -1.9 0.7 1.1 0.8 3.5 0.7 -3.4 0.8 2.7 0.8 3 0.7 0.5 0.8 -3.2 0.7 -0.7 0.8 4.1 0.8 -1.2 0.7 0.9 0.8 -0.8 0.7 -0.6 0.8 2.2 0.8 1 0.7 -0.8 0.8 5.6 0.7 -0.4 0.8 3.4 0.8 -0.5 0.7 -3.2 0.8 0.4 0.7 0 0.8 1.2 0.8 1.1 0.7 1.2 0.8 0.6 0.7 -0.5 0.8 -1.9 0.8 -1.1 0.7 3.1 0.8 0.5 0.7 0.9 0.8 -1.9 0.8 0.5 0.7 -1.4 0.8 2 0.7 0 0.8 2.7 0.8 4.5 0.7 -2.5 0.8 -2.1 0.7 0.7 0.8 0 0.8 0.2 0.7 0.5 0.8 0.3 0.7 0.8 0.8 2.5 0.8 1.2 0.7 1.3 0.8 -1.9 0.7 0.5 0.8 2.3 0.8 -5.9 0.7 1.8 0.8 1.6 0.7 0.1 0.8 -2.2 0.8 -0.3 0.7 -1.3 0.8 1 0.7 -0.6 0.8 4.8 0.8 -0.6 0.7 -0.5 0.8 4.5 0.7 -1.6 0.8 -1.3 0.8 2.6 0.7 -1.5 0.8 -2 0.7 4.4 0.8 2.5 0.8 -5.3 0.7 1.5 0.8 2.7 0.7 0 0.8 0.4 0.8 -1.3 0.7 2 0.8 -1.9 0.7 -0.4 0.8 0.8 0.8 -0.9 0.7 -0.2 0.8 0 0.7 -0.4 0.8 0.2 0.8 0.1 0.7 3.8 0.8 -0.5 0.7 -3.9 0.8 2.3 0.8 1.4 0.7 -1.1 0.8 2 0.7 -1 0.8 0.3 0.8 -1.2 0.7 1.6 0.8 1.2 0.7 3.7 0.8 -1.5 0.8 -3.6 0.7 -1.2 0.8 0 0.7 -0.7 0.8 -3.6 0.8 3.7 0.7 2.5 0.8 -1.2 0.7 -2.7 0.8 -1.3 0.8 1.2 0.7 6.5 0.8 0.1 0.7 -0.2 0.8 -3.5 0.8 -2.3 0.7 -0.9 0.8 2.8 0.7 -2.1 0.8 1.9 0.8 5.1 0.7 1.5 0.8 -2.2 0.7 1.6 0.8 -0.3 0.8 -0.3 0.7 -2.7 0.8 2.4 0.7 0.6 0.8 0.2 0.8 -0.2 0.7 -0.3 0.8 0.2 0.7 -1.7 0.8 1.3 0.8 -1.1 0.7 1.6 0.8 -0.4 0.7 -0.6 0.8 0.3 0.8 0.6 0.7 1.8 0.8 -2.2 0.7 1.1 0.8 1.3 0.8 2.6 0.7 -2.8 0.8 -4.6 0.7 -0.6 0.8 2.9 0.8 1.3 0.7 -0.9 0.8 1.6 0.7 -5 0.8 -1 0.8 3.3 0.7 3.5 0.8 0.9 0.7 -1 0.8 1.8 0.8 -1.6 0.7 -1 0.8 2.5 0.7 -2.2 0.8 -2.2 0.8 1.1 0.7 -1 0.8 3.3 0.7 -2.1 0.8 -2 0.8 5.4 0.7 -0.4 0.8 -1.5 0.7 1.5 0.8 1.4 0.8 -0.7 0.7 0.9 0.8 1.4 0.7 -2.2 0.8 1.1 0.8 2.9 0.7 -3.6 0.8 -1.5 0.7 1.7 0.8 1.1 0.8 -3.1 0.7 -0.3 0.8 0.4 0.7 4 0.8 -0.7 0.8 -2.1 0.7 -0.5 0.8 -4.8 0.7 0.2 0.8 2.7 0.8 1 0.7 -4.5 0.8 1.9 0.7 -0.3 0.8 -0.1 0.8 0.3 0.7 -0.9 0.8 3.7 0.7 -2.2 0.8 0.3 0.8 -2.2 0.7 -0.2 0.8 -0.1 0.7 7 0.8 3.2 0.8 -4 0.7 0.7 0.8 2.7 0.7 -3.6 0.8 0.4 0.8 -0.5 0.7 2.6 0.8 0.2 0.7 0.9 0.8 -1.3 0.8 -4.5 0.7 -0.2 0.8 1.6 0.7 0.5 0.8 -1.1 0.8 1 0.7 0.1 0.8 -2 0.7 0.3 0.8 -0.6 0.8 0 0.7 5.4 0.8 2.6 0.7 -2 0.8 3.6 0.8 0.3 0.7 -4 0.8 -0.3 0.7 0.6 0.8 3.2 0.8 0.6 0.7 -4.2 0.8 -2.3 0.7 3.2 0.8 2.7 0.8 -1.5 0.7 -2.1 0.8 -2.6 0.7 3.2 0.8 -0.8 0.8 0.1 0.7 -0.1 0.8 -1.7 0.7 -1 0.8 1.9 0.8 1.7 0.7 1.2 0.8 -4.3 0.7 -1.6 0.8 4.7 0.8 -1.6 0.7 -4.4 0.8 -0.3 0.7 1.1 0.8 1.8 0.8 -1.8 0.7 1.5 0.8 -2.2 0.7 -1.8 0.8 0.9 0.8 -2.2 0.7 2.5 0.8 3 0.7 -1.4 0.8 0.2 0.8 -0.7 0.7 1.4 0.8 -2.2 0.7 2.4 0.8 2.1 0.8 -1.4 0.7 1.9 0.8 -0.3 0.7 -0.6 0.8 -2.4 0.8 0.1 0.7 -1.6 0.8 0.1 0.7 1 0.8 2.6 0.8 1.2 0.7 -4 0.8 2.5 0.7 -6.2 0.8 0.5 0.8 7.6 0.7 0.3 0.8 -2.4 0.7 -0.7 0.8 -1.7 0.8 -3.3 0.7 4 0.8 -1.9 0.7 -2.7 0.8 4.7 0.8 2 0.7 1.2 0.8 -0.9 0.7 -2.4 0.8 0.9 0.8 -0.8 0.7 1 0.8 2.6 0.7 -4.6 0.8 -4.3 0.8 2.7 0.7 -0.7 0.8 2 0.7 4.9 0.8 -1.3 0.8 -2.7 0.7 1.2" fill="none" stroke="#444444" stroke-width="3.6" stroke-linejoin="round"/>
<path d="M95,883.6l2 0 2 0 2 0 2 0 2 0.1 2 0 2 0 2 0 2 0 2 0.1 2 0 2 0 2 0 2 0 2 0.1 2 0 2 0 2 0 2 0 2 0.1 2 0 2 0 2 0 2 0 2 0.1 2 0 2 0 2 0 2 0.1 2 0 2 0 2 0 2 0 2 0 2 0.1 2 0 2 0 2 0 2 0 2 0 2 0.1 2 0 2 0 2 0 2 0 2 0 2 0 2 0.1 2 0 2 0 2 0 2 0 2 0 2 0 2 0 2 0.1 2 0 2 0 2 0 2 0 2 0 2 0 2 0.1 2 0 2 0 2 0 2 0 2 0 2 0.1 2 0 2 0 2 0 2 0.1 2 0 2 0 2 0.1 2 0 2 0.1 2 0 2 0 2 0.1 2 0.1 2 0 2 0.1 2 0 2 0.1 2 0.1 2 0.1 2 0 2 0.1 2 0.1 2 0.1 2 0.1 2 0.1 2 0.2 2 0.1 2 0.1 2 0.1 2 0.2 2 0.1 2 0.2 2 0.1 2 0.2 2 0.1 2 0.2 2 0.2 2 0.1 2 0.2 2 0.2 2 0.1 2 0.2 2 0.2 2 0.1 2 0.2 2 0.2 2 0.1 2 0.2 2 0.1 2 0.2 2 0.1 2 0.1 2 0.2 2 0.1 2 0.1 2 0.1 2 0.1 2 0.1 2 0.1 2 0.1 2 0.1 2 0.1 2 0 2 0.1 2 0.1 2 0 2 0.1 2 0.1 2 0 2 0.1 2 0.1 2 0 2 0.1 2 0 2 0.1 2 0 2 0.1 2 0 2 0 2 0.1 2 0 2 0 2 0.1 2 0 2 0 2 0.1 2 0 2 0 2 0 2 0 2 0 2 0 2 0 2 0 2 0 2 0 2 0 2 0 2 0 2 -0.1 2 0 2 0 2 0 2 -0.1 2 0 2 0 2 -0.1 2 0 2 -0.1 2 0 2 -0.1 2 0 2 -0.1 2 0 2 -0.1 2 0 2 -0.1 2 -0.1 2 0 2 -0.1 2 -0.1 2 0 2 -0.1 2 -0.1 2 -0.1 2 -0.1 2 0 2 -0.1 2 -0.1 2 -0.1 2 -0.1 2 -0.1 2 -0.1 2 -0.2 2 -0.1 2 -0.1 2 -0.1 2 -0.1 2 -0.2 2 -0.1 2 -0.1 2 -0.2 2 -0.1 2 -0.2 2 -0.1 2 -0.2 2 -0.2 2 -0.1 2 -0.2 2 -0.2 2 -0.1 2 -0.2 2 -0.2 2 -0.2 2 -0.2 2 -0.2 2 -0.2 2 -0.2 2 -0.2 2 -0.3 2 -0.2 2 -0.2 2 -0.2 2 -0.3 2 -0.2 2 -0.3 2 -0.2 2 -0.3 2 -0.2 2 -0.3 2 -0.3 2 -0.2 2 -0.3 2 -0.3 2 -0.3 2 -0.3 2 -0.3 2 -0.3 2 -0.3 2 -0.3 2 -0.3 2 -0.4 2 -0.3 2 -0.3 2 -0.4 2 -0.3 2 -0.4 2 -0.3 2 -0.4 2 -0.4 2 -0.3 2 -0.4 2 -0.4 2 -0.4 2 -0.4 2 -0.4 2 -0.4 2 -0.4 2 -0.4 2 -0.4 2 -0.5 2 -0.4 2 -0.4 2 -0.5 2 -0.4 2 -0.4 2 -0.5 2 -0.4 2 -0.5 2 -0.5 2 -0.4 2 -0.5 2 -0.4 2 -0.5 2 -0.5 2 -0.4 2 -0.5 2 -0.5 2 -0.4 2 -0.5 2 -0.5 2 -0.5 2 -0.4 2 -0.5 2 -0.5 2 -0.4 2 -0.5 2 -0.5 2 -0.4 2 -0.5 2 -0.5 2 -0.4 2 -0.5 2 -0.4 2 -0.5 2 -0.4 2 -0.4 2 -0.5 2 -0.4 2 -0.4 2 -0.4 2 -0.4 2 -0.4 2 -0.4 2 -0.4 2 -0.4 2 -0.3 2 -0.4 2 -0.3 2 -0.4 2 -0.3 2 -0.3 2 -0.3 2 -0.3 2 -0.3 2 -0.3 2 -0.2 2 -0.3 2 -0.2 2 -0.2 2 -0.2 2 -0.2 2 -0.2 2 -0.1 2 -0.2 2 -0.1 2 -0.1 2 -0.1 2 -0.1 2 -0.1 2 0 2 0 2 0 2 0 2 0.1 2 0.1 2 0.1 2 0.1 2 0.2 2 0.1 2 0.2 2 0.2 2 0.3 2 0.2 2 0.2 2 0.3 2 0.3 2 0.3 2 0.3 2 0.3 2 0.4 2 0.3 2 0.4 2 0.3 2 0.4 2 0.4 2 0.4 2 0.4 2 0.5 2 0.4 2 0.4 2 0.5 2 0.5 2 0.4 2 0.5 2 0.5 2 0.5 2 0.5 2 0.5 2 0.5 2 0.5 2 0.5 2 0.5 2 0.6 2 0.5 2 0.5 2 0.6 2 0.5 2 0.6 2 0.5 2 0.6 2 0.5 2 0.6 2 0.5 2 0.6 2 0.5 2 0.6 2 0.6 2 0.5 2 0.6 2 0.5 2 0.6 2 0.5 2 0.6 2 0.5 2 0.6 2 0.5 2 0.5 2 0.6 2 0.5 2 0.6 2 0.5 2 0.5 2 0.5 2 0.5 2 0.6 2 0.5 2 0.5 2 0.5 2 0.5 2 0.5 2 0.5 2 0.4 2 0.5 2 0.5 2 0.5 2 0.4 2 0.5 2 0.4 2 0.5 2 0.4 2 0.4 2 0.5 2 0.4 2 0.4 2 0.4 2 0.4 2 0.4 2 0.4 2 0.4 2 0.4 2 0.4 2 0.3 2 0.4 2 0.4 2 0.3 2 0.4 2 0.3 2 0.3 2 0.4 2 0.3 2 0.3 2 0.3 2 0.3 2 0.3 2 0.3 2 0.3 2 0.3 2 0.3 2 0.3 2 0.2 2 0.3 2 0.3 2 0.2 2 0.3 2 0.2 2 0.3 2 0.2 2 0.2 2 0.2 2 0.3 2 0.2 2 0.2 2 0.2 2 0.2 2 0.2 2 0.2 2 0.2 2 0.2 2 0.1 2 0.2 2 0.2 2 0.2 2 0.1 2 0.2 2 0.2 2 0.1 2 0.2 2 0.1 2 0.2 2 0.1 2 0.1 2 0.2 2 0.1 2 0.1 2 0.2 2 0.1 2 0.1 2 0.1 2 0.2 2 0.1 2 0.1 2 0.1 2 0.1 2 0.1 2 0.1 2 0.1 2 0.1 2 0.1 2 0.1 2 0.1 2 0.1 2 0.1 2 0.1 2 0.1 2 0.1 2 0 2 0.1 2 0.1 2 0.1 2 0.1 2 0 2 0.1 2 0.1 2 0.1 2 0 2 0.1 2 0.1 2 0 2 0.1 2 0.1 2 0 2 0.1 2 0.1 2 0 2 0.1 2 0.1 2 0 2 0.1 2 0 2 0.1 2 0 2 0.1 2 0.1 2 0 2 0.1 2 0 2 0.1 2 0 2 0.1 2 0 2 0.1 2 0 2 0.1 2 0 2 0.1 2 0 2 0.1 2 0 2 0.1 2 0 2 0.1 2 0 2 0.1 2 0 2 0.1 2 0 2 0.1 L1229,908.3 1223,908.1 1217,908 1211,907.9 1205,907.8 1199,907.6 1193,907.5 1187,907.4 1181,907.3 1175,907.1 1169,907 1163,906.9 1157,906.8 1151,906.6 1145,906.5 1139,906.4 1133,906.2 1127,906.1 1121,906 1115,905.9 1109,905.7 1103,905.6 1097,905.5 1091,905.4 1085,905.2 1079,905.1 1073,905 1067,904.9 1061,904.7 1055,904.6 1049,904.5 1043,904.4 1037,904.2 1031,904.1 1025,904 1019,903.9 1013,903.7 1007,903.6 1001,903.5 995,903.4 989,903.2 983,903.1 977,903 971,902.9 965,902.7 959,902.6 953,902.5 947,902.4 941,902.2 935,902.1 929,902 923,901.9 917,901.7 911,901.6 905,901.5 899,901.3 893,901.2 887,901.1 881,901 875,900.8 869,900.7 863,900.6 857,900.5 851,900.3 845,900.2 839,900.1 833,900 827,899.8 821,899.7 815,899.6 809,899.5 803,899.3 797,899.2 791,899.1 785,899 779,898.8 773,898.7 767,898.6 761,898.5 755,898.3 749,898.2 743,898.1 737,898 731,897.8 725,897.7 719,897.6 713,897.5 707,897.3 701,897.2 695,897.1 689,897 683,896.8 677,896.7 671,896.6 665,896.4 659,896.3 653,896.2 647,896.1 641,895.9 635,895.8 629,895.7 623,895.6 617,895.4 611,895.3 605,895.2 599,895.1 593,894.9 587,894.8 581,894.7 575,894.6 569,894.5 563,894.4 557,894.3 551,894.3 545,894.2 539,894.2 533,894.1 527,894.1 521,894 515,894 509,894 503,893.9 497,893.9 491,893.9 485,893.8 479,893.8 473,893.8 467,893.7 461,893.7 455,893.7 449,893.6 443,893.6 437,893.5 431,893.5 425,893.4 419,893.3 413,893.2 407,893.1 401,893 395,892.8 389,892.7 383,892.5 377,892.3 371,892.1 365,891.9 359,891.6 353,891.3 347,891 341,890.7 335,890.3 329,889.9 323,889.4 317,888.9 311,888.4 305,887.8 299,887.4 293,886.9 287,886.5 281,886.2 275,885.9 269,885.6 263,885.4 257,885.2 251,885.1 245,884.9 239,884.9 233,884.8 227,884.7 221,884.7 215,884.6 209,884.6 203,884.5 197,884.5 191,884.5 185,884.4 179,884.4 173,884.3 167,884.3 161,884.2 155,884.2 149,884.1 143,884 137,884 131,883.9 125,883.9 119,883.8 113,883.7 107,883.7 101,883.6 95,883.6Z" fill="url(#gro)" fill-opacity="0.5"/>
<path d="M95,883.6l2 0 2 0 2 0 2 0 2 0.1 2 0 2 0 2 0 2 0 2 0.1 2 0 2 0 2 0 2 0 2 0.1 2 0 2 0 2 0 2 0 2 0.1 2 0 2 0 2 0 2 0 2 0.1 2 0 2 0 2 0 2 0.1 2 0 2 0 2 0 2 0 2 0 2 0.1 2 0 2 0 2 0 2 0 2 0 2 0.1 2 0 2 0 2 0 2 0 2 0 2 0 2 0.1 2 0 2 0 2 0 2 0 2 0 2 0 2 0 2 0.1 2 0 2 0 2 0 2 0 2 0 2 0 2 0.1 2 0 2 0 2 0 2 0 2 0 2 0.1 2 0 2 0 2 0 2 0.1 2 0 2 0 2 0.1 2 0 2 0.1 2 0 2 0 2 0.1 2 0.1 2 0 2 0.1 2 0 2 0.1 2 0.1 2 0.1 2 0 2 0.1 2 0.1 2 0.1 2 0.1 2 0.1 2 0.2 2 0.1 2 0.1 2 0.1 2 0.2 2 0.1 2 0.2 2 0.1 2 0.2 2 0.1 2 0.2 2 0.2 2 0.1 2 0.2 2 0.2 2 0.1 2 0.2 2 0.2 2 0.1 2 0.2 2 0.2 2 0.1 2 0.2 2 0.1 2 0.2 2 0.1 2 0.1 2 0.2 2 0.1 2 0.1 2 0.1 2 0.1 2 0.1 2 0.1 2 0.1 2 0.1 2 0.1 2 0 2 0.1 2 0.1 2 0 2 0.1 2 0.1 2 0 2 0.1 2 0.1 2 0 2 0.1 2 0 2 0.1 2 0 2 0.1 2 0 2 0 2 0.1 2 0 2 0 2 0.1 2 0 2 0 2 0.1 2 0 2 0 2 0 2 0 2 0 2 0 2 0 2 0 2 0 2 0 2 0 2 0 2 0 2 -0.1 2 0 2 0 2 0 2 -0.1 2 0 2 0 2 -0.1 2 0 2 -0.1 2 0 2 -0.1 2 0 2 -0.1 2 0 2 -0.1 2 0 2 -0.1 2 -0.1 2 0 2 -0.1 2 -0.1 2 0 2 -0.1 2 -0.1 2 -0.1 2 -0.1 2 0 2 -0.1 2 -0.1 2 -0.1 2 -0.1 2 -0.1 2 -0.1 2 -0.2 2 -0.1 2 -0.1 2 -0.1 2 -0.1 2 -0.2 2 -0.1 2 -0.1 2 -0.2 2 -0.1 2 -0.2 2 -0.1 2 -0.2 2 -0.2 2 -0.1 2 -0.2 2 -0.2 2 -0.1 2 -0.2 2 -0.2 2 -0.2 2 -0.2 2 -0.2 2 -0.2 2 -0.2 2 -0.2 2 -0.3 2 -0.2 2 -0.2 2 -0.2 2 -0.3 2 -0.2 2 -0.3 2 -0.2 2 -0.3 2 -0.2 2 -0.3 2 -0.3 2 -0.2 2 -0.3 2 -0.3 2 -0.3 2 -0.3 2 -0.3 2 -0.3 2 -0.3 2 -0.3 2 -0.3 2 -0.4 2 -0.3 2 -0.3 2 -0.4 2 -0.3 2 -0.4 2 -0.3 2 -0.4 2 -0.4 2 -0.3 2 -0.4 2 -0.4 2 -0.4 2 -0.4 2 -0.4 2 -0.4 2 -0.4 2 -0.4 2 -0.4 2 -0.5 2 -0.4 2 -0.4 2 -0.5 2 -0.4 2 -0.4 2 -0.5 2 -0.4 2 -0.5 2 -0.5 2 -0.4 2 -0.5 2 -0.4 2 -0.5 2 -0.5 2 -0.4 2 -0.5 2 -0.5 2 -0.4 2 -0.5 2 -0.5 2 -0.5 2 -0.4 2 -0.5 2 -0.5 2 -0.4 2 -0.5 2 -0.5 2 -0.4 2 -0.5 2 -0.5 2 -0.4 2 -0.5 2 -0.4 2 -0.5 2 -0.4 2 -0.4 2 -0.5 2 -0.4 2 -0.4 2 -0.4 2 -0.4 2 -0.4 2 -0.4 2 -0.4 2 -0.4 2 -0.3 2 -0.4 2 -0.3 2 -0.4 2 -0.3 2 -0.3 2 -0.3 2 -0.3 2 -0.3 2 -0.3 2 -0.2 2 -0.3 2 -0.2 2 -0.2 2 -0.2 2 -0.2 2 -0.2 2 -0.1 2 -0.2 2 -0.1 2 -0.1 2 -0.1 2 -0.1 2 -0.1 2 0 2 0 2 0 2 0 2 0.1 2 0.1 2 0.1 2 0.1 2 0.2 2 0.1 2 0.2 2 0.2 2 0.3 2 0.2 2 0.2 2 0.3 2 0.3 2 0.3 2 0.3 2 0.3 2 0.4 2 0.3 2 0.4 2 0.3 2 0.4 2 0.4 2 0.4 2 0.4 2 0.5 2 0.4 2 0.4 2 0.5 2 0.5 2 0.4 2 0.5 2 0.5 2 0.5 2 0.5 2 0.5 2 0.5 2 0.5 2 0.5 2 0.5 2 0.6 2 0.5 2 0.5 2 0.6 2 0.5 2 0.6 2 0.5 2 0.6 2 0.5 2 0.6 2 0.5 2 0.6 2 0.5 2 0.6 2 0.6 2 0.5 2 0.6 2 0.5 2 0.6 2 0.5 2 0.6 2 0.5 2 0.6 2 0.5 2 0.5 2 0.6 2 0.5 2 0.6 2 0.5 2 0.5 2 0.5 2 0.5 2 0.6 2 0.5 2 0.5 2 0.5 2 0.5 2 0.5 2 0.5 2 0.4 2 0.5 2 0.5 2 0.5 2 0.4 2 0.5 2 0.4 2 0.5 2 0.4 2 0.4 2 0.5 2 0.4 2 0.4 2 0.4 2 0.4 2 0.4 2 0.4 2 0.4 2 0.4 2 0.4 2 0.3 2 0.4 2 0.4 2 0.3 2 0.4 2 0.3 2 0.3 2 0.4 2 0.3 2 0.3 2 0.3 2 0.3 2 0.3 2 0.3 2 0.3 2 0.3 2 0.3 2 0.3 2 0.2 2 0.3 2 0.3 2 0.2 2 0.3 2 0.2 2 0.3 2 0.2 2 0.2 2 0.2 2 0.3 2 0.2 2 0.2 2 0.2 2 0.2 2 0.2 2 0.2 2 0.2 2 0.2 2 0.1 2 0.2 2 0.2 2 0.2 2 0.1 2 0.2 2 0.2 2 0.1 2 0.2 2 0.1 2 0.2 2 0.1 2 0.1 2 0.2 2 0.1 2 0.1 2 0.2 2 0.1 2 0.1 2 0.1 2 0.2 2 0.1 2 0.1 2 0.1 2 0.1 2 0.1 2 0.1 2 0.1 2 0.1 2 0.1 2 0.1 2 0.1 2 0.1 2 0.1 2 0.1 2 0.1 2 0.1 2 0 2 0.1 2 0.1 2 0.1 2 0.1 2 0 2 0.1 2 0.1 2 0.1 2 0 2 0.1 2 0.1 2 0 2 0.1 2 0.1 2 0 2 0.1 2 0.1 2 0 2 0.1 2 0.1 2 0 2 0.1 2 0 2 0.1 2 0 2 0.1 2 0.1 2 0 2 0.1 2 0 2 0.1 2 0 2 0.1 2 0 2 0.1 2 0 2 0.1 2 0 2 0.1 2 0 2 0.1 2 0 2 0.1 2 0 2 0.1 2 0 2 0.1 2 0 2 0.1 2 0 2 0.1" fill="none" stroke="#ff0000" stroke-width="4.6"/>
<path d="M95,883.6l2 0 2 0 2 0 2 0 2 0.1 2 0 2 0 2 0 2 0 2 0.1 2 0 2 0 2 0 2 0 2 0.1 2 0 2 0 2 0 2 0 2 0.1 2 0 2 0 2 0 2 0 2 0.1 2 0 2 0 2 0 2 0.1 2 0 2 0 2 0 2 0 2 0 2 0.1 2 0 2 0 2 0 2 0 2 0 2 0.1 2 0 2 0 2 0 2 0 2 0 2 0 2 0.1 2 0 2 0 2 0 2 0 2 0 2 0 2 0 2 0.1 2 0 2 0 2 0 2 0 2 0 2 0 2 0.1 2 0 2 0 2 0 2 0 2 0.1 2 0 2 0 2 0 2 0.1 2 0 2 0 2 0 2 0.1 2 0 2 0.1 2 0 2 0.1 2 0 2 0.1 2 0 2 0.1 2 0.1 2 0 2 0.1 2 0.1 2 0.1 2 0.1 2 0 2 0.1 2 0.2 2 0.1 2 0.1 2 0.1 2 0.1 2 0.2 2 0.1 2 0.2 2 0.1 2 0.2 2 0.1 2 0.2 2 0.1 2 0.2 2 0.2 2 0.2 2 0.1 2 0.2 2 0.2 2 0.1 2 0.2 2 0.2 2 0.1 2 0.2 2 0.2 2 0.1 2 0.1 2 0.2 2 0.1 2 0.2 2 0.1 2 0.1 2 0.1 2 0.1 2 0.1 2 0.1 2 0.1 2 0.1 2 0.1 2 0.1 2 0.1 2 0.1 2 0.1 2 0 2 0.1 2 0.1 2 0 2 0.1 2 0.1 2 0.1 2 0 2 0.1 2 0 2 0.1 2 0.1 2 0 2 0.1 2 0 2 0.1 2 0 2 0.1 2 0 2 0.1 2 0 2 0.1 2 0 2 0 2 0.1 2 0 2 0 2 0.1 2 0 2 0 2 0 2 0.1 2 0 2 0 2 0 2 0 2 0 2 0.1 2 0 2 0 2 0 2 0 2 0 2 0 2 0.1 2 0 2 0 2 0 2 0 2 0 2 0 2 0 2 0 2 0.1 2 0 2 0 2 0 2 0 2 0 2 0 2 0 2 0 2 0.1 2 0 2 0 2 0 2 0 2 0 2 0 2 0 2 0.1 2 0 2 0 2 0 2 0 2 0 2 0 2 0 2 0 2 0.1 2 0 2 0 2 0 2 0 2 0 2 0 2 0.1 2 0 2 0 2 0 2 0 2 0 2 0.1 2 0 2 0 2 0 2 0.1 2 0 2 0 2 0 2 0.1 2 0 2 0 2 0.1 2 0 2 0 2 0.1 2 0 2 0.1 2 0 2 0 2 0.1 2 0 2 0 2 0.1 2 0 2 0.1 2 0 2 0.1 2 0 2 0 2 0.1 2 0 2 0.1 2 0 2 0 2 0.1 2 0 2 0.1 2 0 2 0 2 0.1 2 0 2 0.1 2 0 2 0.1 2 0 2 0 2 0.1 2 0 2 0.1 2 0 2 0 2 0.1 2 0 2 0.1 2 0 2 0 2 0.1 2 0 2 0 2 0.1 2 0 2 0 2 0.1 2 0 2 0 2 0.1 2 0 2 0 2 0.1 2 0 2 0 2 0 2 0 2 0.1 2 0 2 0 2 0 2 0 2 0 2 0 2 0 2 0 2 -0.1 2 0 2 0 2 0 2 -0.1 2 0 2 -0.1 2 0 2 -0.1 2 -0.1 2 -0.1 2 -0.1 2 -0.1 2 -0.1 2 -0.2 2 -0.1 2 -0.2 2 -0.1 2 -0.2 2 -0.2 2 -0.3 2 -0.2 2 -0.3 2 -0.2 2 -0.3 2 -0.3 2 -0.4 2 -0.3 2 -0.4 2 -0.4 2 -0.4 2 -0.5 2 -0.4 2 -0.5 2 -0.5 2 -0.6 2 -0.6 2 -0.6 2 -0.6 2 -0.6 2 -0.7 2 -0.7 2 -0.7 2 -0.8 2 -0.8 2 -0.8 2 -0.8 2 -0.9 2 -0.9 2 -0.9 2 -0.9 2 -1 2 -1 2 -1 2 -1 2 -1 2 -1.1 2 -1.1 2 -1 2 -1.1 2 -1.1 2 -1.1 2 -1.1 2 -1.2 2 -1.1 2 -1.1 2 -1.1 2 -1.1 2 -1.1 2 -1.1 2 -1 2 -1.1 2 -1 2 -1 2 -1 2 -0.9 2 -0.9 2 -0.9 2 -0.9 2 -0.8 2 -0.8 2 -0.7 2 -0.7 2 -0.6 2 -0.6 2 -0.5 2 -0.5 2 -0.5 2 -0.3 2 -0.3 2 -0.3 2 -0.2 2 -0.2 2 0 2 -0.1 2 0.1 2 0.1 2 0.1 2 0.3 2 0.2 2 0.4 2 0.4 2 0.4 2 0.5 2 0.6 2 0.6 2 0.7 2 0.7 2 0.8 2 0.8 2 0.8 2 0.9 2 0.9 2 1 2 1 2 1 2 1.1 2 1.1 2 1.1 2 1.1 2 1.2 2 1.1 2 1.2 2 1.2 2 1.2 2 1.2 2 1.2 2 1.2 2 1.2 2 1.2 2 1.1 2 1.2 2 1.2 2 1.1 2 1.2 2 1.1 2 1.1 2 1.1 2 1 2 1.1 2 1 2 1 2 1 2 0.9 2 1 2 0.9 2 0.8 2 0.9 2 0.8 2 0.8 2 0.8 2 0.7 2 0.7 2 0.7 2 0.6 2 0.7 2 0.6 2 0.6 2 0.5 2 0.5 2 0.6 2 0.4 2 0.5 2 0.4 2 0.5 2 0.4 2 0.3 2 0.4 2 0.3 2 0.4 2 0.3 2 0.3 2 0.2 2 0.3 2 0.2 2 0.3 2 0.2 2 0.2 2 0.2 2 0.2 2 0.1 2 0.2 2 0.2 2 0.1 2 0.2 2 0.1 2 0.1 2 0.1 2 0.2 2 0.1 2 0.1 2 0.1 2 0 2 0.1 2 0.1 2 0.1 2 0.1 2 0.1 2 0 2 0.1 2 0.1 2 0 2 0.1 2 0 2 0.1 2 0.1 2 0 2 0.1 2 0 2 0.1 2 0 2 0.1 2 0 2 0.1 2 0 2 0.1 2 0 2 0.1 2 0 2 0 2 0.1 2 0 2 0.1 2 0 2 0.1 2 0 2 0.1 2 0 2 0 2 0.1 2 0 2 0.1 2 0 2 0.1 2 0 2 0 2 0.1 2 0 2 0.1 2 0 2 0 2 0.1 2 0 2 0.1 2 0 2 0.1 2 0 2 0 2 0.1 2 0 2 0.1 2 0 2 0.1 2 0 2 0 2 0.1 2 0 2 0.1 L1229,908.3 1223,908.1 1217,908 1211,907.9 1205,907.8 1199,907.6 1193,907.5 1187,907.4 1181,907.3 1175,907.1 1169,907 1163,906.9 1157,906.8 1151,906.6 1145,906.5 1139,906.4 1133,906.2 1127,906.1 1121,906 1115,905.9 1109,905.7 1103,905.6 1097,905.5 1091,905.4 1085,905.2 1079,905.1 1073,905 1067,904.9 1061,904.7 1055,904.6 1049,904.5 1043,904.4 1037,904.2 1031,904.1 1025,904 1019,903.9 1013,903.7 1007,903.6 1001,903.5 995,903.4 989,903.2 983,903.1 977,903 971,902.9 965,902.7 959,902.6 953,902.5 947,902.4 941,902.2 935,902.1 929,902 923,901.9 917,901.7 911,901.6 905,901.5 899,901.3 893,901.2 887,901.1 881,901 875,900.8 869,900.7 863,900.6 857,900.5 851,900.3 845,900.2 839,900.1 833,900 827,899.8 821,899.7 815,899.6 809,899.5 803,899.3 797,899.2 791,899.1 785,899 779,898.8 773,898.7 767,898.6 761,898.5 755,898.3 749,898.2 743,898.1 737,898 731,897.8 725,897.7 719,897.6 713,897.5 707,897.3 701,897.2 695,897.1 689,897 683,896.8 677,896.7 671,896.6 665,896.4 659,896.3 653,896.2 647,896.1 641,895.9 635,895.8 629,895.7 623,895.6 617,895.4 611,895.3 605,895.2 599,895.1 593,894.9 587,894.8 581,894.7 575,894.6 569,894.5 563,894.4 557,894.3 551,894.3 545,894.2 539,894.2 533,894.1 527,894.1 521,894 515,894 509,894 503,893.9 497,893.9 491,893.9 485,893.8 479,893.8 473,893.8 467,893.7 461,893.7 455,893.7 449,893.6 443,893.6 437,893.5 431,893.5 425,893.4 419,893.3 413,893.2 407,893.1 401,893 395,892.8 389,892.7 383,892.5 377,892.3 371,892.1 365,891.9 359,891.6 353,891.3 347,891 341,890.7 335,890.3 329,889.9 323,889.4 317,888.9 311,888.4 305,887.8 299,887.4 293,886.9 287,886.5 281,886.2 275,885.9 269,885.6 263,885.4 257,885.2 251,885.1 245,884.9 239,884.9 233,884.8 227,884.7 221,884.7 215,884.6 209,884.6 203,884.5 197,884.5 191,884.5 185,884.4 179,884.4 173,884.3 167,884.3 161,884.2 155,884.2 149,884.1 143,884 137,884 131,883.9 125,883.9 119,883.8 113,883.7 107,883.7 101,883.6 95,883.6Z" fill="url(#gb)"/>
<path d="M95,883.6l2 0 2 0 2 0 2 0 2 0.1 2 0 2 0 2 0 2 0 2 0.1 2 0 2 0 2 0 2 0 2 0.1 2 0 2 0 2 0 2 0 2 0.1 2 0 2 0 2 0 2 0 2 0.1 2 0 2 0 2 0 2 0.1 2 0 2 0 2 0 2 0 2 0 2 0.1 2 0 2 0 2 0 2 0 2 0 2 0.1 2 0 2 0 2 0 2 0 2 0 2 0 2 0.1 2 0 2 0 2 0 2 0 2 0 2 0 2 0 2 0.1 2 0 2 0 2 0 2 0 2 0 2 0 2 0.1 2 0 2 0 2 0 2 0 2 0.1 2 0 2 0 2 0 2 0.1 2 0 2 0 2 0 2 0.1 2 0 2 0.1 2 0 2 0.1 2 0 2 0.1 2 0 2 0.1 2 0.1 2 0 2 0.1 2 0.1 2 0.1 2 0.1 2 0 2 0.1 2 0.2 2 0.1 2 0.1 2 0.1 2 0.1 2 0.2 2 0.1 2 0.2 2 0.1 2 0.2 2 0.1 2 0.2 2 0.1 2 0.2 2 0.2 2 0.2 2 0.1 2 0.2 2 0.2 2 0.1 2 0.2 2 0.2 2 0.1 2 0.2 2 0.2 2 0.1 2 0.1 2 0.2 2 0.1 2 0.2 2 0.1 2 0.1 2 0.1 2 0.1 2 0.1 2 0.1 2 0.1 2 0.1 2 0.1 2 0.1 2 0.1 2 0.1 2 0.1 2 0 2 0.1 2 0.1 2 0 2 0.1 2 0.1 2 0.1 2 0 2 0.1 2 0 2 0.1 2 0.1 2 0 2 0.1 2 0 2 0.1 2 0 2 0.1 2 0 2 0.1 2 0 2 0.1 2 0 2 0 2 0.1 2 0 2 0 2 0.1 2 0 2 0 2 0 2 0.1 2 0 2 0 2 0 2 0 2 0 2 0.1 2 0 2 0 2 0 2 0 2 0 2 0 2 0.1 2 0 2 0 2 0 2 0 2 0 2 0 2 0 2 0 2 0.1 2 0 2 0 2 0 2 0 2 0 2 0 2 0 2 0 2 0.1 2 0 2 0 2 0 2 0 2 0 2 0 2 0 2 0.1 2 0 2 0 2 0 2 0 2 0 2 0 2 0 2 0 2 0.1 2 0 2 0 2 0 2 0 2 0 2 0 2 0.1 2 0 2 0 2 0 2 0 2 0 2 0.1 2 0 2 0 2 0 2 0.1 2 0 2 0 2 0 2 0.1 2 0 2 0 2 0.1 2 0 2 0 2 0.1 2 0 2 0.1 2 0 2 0 2 0.1 2 0 2 0 2 0.1 2 0 2 0.1 2 0 2 0.1 2 0 2 0 2 0.1 2 0 2 0.1 2 0 2 0 2 0.1 2 0 2 0.1 2 0 2 0 2 0.1 2 0 2 0.1 2 0 2 0.1 2 0 2 0 2 0.1 2 0 2 0.1 2 0 2 0 2 0.1 2 0 2 0.1 2 0 2 0 2 0.1 2 0 2 0 2 0.1 2 0 2 0 2 0.1 2 0 2 0 2 0.1 2 0 2 0 2 0.1 2 0 2 0 2 0 2 0 2 0.1 2 0 2 0 2 0 2 0 2 0 2 0 2 0 2 0 2 -0.1 2 0 2 0 2 0 2 -0.1 2 0 2 -0.1 2 0 2 -0.1 2 -0.1 2 -0.1 2 -0.1 2 -0.1 2 -0.1 2 -0.2 2 -0.1 2 -0.2 2 -0.1 2 -0.2 2 -0.2 2 -0.3 2 -0.2 2 -0.3 2 -0.2 2 -0.3 2 -0.3 2 -0.4 2 -0.3 2 -0.4 2 -0.4 2 -0.4 2 -0.5 2 -0.4 2 -0.5 2 -0.5 2 -0.6 2 -0.6 2 -0.6 2 -0.6 2 -0.6 2 -0.7 2 -0.7 2 -0.7 2 -0.8 2 -0.8 2 -0.8 2 -0.8 2 -0.9 2 -0.9 2 -0.9 2 -0.9 2 -1 2 -1 2 -1 2 -1 2 -1 2 -1.1 2 -1.1 2 -1 2 -1.1 2 -1.1 2 -1.1 2 -1.1 2 -1.2 2 -1.1 2 -1.1 2 -1.1 2 -1.1 2 -1.1 2 -1.1 2 -1 2 -1.1 2 -1 2 -1 2 -1 2 -0.9 2 -0.9 2 -0.9 2 -0.9 2 -0.8 2 -0.8 2 -0.7 2 -0.7 2 -0.6 2 -0.6 2 -0.5 2 -0.5 2 -0.5 2 -0.3 2 -0.3 2 -0.3 2 -0.2 2 -0.2 2 0 2 -0.1 2 0.1 2 0.1 2 0.1 2 0.3 2 0.2 2 0.4 2 0.4 2 0.4 2 0.5 2 0.6 2 0.6 2 0.7 2 0.7 2 0.8 2 0.8 2 0.8 2 0.9 2 0.9 2 1 2 1 2 1 2 1.1 2 1.1 2 1.1 2 1.1 2 1.2 2 1.1 2 1.2 2 1.2 2 1.2 2 1.2 2 1.2 2 1.2 2 1.2 2 1.2 2 1.1 2 1.2 2 1.2 2 1.1 2 1.2 2 1.1 2 1.1 2 1.1 2 1 2 1.1 2 1 2 1 2 1 2 0.9 2 1 2 0.9 2 0.8 2 0.9 2 0.8 2 0.8 2 0.8 2 0.7 2 0.7 2 0.7 2 0.6 2 0.7 2 0.6 2 0.6 2 0.5 2 0.5 2 0.6 2 0.4 2 0.5 2 0.4 2 0.5 2 0.4 2 0.3 2 0.4 2 0.3 2 0.4 2 0.3 2 0.3 2 0.2 2 0.3 2 0.2 2 0.3 2 0.2 2 0.2 2 0.2 2 0.2 2 0.1 2 0.2 2 0.2 2 0.1 2 0.2 2 0.1 2 0.1 2 0.1 2 0.2 2 0.1 2 0.1 2 0.1 2 0 2 0.1 2 0.1 2 0.1 2 0.1 2 0.1 2 0 2 0.1 2 0.1 2 0 2 0.1 2 0 2 0.1 2 0.1 2 0 2 0.1 2 0 2 0.1 2 0 2 0.1 2 0 2 0.1 2 0 2 0.1 2 0 2 0.1 2 0 2 0 2 0.1 2 0 2 0.1 2 0 2 0.1 2 0 2 0.1 2 0 2 0 2 0.1 2 0 2 0.1 2 0 2 0.1 2 0 2 0 2 0.1 2 0 2 0.1 2 0 2 0 2 0.1 2 0 2 0.1 2 0 2 0.1 2 0 2 0 2 0.1 2 0 2 0.1 2 0 2 0.1 2 0 2 0 2 0.1 2 0 2 0.1" fill="none" stroke="#0000ff" stroke-width="4.6"/>
<path d="M95,883.5l2 0 2 0 2 0.1 2 0 2 0 2 0 2 0.1 2 0 2 0 2 0 2 0.1 2 0 2 0 2 0 2 0 2 0.1 2 0 2 0 2 0 2 0.1 2 0 2 0 2 0 2 0.1 2 0 2 0 2 0 2 0 2 0.1 2 0 2 0 2 0 2 0.1 2 0 2 0 2 0 2 0 2 0 2 0.1 2 0 2 0 2 0 2 0 2 0 2 0 2 0 2 0 2 0.1 2 0 2 0 2 0 2 0 2 0 2 0 2 0 2 0.1 2 0 2 0 2 0 2 0 2 0 2 0 2 0 2 0 2 0.1 2 0 2 0 2 0 2 0 2 0 2 0 2 0 2 0.1 2 0 2 0 2 0 2 0 2 0.1 2 0 2 0.1 2 0.1 2 0 2 0.1 2 0 2 0.1 2 0.1 2 0 2 0.1 2 0 2 0.1 2 0 2 0.1 2 0.1 2 0 2 0.1 2 0 2 0.2 2 0.2 2 0.2 2 0.2 2 0.2 2 0.2 2 0.2 2 0.2 2 0.2 2 0.2 2 0.2 2 0.2 2 0.2 2 0.2 2 0.2 2 0.2 2 0.2 2 0.2 2 0.2 2 0.2 2 0.2 2 0.2 2 0.2 2 0.2 2 0.1 2 0.1 2 0.1 2 0.1 2 0 2 0.1 2 0 2 0.1 2 0.1 2 0 2 0.1 2 0 2 0.1 2 0 2 0.1 2 0.1 2 0 2 0.1 2 0 2 0.1 2 0 2 0.1 2 0 2 0.1 2 0 2 0.1 2 0 2 0.1 2 0 2 0.1 2 0 2 0.1 2 0 2 0.1 2 0 2 0.1 2 0 2 0 2 0 2 0 2 0 2 -0.1 2 0 2 0 2 0 2 -0.1 2 0 2 0 2 0 2 -0.1 2 0 2 0 2 -0.1 2 0 2 0 2 -0.1 2 0 2 -0.1 2 0 2 -0.1 2 0 2 -0.1 2 0 2 -0.1 2 0 2 -0.1 2 0 2 -0.1 2 -0.1 2 -0.1 2 0 2 -0.1 2 -0.1 2 -0.1 2 -0.1 2 0 2 -0.1 2 -0.1 2 -0.1 2 -0.1 2 -0.1 2 -0.1 2 -0.2 2 -0.1 2 -0.1 2 -0.1 2 -0.1 2 -0.2 2 -0.1 2 -0.1 2 -0.2 2 -0.1 2 -0.2 2 -0.1 2 -0.2 2 -0.2 2 -0.1 2 -0.2 2 -0.2 2 -0.2 2 -0.2 2 -0.1 2 -0.2 2 -0.2 2 -0.3 2 -0.2 2 -0.2 2 -0.2 2 -0.2 2 -0.3 2 -0.2 2 -0.3 2 -0.2 2 -0.2 2 -0.3 2 -0.2 2 -0.2 2 -0.3 2 -0.2 2 -0.3 2 -0.3 2 -0.2 2 -0.3 2 -0.3 2 -0.3 2 -0.3 2 -0.3 2 -0.3 2 -0.3 2 -0.3 2 -0.4 2 -0.3 2 -0.3 2 -0.4 2 -0.3 2 -0.4 2 -0.3 2 -0.4 2 -0.4 2 -0.3 2 -0.4 2 -0.4 2 -0.4 2 -0.4 2 -0.4 2 -0.4 2 -0.4 2 -0.4 2 -0.5 2 -0.4 2 -0.4 2 -0.4 2 -0.5 2 -0.4 2 -0.5 2 -0.4 2 -0.5 2 -0.4 2 -0.5 2 -0.4 2 -0.5 2 -0.5 2 -0.4 2 -0.5 2 -0.5 2 -0.5 2 -0.4 2 -0.5 2 -0.5 2 -0.5 2 -0.5 2 -0.4 2 -0.5 2 -0.5 2 -0.5 2 -0.5 2 -0.4 2 -0.5 2 -0.5 2 -0.5 2 -0.5 2 -0.5 2 -0.4 2 -0.5 2 -0.5 2 -0.5 2 -0.4 2 -0.5 2 -0.5 2 -0.5 2 -0.4 2 -0.5 2 -0.5 2 -0.4 2 -0.5 2 -0.4 2 -0.5 2 -0.5 2 -0.4 2 -0.5 2 -0.4 2 -0.5 2 -0.5 2 -0.4 2 -0.5 2 -0.4 2 -0.5 2 -0.5 2 -0.4 2 -0.5 2 -0.5 2 -0.5 2 -0.4 2 -0.5 2 -0.5 2 -0.5 2 -0.5 2 -0.5 2 -0.5 2 -0.5 2 -0.5 2 -0.5 2 -0.5 2 -0.5 2 -0.5 2 -0.5 2 -0.5 2 -0.5 2 -0.5 2 -0.5 2 -0.6 2 -0.5 2 -0.6 2 -0.6 2 -0.6 2 -0.6 2 -0.6 2 -0.6 2 -0.6 2 -0.7 2 -0.6 2 -0.7 2 -0.7 2 -0.6 2 -0.7 2 -0.7 2 -0.7 2 -0.7 2 -0.7 2 -0.7 2 -0.7 2 -0.7 2 -0.7 2 -0.6 2 -0.7 2 -0.7 2 -0.6 2 -0.6 2 -0.7 2 -0.5 2 -0.6 2 -0.6 2 -0.5 2 -0.5 2 -0.4 2 -0.4 2 -0.4 2 -0.4 2 -0.3 2 -0.2 2 -0.3 2 -0.1 2 -0.2 2 0 2 -0.1 2 0.1 2 0.1 2 0.1 2 0.2 2 0.2 2 0.3 2 0.4 2 0.4 2 0.5 2 0.6 2 0.6 2 0.6 2 0.7 2 0.8 2 0.8 2 0.9 2 1 2 1 2 1 2 1.1 2 1.1 2 1.2 2 1.2 2 1.3 2 1.3 2 1.3 2 1.4 2 1.4 2 1.4 2 1.5 2 1.5 2 1.5 2 1.5 2 1.5 2 1.6 2 1.5 2 1.6 2 1.5 2 1.6 2 1.6 2 1.5 2 1.6 2 1.5 2 1.6 2 1.5 2 1.5 2 1.5 2 1.5 2 1.4 2 1.5 2 1.4 2 1.4 2 1.3 2 1.4 2 1.3 2 1.2 2 1.3 2 1.2 2 1.2 2 1.1 2 1.2 2 1 2 1.1 2 1 2 1 2 1 2 0.9 2 0.9 2 0.9 2 0.8 2 0.8 2 0.8 2 0.7 2 0.7 2 0.7 2 0.7 2 0.6 2 0.6 2 0.6 2 0.5 2 0.6 2 0.5 2 0.5 2 0.4 2 0.5 2 0.4 2 0.4 2 0.4 2 0.3 2 0.4 2 0.3 2 0.3 2 0.4 2 0.2 2 0.3 2 0.3 2 0.2 2 0.3 2 0.2 2 0.2 2 0.2 2 0.2 2 0.2 2 0.2 2 0.2 2 0.2 2 0.1 2 0.2 2 0.1 2 0.2 2 0.1 2 0.1 2 0.2 2 0.1 2 0.1 2 0.1 2 0.1 2 0.1 2 0.1 2 0.1 2 0.1 2 0.1 2 0.1 2 0.1 2 0.1 2 0.1 2 0.1 2 0 2 0.1 2 0.1 2 0.1 2 0 2 0.1 2 0.1 2 0.1 2 0 2 0.1 2 0.1 2 0 2 0.1 2 0 2 0.1 2 0.1 2 0 2 0.1 2 0 2 0.1 2 0.1 2 0 2 0.1 2 0 2 0.1 2 0 2 0.1 2 0 2 0.1 2 0 2 0.1 2 0 2 0.1 2 0 2 0.1 2 0 2 0.1 2 0 2 0.1 2 0 2 0.1 2 0 2 0.1 2 0 2 0.1" fill="none" stroke="#bebebe" stroke-width="4"/>
<path d="M95,883.5 164,884.3 248,884.8 288,886 337.5,891 410,893.4 560,894.2 720,897.6 900,901.4 1229,908.3" fill="none" stroke="#808080" stroke-width="4" stroke-linejoin="round"/>
</g>
<line x1="108" y1="49.0" x2="215" y2="49.0" stroke="#555555" stroke-width="4.5" stroke-linecap="round"/><text x="226" y="64.5">S1</text><line x1="108" y1="107.7" x2="215" y2="107.7" stroke="#ffff00" stroke-width="4.5" stroke-linecap="round"/><text x="226" y="123.2">S2</text><line x1="108" y1="166.3" x2="215" y2="166.3" stroke="#00ff00" stroke-width="4.5" stroke-linecap="round"/><text x="226" y="181.8">S3</text><line x1="108" y1="224.9" x2="215" y2="224.9" stroke="#00ffff" stroke-width="4.5" stroke-linecap="round"/><text x="226" y="240.4">S4</text><line x1="108" y1="283.6" x2="215" y2="283.6" stroke="#ff00ff" stroke-width="4.5" stroke-linecap="round"/><text x="226" y="299.1">S5</text>
<text x="306" y="287.8">I<tspan class="sub" dy="13.4">D</tspan><tspan dy="-13.4">/I</tspan><tspan class="sub" dy="13.4">G</tspan><tspan dy="-13.4">=0.69±0.03</tspan></text><text x="306" y="419.1">I<tspan class="sub" dy="13.4">D</tspan><tspan dy="-13.4">/I</tspan><tspan class="sub" dy="13.4">G</tspan><tspan dy="-13.4">=0.99±0.07</tspan></text><text x="306" y="541.7">I<tspan class="sub" dy="13.4">D</tspan><tspan dy="-13.4">/I</tspan><tspan class="sub" dy="13.4">G</tspan><tspan dy="-13.4">=0.92±0.06</tspan></text><text x="306" y="700.2">I<tspan class="sub" dy="13.4">D</tspan><tspan dy="-13.4">/I</tspan><tspan class="sub" dy="13.4">G</tspan><tspan dy="-13.4">=0.64±0.02</tspan></text><text x="306" y="819.2">I<tspan class="sub" dy="13.4">D</tspan><tspan dy="-13.4">/I</tspan><tspan class="sub" dy="13.4">G</tspan><tspan dy="-13.4">=0.86±0.03</tspan></text>
<text x="565" y="184.5">D peak</text>
<text x="997" y="168.9">G peak</text>
<line x1="626.4" y1="196.1" x2="702" y2="297" stroke="#000" stroke-width="4"/>
<polygon points="713.4,312.4 690.7,292.8 706.9,285.5" fill="#000"/>
<line x1="1047.4" y1="182.3" x2="944" y2="266" stroke="#000" stroke-width="4"/>
<polygon points="927.1,279.6 940.6,256.4 955.1,269" fill="#000"/>
<g fill="#000"><rect x="183.6" y="931" width="6" height="6"/><rect x="278.7" y="922" width="6" height="15"/><rect x="373.8" y="931" width="6" height="6"/><rect x="468.8" y="922" width="6" height="15"/><rect x="563.9" y="931" width="6" height="6"/><rect x="658.9" y="922" width="6" height="15"/><rect x="754.0" y="931" width="6" height="6"/><rect x="849.0" y="922" width="6" height="15"/><rect x="944.0" y="931" width="6" height="6"/><rect x="1039.1" y="922" width="6" height="15"/><rect x="1134.1" y="931" width="6" height="6"/></g>
<rect x="92" y="21" width="1140" height="919" fill="none" stroke="#000" stroke-width="6"/>
<text x="91.6" y="997" text-anchor="middle">500</text><text x="281.7" y="997" text-anchor="middle">750</text><text x="471.8" y="997" text-anchor="middle">1000</text><text x="661.9" y="997" text-anchor="middle">1250</text><text x="852.0" y="997" text-anchor="middle">1500</text><text x="1042.1" y="997" text-anchor="middle">1750</text><text x="1232.2" y="997" text-anchor="middle">2000</text>
<text x="477" y="1080.5" class="b">Raman shift(cm<tspan font-size="30" dy="-20">-1</tspan><tspan dy="20">)</tspan></text>
<text transform="translate(52.5,624.5) rotate(-90)" class="b">Intensity(a.u.)</text>
</svg>
</body></html>
